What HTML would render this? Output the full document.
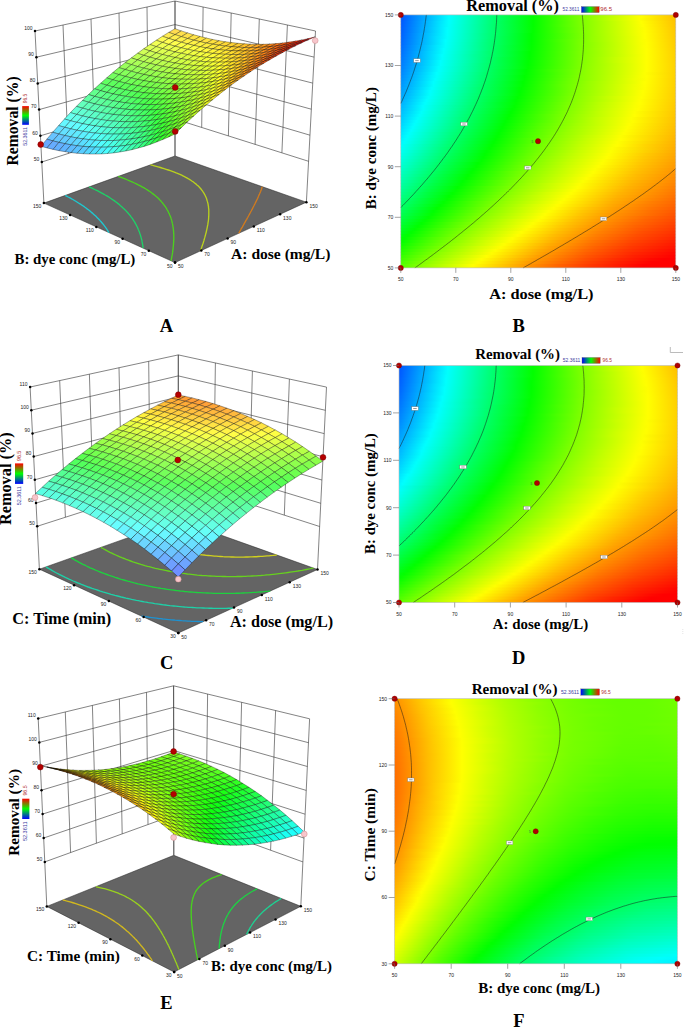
<!DOCTYPE html>
<html><head><meta charset="utf-8"><style>html,body{margin:0;padding:0;background:#fff;width:685px;height:1027px;overflow:hidden}svg{display:block}</style></head>
<body><svg width="685" height="1027" viewBox="0 0 685 1027"><defs><linearGradient id="g1"><stop offset="0" stop-color="#0055ff"/><stop offset=".175" stop-color="#00ffff"/><stop offset=".35" stop-color="#00ff65"/><stop offset=".481" stop-color="#02ff00"/><stop offset=".638" stop-color="#72ff00"/><stop offset=".863" stop-color="#faff00"/><stop offset=".875" stop-color="#fffe00"/><stop offset="1" stop-color="#ffbf00"/></linearGradient><linearGradient id="g2"><stop offset="0" stop-color="#0056ff"/><stop offset=".175" stop-color="#00fffe"/><stop offset=".338" stop-color="#00ff6f"/><stop offset=".481" stop-color="#02ff00"/><stop offset=".625" stop-color="#69ff00"/><stop offset=".763" stop-color="#c0ff00"/><stop offset=".869" stop-color="#fcff00"/><stop offset="1" stop-color="#ffc100"/></linearGradient><linearGradient id="g3"><stop offset="0" stop-color="#0058ff"/><stop offset=".138" stop-color="#00dfff"/><stop offset=".175" stop-color="#00fffd"/><stop offset=".356" stop-color="#00ff5f"/><stop offset=".481" stop-color="#02ff00"/><stop offset=".656" stop-color="#7dff00"/><stop offset=".875" stop-color="#feff00"/><stop offset="1" stop-color="#ffc300"/></linearGradient><linearGradient id="g4"><stop offset="0" stop-color="#005aff"/><stop offset=".15" stop-color="#00ecff"/><stop offset=".175" stop-color="#00fffb"/><stop offset=".331" stop-color="#00ff73"/><stop offset=".481" stop-color="#02ff00"/><stop offset=".594" stop-color="#53ff00"/><stop offset=".688" stop-color="#90ff00"/><stop offset=".863" stop-color="#f6ff00"/><stop offset=".881" stop-color="#fffe00"/><stop offset="1" stop-color="#ffc400"/></linearGradient><linearGradient id="g5"><stop offset="0" stop-color="#005cff"/><stop offset=".125" stop-color="#00d6ff"/><stop offset=".169" stop-color="#00feff"/><stop offset=".175" stop-color="#00fffa"/><stop offset=".338" stop-color="#00ff6d"/><stop offset=".481" stop-color="#03ff00"/><stop offset=".688" stop-color="#90ff00"/><stop offset=".863" stop-color="#f5ff00"/><stop offset=".888" stop-color="#fffc00"/><stop offset="1" stop-color="#ffc600"/></linearGradient><linearGradient id="g6"><stop offset="0" stop-color="#005eff"/><stop offset=".169" stop-color="#00fffe"/><stop offset=".35" stop-color="#00ff62"/><stop offset=".481" stop-color="#03ff00"/><stop offset=".6" stop-color="#57ff00"/><stop offset=".713" stop-color="#9fff00"/><stop offset=".863" stop-color="#f4ff00"/><stop offset=".888" stop-color="#fffe00"/><stop offset="1" stop-color="#ffc800"/></linearGradient><linearGradient id="g7"><stop offset="0" stop-color="#0060ff"/><stop offset=".094" stop-color="#00bcff"/><stop offset=".169" stop-color="#00fffd"/><stop offset=".306" stop-color="#00ff85"/><stop offset=".475" stop-color="#00ff01"/><stop offset=".7" stop-color="#97ff00"/><stop offset=".863" stop-color="#f3ff00"/><stop offset=".888" stop-color="#ffff00"/><stop offset="1" stop-color="#ffc900"/></linearGradient><linearGradient id="g8"><stop offset="0" stop-color="#0062ff"/><stop offset=".131" stop-color="#00e1ff"/><stop offset=".169" stop-color="#00fffb"/><stop offset=".356" stop-color="#00ff5b"/><stop offset=".475" stop-color="#00ff01"/><stop offset=".694" stop-color="#93ff00"/><stop offset=".888" stop-color="#ffff00"/><stop offset="1" stop-color="#ffca00"/></linearGradient><linearGradient id="g9"><stop offset="0" stop-color="#0065ff"/><stop offset=".163" stop-color="#00ffff"/><stop offset=".331" stop-color="#00ff6e"/><stop offset=".475" stop-color="#00ff00"/><stop offset=".581" stop-color="#4bff00"/><stop offset=".694" stop-color="#93ff00"/><stop offset=".875" stop-color="#f8ff00"/><stop offset=".894" stop-color="#fffd00"/><stop offset="1" stop-color="#ffcb00"/></linearGradient><linearGradient id="g10"><stop offset="0" stop-color="#0067ff"/><stop offset=".163" stop-color="#00fffd"/><stop offset=".306" stop-color="#00ff81"/><stop offset=".475" stop-color="#01ff00"/><stop offset=".65" stop-color="#78ff00"/><stop offset=".863" stop-color="#f1ff00"/><stop offset=".894" stop-color="#fffe00"/><stop offset="1" stop-color="#ffcc00"/></linearGradient><linearGradient id="g11"><stop offset="0" stop-color="#006aff"/><stop offset=".131" stop-color="#00e7ff"/><stop offset=".163" stop-color="#00fffb"/><stop offset=".288" stop-color="#00ff8f"/><stop offset=".388" stop-color="#00ff3f"/><stop offset=".475" stop-color="#02ff00"/><stop offset=".663" stop-color="#80ff00"/><stop offset=".881" stop-color="#faff00"/><stop offset=".894" stop-color="#fffe00"/><stop offset="1" stop-color="#ffcd00"/></linearGradient><linearGradient id="g12"><stop offset="0" stop-color="#006dff"/><stop offset=".156" stop-color="#00fffe"/><stop offset=".363" stop-color="#00ff51"/><stop offset=".475" stop-color="#03ff00"/><stop offset=".675" stop-color="#88ff00"/><stop offset=".863" stop-color="#f0ff00"/><stop offset=".894" stop-color="#ffff00"/><stop offset="1" stop-color="#ffce00"/></linearGradient><linearGradient id="g13"><stop offset="0" stop-color="#006fff"/><stop offset=".1" stop-color="#00cfff"/><stop offset=".156" stop-color="#00fffc"/><stop offset=".319" stop-color="#00ff72"/><stop offset=".469" stop-color="#00ff00"/><stop offset=".656" stop-color="#7dff00"/><stop offset=".863" stop-color="#f0ff00"/><stop offset=".894" stop-color="#ffff00"/><stop offset="1" stop-color="#ffcf00"/></linearGradient><linearGradient id="g14"><stop offset="0" stop-color="#0072ff"/><stop offset=".15" stop-color="#00ffff"/><stop offset=".269" stop-color="#00ff99"/><stop offset=".469" stop-color="#01ff00"/><stop offset=".675" stop-color="#89ff00"/><stop offset=".894" stop-color="#ffff00"/><stop offset="1" stop-color="#ffd000"/></linearGradient><linearGradient id="g15"><stop offset="0" stop-color="#0075ff"/><stop offset=".15" stop-color="#00fffd"/><stop offset=".356" stop-color="#00ff51"/><stop offset=".469" stop-color="#02ff00"/><stop offset=".669" stop-color="#86ff00"/><stop offset=".781" stop-color="#c6ff00"/><stop offset=".894" stop-color="#ffff00"/><stop offset="1" stop-color="#ffd000"/></linearGradient><linearGradient id="g16"><stop offset="0" stop-color="#0079ff"/><stop offset=".144" stop-color="#00feff"/><stop offset=".356" stop-color="#00ff4f"/><stop offset=".463" stop-color="#00ff01"/><stop offset=".663" stop-color="#83ff00"/><stop offset=".775" stop-color="#c3ff00"/><stop offset=".894" stop-color="#ffff00"/><stop offset="1" stop-color="#ffd000"/></linearGradient><linearGradient id="g17"><stop offset="0" stop-color="#007cff"/><stop offset=".144" stop-color="#00fffd"/><stop offset=".3" stop-color="#00ff79"/><stop offset=".463" stop-color="#01ff00"/><stop offset=".681" stop-color="#8fff00"/><stop offset=".894" stop-color="#ffff00"/><stop offset="1" stop-color="#ffd100"/></linearGradient><linearGradient id="g18"><stop offset="0" stop-color="#007fff"/><stop offset=".138" stop-color="#00feff"/><stop offset=".325" stop-color="#00ff63"/><stop offset=".463" stop-color="#03ff00"/><stop offset=".681" stop-color="#90ff00"/><stop offset=".894" stop-color="#ffff00"/><stop offset="1" stop-color="#ffd100"/></linearGradient><linearGradient id="g19"><stop offset="0" stop-color="#0083ff"/><stop offset=".138" stop-color="#00fffd"/><stop offset=".338" stop-color="#00ff57"/><stop offset=".456" stop-color="#00ff00"/><stop offset=".537" stop-color="#38ff00"/><stop offset=".681" stop-color="#91ff00"/><stop offset=".894" stop-color="#ffff00"/><stop offset="1" stop-color="#ffd100"/></linearGradient><linearGradient id="g20"><stop offset="0" stop-color="#0086ff"/><stop offset=".131" stop-color="#00ffff"/><stop offset=".312" stop-color="#00ff68"/><stop offset=".456" stop-color="#02ff00"/><stop offset=".669" stop-color="#8bff00"/><stop offset=".888" stop-color="#fdff00"/><stop offset="1" stop-color="#ffd100"/></linearGradient><linearGradient id="g21"><stop offset="0" stop-color="#008aff"/><stop offset=".113" stop-color="#00f2ff"/><stop offset=".131" stop-color="#00fffc"/><stop offset=".294" stop-color="#00ff74"/><stop offset=".45" stop-color="#00ff00"/><stop offset=".656" stop-color="#85ff00"/><stop offset=".875" stop-color="#f8ff00"/><stop offset=".894" stop-color="#fffe00"/><stop offset="1" stop-color="#ffd100"/></linearGradient><linearGradient id="g22"><stop offset="0" stop-color="#008eff"/><stop offset=".125" stop-color="#00fffe"/><stop offset=".325" stop-color="#00ff59"/><stop offset=".45" stop-color="#02ff00"/><stop offset=".625" stop-color="#74ff00"/><stop offset=".85" stop-color="#edff00"/><stop offset=".894" stop-color="#fffd00"/><stop offset="1" stop-color="#ffd000"/></linearGradient><linearGradient id="g23"><stop offset="0" stop-color="#0092ff"/><stop offset=".119" stop-color="#00feff"/><stop offset=".319" stop-color="#00ff5b"/><stop offset=".444" stop-color="#00ff00"/><stop offset=".588" stop-color="#5fff00"/><stop offset=".688" stop-color="#9aff00"/><stop offset=".888" stop-color="#ffff00"/><stop offset="1" stop-color="#ffd000"/></linearGradient><linearGradient id="g24"><stop offset="0" stop-color="#0096ff"/><stop offset=".119" stop-color="#00fffc"/><stop offset=".312" stop-color="#00ff5d"/><stop offset=".444" stop-color="#02ff00"/><stop offset=".581" stop-color="#5dff00"/><stop offset=".669" stop-color="#91ff00"/><stop offset=".844" stop-color="#ecff00"/><stop offset=".888" stop-color="#fffe00"/><stop offset="1" stop-color="#ffd000"/></linearGradient><linearGradient id="g25"><stop offset="0" stop-color="#009aff"/><stop offset=".113" stop-color="#00fffe"/><stop offset=".281" stop-color="#00ff72"/><stop offset=".438" stop-color="#01ff00"/><stop offset=".65" stop-color="#88ff00"/><stop offset=".85" stop-color="#f0ff00"/><stop offset=".888" stop-color="#fffd00"/><stop offset="1" stop-color="#ffcf00"/></linearGradient><linearGradient id="g26"><stop offset="0" stop-color="#009eff"/><stop offset=".106" stop-color="#00feff"/><stop offset=".288" stop-color="#00ff6a"/><stop offset=".431" stop-color="#00ff01"/><stop offset=".65" stop-color="#8aff00"/><stop offset=".863" stop-color="#f7ff00"/><stop offset=".881" stop-color="#ffff00"/><stop offset="1" stop-color="#ffce00"/></linearGradient><linearGradient id="g27"><stop offset="0" stop-color="#00a3ff"/><stop offset=".106" stop-color="#00fffc"/><stop offset=".263" stop-color="#00ff7a"/><stop offset=".431" stop-color="#02ff00"/><stop offset=".65" stop-color="#8cff00"/><stop offset=".869" stop-color="#fbff00"/><stop offset=".881" stop-color="#fffe00"/><stop offset="1" stop-color="#ffcd00"/></linearGradient><linearGradient id="g28"><stop offset="0" stop-color="#00a7ff"/><stop offset=".1" stop-color="#00fffd"/><stop offset=".281" stop-color="#00ff68"/><stop offset=".425" stop-color="#01ff00"/><stop offset=".625" stop-color="#80ff00"/><stop offset=".75" stop-color="#c4ff00"/><stop offset=".85" stop-color="#f4ff00"/><stop offset=".875" stop-color="#ffff00"/><stop offset="1" stop-color="#ffcd00"/></linearGradient><linearGradient id="g29"><stop offset="0" stop-color="#00acff"/><stop offset=".094" stop-color="#00fffe"/><stop offset=".269" stop-color="#00ff6e"/><stop offset=".419" stop-color="#00ff01"/><stop offset=".644" stop-color="#8dff00"/><stop offset=".869" stop-color="#feff00"/><stop offset="1" stop-color="#ffcc00"/></linearGradient><linearGradient id="g30"><stop offset="0" stop-color="#00b0ff"/><stop offset=".088" stop-color="#00ffff"/><stop offset=".263" stop-color="#00ff6f"/><stop offset=".369" stop-color="#00ff20"/><stop offset=".419" stop-color="#03ff00"/><stop offset=".606" stop-color="#7aff00"/><stop offset=".719" stop-color="#b8ff00"/><stop offset=".856" stop-color="#faff00"/><stop offset=".869" stop-color="#ffff00"/><stop offset="1" stop-color="#ffca00"/></linearGradient><linearGradient id="g31"><stop offset="0" stop-color="#00b5ff"/><stop offset=".081" stop-color="#00feff"/><stop offset=".256" stop-color="#00ff70"/><stop offset=".413" stop-color="#02ff00"/><stop offset=".6" stop-color="#79ff00"/><stop offset=".713" stop-color="#b7ff00"/><stop offset=".85" stop-color="#f9ff00"/><stop offset=".869" stop-color="#fffd00"/><stop offset="1" stop-color="#ffc900"/></linearGradient><linearGradient id="g32"><stop offset="0" stop-color="#00baff"/><stop offset=".081" stop-color="#00fffc"/><stop offset=".256" stop-color="#00ff6c"/><stop offset=".406" stop-color="#01ff00"/><stop offset=".613" stop-color="#83ff00"/><stop offset=".738" stop-color="#c6ff00"/><stop offset=".85" stop-color="#fbff00"/><stop offset=".863" stop-color="#fffe00"/><stop offset="1" stop-color="#ffc800"/></linearGradient><linearGradient id="g33"><stop offset="0" stop-color="#00bfff"/><stop offset=".075" stop-color="#00fffc"/><stop offset=".219" stop-color="#00ff85"/><stop offset=".4" stop-color="#00ff00"/><stop offset=".594" stop-color="#7bff00"/><stop offset=".719" stop-color="#bfff00"/><stop offset=".85" stop-color="#fdff00"/><stop offset="1" stop-color="#ffc600"/></linearGradient><linearGradient id="g34"><stop offset="0" stop-color="#00c4ff"/><stop offset=".069" stop-color="#00fffd"/><stop offset=".238" stop-color="#00ff72"/><stop offset=".394" stop-color="#00ff00"/><stop offset=".531" stop-color="#59ff00"/><stop offset=".656" stop-color="#a1ff00"/><stop offset=".85" stop-color="#ffff00"/><stop offset="1" stop-color="#ffc500"/></linearGradient><linearGradient id="g35"><stop offset="0" stop-color="#00c9ff"/><stop offset=".062" stop-color="#00fffd"/><stop offset=".213" stop-color="#00ff81"/><stop offset=".388" stop-color="#00ff01"/><stop offset=".594" stop-color="#81ff00"/><stop offset=".706" stop-color="#beff00"/><stop offset=".838" stop-color="#fcff00"/><stop offset="1" stop-color="#ffc300"/></linearGradient><linearGradient id="g36"><stop offset="0" stop-color="#00cfff"/><stop offset=".056" stop-color="#00fffe"/><stop offset=".231" stop-color="#00ff6e"/><stop offset=".381" stop-color="#00ff01"/><stop offset=".588" stop-color="#81ff00"/><stop offset=".713" stop-color="#c4ff00"/><stop offset=".825" stop-color="#f9ff00"/><stop offset=".844" stop-color="#fffd00"/><stop offset="1" stop-color="#ffc100"/></linearGradient><linearGradient id="g37"><stop offset="0" stop-color="#00d4ff"/><stop offset=".05" stop-color="#00fffe"/><stop offset=".225" stop-color="#00ff6e"/><stop offset=".375" stop-color="#00ff01"/><stop offset=".519" stop-color="#5cff00"/><stop offset=".638" stop-color="#a0ff00"/><stop offset=".831" stop-color="#feff00"/><stop offset="1" stop-color="#ffbf00"/></linearGradient><linearGradient id="g38"><stop offset="0" stop-color="#00daff"/><stop offset=".044" stop-color="#00fffe"/><stop offset=".213" stop-color="#00ff73"/><stop offset=".369" stop-color="#00ff01"/><stop offset=".506" stop-color="#58ff00"/><stop offset=".631" stop-color="#a0ff00"/><stop offset=".825" stop-color="#feff00"/><stop offset="1" stop-color="#ffbd00"/></linearGradient><linearGradient id="g39"><stop offset="0" stop-color="#00e0ff"/><stop offset=".038" stop-color="#00fffe"/><stop offset=".213" stop-color="#00ff6e"/><stop offset=".363" stop-color="#00ff01"/><stop offset=".506" stop-color="#5cff00"/><stop offset=".625" stop-color="#a0ff00"/><stop offset=".819" stop-color="#feff00"/><stop offset="1" stop-color="#ffbb00"/></linearGradient><linearGradient id="g40"><stop offset="0" stop-color="#00e5ff"/><stop offset=".031" stop-color="#00fffd"/><stop offset=".175" stop-color="#00ff86"/><stop offset=".356" stop-color="#00ff01"/><stop offset=".469" stop-color="#49ff00"/><stop offset=".6" stop-color="#96ff00"/><stop offset=".812" stop-color="#feff00"/><stop offset="1" stop-color="#ffb900"/></linearGradient><linearGradient id="g41"><stop offset="0" stop-color="#00ebff"/><stop offset=".025" stop-color="#00fffd"/><stop offset=".188" stop-color="#00ff77"/><stop offset=".35" stop-color="#00ff01"/><stop offset=".562" stop-color="#85ff00"/><stop offset=".669" stop-color="#beff00"/><stop offset=".8" stop-color="#fcff00"/><stop offset="1" stop-color="#ffb600"/></linearGradient><linearGradient id="g42"><stop offset="0" stop-color="#00f1ff"/><stop offset=".019" stop-color="#00fffc"/><stop offset=".2" stop-color="#00ff68"/><stop offset=".344" stop-color="#00ff00"/><stop offset=".45" stop-color="#46ff00"/><stop offset=".575" stop-color="#90ff00"/><stop offset=".681" stop-color="#c8ff00"/><stop offset=".8" stop-color="#ffff00"/><stop offset="1" stop-color="#ffb400"/></linearGradient><linearGradient id="g43"><stop offset="0" stop-color="#00f7ff"/><stop offset=".013" stop-color="#00fffc"/><stop offset=".181" stop-color="#00ff71"/><stop offset=".338" stop-color="#00ff00"/><stop offset=".55" stop-color="#86ff00"/><stop offset=".65" stop-color="#bcff00"/><stop offset=".788" stop-color="#fdff00"/><stop offset="1" stop-color="#ffb100"/></linearGradient><linearGradient id="g44"><stop offset="0" stop-color="#00feff"/><stop offset=".163" stop-color="#00ff7a"/><stop offset=".331" stop-color="#01ff00"/><stop offset=".525" stop-color="#7cff00"/><stop offset=".65" stop-color="#c0ff00"/><stop offset=".775" stop-color="#fbff00"/><stop offset=".788" stop-color="#fffe00"/><stop offset=".888" stop-color="#ffd500"/><stop offset="1" stop-color="#ffaf00"/></linearGradient><linearGradient id="g45"><stop offset="0" stop-color="#00fffa"/><stop offset=".156" stop-color="#00ff79"/><stop offset=".325" stop-color="#02ff00"/><stop offset=".519" stop-color="#7dff00"/><stop offset=".65" stop-color="#c4ff00"/><stop offset=".769" stop-color="#fcff00"/><stop offset="1" stop-color="#ffac00"/></linearGradient><linearGradient id="g46"><stop offset="0" stop-color="#00fff4"/><stop offset=".15" stop-color="#00ff78"/><stop offset=".312" stop-color="#00ff01"/><stop offset=".513" stop-color="#7eff00"/><stop offset=".644" stop-color="#c5ff00"/><stop offset=".763" stop-color="#fdff00"/><stop offset="1" stop-color="#ffa900"/></linearGradient><linearGradient id="g47"><stop offset="0" stop-color="#00ffed"/><stop offset=".15" stop-color="#00ff72"/><stop offset=".306" stop-color="#00ff00"/><stop offset=".506" stop-color="#7fff00"/><stop offset=".631" stop-color="#c3ff00"/><stop offset=".756" stop-color="#feff00"/><stop offset=".894" stop-color="#ffc900"/><stop offset="1" stop-color="#ffa600"/></linearGradient><linearGradient id="g48"><stop offset="0" stop-color="#00ffe6"/><stop offset=".156" stop-color="#00ff67"/><stop offset=".3" stop-color="#01ff00"/><stop offset=".506" stop-color="#84ff00"/><stop offset=".619" stop-color="#c1ff00"/><stop offset=".75" stop-color="#ffff00"/><stop offset=".881" stop-color="#ffca00"/><stop offset="1" stop-color="#ffa300"/></linearGradient><linearGradient id="g49"><stop offset="0" stop-color="#00ffe0"/><stop offset=".163" stop-color="#00ff5c"/><stop offset=".294" stop-color="#03ff00"/><stop offset=".506" stop-color="#89ff00"/><stop offset=".631" stop-color="#ccff00"/><stop offset=".738" stop-color="#feff00"/><stop offset=".888" stop-color="#ffc400"/><stop offset="1" stop-color="#ffa000"/></linearGradient><linearGradient id="g50"><stop offset="0" stop-color="#00ffd9"/><stop offset=".144" stop-color="#00ff64"/><stop offset=".281" stop-color="#00ff00"/><stop offset=".494" stop-color="#87ff00"/><stop offset=".606" stop-color="#c4ff00"/><stop offset=".731" stop-color="#ffff00"/><stop offset=".869" stop-color="#ffc700"/><stop offset="1" stop-color="#ff9c00"/></linearGradient><linearGradient id="g51"><stop offset="0" stop-color="#00ffd2"/><stop offset=".156" stop-color="#00ff54"/><stop offset=".275" stop-color="#02ff00"/><stop offset=".481" stop-color="#85ff00"/><stop offset=".613" stop-color="#ccff00"/><stop offset=".719" stop-color="#feff00"/><stop offset=".869" stop-color="#ffc300"/><stop offset="1" stop-color="#ff9900"/></linearGradient><linearGradient id="g52"><stop offset="0" stop-color="#00ffcb"/><stop offset=".113" stop-color="#00ff6f"/><stop offset=".263" stop-color="#00ff01"/><stop offset=".488" stop-color="#8eff00"/><stop offset=".613" stop-color="#d1ff00"/><stop offset=".706" stop-color="#fdff00"/><stop offset=".869" stop-color="#ffbf00"/><stop offset="1" stop-color="#ff9500"/></linearGradient><linearGradient id="g53"><stop offset="0" stop-color="#00ffc3"/><stop offset=".138" stop-color="#00ff55"/><stop offset=".256" stop-color="#01ff00"/><stop offset=".394" stop-color="#5cff00"/><stop offset=".481" stop-color="#90ff00"/><stop offset=".7" stop-color="#ffff00"/><stop offset=".844" stop-color="#ffc400"/><stop offset="1" stop-color="#ff9200"/></linearGradient><linearGradient id="g54"><stop offset="0" stop-color="#00ffbc"/><stop offset=".138" stop-color="#00ff4e"/><stop offset=".244" stop-color="#00ff01"/><stop offset=".475" stop-color="#92ff00"/><stop offset=".688" stop-color="#feff00"/><stop offset=".856" stop-color="#ffbb00"/><stop offset="1" stop-color="#ff8e00"/></linearGradient><linearGradient id="g55"><stop offset="0" stop-color="#00ffb5"/><stop offset=".106" stop-color="#00ff5f"/><stop offset=".238" stop-color="#01ff00"/><stop offset=".456" stop-color="#8dff00"/><stop offset=".675" stop-color="#feff00"/><stop offset=".825" stop-color="#ffc200"/><stop offset="1" stop-color="#ff8a00"/></linearGradient><linearGradient id="g56"><stop offset="0" stop-color="#00ffad"/><stop offset=".113" stop-color="#00ff53"/><stop offset=".225" stop-color="#00ff01"/><stop offset=".35" stop-color="#53ff00"/><stop offset=".456" stop-color="#93ff00"/><stop offset=".663" stop-color="#fdff00"/><stop offset=".831" stop-color="#ffbb00"/><stop offset="1" stop-color="#ff8600"/></linearGradient><linearGradient id="g57"><stop offset="0" stop-color="#00ffa5"/><stop offset=".119" stop-color="#00ff47"/><stop offset=".219" stop-color="#02ff00"/><stop offset=".425" stop-color="#87ff00"/><stop offset=".525" stop-color="#bfff00"/><stop offset=".65" stop-color="#fdff00"/><stop offset=".844" stop-color="#ffb200"/><stop offset="1" stop-color="#ff8200"/></linearGradient><linearGradient id="g58"><stop offset="0" stop-color="#00ff9e"/><stop offset=".106" stop-color="#00ff49"/><stop offset=".206" stop-color="#00ff00"/><stop offset=".312" stop-color="#48ff00"/><stop offset=".444" stop-color="#98ff00"/><stop offset=".644" stop-color="#ffff00"/><stop offset=".819" stop-color="#ffb600"/><stop offset="1" stop-color="#ff7d00"/></linearGradient><linearGradient id="g59"><stop offset="0" stop-color="#00ff96"/><stop offset=".113" stop-color="#00ff3d"/><stop offset=".2" stop-color="#03ff00"/><stop offset=".419" stop-color="#90ff00"/><stop offset=".631" stop-color="#ffff00"/><stop offset=".819" stop-color="#ffb100"/><stop offset="1" stop-color="#ff7900"/></linearGradient><linearGradient id="g60"><stop offset="0" stop-color="#00ff8e"/><stop offset=".106" stop-color="#00ff3a"/><stop offset=".188" stop-color="#01ff00"/><stop offset=".388" stop-color="#84ff00"/><stop offset=".525" stop-color="#d1ff00"/><stop offset=".619" stop-color="#ffff00"/><stop offset=".794" stop-color="#ffb500"/><stop offset="1" stop-color="#ff7500"/></linearGradient><linearGradient id="g61"><stop offset="0" stop-color="#00ff86"/><stop offset=".175" stop-color="#00ff00"/><stop offset=".381" stop-color="#87ff00"/><stop offset=".481" stop-color="#c0ff00"/><stop offset=".606" stop-color="#ffff00"/><stop offset=".788" stop-color="#ffb200"/><stop offset="1" stop-color="#ff7000"/></linearGradient><linearGradient id="g62"><stop offset="0" stop-color="#00ff7d"/><stop offset=".1" stop-color="#00ff2f"/><stop offset=".169" stop-color="#03ff00"/><stop offset=".381" stop-color="#8eff00"/><stop offset=".594" stop-color="#ffff00"/><stop offset=".781" stop-color="#ffaf00"/><stop offset="1" stop-color="#ff6b00"/></linearGradient><linearGradient id="g63"><stop offset="0" stop-color="#00ff75"/><stop offset=".156" stop-color="#02ff00"/><stop offset=".263" stop-color="#4bff00"/><stop offset=".381" stop-color="#95ff00"/><stop offset=".581" stop-color="#ffff00"/><stop offset=".769" stop-color="#ffae00"/><stop offset=".913" stop-color="#ff7e00"/><stop offset="1" stop-color="#ff6700"/></linearGradient><linearGradient id="g64"><stop offset="0" stop-color="#00ff6d"/><stop offset=".144" stop-color="#01ff00"/><stop offset=".363" stop-color="#91ff00"/><stop offset=".481" stop-color="#d4ff00"/><stop offset=".569" stop-color="#fffe00"/><stop offset=".775" stop-color="#ffa600"/><stop offset=".875" stop-color="#ff8400"/><stop offset="1" stop-color="#ff6200"/></linearGradient><linearGradient id="g65"><stop offset="0" stop-color="#00ff64"/><stop offset=".131" stop-color="#00ff00"/><stop offset=".344" stop-color="#8dff00"/><stop offset=".45" stop-color="#caff00"/><stop offset=".556" stop-color="#fffe00"/><stop offset=".669" stop-color="#ffca00"/><stop offset=".781" stop-color="#ff9e00"/><stop offset=".9" stop-color="#ff7700"/><stop offset="1" stop-color="#ff5d00"/></linearGradient><linearGradient id="g66"><stop offset="0" stop-color="#00ff5b"/><stop offset=".119" stop-color="#00ff01"/><stop offset=".325" stop-color="#89ff00"/><stop offset=".537" stop-color="#feff00"/><stop offset=".656" stop-color="#ffc900"/><stop offset=".781" stop-color="#ff9800"/><stop offset=".913" stop-color="#ff6e00"/><stop offset="1" stop-color="#ff5800"/></linearGradient><linearGradient id="g67"><stop offset="0" stop-color="#00ff53"/><stop offset=".113" stop-color="#03ff00"/><stop offset=".312" stop-color="#89ff00"/><stop offset=".525" stop-color="#ffff00"/><stop offset=".663" stop-color="#ffc000"/><stop offset=".781" stop-color="#ff9200"/><stop offset="1" stop-color="#ff5200"/></linearGradient><linearGradient id="g68"><stop offset="0" stop-color="#00ff4a"/><stop offset=".1" stop-color="#02ff00"/><stop offset=".306" stop-color="#8dff00"/><stop offset=".513" stop-color="#ffff00"/><stop offset=".638" stop-color="#ffc400"/><stop offset=".756" stop-color="#ff9500"/><stop offset=".888" stop-color="#ff6a00"/><stop offset="1" stop-color="#ff4d00"/></linearGradient><linearGradient id="g69"><stop offset="0" stop-color="#00ff41"/><stop offset=".088" stop-color="#02ff00"/><stop offset=".3" stop-color="#91ff00"/><stop offset=".419" stop-color="#d6ff00"/><stop offset=".5" stop-color="#fffe00"/><stop offset=".631" stop-color="#ffc000"/><stop offset=".75" stop-color="#ff9100"/><stop offset=".888" stop-color="#ff6400"/><stop offset="1" stop-color="#ff4800"/></linearGradient><linearGradient id="g70"><stop offset="0" stop-color="#00ff38"/><stop offset=".075" stop-color="#01ff00"/><stop offset=".194" stop-color="#55ff00"/><stop offset=".3" stop-color="#99ff00"/><stop offset=".481" stop-color="#feff00"/><stop offset=".606" stop-color="#ffc400"/><stop offset=".738" stop-color="#ff8f00"/><stop offset=".844" stop-color="#ff6b00"/><stop offset="1" stop-color="#ff4200"/></linearGradient><linearGradient id="g71"><stop offset="0" stop-color="#00ff2e"/><stop offset=".062" stop-color="#01ff00"/><stop offset=".269" stop-color="#8eff00"/><stop offset=".469" stop-color="#ffff00"/><stop offset=".581" stop-color="#ffc800"/><stop offset=".725" stop-color="#ff8d00"/><stop offset=".85" stop-color="#ff6300"/><stop offset="1" stop-color="#ff3c00"/></linearGradient><linearGradient id="g72"><stop offset="0" stop-color="#00ff25"/><stop offset=".05" stop-color="#01ff00"/><stop offset=".156" stop-color="#4dff00"/><stop offset=".281" stop-color="#9eff00"/><stop offset=".456" stop-color="#fffd00"/><stop offset=".588" stop-color="#ffbe00"/><stop offset=".731" stop-color="#ff8400"/><stop offset=".863" stop-color="#ff5900"/><stop offset="1" stop-color="#ff3700"/></linearGradient><linearGradient id="g73"><stop offset="0" stop-color="#00ff1c"/><stop offset=".038" stop-color="#01ff00"/><stop offset=".138" stop-color="#49ff00"/><stop offset=".263" stop-color="#9bff00"/><stop offset=".438" stop-color="#ffff00"/><stop offset=".569" stop-color="#ffbf00"/><stop offset=".713" stop-color="#ff8400"/><stop offset=".875" stop-color="#ff4f00"/><stop offset="1" stop-color="#ff3100"/></linearGradient><linearGradient id="g74"><stop offset="0" stop-color="#00ff12"/><stop offset=".025" stop-color="#01ff00"/><stop offset=".238" stop-color="#94ff00"/><stop offset=".425" stop-color="#fffe00"/><stop offset=".556" stop-color="#ffbd00"/><stop offset=".713" stop-color="#ff7d00"/><stop offset=".856" stop-color="#ff4e00"/><stop offset="1" stop-color="#ff2b00"/></linearGradient><linearGradient id="g75"><stop offset="0" stop-color="#00ff08"/><stop offset=".013" stop-color="#01ff00"/><stop offset=".113" stop-color="#4aff00"/><stop offset=".269" stop-color="#b0ff00"/><stop offset=".406" stop-color="#feff00"/><stop offset=".544" stop-color="#ffbb00"/><stop offset=".688" stop-color="#ff7f00"/><stop offset=".844" stop-color="#ff4b00"/><stop offset="1" stop-color="#ff2500"/></linearGradient><linearGradient id="g76"><stop offset="0" stop-color="#01ff00"/><stop offset=".156" stop-color="#71ff00"/><stop offset=".312" stop-color="#d3ff00"/><stop offset=".394" stop-color="#fffe00"/><stop offset=".569" stop-color="#ffa800"/><stop offset=".706" stop-color="#ff7100"/><stop offset=".838" stop-color="#ff4600"/><stop offset="1" stop-color="#ff1e00"/></linearGradient><linearGradient id="g77"><stop offset="0" stop-color="#0bff00"/><stop offset=".188" stop-color="#8fff00"/><stop offset=".375" stop-color="#feff00"/><stop offset=".531" stop-color="#ffb100"/><stop offset=".694" stop-color="#ff6e00"/><stop offset=".838" stop-color="#ff3f00"/><stop offset="1" stop-color="#ff1800"/></linearGradient><linearGradient id="g78"><stop offset="0" stop-color="#15ff00"/><stop offset=".163" stop-color="#88ff00"/><stop offset=".288" stop-color="#d6ff00"/><stop offset=".363" stop-color="#fffe00"/><stop offset=".537" stop-color="#ffa600"/><stop offset=".706" stop-color="#ff6200"/><stop offset=".838" stop-color="#ff3800"/><stop offset="1" stop-color="#ff1200"/></linearGradient><linearGradient id="g79"><stop offset="0" stop-color="#1fff00"/><stop offset=".138" stop-color="#81ff00"/><stop offset=".344" stop-color="#ffff00"/><stop offset=".5" stop-color="#ffaf00"/><stop offset=".669" stop-color="#ff6800"/><stop offset=".812" stop-color="#ff3800"/><stop offset="1" stop-color="#ff0b00"/></linearGradient><linearGradient id="g80"><stop offset="0" stop-color="#29ff00"/><stop offset=".15" stop-color="#93ff00"/><stop offset=".331" stop-color="#fffd00"/><stop offset=".519" stop-color="#ff9e00"/><stop offset=".675" stop-color="#ff5e00"/><stop offset=".844" stop-color="#ff2800"/><stop offset="1" stop-color="#ff0500"/></linearGradient><linearGradient id="g81"><stop offset="0" stop-color="#34ff00"/><stop offset=".119" stop-color="#88ff00"/><stop offset=".312" stop-color="#ffff00"/><stop offset=".5" stop-color="#ff9e00"/><stop offset=".675" stop-color="#ff5600"/><stop offset=".85" stop-color="#ff1f00"/><stop offset="1" stop-color="#ff0000"/></linearGradient><linearGradient id="g82"><stop offset="0" stop-color="#3eff00"/><stop offset=".119" stop-color="#92ff00"/><stop offset=".294" stop-color="#feff00"/><stop offset=".481" stop-color="#ff9e00"/><stop offset=".675" stop-color="#ff4e00"/><stop offset=".788" stop-color="#ff2900"/><stop offset=".906" stop-color="#ff0a00"/><stop offset=".956" stop-color="#ff0000"/><stop offset="1" stop-color="#ff0000"/></linearGradient><linearGradient id="g83"><stop offset="0" stop-color="#49ff00"/><stop offset=".119" stop-color="#9cff00"/><stop offset=".281" stop-color="#fffe00"/><stop offset=".463" stop-color="#ff9e00"/><stop offset=".669" stop-color="#ff4800"/><stop offset=".775" stop-color="#ff2500"/><stop offset=".913" stop-color="#ff0100"/><stop offset="1" stop-color="#ff0000"/></linearGradient><linearGradient id="g84"><stop offset="0" stop-color="#53ff00"/><stop offset=".106" stop-color="#9eff00"/><stop offset=".263" stop-color="#ffff00"/><stop offset=".463" stop-color="#ff9500"/><stop offset=".581" stop-color="#ff6100"/><stop offset=".694" stop-color="#ff3700"/><stop offset=".881" stop-color="#ff0100"/><stop offset="1" stop-color="#ff0000"/></linearGradient><linearGradient id="g85"><stop offset="0" stop-color="#5aff00"/><stop offset=".113" stop-color="#a9ff00"/><stop offset=".25" stop-color="#ffff00"/><stop offset=".469" stop-color="#ff8c00"/><stop offset=".675" stop-color="#ff3800"/><stop offset=".856" stop-color="#ff0200"/><stop offset="1" stop-color="#ff0000"/></linearGradient><linearGradient id="g86"><stop offset="0" stop-color="#0055ff"/><stop offset=".175" stop-color="#00ffff"/><stop offset=".35" stop-color="#00ff65"/><stop offset=".481" stop-color="#02ff00"/><stop offset=".644" stop-color="#76ff00"/><stop offset=".863" stop-color="#faff00"/><stop offset=".875" stop-color="#fffe00"/><stop offset="1" stop-color="#ffbf00"/></linearGradient><linearGradient id="g87"><stop offset="0" stop-color="#0057ff"/><stop offset=".175" stop-color="#00fffe"/><stop offset=".338" stop-color="#00ff6f"/><stop offset=".481" stop-color="#02ff00"/><stop offset=".631" stop-color="#6dff00"/><stop offset=".756" stop-color="#bcff00"/><stop offset=".875" stop-color="#ffff00"/><stop offset="1" stop-color="#ffc100"/></linearGradient><linearGradient id="g88"><stop offset="0" stop-color="#0058ff"/><stop offset=".144" stop-color="#00e5ff"/><stop offset=".175" stop-color="#00fffc"/><stop offset=".35" stop-color="#00ff64"/><stop offset=".481" stop-color="#02ff00"/><stop offset=".656" stop-color="#7dff00"/><stop offset=".863" stop-color="#f7ff00"/><stop offset=".881" stop-color="#fffd00"/><stop offset="1" stop-color="#ffc300"/></linearGradient><linearGradient id="g89"><stop offset="0" stop-color="#005aff"/><stop offset=".119" stop-color="#00cfff"/><stop offset=".169" stop-color="#00fdff"/><stop offset=".175" stop-color="#00fffb"/><stop offset=".325" stop-color="#00ff78"/><stop offset=".481" stop-color="#03ff00"/><stop offset=".594" stop-color="#53ff00"/><stop offset=".706" stop-color="#9cff00"/><stop offset=".869" stop-color="#f9ff00"/><stop offset=".881" stop-color="#ffff00"/><stop offset="1" stop-color="#ffc500"/></linearGradient><linearGradient id="g90"><stop offset="0" stop-color="#005dff"/><stop offset=".169" stop-color="#00ffff"/><stop offset=".331" stop-color="#00ff72"/><stop offset=".469" stop-color="#00ff06"/><stop offset=".481" stop-color="#03ff00"/><stop offset=".681" stop-color="#8cff00"/><stop offset=".875" stop-color="#fbff00"/><stop offset=".888" stop-color="#fffd00"/><stop offset="1" stop-color="#ffc700"/></linearGradient><linearGradient id="g91"><stop offset="0" stop-color="#005fff"/><stop offset=".169" stop-color="#00fffe"/><stop offset=".331" stop-color="#00ff71"/><stop offset=".475" stop-color="#00ff01"/><stop offset=".706" stop-color="#9bff00"/><stop offset=".875" stop-color="#faff00"/><stop offset=".888" stop-color="#fffe00"/><stop offset="1" stop-color="#ffc800"/></linearGradient><linearGradient id="g92"><stop offset="0" stop-color="#0061ff"/><stop offset=".131" stop-color="#00e0ff"/><stop offset=".169" stop-color="#00fffc"/><stop offset=".325" stop-color="#00ff75"/><stop offset=".475" stop-color="#00ff01"/><stop offset=".694" stop-color="#93ff00"/><stop offset=".869" stop-color="#f6ff00"/><stop offset=".888" stop-color="#ffff00"/><stop offset="1" stop-color="#ffca00"/></linearGradient><linearGradient id="g93"><stop offset="0" stop-color="#0064ff"/><stop offset=".131" stop-color="#00e2ff"/><stop offset=".163" stop-color="#00feff"/><stop offset=".169" stop-color="#00fffa"/><stop offset=".312" stop-color="#00ff7e"/><stop offset=".475" stop-color="#00ff00"/><stop offset=".694" stop-color="#93ff00"/><stop offset=".869" stop-color="#f5ff00"/><stop offset=".894" stop-color="#fffd00"/><stop offset="1" stop-color="#ffcb00"/></linearGradient><linearGradient id="g94"><stop offset="0" stop-color="#0066ff"/><stop offset=".163" stop-color="#00fffe"/><stop offset=".294" stop-color="#00ff8c"/><stop offset=".475" stop-color="#01ff00"/><stop offset=".644" stop-color="#74ff00"/><stop offset=".856" stop-color="#eeff00"/><stop offset=".894" stop-color="#fffd00"/><stop offset="1" stop-color="#ffcc00"/></linearGradient><linearGradient id="g95"><stop offset="0" stop-color="#0069ff"/><stop offset=".113" stop-color="#00d5ff"/><stop offset=".163" stop-color="#00fffc"/><stop offset=".306" stop-color="#00ff80"/><stop offset=".475" stop-color="#02ff00"/><stop offset=".663" stop-color="#80ff00"/><stop offset=".875" stop-color="#f7ff00"/><stop offset=".894" stop-color="#fffe00"/><stop offset="1" stop-color="#ffcd00"/></linearGradient><linearGradient id="g96"><stop offset="0" stop-color="#006cff"/><stop offset=".156" stop-color="#00ffff"/><stop offset=".344" stop-color="#00ff61"/><stop offset=".475" stop-color="#03ff00"/><stop offset=".675" stop-color="#88ff00"/><stop offset=".863" stop-color="#f0ff00"/><stop offset=".894" stop-color="#ffff00"/><stop offset="1" stop-color="#ffce00"/></linearGradient><linearGradient id="g97"><stop offset="0" stop-color="#006fff"/><stop offset=".156" stop-color="#00fffd"/><stop offset=".281" stop-color="#00ff91"/><stop offset=".469" stop-color="#00ff01"/><stop offset=".656" stop-color="#7dff00"/><stop offset=".863" stop-color="#f0ff00"/><stop offset=".894" stop-color="#ffff00"/><stop offset="1" stop-color="#ffcf00"/></linearGradient><linearGradient id="g98"><stop offset="0" stop-color="#0072ff"/><stop offset=".15" stop-color="#00feff"/><stop offset=".275" stop-color="#00ff94"/><stop offset=".469" stop-color="#01ff00"/><stop offset=".675" stop-color="#89ff00"/><stop offset=".894" stop-color="#ffff00"/><stop offset="1" stop-color="#ffcf00"/></linearGradient><linearGradient id="g99"><stop offset="0" stop-color="#0075ff"/><stop offset=".15" stop-color="#00fffd"/><stop offset=".356" stop-color="#00ff51"/><stop offset=".469" stop-color="#02ff00"/><stop offset=".569" stop-color="#47ff00"/><stop offset=".688" stop-color="#91ff00"/><stop offset=".894" stop-color="#ffff00"/><stop offset="1" stop-color="#ffd000"/></linearGradient><linearGradient id="g100"><stop offset="0" stop-color="#0079ff"/><stop offset=".144" stop-color="#00feff"/><stop offset=".356" stop-color="#00ff4f"/><stop offset=".463" stop-color="#00ff01"/><stop offset=".663" stop-color="#83ff00"/><stop offset=".775" stop-color="#c3ff00"/><stop offset=".894" stop-color="#ffff00"/><stop offset="1" stop-color="#ffd000"/></linearGradient><linearGradient id="g101"><stop offset="0" stop-color="#007cff"/><stop offset=".144" stop-color="#00fffd"/><stop offset=".312" stop-color="#00ff6f"/><stop offset=".463" stop-color="#01ff00"/><stop offset=".663" stop-color="#84ff00"/><stop offset=".806" stop-color="#d4ff00"/><stop offset=".894" stop-color="#ffff00"/><stop offset="1" stop-color="#ffd100"/></linearGradient><linearGradient id="g102"><stop offset="0" stop-color="#0080ff"/><stop offset=".138" stop-color="#00ffff"/><stop offset=".338" stop-color="#00ff59"/><stop offset=".463" stop-color="#03ff00"/><stop offset=".562" stop-color="#47ff00"/><stop offset=".681" stop-color="#90ff00"/><stop offset=".894" stop-color="#ffff00"/><stop offset="1" stop-color="#ffd100"/></linearGradient><linearGradient id="g103"><stop offset="0" stop-color="#0083ff"/><stop offset=".113" stop-color="#00ecff"/><stop offset=".138" stop-color="#00fffc"/><stop offset=".312" stop-color="#00ff6a"/><stop offset=".456" stop-color="#00ff00"/><stop offset=".669" stop-color="#8aff00"/><stop offset=".875" stop-color="#f7ff00"/><stop offset=".894" stop-color="#ffff00"/><stop offset="1" stop-color="#ffd100"/></linearGradient><linearGradient id="g104"><stop offset="0" stop-color="#0087ff"/><stop offset=".131" stop-color="#00fffe"/><stop offset=".288" stop-color="#00ff7b"/><stop offset=".381" stop-color="#00ff33"/><stop offset=".456" stop-color="#03ff00"/><stop offset=".656" stop-color="#84ff00"/><stop offset=".775" stop-color="#c6ff00"/><stop offset=".888" stop-color="#fdff00"/><stop offset="1" stop-color="#ffd100"/></linearGradient><linearGradient id="g105"><stop offset="0" stop-color="#008bff"/><stop offset=".125" stop-color="#00feff"/><stop offset=".275" stop-color="#00ff82"/><stop offset=".45" stop-color="#01ff00"/><stop offset=".588" stop-color="#5cff00"/><stop offset=".681" stop-color="#94ff00"/><stop offset=".881" stop-color="#fbff00"/><stop offset=".894" stop-color="#fffe00"/><stop offset="1" stop-color="#ffd100"/></linearGradient><linearGradient id="g106"><stop offset="0" stop-color="#008fff"/><stop offset=".125" stop-color="#00fffd"/><stop offset=".281" stop-color="#00ff7a"/><stop offset=".444" stop-color="#00ff01"/><stop offset=".656" stop-color="#87ff00"/><stop offset=".875" stop-color="#f9ff00"/><stop offset=".894" stop-color="#fffd00"/><stop offset="1" stop-color="#ffd000"/></linearGradient><linearGradient id="g107"><stop offset="0" stop-color="#0094ff"/><stop offset=".119" stop-color="#00fffe"/><stop offset=".294" stop-color="#00ff6d"/><stop offset=".444" stop-color="#01ff00"/><stop offset=".638" stop-color="#7eff00"/><stop offset=".738" stop-color="#b6ff00"/><stop offset=".869" stop-color="#f7ff00"/><stop offset=".888" stop-color="#ffff00"/><stop offset="1" stop-color="#ffd000"/></linearGradient><linearGradient id="g108"><stop offset="0" stop-color="#0098ff"/><stop offset=".113" stop-color="#00feff"/><stop offset=".3" stop-color="#00ff65"/><stop offset=".438" stop-color="#00ff01"/><stop offset=".65" stop-color="#87ff00"/><stop offset=".775" stop-color="#cbff00"/><stop offset=".875" stop-color="#fbff00"/><stop offset=".888" stop-color="#fffe00"/><stop offset="1" stop-color="#ffcf00"/></linearGradient><linearGradient id="g109"><stop offset="0" stop-color="#009cff"/><stop offset=".113" stop-color="#00fffc"/><stop offset=".275" stop-color="#00ff75"/><stop offset=".438" stop-color="#02ff00"/><stop offset=".638" stop-color="#82ff00"/><stop offset=".756" stop-color="#c3ff00"/><stop offset=".875" stop-color="#fcff00"/><stop offset="1" stop-color="#ffcf00"/></linearGradient><linearGradient id="g110"><stop offset="0" stop-color="#00a1ff"/><stop offset=".106" stop-color="#00fffd"/><stop offset=".25" stop-color="#00ff85"/><stop offset=".431" stop-color="#01ff00"/><stop offset=".638" stop-color="#84ff00"/><stop offset=".856" stop-color="#f5ff00"/><stop offset=".881" stop-color="#fffe00"/><stop offset="1" stop-color="#ffce00"/></linearGradient><linearGradient id="g111"><stop offset="0" stop-color="#00a6ff"/><stop offset=".1" stop-color="#00fffe"/><stop offset=".281" stop-color="#00ff69"/><stop offset=".425" stop-color="#00ff00"/><stop offset=".644" stop-color="#8aff00"/><stop offset=".869" stop-color="#fcff00"/><stop offset="1" stop-color="#ffcd00"/></linearGradient><linearGradient id="g112"><stop offset="0" stop-color="#00abff"/><stop offset=".094" stop-color="#00ffff"/><stop offset=".275" stop-color="#00ff6a"/><stop offset=".419" stop-color="#00ff01"/><stop offset=".638" stop-color="#89ff00"/><stop offset=".856" stop-color="#f8ff00"/><stop offset=".875" stop-color="#fffe00"/><stop offset="1" stop-color="#ffcc00"/></linearGradient><linearGradient id="g113"><stop offset="0" stop-color="#00b0ff"/><stop offset=".088" stop-color="#00feff"/><stop offset=".275" stop-color="#00ff66"/><stop offset=".419" stop-color="#02ff00"/><stop offset=".631" stop-color="#88ff00"/><stop offset=".85" stop-color="#f7ff00"/><stop offset=".869" stop-color="#ffff00"/><stop offset="1" stop-color="#ffcb00"/></linearGradient><linearGradient id="g114"><stop offset="0" stop-color="#00b5ff"/><stop offset=".081" stop-color="#00fdff"/><stop offset=".088" stop-color="#00fffb"/><stop offset=".244" stop-color="#00ff7a"/><stop offset=".413" stop-color="#01ff00"/><stop offset=".613" stop-color="#80ff00"/><stop offset=".719" stop-color="#baff00"/><stop offset=".85" stop-color="#f9ff00"/><stop offset=".869" stop-color="#fffd00"/><stop offset="1" stop-color="#ffc900"/></linearGradient><linearGradient id="g115"><stop offset="0" stop-color="#00baff"/><stop offset=".081" stop-color="#00fffc"/><stop offset=".256" stop-color="#00ff6c"/><stop offset=".406" stop-color="#01ff00"/><stop offset=".613" stop-color="#83ff00"/><stop offset=".738" stop-color="#c6ff00"/><stop offset=".85" stop-color="#fbff00"/><stop offset=".863" stop-color="#fffe00"/><stop offset="1" stop-color="#ffc800"/></linearGradient><linearGradient id="g116"><stop offset="0" stop-color="#00bfff"/><stop offset=".075" stop-color="#00fffc"/><stop offset=".231" stop-color="#00ff7b"/><stop offset=".4" stop-color="#00ff00"/><stop offset=".613" stop-color="#86ff00"/><stop offset=".713" stop-color="#bcff00"/><stop offset=".85" stop-color="#fdff00"/><stop offset="1" stop-color="#ffc600"/></linearGradient><linearGradient id="g117"><stop offset="0" stop-color="#00c5ff"/><stop offset=".069" stop-color="#00fffc"/><stop offset=".219" stop-color="#00ff80"/><stop offset=".394" stop-color="#00ff00"/><stop offset=".6" stop-color="#82ff00"/><stop offset=".719" stop-color="#c2ff00"/><stop offset=".838" stop-color="#faff00"/><stop offset=".85" stop-color="#ffff00"/><stop offset="1" stop-color="#ffc400"/></linearGradient><linearGradient id="g118"><stop offset="0" stop-color="#00caff"/><stop offset=".062" stop-color="#00fffc"/><stop offset=".206" stop-color="#00ff85"/><stop offset=".388" stop-color="#00ff00"/><stop offset=".494" stop-color="#46ff00"/><stop offset=".619" stop-color="#90ff00"/><stop offset=".725" stop-color="#c8ff00"/><stop offset=".844" stop-color="#ffff00"/><stop offset="1" stop-color="#ffc300"/></linearGradient><linearGradient id="g119"><stop offset="0" stop-color="#00d0ff"/><stop offset=".056" stop-color="#00fffc"/><stop offset=".2" stop-color="#00ff85"/><stop offset=".381" stop-color="#00ff00"/><stop offset=".525" stop-color="#5dff00"/><stop offset=".644" stop-color="#a1ff00"/><stop offset=".838" stop-color="#ffff00"/><stop offset="1" stop-color="#ffc100"/></linearGradient><linearGradient id="g120"><stop offset="0" stop-color="#00d6ff"/><stop offset=".05" stop-color="#00fffc"/><stop offset=".206" stop-color="#00ff7b"/><stop offset=".375" stop-color="#00ff00"/><stop offset=".488" stop-color="#4aff00"/><stop offset=".606" stop-color="#90ff00"/><stop offset=".713" stop-color="#c8ff00"/><stop offset=".831" stop-color="#ffff00"/><stop offset="1" stop-color="#ffbf00"/></linearGradient><linearGradient id="g121"><stop offset="0" stop-color="#00dcff"/><stop offset=".044" stop-color="#00fffc"/><stop offset=".213" stop-color="#00ff71"/><stop offset=".369" stop-color="#00ff00"/><stop offset=".494" stop-color="#52ff00"/><stop offset=".625" stop-color="#9eff00"/><stop offset=".825" stop-color="#ffff00"/><stop offset="1" stop-color="#ffbc00"/></linearGradient><linearGradient id="g122"><stop offset="0" stop-color="#00e2ff"/><stop offset=".031" stop-color="#00feff"/><stop offset=".038" stop-color="#00fffb"/><stop offset=".188" stop-color="#00ff7f"/><stop offset=".363" stop-color="#01ff00"/><stop offset=".456" stop-color="#3fff00"/><stop offset=".6" stop-color="#94ff00"/><stop offset=".819" stop-color="#ffff00"/><stop offset="1" stop-color="#ffba00"/></linearGradient><linearGradient id="g123"><stop offset="0" stop-color="#00e8ff"/><stop offset=".025" stop-color="#00feff"/><stop offset=".031" stop-color="#00fffa"/><stop offset=".206" stop-color="#00ff6b"/><stop offset=".356" stop-color="#01ff00"/><stop offset=".562" stop-color="#83ff00"/><stop offset=".694" stop-color="#c9ff00"/><stop offset=".806" stop-color="#fdff00"/><stop offset="1" stop-color="#ffb800"/></linearGradient><linearGradient id="g124"><stop offset="0" stop-color="#00efff"/><stop offset=".019" stop-color="#00ffff"/><stop offset=".194" stop-color="#00ff6f"/><stop offset=".35" stop-color="#02ff00"/><stop offset=".537" stop-color="#79ff00"/><stop offset=".663" stop-color="#bdff00"/><stop offset=".794" stop-color="#fbff00"/><stop offset=".806" stop-color="#fffe00"/><stop offset="1" stop-color="#ffb500"/></linearGradient><linearGradient id="g125"><stop offset="0" stop-color="#00f5ff"/><stop offset=".013" stop-color="#00fffe"/><stop offset=".188" stop-color="#00ff6e"/><stop offset=".338" stop-color="#00ff01"/><stop offset=".569" stop-color="#8fff00"/><stop offset=".788" stop-color="#fcff00"/><stop offset="1" stop-color="#ffb200"/></linearGradient><linearGradient id="g126"><stop offset="0" stop-color="#00fcff"/><stop offset=".181" stop-color="#00ff6d"/><stop offset=".331" stop-color="#00ff00"/><stop offset=".444" stop-color="#4aff00"/><stop offset=".588" stop-color="#9eff00"/><stop offset=".788" stop-color="#ffff00"/><stop offset="1" stop-color="#ffaf00"/></linearGradient><linearGradient id="g127"><stop offset="0" stop-color="#00fffb"/><stop offset=".15" stop-color="#00ff7f"/><stop offset=".325" stop-color="#01ff00"/><stop offset=".519" stop-color="#7cff00"/><stop offset=".644" stop-color="#c0ff00"/><stop offset=".775" stop-color="#feff00"/><stop offset="1" stop-color="#ffac00"/></linearGradient><linearGradient id="g128"><stop offset="0" stop-color="#00fff4"/><stop offset=".163" stop-color="#00ff6f"/><stop offset=".319" stop-color="#02ff00"/><stop offset=".519" stop-color="#81ff00"/><stop offset=".631" stop-color="#beff00"/><stop offset=".769" stop-color="#ffff00"/><stop offset=".888" stop-color="#ffcf00"/><stop offset="1" stop-color="#ffa900"/></linearGradient><linearGradient id="g129"><stop offset="0" stop-color="#00ffed"/><stop offset=".131" stop-color="#00ff81"/><stop offset=".306" stop-color="#00ff00"/><stop offset=".519" stop-color="#86ff00"/><stop offset=".644" stop-color="#c9ff00"/><stop offset=".75" stop-color="#fbff00"/><stop offset=".763" stop-color="#fffe00"/><stop offset=".875" stop-color="#ffd000"/><stop offset="1" stop-color="#ffa600"/></linearGradient><linearGradient id="g130"><stop offset="0" stop-color="#00ffe6"/><stop offset=".156" stop-color="#00ff67"/><stop offset=".3" stop-color="#01ff00"/><stop offset=".506" stop-color="#84ff00"/><stop offset=".619" stop-color="#c1ff00"/><stop offset=".75" stop-color="#ffff00"/><stop offset=".881" stop-color="#ffca00"/><stop offset="1" stop-color="#ffa300"/></linearGradient><linearGradient id="g131"><stop offset="0" stop-color="#00ffdf"/><stop offset=".144" stop-color="#00ff6a"/><stop offset=".288" stop-color="#00ff01"/><stop offset=".525" stop-color="#94ff00"/><stop offset=".738" stop-color="#feff00"/><stop offset=".881" stop-color="#ffc600"/><stop offset="1" stop-color="#ff9f00"/></linearGradient><linearGradient id="g132"><stop offset="0" stop-color="#00ffd8"/><stop offset=".138" stop-color="#00ff68"/><stop offset=".281" stop-color="#01ff00"/><stop offset=".488" stop-color="#84ff00"/><stop offset=".619" stop-color="#cbff00"/><stop offset=".725" stop-color="#fdff00"/><stop offset=".856" stop-color="#ffcb00"/><stop offset="1" stop-color="#ff9c00"/></linearGradient><linearGradient id="g133"><stop offset="0" stop-color="#00ffd0"/><stop offset=".138" stop-color="#00ff61"/><stop offset=".269" stop-color="#00ff01"/><stop offset=".481" stop-color="#86ff00"/><stop offset=".613" stop-color="#cdff00"/><stop offset=".719" stop-color="#ffff00"/><stop offset=".875" stop-color="#ffc000"/><stop offset="1" stop-color="#ff9800"/></linearGradient><linearGradient id="g134"><stop offset="0" stop-color="#00ffc9"/><stop offset=".144" stop-color="#00ff55"/><stop offset=".263" stop-color="#01ff00"/><stop offset=".375" stop-color="#4cff00"/><stop offset=".481" stop-color="#8cff00"/><stop offset=".7" stop-color="#fcff00"/><stop offset=".869" stop-color="#ffbe00"/><stop offset="1" stop-color="#ff9400"/></linearGradient><linearGradient id="g135"><stop offset="0" stop-color="#00ffc1"/><stop offset=".119" stop-color="#00ff61"/><stop offset=".25" stop-color="#00ff01"/><stop offset=".394" stop-color="#5eff00"/><stop offset=".494" stop-color="#99ff00"/><stop offset=".694" stop-color="#feff00"/><stop offset=".831" stop-color="#ffc700"/><stop offset="1" stop-color="#ff9000"/></linearGradient><linearGradient id="g136"><stop offset="0" stop-color="#00ffb9"/><stop offset=".131" stop-color="#00ff50"/><stop offset=".244" stop-color="#02ff00"/><stop offset=".45" stop-color="#86ff00"/><stop offset=".675" stop-color="#fbff00"/><stop offset=".688" stop-color="#fffe00"/><stop offset=".863" stop-color="#ffb700"/><stop offset="1" stop-color="#ff8c00"/></linearGradient><linearGradient id="g137"><stop offset="0" stop-color="#00ffb1"/><stop offset=".119" stop-color="#00ff52"/><stop offset=".231" stop-color="#00ff00"/><stop offset=".438" stop-color="#85ff00"/><stop offset=".569" stop-color="#cdff00"/><stop offset=".669" stop-color="#fdff00"/><stop offset=".844" stop-color="#ffb900"/><stop offset="1" stop-color="#ff8800"/></linearGradient><linearGradient id="g138"><stop offset="0" stop-color="#00ffa9"/><stop offset=".113" stop-color="#00ff4f"/><stop offset=".225" stop-color="#03ff00"/><stop offset=".444" stop-color="#8fff00"/><stop offset=".656" stop-color="#fdff00"/><stop offset=".844" stop-color="#ffb400"/><stop offset="1" stop-color="#ff8400"/></linearGradient><linearGradient id="g139"><stop offset="0" stop-color="#00ffa1"/><stop offset=".131" stop-color="#00ff39"/><stop offset=".213" stop-color="#01ff00"/><stop offset=".281" stop-color="#31ff00"/><stop offset=".438" stop-color="#92ff00"/><stop offset=".644" stop-color="#fdff00"/><stop offset=".844" stop-color="#ffaf00"/><stop offset="1" stop-color="#ff7f00"/></linearGradient><linearGradient id="g140"><stop offset="0" stop-color="#00ff98"/><stop offset=".2" stop-color="#00ff00"/><stop offset=".419" stop-color="#8eff00"/><stop offset=".525" stop-color="#c9ff00"/><stop offset=".638" stop-color="#fffe00"/><stop offset=".812" stop-color="#ffb500"/><stop offset="1" stop-color="#ff7b00"/></linearGradient><linearGradient id="g141"><stop offset="0" stop-color="#00ff90"/><stop offset=".144" stop-color="#00ff20"/><stop offset=".194" stop-color="#04ff00"/><stop offset=".394" stop-color="#86ff00"/><stop offset=".619" stop-color="#feff00"/><stop offset=".825" stop-color="#ffab00"/><stop offset="1" stop-color="#ff7600"/></linearGradient><linearGradient id="g142"><stop offset="0" stop-color="#00ff87"/><stop offset=".131" stop-color="#00ff21"/><stop offset=".181" stop-color="#03ff00"/><stop offset=".4" stop-color="#91ff00"/><stop offset=".606" stop-color="#feff00"/><stop offset=".788" stop-color="#ffb300"/><stop offset="1" stop-color="#ff7100"/></linearGradient><linearGradient id="g143"><stop offset="0" stop-color="#00ff7e"/><stop offset=".169" stop-color="#02ff00"/><stop offset=".363" stop-color="#82ff00"/><stop offset=".469" stop-color="#bfff00"/><stop offset=".594" stop-color="#feff00"/><stop offset=".794" stop-color="#ffab00"/><stop offset="1" stop-color="#ff6c00"/></linearGradient><linearGradient id="g144"><stop offset="0" stop-color="#00ff75"/><stop offset=".156" stop-color="#01ff00"/><stop offset=".238" stop-color="#3aff00"/><stop offset=".394" stop-color="#9cff00"/><stop offset=".581" stop-color="#ffff00"/><stop offset=".775" stop-color="#ffac00"/><stop offset=".906" stop-color="#ff8000"/><stop offset="1" stop-color="#ff6700"/></linearGradient><linearGradient id="g145"><stop offset="0" stop-color="#00ff6c"/><stop offset=".144" stop-color="#01ff00"/><stop offset=".363" stop-color="#91ff00"/><stop offset=".5" stop-color="#deff00"/><stop offset=".569" stop-color="#fffe00"/><stop offset=".775" stop-color="#ffa600"/><stop offset=".888" stop-color="#ff8000"/><stop offset="1" stop-color="#ff6200"/></linearGradient><linearGradient id="g146"><stop offset="0" stop-color="#00ff63"/><stop offset=".131" stop-color="#00ff00"/><stop offset=".331" stop-color="#86ff00"/><stop offset=".55" stop-color="#feff00"/><stop offset=".769" stop-color="#ffa200"/><stop offset=".869" stop-color="#ff8000"/><stop offset="1" stop-color="#ff5c00"/></linearGradient><linearGradient id="g147"><stop offset="0" stop-color="#00ff5a"/><stop offset=".119" stop-color="#00ff00"/><stop offset=".331" stop-color="#8eff00"/><stop offset=".537" stop-color="#ffff00"/><stop offset=".631" stop-color="#ffd300"/><stop offset=".763" stop-color="#ff9e00"/><stop offset=".863" stop-color="#ff7c00"/><stop offset="1" stop-color="#ff5700"/></linearGradient><linearGradient id="g148"><stop offset="0" stop-color="#00ff51"/><stop offset=".106" stop-color="#00ff00"/><stop offset=".3" stop-color="#83ff00"/><stop offset=".438" stop-color="#d3ff00"/><stop offset=".525" stop-color="#fffe00"/><stop offset=".631" stop-color="#ffcc00"/><stop offset=".75" stop-color="#ff9c00"/><stop offset=".869" stop-color="#ff7400"/><stop offset="1" stop-color="#ff5100"/></linearGradient><linearGradient id="g149"><stop offset="0" stop-color="#00ff47"/><stop offset=".094" stop-color="#00ff00"/><stop offset=".2" stop-color="#4bff00"/><stop offset=".312" stop-color="#93ff00"/><stop offset=".506" stop-color="#feff00"/><stop offset=".613" stop-color="#ffcd00"/><stop offset=".738" stop-color="#ff9a00"/><stop offset=".881" stop-color="#ff6a00"/><stop offset="1" stop-color="#ff4c00"/></linearGradient><linearGradient id="g150"><stop offset="0" stop-color="#00ff3d"/><stop offset=".081" stop-color="#00ff00"/><stop offset=".294" stop-color="#90ff00"/><stop offset=".494" stop-color="#fffe00"/><stop offset=".619" stop-color="#ffc300"/><stop offset=".744" stop-color="#ff9100"/><stop offset=".888" stop-color="#ff6200"/><stop offset="1" stop-color="#ff4600"/></linearGradient><linearGradient id="g151"><stop offset="0" stop-color="#00ff34"/><stop offset=".069" stop-color="#00ff00"/><stop offset=".281" stop-color="#91ff00"/><stop offset=".475" stop-color="#feff00"/><stop offset=".606" stop-color="#ffc100"/><stop offset=".744" stop-color="#ff8a00"/><stop offset=".869" stop-color="#ff6100"/><stop offset="1" stop-color="#ff4000"/></linearGradient><linearGradient id="g152"><stop offset="0" stop-color="#00ff2a"/><stop offset=".056" stop-color="#01ff00"/><stop offset=".275" stop-color="#96ff00"/><stop offset=".463" stop-color="#fffe00"/><stop offset=".594" stop-color="#ffbf00"/><stop offset=".719" stop-color="#ff8c00"/><stop offset=".856" stop-color="#ff5e00"/><stop offset="1" stop-color="#ff3a00"/></linearGradient><linearGradient id="g153"><stop offset="0" stop-color="#00ff20"/><stop offset=".044" stop-color="#01ff00"/><stop offset=".138" stop-color="#45ff00"/><stop offset=".269" stop-color="#9bff00"/><stop offset=".444" stop-color="#feff00"/><stop offset=".588" stop-color="#ffba00"/><stop offset=".713" stop-color="#ff8700"/><stop offset=".844" stop-color="#ff5b00"/><stop offset="1" stop-color="#ff3300"/></linearGradient><linearGradient id="g154"><stop offset="0" stop-color="#00ff16"/><stop offset=".031" stop-color="#02ff00"/><stop offset=".125" stop-color="#46ff00"/><stop offset=".275" stop-color="#a8ff00"/><stop offset=".431" stop-color="#fffe00"/><stop offset=".588" stop-color="#ffb200"/><stop offset=".725" stop-color="#ff7b00"/><stop offset=".875" stop-color="#ff4b00"/><stop offset="1" stop-color="#ff2d00"/></linearGradient><linearGradient id="g155"><stop offset="0" stop-color="#00ff0b"/><stop offset=".019" stop-color="#03ff00"/><stop offset=".225" stop-color="#92ff00"/><stop offset=".413" stop-color="#ffff00"/><stop offset=".562" stop-color="#ffb500"/><stop offset=".713" stop-color="#ff7800"/><stop offset=".844" stop-color="#ff4d00"/><stop offset="1" stop-color="#ff2700"/></linearGradient><linearGradient id="g156"><stop offset="0" stop-color="#00ff01"/><stop offset=".163" stop-color="#73ff00"/><stop offset=".263" stop-color="#b3ff00"/><stop offset=".394" stop-color="#feff00"/><stop offset=".569" stop-color="#ffaa00"/><stop offset=".719" stop-color="#ff6e00"/><stop offset=".875" stop-color="#ff3d00"/><stop offset="1" stop-color="#ff2000"/></linearGradient><linearGradient id="g157"><stop offset="0" stop-color="#09ff00"/><stop offset=".163" stop-color="#7dff00"/><stop offset=".275" stop-color="#c4ff00"/><stop offset=".381" stop-color="#fffe00"/><stop offset=".513" stop-color="#ffbb00"/><stop offset=".7" stop-color="#ff6d00"/><stop offset=".831" stop-color="#ff4200"/><stop offset="1" stop-color="#ff1900"/></linearGradient><linearGradient id="g158"><stop offset="0" stop-color="#14ff00"/><stop offset=".163" stop-color="#87ff00"/><stop offset=".363" stop-color="#ffff00"/><stop offset=".537" stop-color="#ffa700"/><stop offset=".7" stop-color="#ff6500"/><stop offset=".844" stop-color="#ff3700"/><stop offset="1" stop-color="#ff1200"/></linearGradient><linearGradient id="g159"><stop offset="0" stop-color="#1fff00"/><stop offset=".156" stop-color="#8dff00"/><stop offset=".344" stop-color="#feff00"/><stop offset=".531" stop-color="#ffa100"/><stop offset=".675" stop-color="#ff6600"/><stop offset=".831" stop-color="#ff3300"/><stop offset="1" stop-color="#ff0b00"/></linearGradient><linearGradient id="g160"><stop offset="0" stop-color="#2aff00"/><stop offset=".138" stop-color="#8bff00"/><stop offset=".325" stop-color="#feff00"/><stop offset=".525" stop-color="#ff9b00"/><stop offset=".669" stop-color="#ff6000"/><stop offset=".85" stop-color="#ff2600"/><stop offset="1" stop-color="#ff0400"/></linearGradient><linearGradient id="g161"><stop offset="0" stop-color="#35ff00"/><stop offset=".125" stop-color="#8dff00"/><stop offset=".312" stop-color="#fffe00"/><stop offset=".488" stop-color="#ffa300"/><stop offset=".681" stop-color="#ff5300"/><stop offset=".863" stop-color="#ff1b00"/><stop offset="1" stop-color="#ff0000"/></linearGradient><linearGradient id="g162"><stop offset="0" stop-color="#40ff00"/><stop offset=".138" stop-color="#a0ff00"/><stop offset=".294" stop-color="#fffe00"/><stop offset=".5" stop-color="#ff9400"/><stop offset=".694" stop-color="#ff4600"/><stop offset=".913" stop-color="#ff0700"/><stop offset=".95" stop-color="#ff0000"/><stop offset="1" stop-color="#ff0000"/></linearGradient><linearGradient id="g163"><stop offset="0" stop-color="#4bff00"/><stop offset=".156" stop-color="#b7ff00"/><stop offset=".275" stop-color="#ffff00"/><stop offset=".469" stop-color="#ff9900"/><stop offset=".675" stop-color="#ff4400"/><stop offset=".769" stop-color="#ff2500"/><stop offset=".906" stop-color="#ff0100"/><stop offset="1" stop-color="#ff0000"/></linearGradient><linearGradient id="g164"><stop offset="0" stop-color="#57ff00"/><stop offset=".106" stop-color="#a1ff00"/><stop offset=".256" stop-color="#ffff00"/><stop offset=".363" stop-color="#ffc400"/><stop offset=".494" stop-color="#ff8400"/><stop offset=".681" stop-color="#ff3900"/><stop offset=".875" stop-color="#ff0000"/><stop offset="1" stop-color="#ff0000"/></linearGradient><linearGradient id="g165"><stop offset="0" stop-color="#ff8f00"/><stop offset=".088" stop-color="#ffc500"/><stop offset=".2" stop-color="#fdff00"/><stop offset=".375" stop-color="#b3ff00"/><stop offset=".481" stop-color="#92ff00"/><stop offset=".581" stop-color="#7bff00"/><stop offset=".688" stop-color="#6bff00"/><stop offset=".788" stop-color="#64ff00"/><stop offset=".906" stop-color="#66ff00"/><stop offset="1" stop-color="#70ff00"/></linearGradient><linearGradient id="g166"><stop offset="0" stop-color="#ff8d00"/><stop offset=".1" stop-color="#ffca00"/><stop offset=".2" stop-color="#ffff00"/><stop offset=".306" stop-color="#cfff00"/><stop offset=".4" stop-color="#acff00"/><stop offset=".581" stop-color="#7cff00"/><stop offset=".694" stop-color="#6bff00"/><stop offset=".775" stop-color="#65ff00"/><stop offset=".881" stop-color="#65ff00"/><stop offset="1" stop-color="#70ff00"/></linearGradient><linearGradient id="g167"><stop offset="0" stop-color="#ff8a00"/><stop offset=".094" stop-color="#ffc400"/><stop offset=".206" stop-color="#feff00"/><stop offset=".381" stop-color="#b4ff00"/><stop offset=".506" stop-color="#8eff00"/><stop offset=".625" stop-color="#75ff00"/><stop offset=".788" stop-color="#65ff00"/><stop offset=".9" stop-color="#66ff00"/><stop offset="1" stop-color="#70ff00"/></linearGradient><linearGradient id="g168"><stop offset="0" stop-color="#ff8800"/><stop offset=".094" stop-color="#ffc200"/><stop offset=".213" stop-color="#fdff00"/><stop offset=".394" stop-color="#b1ff00"/><stop offset=".506" stop-color="#8fff00"/><stop offset=".606" stop-color="#79ff00"/><stop offset=".706" stop-color="#6bff00"/><stop offset=".8" stop-color="#65ff00"/><stop offset=".9" stop-color="#66ff00"/><stop offset="1" stop-color="#6fff00"/></linearGradient><linearGradient id="g169"><stop offset="0" stop-color="#ff8500"/><stop offset=".094" stop-color="#ffc000"/><stop offset=".213" stop-color="#ffff00"/><stop offset=".294" stop-color="#d9ff00"/><stop offset=".4" stop-color="#b0ff00"/><stop offset=".506" stop-color="#90ff00"/><stop offset=".6" stop-color="#7bff00"/><stop offset=".675" stop-color="#6fff00"/><stop offset=".806" stop-color="#65ff00"/><stop offset=".9" stop-color="#66ff00"/><stop offset="1" stop-color="#6fff00"/></linearGradient><linearGradient id="g170"><stop offset="0" stop-color="#ff8300"/><stop offset=".125" stop-color="#ffd000"/><stop offset=".219" stop-color="#fdff00"/><stop offset=".306" stop-color="#d5ff00"/><stop offset=".406" stop-color="#afff00"/><stop offset=".525" stop-color="#8cff00"/><stop offset=".625" stop-color="#77ff00"/><stop offset=".806" stop-color="#65ff00"/><stop offset=".881" stop-color="#65ff00"/><stop offset="1" stop-color="#6fff00"/></linearGradient><linearGradient id="g171"><stop offset="0" stop-color="#ff8100"/><stop offset=".113" stop-color="#ffc700"/><stop offset=".219" stop-color="#ffff00"/><stop offset=".3" stop-color="#d9ff00"/><stop offset=".406" stop-color="#b0ff00"/><stop offset=".494" stop-color="#95ff00"/><stop offset=".6" stop-color="#7cff00"/><stop offset=".706" stop-color="#6cff00"/><stop offset=".806" stop-color="#65ff00"/><stop offset=".888" stop-color="#65ff00"/><stop offset="1" stop-color="#6eff00"/></linearGradient><linearGradient id="g172"><stop offset="0" stop-color="#ff7f00"/><stop offset=".119" stop-color="#ffc900"/><stop offset=".225" stop-color="#fdff00"/><stop offset=".406" stop-color="#b1ff00"/><stop offset=".5" stop-color="#94ff00"/><stop offset=".613" stop-color="#7aff00"/><stop offset=".7" stop-color="#6dff00"/><stop offset=".806" stop-color="#65ff00"/><stop offset=".919" stop-color="#66ff00"/><stop offset="1" stop-color="#6dff00"/></linearGradient><linearGradient id="g173"><stop offset="0" stop-color="#ff7d00"/><stop offset=".125" stop-color="#ffcb00"/><stop offset=".225" stop-color="#feff00"/><stop offset=".4" stop-color="#b4ff00"/><stop offset=".513" stop-color="#91ff00"/><stop offset=".625" stop-color="#78ff00"/><stop offset=".738" stop-color="#69ff00"/><stop offset=".831" stop-color="#64ff00"/><stop offset="1" stop-color="#6dff00"/></linearGradient><linearGradient id="g174"><stop offset="0" stop-color="#ff7c00"/><stop offset=".119" stop-color="#ffc600"/><stop offset=".231" stop-color="#fcff00"/><stop offset=".331" stop-color="#cfff00"/><stop offset=".425" stop-color="#acff00"/><stop offset=".6" stop-color="#7dff00"/><stop offset=".7" stop-color="#6dff00"/><stop offset=".794" stop-color="#65ff00"/><stop offset=".894" stop-color="#64ff00"/><stop offset="1" stop-color="#6cff00"/></linearGradient><linearGradient id="g175"><stop offset="0" stop-color="#ff7a00"/><stop offset=".113" stop-color="#ffc100"/><stop offset=".231" stop-color="#feff00"/><stop offset=".331" stop-color="#d0ff00"/><stop offset=".413" stop-color="#b1ff00"/><stop offset=".531" stop-color="#8dff00"/><stop offset=".638" stop-color="#76ff00"/><stop offset=".744" stop-color="#68ff00"/><stop offset=".838" stop-color="#63ff00"/><stop offset="1" stop-color="#6bff00"/></linearGradient><linearGradient id="g176"><stop offset="0" stop-color="#ff7800"/><stop offset=".125" stop-color="#ffc700"/><stop offset=".231" stop-color="#ffff00"/><stop offset=".338" stop-color="#ceff00"/><stop offset=".425" stop-color="#adff00"/><stop offset=".531" stop-color="#8dff00"/><stop offset=".631" stop-color="#77ff00"/><stop offset=".819" stop-color="#63ff00"/><stop offset="1" stop-color="#6aff00"/></linearGradient><linearGradient id="g177"><stop offset="0" stop-color="#ff7700"/><stop offset=".1" stop-color="#ffb700"/><stop offset=".231" stop-color="#ffff00"/><stop offset=".344" stop-color="#ccff00"/><stop offset=".444" stop-color="#a7ff00"/><stop offset=".625" stop-color="#78ff00"/><stop offset=".8" stop-color="#63ff00"/><stop offset=".906" stop-color="#62ff00"/><stop offset="1" stop-color="#69ff00"/></linearGradient><linearGradient id="g178"><stop offset="0" stop-color="#ff7500"/><stop offset=".138" stop-color="#ffcc00"/><stop offset=".238" stop-color="#fdff00"/><stop offset=".413" stop-color="#b2ff00"/><stop offset=".506" stop-color="#94ff00"/><stop offset=".619" stop-color="#79ff00"/><stop offset=".806" stop-color="#62ff00"/><stop offset=".906" stop-color="#61ff00"/><stop offset="1" stop-color="#68ff00"/></linearGradient><linearGradient id="g179"><stop offset="0" stop-color="#ff7400"/><stop offset=".138" stop-color="#ffcb00"/><stop offset=".238" stop-color="#feff00"/><stop offset=".419" stop-color="#b0ff00"/><stop offset=".531" stop-color="#8dff00"/><stop offset=".638" stop-color="#75ff00"/><stop offset=".812" stop-color="#61ff00"/><stop offset=".913" stop-color="#60ff00"/><stop offset="1" stop-color="#66ff00"/></linearGradient><linearGradient id="g180"><stop offset="0" stop-color="#ff7300"/><stop offset=".125" stop-color="#ffc300"/><stop offset=".238" stop-color="#feff00"/><stop offset=".325" stop-color="#d5ff00"/><stop offset=".425" stop-color="#aeff00"/><stop offset=".513" stop-color="#92ff00"/><stop offset=".625" stop-color="#77ff00"/><stop offset=".812" stop-color="#60ff00"/><stop offset=".919" stop-color="#5fff00"/><stop offset="1" stop-color="#65ff00"/></linearGradient><linearGradient id="g181"><stop offset="0" stop-color="#ff7200"/><stop offset=".131" stop-color="#ffc600"/><stop offset=".238" stop-color="#ffff00"/><stop offset=".319" stop-color="#d8ff00"/><stop offset=".419" stop-color="#b0ff00"/><stop offset=".519" stop-color="#90ff00"/><stop offset=".613" stop-color="#79ff00"/><stop offset=".794" stop-color="#60ff00"/><stop offset=".925" stop-color="#5eff00"/><stop offset="1" stop-color="#63ff00"/></linearGradient><linearGradient id="g182"><stop offset="0" stop-color="#ff7100"/><stop offset=".119" stop-color="#ffbe00"/><stop offset=".238" stop-color="#ffff00"/><stop offset=".419" stop-color="#b0ff00"/><stop offset=".531" stop-color="#8cff00"/><stop offset=".619" stop-color="#77ff00"/><stop offset=".806" stop-color="#5eff00"/><stop offset=".906" stop-color="#5cff00"/><stop offset="1" stop-color="#62ff00"/></linearGradient><linearGradient id="g183"><stop offset="0" stop-color="#ff7000"/><stop offset=".1" stop-color="#ffb200"/><stop offset=".238" stop-color="#ffff00"/><stop offset=".338" stop-color="#d0ff00"/><stop offset=".438" stop-color="#a9ff00"/><stop offset=".625" stop-color="#75ff00"/><stop offset=".806" stop-color="#5dff00"/><stop offset=".925" stop-color="#5bff00"/><stop offset="1" stop-color="#60ff00"/></linearGradient><linearGradient id="g184"><stop offset="0" stop-color="#ff6f00"/><stop offset=".119" stop-color="#ffbd00"/><stop offset=".238" stop-color="#ffff00"/><stop offset=".338" stop-color="#d0ff00"/><stop offset=".431" stop-color="#abff00"/><stop offset=".531" stop-color="#8bff00"/><stop offset=".631" stop-color="#73ff00"/><stop offset=".8" stop-color="#5cff00"/><stop offset=".913" stop-color="#59ff00"/><stop offset="1" stop-color="#5eff00"/></linearGradient><linearGradient id="g185"><stop offset="0" stop-color="#ff6f00"/><stop offset=".106" stop-color="#ffb500"/><stop offset=".238" stop-color="#ffff00"/><stop offset=".4" stop-color="#b6ff00"/><stop offset=".594" stop-color="#7aff00"/><stop offset=".719" stop-color="#63ff00"/><stop offset=".806" stop-color="#5aff00"/><stop offset="1" stop-color="#5cff00"/></linearGradient><linearGradient id="g186"><stop offset="0" stop-color="#ff6e00"/><stop offset=".125" stop-color="#ffc000"/><stop offset=".238" stop-color="#ffff00"/><stop offset=".35" stop-color="#caff00"/><stop offset=".431" stop-color="#aaff00"/><stop offset=".519" stop-color="#8dff00"/><stop offset=".625" stop-color="#72ff00"/><stop offset=".8" stop-color="#59ff00"/><stop offset=".938" stop-color="#56ff00"/><stop offset="1" stop-color="#5aff00"/></linearGradient><linearGradient id="g187"><stop offset="0" stop-color="#ff6e00"/><stop offset=".125" stop-color="#ffc000"/><stop offset=".238" stop-color="#ffff00"/><stop offset=".4" stop-color="#b5ff00"/><stop offset=".513" stop-color="#8eff00"/><stop offset=".606" stop-color="#75ff00"/><stop offset=".706" stop-color="#62ff00"/><stop offset=".819" stop-color="#56ff00"/><stop offset="1" stop-color="#58ff00"/></linearGradient><linearGradient id="g188"><stop offset="0" stop-color="#ff6d00"/><stop offset=".125" stop-color="#ffc000"/><stop offset=".238" stop-color="#ffff00"/><stop offset=".419" stop-color="#adff00"/><stop offset=".513" stop-color="#8dff00"/><stop offset=".619" stop-color="#71ff00"/><stop offset=".731" stop-color="#5dff00"/><stop offset=".825" stop-color="#54ff00"/><stop offset="1" stop-color="#56ff00"/></linearGradient><linearGradient id="g189"><stop offset="0" stop-color="#ff6d00"/><stop offset=".125" stop-color="#ffc000"/><stop offset=".238" stop-color="#ffff00"/><stop offset=".406" stop-color="#b1ff00"/><stop offset=".519" stop-color="#8aff00"/><stop offset=".613" stop-color="#71ff00"/><stop offset=".713" stop-color="#5eff00"/><stop offset=".825" stop-color="#52ff00"/><stop offset="1" stop-color="#53ff00"/></linearGradient><linearGradient id="g190"><stop offset="0" stop-color="#ff6d00"/><stop offset=".131" stop-color="#ffc400"/><stop offset=".238" stop-color="#feff00"/><stop offset=".338" stop-color="#cdff00"/><stop offset=".444" stop-color="#a2ff00"/><stop offset=".531" stop-color="#85ff00"/><stop offset=".638" stop-color="#6aff00"/><stop offset=".825" stop-color="#50ff00"/><stop offset="1" stop-color="#51ff00"/></linearGradient><linearGradient id="g191"><stop offset="0" stop-color="#ff6d00"/><stop offset=".138" stop-color="#ffc800"/><stop offset=".238" stop-color="#feff00"/><stop offset=".331" stop-color="#cfff00"/><stop offset=".425" stop-color="#a8ff00"/><stop offset=".544" stop-color="#80ff00"/><stop offset=".631" stop-color="#6aff00"/><stop offset=".744" stop-color="#56ff00"/><stop offset=".825" stop-color="#4eff00"/><stop offset="1" stop-color="#4eff00"/></linearGradient><linearGradient id="g192"><stop offset="0" stop-color="#ff6d00"/><stop offset=".119" stop-color="#ffbd00"/><stop offset=".238" stop-color="#fdff00"/><stop offset=".325" stop-color="#d1ff00"/><stop offset=".438" stop-color="#a2ff00"/><stop offset=".619" stop-color="#6bff00"/><stop offset=".788" stop-color="#4fff00"/><stop offset=".881" stop-color="#49ff00"/><stop offset="1" stop-color="#4cff00"/></linearGradient><linearGradient id="g193"><stop offset="0" stop-color="#ff6d00"/><stop offset=".138" stop-color="#ffc900"/><stop offset=".231" stop-color="#ffff00"/><stop offset=".325" stop-color="#d0ff00"/><stop offset=".431" stop-color="#a3ff00"/><stop offset=".544" stop-color="#7dff00"/><stop offset=".638" stop-color="#65ff00"/><stop offset=".744" stop-color="#52ff00"/><stop offset=".831" stop-color="#49ff00"/><stop offset="1" stop-color="#49ff00"/></linearGradient><linearGradient id="g194"><stop offset="0" stop-color="#ff6d00"/><stop offset=".125" stop-color="#ffc200"/><stop offset=".231" stop-color="#ffff00"/><stop offset=".331" stop-color="#ccff00"/><stop offset=".413" stop-color="#a9ff00"/><stop offset=".506" stop-color="#87ff00"/><stop offset=".6" stop-color="#6cff00"/><stop offset=".681" stop-color="#5aff00"/><stop offset=".812" stop-color="#48ff00"/><stop offset="1" stop-color="#46ff00"/></linearGradient><linearGradient id="g195"><stop offset="0" stop-color="#ff6e00"/><stop offset=".15" stop-color="#ffd200"/><stop offset=".231" stop-color="#feff00"/><stop offset=".388" stop-color="#b2ff00"/><stop offset=".475" stop-color="#90ff00"/><stop offset=".6" stop-color="#6aff00"/><stop offset=".788" stop-color="#48ff00"/><stop offset=".894" stop-color="#41ff00"/><stop offset="1" stop-color="#43ff00"/></linearGradient><linearGradient id="g196"><stop offset="0" stop-color="#ff6e00"/><stop offset=".144" stop-color="#ffcf00"/><stop offset=".231" stop-color="#fdff00"/><stop offset=".413" stop-color="#a6ff00"/><stop offset=".6" stop-color="#68ff00"/><stop offset=".713" stop-color="#50ff00"/><stop offset=".812" stop-color="#43ff00"/><stop offset=".9" stop-color="#3eff00"/><stop offset="1" stop-color="#40ff00"/></linearGradient><linearGradient id="g197"><stop offset="0" stop-color="#ff6f00"/><stop offset=".088" stop-color="#ffac00"/><stop offset=".225" stop-color="#ffff00"/><stop offset=".306" stop-color="#d4ff00"/><stop offset=".406" stop-color="#a7ff00"/><stop offset=".494" stop-color="#86ff00"/><stop offset=".6" stop-color="#66ff00"/><stop offset=".694" stop-color="#51ff00"/><stop offset=".806" stop-color="#41ff00"/><stop offset=".906" stop-color="#3bff00"/><stop offset="1" stop-color="#3dff00"/></linearGradient><linearGradient id="g198"><stop offset="0" stop-color="#ff6f00"/><stop offset=".094" stop-color="#ffb100"/><stop offset=".225" stop-color="#feff00"/><stop offset=".4" stop-color="#a8ff00"/><stop offset=".494" stop-color="#84ff00"/><stop offset=".606" stop-color="#62ff00"/><stop offset=".719" stop-color="#4aff00"/><stop offset=".819" stop-color="#3dff00"/><stop offset=".906" stop-color="#38ff00"/><stop offset="1" stop-color="#3aff00"/></linearGradient><linearGradient id="g199"><stop offset="0" stop-color="#ff7000"/><stop offset=".15" stop-color="#ffd600"/><stop offset=".225" stop-color="#fcff00"/><stop offset=".306" stop-color="#d1ff00"/><stop offset=".413" stop-color="#a1ff00"/><stop offset=".494" stop-color="#82ff00"/><stop offset=".625" stop-color="#5bff00"/><stop offset=".819" stop-color="#3aff00"/><stop offset="1" stop-color="#36ff00"/></linearGradient><linearGradient id="g200"><stop offset="0" stop-color="#ff7100"/><stop offset=".088" stop-color="#ffaf00"/><stop offset=".219" stop-color="#feff00"/><stop offset=".413" stop-color="#9fff00"/><stop offset=".488" stop-color="#82ff00"/><stop offset=".619" stop-color="#5aff00"/><stop offset=".8" stop-color="#39ff00"/><stop offset=".894" stop-color="#32ff00"/><stop offset="1" stop-color="#33ff00"/></linearGradient><linearGradient id="g201"><stop offset="0" stop-color="#ff7200"/><stop offset=".081" stop-color="#ffac00"/><stop offset=".219" stop-color="#fdff00"/><stop offset=".294" stop-color="#d4ff00"/><stop offset=".413" stop-color="#9dff00"/><stop offset=".519" stop-color="#75ff00"/><stop offset=".625" stop-color="#56ff00"/><stop offset=".713" stop-color="#43ff00"/><stop offset=".819" stop-color="#34ff00"/><stop offset="1" stop-color="#2fff00"/></linearGradient><linearGradient id="g202"><stop offset="0" stop-color="#ff7300"/><stop offset=".106" stop-color="#ffbe00"/><stop offset=".213" stop-color="#ffff00"/><stop offset=".375" stop-color="#abff00"/><stop offset=".475" stop-color="#82ff00"/><stop offset=".581" stop-color="#5fff00"/><stop offset=".688" stop-color="#45ff00"/><stop offset=".775" stop-color="#36ff00"/><stop offset=".881" stop-color="#2cff00"/><stop offset="1" stop-color="#2cff00"/></linearGradient><linearGradient id="g203"><stop offset="0" stop-color="#ff7400"/><stop offset=".094" stop-color="#ffb700"/><stop offset=".213" stop-color="#fdff00"/><stop offset=".3" stop-color="#cdff00"/><stop offset=".419" stop-color="#96ff00"/><stop offset=".519" stop-color="#70ff00"/><stop offset=".619" stop-color="#52ff00"/><stop offset=".806" stop-color="#2fff00"/><stop offset=".919" stop-color="#27ff00"/><stop offset="1" stop-color="#28ff00"/></linearGradient><linearGradient id="g204"><stop offset="0" stop-color="#ff7500"/><stop offset=".106" stop-color="#ffc100"/><stop offset=".206" stop-color="#ffff00"/><stop offset=".388" stop-color="#a1ff00"/><stop offset=".5" stop-color="#74ff00"/><stop offset=".594" stop-color="#56ff00"/><stop offset=".688" stop-color="#3fff00"/><stop offset=".794" stop-color="#2dff00"/><stop offset=".9" stop-color="#24ff00"/><stop offset="1" stop-color="#24ff00"/></linearGradient><linearGradient id="g205"><stop offset="0" stop-color="#ff7700"/><stop offset=".125" stop-color="#ffcf00"/><stop offset=".206" stop-color="#fdff00"/><stop offset=".294" stop-color="#ccff00"/><stop offset=".394" stop-color="#9cff00"/><stop offset=".513" stop-color="#6dff00"/><stop offset=".613" stop-color="#4eff00"/><stop offset=".706" stop-color="#38ff00"/><stop offset=".806" stop-color="#28ff00"/><stop offset=".906" stop-color="#20ff00"/><stop offset="1" stop-color="#20ff00"/></linearGradient><linearGradient id="g206"><stop offset="0" stop-color="#ff7800"/><stop offset=".1" stop-color="#ffc000"/><stop offset=".2" stop-color="#ffff00"/><stop offset=".381" stop-color="#9fff00"/><stop offset=".475" stop-color="#78ff00"/><stop offset=".588" stop-color="#52ff00"/><stop offset=".681" stop-color="#3aff00"/><stop offset=".788" stop-color="#27ff00"/><stop offset=".913" stop-color="#1cff00"/><stop offset="1" stop-color="#1cff00"/></linearGradient><linearGradient id="g207"><stop offset="0" stop-color="#ff7a00"/><stop offset=".1" stop-color="#ffc200"/><stop offset=".2" stop-color="#fdff00"/><stop offset=".306" stop-color="#c1ff00"/><stop offset=".4" stop-color="#94ff00"/><stop offset=".494" stop-color="#6eff00"/><stop offset=".594" stop-color="#4dff00"/><stop offset=".713" stop-color="#30ff00"/><stop offset=".806" stop-color="#21ff00"/><stop offset=".913" stop-color="#18ff00"/><stop offset="1" stop-color="#18ff00"/></linearGradient><linearGradient id="g208"><stop offset="0" stop-color="#ff7c00"/><stop offset=".106" stop-color="#ffc800"/><stop offset=".194" stop-color="#feff00"/><stop offset=".294" stop-color="#c5ff00"/><stop offset=".388" stop-color="#97ff00"/><stop offset=".494" stop-color="#6bff00"/><stop offset=".6" stop-color="#48ff00"/><stop offset=".7" stop-color="#2fff00"/><stop offset=".8" stop-color="#1eff00"/><stop offset=".913" stop-color="#14ff00"/><stop offset="1" stop-color="#14ff00"/></linearGradient><linearGradient id="g209"><stop offset="0" stop-color="#ff7d00"/><stop offset=".138" stop-color="#ffdf00"/><stop offset=".194" stop-color="#fcff00"/><stop offset=".306" stop-color="#bcff00"/><stop offset=".413" stop-color="#89ff00"/><stop offset=".494" stop-color="#68ff00"/><stop offset=".613" stop-color="#41ff00"/><stop offset=".8" stop-color="#1aff00"/><stop offset=".894" stop-color="#11ff00"/><stop offset="1" stop-color="#0fff00"/></linearGradient><linearGradient id="g210"><stop offset="0" stop-color="#ff7f00"/><stop offset=".1" stop-color="#ffc800"/><stop offset=".188" stop-color="#fdff00"/><stop offset=".312" stop-color="#b6ff00"/><stop offset=".413" stop-color="#86ff00"/><stop offset=".594" stop-color="#43ff00"/><stop offset=".681" stop-color="#2cff00"/><stop offset=".794" stop-color="#17ff00"/><stop offset=".888" stop-color="#0dff00"/><stop offset="1" stop-color="#0bff00"/></linearGradient><linearGradient id="g211"><stop offset="0" stop-color="#ff8100"/><stop offset=".094" stop-color="#ffc600"/><stop offset=".181" stop-color="#ffff00"/><stop offset=".281" stop-color="#c4ff00"/><stop offset=".413" stop-color="#83ff00"/><stop offset=".506" stop-color="#5dff00"/><stop offset=".613" stop-color="#3aff00"/><stop offset=".8" stop-color="#12ff00"/><stop offset=".9" stop-color="#08ff00"/><stop offset="1" stop-color="#06ff00"/></linearGradient><linearGradient id="g212"><stop offset="0" stop-color="#ff8300"/><stop offset=".113" stop-color="#ffd500"/><stop offset=".181" stop-color="#fcff00"/><stop offset=".3" stop-color="#b7ff00"/><stop offset=".413" stop-color="#80ff00"/><stop offset=".6" stop-color="#3aff00"/><stop offset=".7" stop-color="#20ff00"/><stop offset=".806" stop-color="#0dff00"/><stop offset=".894" stop-color="#04ff00"/><stop offset="1" stop-color="#01ff00"/></linearGradient><linearGradient id="g213"><stop offset="0" stop-color="#ff8500"/><stop offset=".1" stop-color="#ffcf00"/><stop offset=".175" stop-color="#feff00"/><stop offset=".3" stop-color="#b4ff00"/><stop offset=".381" stop-color="#8bff00"/><stop offset=".506" stop-color="#56ff00"/><stop offset=".625" stop-color="#2fff00"/><stop offset=".719" stop-color="#18ff00"/><stop offset=".819" stop-color="#07ff00"/><stop offset=".888" stop-color="#00ff00"/><stop offset="1" stop-color="#00ff03"/></linearGradient><linearGradient id="g214"><stop offset="0" stop-color="#ff8800"/><stop offset=".169" stop-color="#ffff00"/><stop offset=".3" stop-color="#b1ff00"/><stop offset=".4" stop-color="#7fff00"/><stop offset=".5" stop-color="#55ff00"/><stop offset=".619" stop-color="#2dff00"/><stop offset=".738" stop-color="#10ff00"/><stop offset=".831" stop-color="#01ff00"/><stop offset="1" stop-color="#00ff08"/></linearGradient><linearGradient id="g215"><stop offset="0" stop-color="#ff8a00"/><stop offset=".081" stop-color="#ffc700"/><stop offset=".169" stop-color="#fcff00"/><stop offset=".3" stop-color="#aeff00"/><stop offset=".419" stop-color="#73ff00"/><stop offset=".519" stop-color="#4aff00"/><stop offset=".619" stop-color="#29ff00"/><stop offset=".806" stop-color="#00ff00"/><stop offset=".913" stop-color="#00ff0b"/><stop offset="1" stop-color="#00ff0d"/></linearGradient><linearGradient id="g216"><stop offset="0" stop-color="#ff8d00"/><stop offset=".1" stop-color="#ffd700"/><stop offset=".163" stop-color="#fdff00"/><stop offset=".269" stop-color="#bcff00"/><stop offset=".4" stop-color="#78ff00"/><stop offset=".506" stop-color="#4bff00"/><stop offset=".625" stop-color="#23ff00"/><stop offset=".781" stop-color="#00ff00"/><stop offset=".875" stop-color="#00ff0d"/><stop offset="1" stop-color="#00ff12"/></linearGradient><linearGradient id="g217"><stop offset="0" stop-color="#ff8f00"/><stop offset=".156" stop-color="#feff00"/><stop offset=".306" stop-color="#a4ff00"/><stop offset=".425" stop-color="#69ff00"/><stop offset=".525" stop-color="#40ff00"/><stop offset=".631" stop-color="#1dff00"/><stop offset=".756" stop-color="#00ff00"/><stop offset=".888" stop-color="#00ff13"/><stop offset="1" stop-color="#00ff17"/></linearGradient><linearGradient id="g218"><stop offset="0" stop-color="#ff9200"/><stop offset=".15" stop-color="#ffff00"/><stop offset=".263" stop-color="#b9ff00"/><stop offset=".419" stop-color="#68ff00"/><stop offset=".544" stop-color="#35ff00"/><stop offset=".638" stop-color="#17ff00"/><stop offset=".731" stop-color="#00ff00"/><stop offset=".85" stop-color="#00ff14"/><stop offset="1" stop-color="#00ff1d"/></linearGradient><linearGradient id="g219"><stop offset="0" stop-color="#ff9500"/><stop offset=".106" stop-color="#ffe400"/><stop offset=".15" stop-color="#fcff00"/><stop offset=".269" stop-color="#b2ff00"/><stop offset=".375" stop-color="#79ff00"/><stop offset=".506" stop-color="#3fff00"/><stop offset=".619" stop-color="#18ff00"/><stop offset=".713" stop-color="#00ff01"/><stop offset=".85" stop-color="#00ff19"/><stop offset="1" stop-color="#00ff22"/></linearGradient><linearGradient id="g220"><stop offset="0" stop-color="#ff9700"/><stop offset=".088" stop-color="#ffda00"/><stop offset=".144" stop-color="#fdff00"/><stop offset=".281" stop-color="#a7ff00"/><stop offset=".381" stop-color="#72ff00"/><stop offset=".519" stop-color="#36ff00"/><stop offset=".638" stop-color="#0eff00"/><stop offset=".694" stop-color="#00ff01"/><stop offset=".85" stop-color="#00ff1e"/><stop offset="1" stop-color="#00ff28"/></linearGradient><linearGradient id="g221"><stop offset="0" stop-color="#ff9a00"/><stop offset=".138" stop-color="#feff00"/><stop offset=".256" stop-color="#b2ff00"/><stop offset=".381" stop-color="#6eff00"/><stop offset=".513" stop-color="#34ff00"/><stop offset=".625" stop-color="#0dff00"/><stop offset=".675" stop-color="#00ff01"/><stop offset=".819" stop-color="#00ff1f"/><stop offset="1" stop-color="#00ff2d"/></linearGradient><linearGradient id="g222"><stop offset="0" stop-color="#ff9e00"/><stop offset=".131" stop-color="#ffff00"/><stop offset=".25" stop-color="#b2ff00"/><stop offset=".381" stop-color="#6aff00"/><stop offset=".537" stop-color="#26ff00"/><stop offset=".65" stop-color="#01ff00"/><stop offset=".838" stop-color="#00ff27"/><stop offset="1" stop-color="#00ff33"/></linearGradient><linearGradient id="g223"><stop offset="0" stop-color="#ffa100"/><stop offset=".1" stop-color="#ffed00"/><stop offset=".131" stop-color="#fbff00"/><stop offset=".25" stop-color="#aeff00"/><stop offset=".375" stop-color="#69ff00"/><stop offset=".506" stop-color="#2eff00"/><stop offset=".638" stop-color="#00ff00"/><stop offset=".719" stop-color="#00ff16"/><stop offset=".85" stop-color="#00ff2e"/><stop offset="1" stop-color="#00ff39"/></linearGradient><linearGradient id="g224"><stop offset="0" stop-color="#ffa400"/><stop offset=".094" stop-color="#ffec00"/><stop offset=".125" stop-color="#fcff00"/><stop offset=".244" stop-color="#aeff00"/><stop offset=".369" stop-color="#68ff00"/><stop offset=".506" stop-color="#29ff00"/><stop offset=".619" stop-color="#01ff00"/><stop offset=".731" stop-color="#00ff1e"/><stop offset=".819" stop-color="#00ff2f"/><stop offset="1" stop-color="#00ff3e"/></linearGradient><linearGradient id="g225"><stop offset="0" stop-color="#ffa700"/><stop offset=".119" stop-color="#fdff00"/><stop offset=".25" stop-color="#a6ff00"/><stop offset=".356" stop-color="#6aff00"/><stop offset=".488" stop-color="#2cff00"/><stop offset=".606" stop-color="#00ff00"/><stop offset=".788" stop-color="#00ff2f"/><stop offset=".9" stop-color="#00ff3f"/><stop offset="1" stop-color="#00ff44"/></linearGradient><linearGradient id="g226"><stop offset="0" stop-color="#ffab00"/><stop offset=".113" stop-color="#feff00"/><stop offset=".25" stop-color="#a2ff00"/><stop offset=".35" stop-color="#69ff00"/><stop offset=".481" stop-color="#2aff00"/><stop offset=".588" stop-color="#01ff00"/><stop offset=".7" stop-color="#00ff21"/><stop offset=".806" stop-color="#00ff38"/><stop offset=".913" stop-color="#00ff46"/><stop offset="1" stop-color="#00ff4b"/></linearGradient><linearGradient id="g227"><stop offset="0" stop-color="#ffae00"/><stop offset=".106" stop-color="#feff00"/><stop offset=".169" stop-color="#d2ff00"/><stop offset=".325" stop-color="#72ff00"/><stop offset=".45" stop-color="#33ff00"/><stop offset=".575" stop-color="#01ff00"/><stop offset=".669" stop-color="#00ff1e"/><stop offset=".781" stop-color="#00ff39"/><stop offset=".894" stop-color="#00ff4a"/><stop offset="1" stop-color="#00ff51"/></linearGradient><linearGradient id="g228"><stop offset="0" stop-color="#ffb200"/><stop offset=".1" stop-color="#ffff00"/><stop offset=".2" stop-color="#b9ff00"/><stop offset=".331" stop-color="#6aff00"/><stop offset=".444" stop-color="#31ff00"/><stop offset=".562" stop-color="#00ff00"/><stop offset=".675" stop-color="#00ff25"/><stop offset=".794" stop-color="#00ff41"/><stop offset=".894" stop-color="#00ff50"/><stop offset="1" stop-color="#00ff57"/></linearGradient><linearGradient id="g229"><stop offset="0" stop-color="#ffb600"/><stop offset=".094" stop-color="#ffff00"/><stop offset=".188" stop-color="#bdff00"/><stop offset=".338" stop-color="#62ff00"/><stop offset=".444" stop-color="#2cff00"/><stop offset=".55" stop-color="#00ff01"/><stop offset=".663" stop-color="#00ff27"/><stop offset=".769" stop-color="#00ff42"/><stop offset=".875" stop-color="#00ff54"/><stop offset="1" stop-color="#00ff5d"/></linearGradient><linearGradient id="g230"><stop offset="0" stop-color="#ffba00"/><stop offset=".075" stop-color="#fff500"/><stop offset=".094" stop-color="#fbff00"/><stop offset=".175" stop-color="#c1ff00"/><stop offset=".294" stop-color="#76ff00"/><stop offset=".413" stop-color="#36ff00"/><stop offset=".531" stop-color="#01ff00"/><stop offset=".644" stop-color="#00ff27"/><stop offset=".775" stop-color="#00ff49"/><stop offset=".875" stop-color="#00ff5a"/><stop offset="1" stop-color="#00ff64"/></linearGradient><linearGradient id="g231"><stop offset="0" stop-color="#ffbe00"/><stop offset=".081" stop-color="#fffe00"/><stop offset=".088" stop-color="#fcff00"/><stop offset=".194" stop-color="#b0ff00"/><stop offset=".306" stop-color="#6aff00"/><stop offset=".406" stop-color="#34ff00"/><stop offset=".519" stop-color="#01ff00"/><stop offset=".675" stop-color="#00ff36"/><stop offset=".756" stop-color="#00ff4b"/><stop offset=".888" stop-color="#00ff62"/><stop offset="1" stop-color="#00ff6a"/></linearGradient><linearGradient id="g232"><stop offset="0" stop-color="#ffc200"/><stop offset=".081" stop-color="#fcff00"/><stop offset=".206" stop-color="#a3ff00"/><stop offset=".306" stop-color="#65ff00"/><stop offset=".4" stop-color="#32ff00"/><stop offset=".506" stop-color="#01ff00"/><stop offset=".606" stop-color="#00ff26"/><stop offset=".756" stop-color="#00ff51"/><stop offset=".863" stop-color="#00ff65"/><stop offset="1" stop-color="#00ff71"/></linearGradient><linearGradient id="g233"><stop offset="0" stop-color="#ffc600"/><stop offset=".075" stop-color="#fcff00"/><stop offset=".188" stop-color="#abff00"/><stop offset=".306" stop-color="#60ff00"/><stop offset=".394" stop-color="#30ff00"/><stop offset=".494" stop-color="#01ff00"/><stop offset=".613" stop-color="#00ff2e"/><stop offset=".769" stop-color="#00ff5a"/><stop offset=".881" stop-color="#00ff6e"/><stop offset="1" stop-color="#00ff78"/></linearGradient><linearGradient id="g234"><stop offset="0" stop-color="#ffca00"/><stop offset=".069" stop-color="#fdff00"/><stop offset=".169" stop-color="#b3ff00"/><stop offset=".281" stop-color="#6aff00"/><stop offset=".388" stop-color="#2eff00"/><stop offset=".481" stop-color="#01ff00"/><stop offset=".619" stop-color="#00ff36"/><stop offset=".738" stop-color="#00ff59"/><stop offset=".863" stop-color="#00ff72"/><stop offset="1" stop-color="#00ff7f"/></linearGradient><linearGradient id="g235"><stop offset="0" stop-color="#ffcf00"/><stop offset=".062" stop-color="#fdff00"/><stop offset=".156" stop-color="#b7ff00"/><stop offset=".288" stop-color="#61ff00"/><stop offset=".469" stop-color="#01ff00"/><stop offset=".619" stop-color="#00ff3c"/><stop offset=".725" stop-color="#00ff5c"/><stop offset=".894" stop-color="#00ff7d"/><stop offset="1" stop-color="#00ff86"/></linearGradient><linearGradient id="g236"><stop offset="0" stop-color="#ffd300"/><stop offset=".056" stop-color="#fdff00"/><stop offset=".156" stop-color="#b2ff00"/><stop offset=".256" stop-color="#6fff00"/><stop offset=".369" stop-color="#2dff00"/><stop offset=".456" stop-color="#01ff00"/><stop offset=".594" stop-color="#00ff39"/><stop offset=".731" stop-color="#00ff64"/><stop offset=".888" stop-color="#00ff83"/><stop offset="1" stop-color="#00ff8d"/></linearGradient><linearGradient id="g237"><stop offset="0" stop-color="#ffd800"/><stop offset=".05" stop-color="#fdff00"/><stop offset=".156" stop-color="#adff00"/><stop offset=".269" stop-color="#62ff00"/><stop offset=".444" stop-color="#01ff00"/><stop offset=".588" stop-color="#00ff3d"/><stop offset=".725" stop-color="#00ff69"/><stop offset=".881" stop-color="#00ff89"/><stop offset="1" stop-color="#00ff94"/></linearGradient><linearGradient id="g238"><stop offset="0" stop-color="#ffdd00"/><stop offset=".044" stop-color="#feff00"/><stop offset=".213" stop-color="#81ff00"/><stop offset=".331" stop-color="#37ff00"/><stop offset=".438" stop-color="#00ff02"/><stop offset=".569" stop-color="#00ff3c"/><stop offset=".713" stop-color="#00ff6c"/><stop offset=".844" stop-color="#00ff8a"/><stop offset="1" stop-color="#00ff9b"/></linearGradient><linearGradient id="g239"><stop offset="0" stop-color="#ffe100"/><stop offset=".038" stop-color="#feff00"/><stop offset=".131" stop-color="#b5ff00"/><stop offset=".238" stop-color="#6bff00"/><stop offset=".356" stop-color="#23ff00"/><stop offset=".425" stop-color="#00ff01"/><stop offset=".581" stop-color="#00ff47"/><stop offset=".706" stop-color="#00ff71"/><stop offset=".844" stop-color="#00ff91"/><stop offset="1" stop-color="#00ffa3"/></linearGradient><linearGradient id="g240"><stop offset="0" stop-color="#ffe600"/><stop offset=".031" stop-color="#feff00"/><stop offset=".1" stop-color="#c7ff00"/><stop offset=".219" stop-color="#72ff00"/><stop offset=".3" stop-color="#3eff00"/><stop offset=".413" stop-color="#00ff01"/><stop offset=".55" stop-color="#00ff41"/><stop offset=".7" stop-color="#00ff76"/><stop offset=".844" stop-color="#00ff98"/><stop offset="1" stop-color="#00ffaa"/></linearGradient><linearGradient id="g241"><stop offset="0" stop-color="#ffeb00"/><stop offset=".025" stop-color="#feff00"/><stop offset=".106" stop-color="#bdff00"/><stop offset=".231" stop-color="#64ff00"/><stop offset=".4" stop-color="#00ff00"/><stop offset=".544" stop-color="#00ff45"/><stop offset=".688" stop-color="#00ff79"/><stop offset=".838" stop-color="#00ff9e"/><stop offset="1" stop-color="#00ffb2"/></linearGradient><linearGradient id="g242"><stop offset="0" stop-color="#fff000"/><stop offset=".019" stop-color="#feff00"/><stop offset=".113" stop-color="#b3ff00"/><stop offset=".213" stop-color="#6bff00"/><stop offset=".388" stop-color="#00ff00"/><stop offset=".513" stop-color="#00ff3e"/><stop offset=".681" stop-color="#00ff7e"/><stop offset=".825" stop-color="#00ffa3"/><stop offset="1" stop-color="#00ffba"/></linearGradient><linearGradient id="g243"><stop offset="0" stop-color="#fff600"/><stop offset=".013" stop-color="#feff00"/><stop offset=".1" stop-color="#b7ff00"/><stop offset=".219" stop-color="#61ff00"/><stop offset=".375" stop-color="#01ff00"/><stop offset=".525" stop-color="#00ff4a"/><stop offset=".681" stop-color="#00ff85"/><stop offset=".844" stop-color="#00ffae"/><stop offset="1" stop-color="#00ffc1"/></linearGradient><linearGradient id="g244"><stop offset="0" stop-color="#fffb00"/><stop offset=".006" stop-color="#feff00"/><stop offset=".119" stop-color="#a3ff00"/><stop offset=".219" stop-color="#5bff00"/><stop offset=".369" stop-color="#00ff02"/><stop offset=".537" stop-color="#00ff56"/><stop offset=".694" stop-color="#00ff90"/><stop offset=".869" stop-color="#00ffba"/><stop offset="1" stop-color="#00ffc9"/></linearGradient><linearGradient id="g245"><stop offset="0" stop-color="#feff00"/><stop offset=".106" stop-color="#a7ff00"/><stop offset=".2" stop-color="#62ff00"/><stop offset=".356" stop-color="#00ff01"/><stop offset=".506" stop-color="#00ff4f"/><stop offset=".663" stop-color="#00ff8d"/><stop offset=".819" stop-color="#00ffb8"/><stop offset="1" stop-color="#00ffd1"/></linearGradient><linearGradient id="g246"><stop offset="0" stop-color="#f8ff00"/><stop offset=".15" stop-color="#80ff00"/><stop offset=".25" stop-color="#3aff00"/><stop offset=".344" stop-color="#00ff00"/><stop offset=".5" stop-color="#00ff53"/><stop offset=".65" stop-color="#00ff90"/><stop offset=".825" stop-color="#00ffc1"/><stop offset="1" stop-color="#00ffda"/></linearGradient><linearGradient id="g247"><stop offset="0" stop-color="#f3ff00"/><stop offset=".15" stop-color="#7aff00"/><stop offset=".238" stop-color="#3cff00"/><stop offset=".331" stop-color="#01ff00"/><stop offset=".488" stop-color="#00ff54"/><stop offset=".644" stop-color="#00ff95"/><stop offset=".812" stop-color="#00ffc6"/><stop offset="1" stop-color="#00ffe2"/></linearGradient><linearGradient id="g248"><stop offset="0" stop-color="#edff00"/><stop offset=".169" stop-color="#66ff00"/><stop offset=".263" stop-color="#25ff00"/><stop offset=".325" stop-color="#00ff02"/><stop offset=".419" stop-color="#00ff38"/><stop offset=".537" stop-color="#00ff72"/><stop offset=".663" stop-color="#00ffa3"/><stop offset=".75" stop-color="#00ffbe"/><stop offset=".856" stop-color="#00ffd7"/><stop offset="1" stop-color="#00ffea"/></linearGradient><linearGradient id="g249"><stop offset="0" stop-color="#e7ff00"/><stop offset=".156" stop-color="#69ff00"/><stop offset=".312" stop-color="#00ff01"/><stop offset=".481" stop-color="#00ff5f"/><stop offset=".644" stop-color="#00ffa4"/><stop offset=".819" stop-color="#00ffd7"/><stop offset="1" stop-color="#00fff2"/></linearGradient><linearGradient id="g250"><stop offset="0" stop-color="#e1ff00"/><stop offset=".163" stop-color="#5eff00"/><stop offset=".3" stop-color="#00ff00"/><stop offset=".475" stop-color="#00ff63"/><stop offset=".656" stop-color="#00ffb0"/><stop offset=".831" stop-color="#00ffe2"/><stop offset="1" stop-color="#00fffb"/></linearGradient><linearGradient id="g251"><stop offset="0" stop-color="#dbff00"/><stop offset=".15" stop-color="#61ff00"/><stop offset=".288" stop-color="#01ff00"/><stop offset=".463" stop-color="#00ff64"/><stop offset=".556" stop-color="#00ff90"/><stop offset=".663" stop-color="#00ffba"/><stop offset=".85" stop-color="#00ffee"/><stop offset=".938" stop-color="#00fffd"/><stop offset="1" stop-color="#00faff"/></linearGradient><linearGradient id="g252"><stop offset="0" stop-color="#d5ff00"/><stop offset=".138" stop-color="#64ff00"/><stop offset=".281" stop-color="#00ff01"/><stop offset=".456" stop-color="#00ff68"/><stop offset=".55" stop-color="#00ff95"/><stop offset=".669" stop-color="#00ffc4"/><stop offset=".769" stop-color="#00ffe3"/><stop offset=".863" stop-color="#00fff9"/><stop offset=".9" stop-color="#00ffff"/><stop offset="1" stop-color="#00f2ff"/></linearGradient><linearGradient id="g253"><stop offset="0" stop-color="#d1ff00"/><stop offset=".15" stop-color="#56ff00"/><stop offset=".275" stop-color="#00ff02"/><stop offset=".381" stop-color="#00ff44"/><stop offset=".488" stop-color="#00ff7d"/><stop offset=".656" stop-color="#00ffc5"/><stop offset=".756" stop-color="#00ffe5"/><stop offset=".85" stop-color="#00fffc"/><stop offset="1" stop-color="#00ecff"/></linearGradient><linearGradient id="lg254"><stop offset="0" stop-color="#0000ff"/><stop offset="0.5" stop-color="#00ff00"/><stop offset="1" stop-color="#ff0000"/></linearGradient><linearGradient id="lg255"><stop offset="0" stop-color="#0000ff"/><stop offset="0.5" stop-color="#00ff00"/><stop offset="1" stop-color="#ff0000"/></linearGradient><linearGradient id="lg256"><stop offset="0" stop-color="#0000ff"/><stop offset="0.5" stop-color="#00ff00"/><stop offset="1" stop-color="#ff0000"/></linearGradient><linearGradient id="lv257" x1="0" y1="1" x2="0" y2="0"><stop offset="0" stop-color="#0000ff"/><stop offset="0.5" stop-color="#00ff00"/><stop offset="1" stop-color="#ff0000"/></linearGradient><linearGradient id="lv258" x1="0" y1="1" x2="0" y2="0"><stop offset="0" stop-color="#0000ff"/><stop offset="0.5" stop-color="#00ff00"/><stop offset="1" stop-color="#ff0000"/></linearGradient><linearGradient id="lv259" x1="0" y1="1" x2="0" y2="0"><stop offset="0" stop-color="#0000ff"/><stop offset="0.5" stop-color="#00ff00"/><stop offset="1" stop-color="#ff0000"/></linearGradient></defs><rect width="685" height="1027" fill="#fff"/><g id="pA">
<line x1="43.9" y1="203.1" x2="35" y2="31" stroke="#383838" stroke-width="0.62"/>
<line x1="68.4" y1="153.4" x2="63" y2="25" stroke="#383838" stroke-width="0.62"/>
<line x1="95.1" y1="144.8" x2="91" y2="19" stroke="#383838" stroke-width="0.62"/>
<line x1="121.7" y1="136.2" x2="119" y2="13" stroke="#383838" stroke-width="0.62"/>
<line x1="148.4" y1="127.6" x2="147" y2="7" stroke="#383838" stroke-width="0.62"/>
<line x1="175" y1="156" x2="175" y2="1" stroke="#383838" stroke-width="0.62"/>
<line x1="41.8" y1="162" x2="175" y2="119" stroke="#383838" stroke-width="0.62"/>
<line x1="40.4" y1="135.8" x2="175" y2="95.4" stroke="#383838" stroke-width="0.62"/>
<line x1="39.1" y1="109.6" x2="175" y2="71.8" stroke="#383838" stroke-width="0.62"/>
<line x1="37.7" y1="83.4" x2="175" y2="48.2" stroke="#383838" stroke-width="0.62"/>
<line x1="36.4" y1="57.2" x2="175" y2="24.6" stroke="#383838" stroke-width="0.62"/>
<line x1="35" y1="31" x2="175" y2="1" stroke="#383838" stroke-width="0.62"/>
<line x1="306.4" y1="202.2" x2="315.5" y2="31" stroke="#383838" stroke-width="0.62"/>
<line x1="281.9" y1="152.8" x2="287.4" y2="25" stroke="#383838" stroke-width="0.62"/>
<line x1="255.1" y1="144.4" x2="259.3" y2="19" stroke="#383838" stroke-width="0.62"/>
<line x1="228.4" y1="135.9" x2="231.2" y2="13" stroke="#383838" stroke-width="0.62"/>
<line x1="201.7" y1="127.4" x2="203.1" y2="7" stroke="#383838" stroke-width="0.62"/>
<line x1="175" y1="156" x2="175" y2="1" stroke="#383838" stroke-width="0.62"/>
<line x1="175" y1="119" x2="308.6" y2="161.3" stroke="#383838" stroke-width="0.62"/>
<line x1="175" y1="95.4" x2="310" y2="135.2" stroke="#383838" stroke-width="0.62"/>
<line x1="175" y1="71.8" x2="311.3" y2="109.2" stroke="#383838" stroke-width="0.62"/>
<line x1="175" y1="48.2" x2="312.7" y2="83.1" stroke="#383838" stroke-width="0.62"/>
<line x1="175" y1="24.6" x2="314.1" y2="57.1" stroke="#383838" stroke-width="0.62"/>
<line x1="175" y1="1" x2="315.5" y2="31" stroke="#383838" stroke-width="0.62"/>
<polygon points="175,262.6 43.9,203.1 175,156 306.4,202.2" fill="#646464" stroke="#222" stroke-width="0.5"/>
<path d="M65.3 195.4 L67.1 196.4 L68.2 197 L70 197.9 L71.7 198.9 L72.9 199.5 L74.5 200.5 L76.2 201.5 L77.3 202.2 L78.9 203.2 L79.9 203.8 L81.5 204.9 L82.5 205.5 L83.8 206.4 L85 207.3 L86 208 L87.4 209.1 L88.4 209.8 L89.3 210.5 L90.6 211.6 L91.5 212.4 L92.4 213.1 L93.3 213.9 L94.4 214.9 L95.4 215.8 L96.2 216.6 L97 217.4 L97.8 218.2 L98.6 219 L99.5 219.9 L100.3 220.9 L101.1 221.8 L101.9 222.7 L102.6 223.5 L103.3 224.4 L103.9 225.2 L104.6 226.1 L105.2 226.9 L105.9 227.8 L106.5 228.7 L107 229.5 L107.5 230.3 L108 231.1 L108.5 231.9 L109 232.6" fill="none" stroke="#00f4ff" stroke-width="1.35" stroke-opacity="0.7"/>
<path d="M89.1 186.9 L91 187.7 L92.9 188.6 L94.7 189.5 L96.1 190.1 L97.8 190.9 L99.5 191.8 L101.3 192.8 L102.4 193.4 L104.1 194.3 L105.2 195 L106.8 195.9 L108.2 196.7 L109.5 197.5 L110.6 198.3 L112 199.2 L113 199.9 L114.5 200.9 L115.4 201.6 L116.4 202.3 L117.8 203.4 L118.7 204.1 L119.5 204.8 L120.5 205.7 L121.7 206.7 L122.5 207.4 L123.3 208.2 L124.1 208.9 L124.9 209.7 L125.8 210.6 L126.6 211.5 L127.5 212.4 L128.2 213.3 L128.9 214.1 L129.6 214.9 L130.3 215.7 L130.9 216.6 L131.5 217.4 L132.1 218.2 L132.7 219 L133.2 219.8 L133.7 220.6 L134.2 221.3 L134.7 222.2 L135.2 223.1 L135.7 224 L136.2 224.9 L136.6 225.7 L137 226.5 L137.4 227.3 L137.8 228.2 L138.2 229.2 L138.6 230 L138.8 230.7 L139.2 231.6 L139.6 232.6 L139.8 233.4 L140.1 234.1 L140.4 235.1 L140.7 236 L140.9 236.7 L141.1 237.6 L141.4 238.6 L141.6 239.3 L141.8 240.2 L142 241.2 L142.1 241.9 L142.3 242.9 L142.5 243.8 L142.6 244.5 L142.8 245.6 L142.9 246.3 L143 247.2 L143.1 248.1 L143.1 248.1" fill="none" stroke="#00ff6a" stroke-width="1.35" stroke-opacity="0.7"/>
<path d="M118.2 176.4 L120.3 177.2 L121.7 177.7 L123.7 178.4 L125.7 179.2 L127.6 180 L129.6 180.8 L130.8 181.3 L132.7 182.2 L134.5 183 L136.3 183.8 L137.8 184.6 L139.2 185.3 L140.9 186.2 L142 186.8 L143.7 187.7 L144.8 188.3 L146.3 189.3 L147.3 189.9 L148.8 190.9 L149.8 191.5 L150.9 192.3 L152.1 193.2 L153 193.9 L153.9 194.6 L155.1 195.6 L156.1 196.4 L156.9 197.1 L157.7 197.8 L158.5 198.6 L159.2 199.3 L160.1 200.2 L160.9 201 L161.6 201.9 L162.3 202.7 L162.9 203.5 L163.6 204.3 L164.1 205 L164.7 205.8 L165.2 206.5 L165.8 207.4 L166.3 208.2 L166.8 209.1 L167.3 210 L167.8 210.8 L168.2 211.5 L168.5 212.2 L168.9 213.1 L169.4 214 L169.7 214.9 L170 215.6 L170.3 216.3 L170.7 217.3 L171 218.1 L171.2 218.8 L171.5 219.7 L171.7 220.7 L171.9 221.3 L172.1 222.2 L172.3 223.2 L172.5 223.8 L172.7 224.8 L172.8 225.6 L172.9 226.3 L173.1 227.4 L173.2 228 L173.3 229 L173.4 229.8 L173.5 230.6 L173.6 231.5 L173.6 232.2 L173.7 233.3 L173.7 233.9 L173.8 235 L173.8 235.6 L173.8 236.7 L173.8 237.3 L173.8 238.4 L173.8 239.1 L173.7 240.2 L173.7 240.8 L173.7 241.9 L173.6 242.6 L173.5 243.6 L173.5 244.4 L173.4 245.3 L173.3 246.2 L173.2 247 L173.1 248 L173.1 248.6 L172.9 249.8 L172.8 250.5 L172.7 251.4 L172.6 252.4 L172.5 253.1 L172.3 254.2 L172.2 254.9 L172 255.8 L171.8 256.9 L171.7 257.5 L171.5 258.6 L171.3 259.5 L171.2 260.3 L171 260.8" fill="none" stroke="#41ff00" stroke-width="1.35" stroke-opacity="0.7"/>
<path d="M150.4 164.8 L152 165.2 L154.3 165.8 L156.3 166.4 L158.1 166.9 L160.4 167.5 L161.9 168 L164 168.6 L166.2 169.3 L168.3 170 L170.3 170.7 L172.3 171.4 L174.3 172.1 L176.2 172.9 L178.1 173.6 L179.9 174.4 L181.7 175.2 L182.9 175.8 L184.5 176.6 L185.8 177.3 L187.3 178.1 L188.5 178.8 L189.8 179.6 L190.8 180.2 L192.2 181.2 L193.1 181.8 L194 182.5 L194.9 183.2 L196.1 184.1 L196.9 184.9 L197.7 185.6 L198.5 186.3 L199.2 187 L199.9 187.8 L200.5 188.5 L201.2 189.3 L201.8 190.1 L202.4 190.9 L202.9 191.7 L203.5 192.5 L203.9 193.2 L204.3 193.9 L204.7 194.6 L205.2 195.5 L205.6 196.4 L205.9 197.1 L206.2 197.8 L206.5 198.6 L206.8 199.5 L207 200.2 L207.3 200.9 L207.5 201.9 L207.7 202.6 L207.9 203.3 L208.1 204.3 L208.2 204.9 L208.3 205.8 L208.5 206.6 L208.5 207.3 L208.6 208.3 L208.7 208.9 L208.8 209.9 L208.8 210.5 L208.8 211.5 L208.8 212.2 L208.8 213.2 L208.8 213.8 L208.8 214.8 L208.8 215.4 L208.7 216.5 L208.7 217 L208.6 218.1 L208.6 218.8 L208.5 219.7 L208.4 220.5 L208.3 221.3 L208.1 222.3 L208 222.9 L207.9 223.9 L207.8 224.7 L207.6 225.5 L207.4 226.5 L207.3 227.1 L207.1 228.1 L206.9 229 L206.8 229.6 L206.5 230.7 L206.4 231.5 L206.2 232.2 L205.9 233.3 L205.7 234 L205.5 234.8 L205.3 235.8 L205 236.6 L204.8 237.4 L204.5 238.4 L204.3 239.3 L204.1 239.9 L203.8 241 L203.5 241.9 L203.3 242.6 L203 243.5 L202.6 244.5 L202.4 245.3 L202.1 246.1 L201.8 247.1 L201.4 248.1 L201.2 248.8 L200.9 249.6 L200.5 250.7 L200.5 250.9" fill="none" stroke="#deff00" stroke-width="1.35" stroke-opacity="0.7"/>
<path d="M262.3 186.7 L262 187.6 L261.7 188.4 L261.5 189 L261.2 189.9 L260.8 190.8 L260.6 191.5 L260.3 192.2 L259.9 193.1 L259.5 194 L259.2 194.6 L258.9 195.3 L258.5 196.3 L258.1 197.2 L257.8 197.9 L257.5 198.6 L257.1 199.4 L256.6 200.3 L256.2 201.2 L255.9 201.9 L255.5 202.6 L255.1 203.5 L254.6 204.4 L254.2 205.3 L253.8 206 L253.4 206.7 L253 207.5 L252.6 208.4 L252.1 209.3 L251.6 210.2 L251.2 211 L250.8 211.7 L250.4 212.5 L249.9 213.4 L249.4 214.3 L248.9 215.2 L248.5 216 L248.1 216.7 L247.7 217.5 L247.2 218.4 L246.7 219.3 L246.1 220.2 L245.6 221.1 L245.2 221.9 L244.8 222.7 L244.3 223.4 L243.8 224.3 L243.3 225.2 L242.8 226.2 L242.3 227.1 L241.8 227.9 L241.3 228.7 L240.9 229.5 L240.4 230.3 L239.9 231.2 L239.4 232.1 L238.8 233.1 L238.7 233.3" fill="none" stroke="#ff8400" stroke-width="1.35" stroke-opacity="0.7"/>
<circle cx="175" cy="262.6" r="1.25" fill="#000"/>
<text x="178" y="268.4" style='font-family:"Liberation Sans",sans-serif;font-size:5px' fill="#222" text-anchor="start">50</text>
<circle cx="201.3" cy="250.5" r="1.25" fill="#000"/>
<text x="204.3" y="256.3" style='font-family:"Liberation Sans",sans-serif;font-size:5px' fill="#222" text-anchor="start">70</text>
<circle cx="227.6" cy="238.4" r="1.25" fill="#000"/>
<text x="230.6" y="244.2" style='font-family:"Liberation Sans",sans-serif;font-size:5px' fill="#222" text-anchor="start">90</text>
<circle cx="253.8" cy="226.4" r="1.25" fill="#000"/>
<text x="256.8" y="232.2" style='font-family:"Liberation Sans",sans-serif;font-size:5px' fill="#222" text-anchor="start">110</text>
<circle cx="280.1" cy="214.3" r="1.25" fill="#000"/>
<text x="283.1" y="220.1" style='font-family:"Liberation Sans",sans-serif;font-size:5px' fill="#222" text-anchor="start">130</text>
<circle cx="306.4" cy="202.2" r="1.25" fill="#000"/>
<text x="309.4" y="208" style='font-family:"Liberation Sans",sans-serif;font-size:5px' fill="#222" text-anchor="start">150</text>
<circle cx="175" cy="262.6" r="1.25" fill="#000"/>
<text x="172.5" y="267.6" style='font-family:"Liberation Sans",sans-serif;font-size:5px' fill="#222" text-anchor="end">50</text>
<circle cx="148.8" cy="250.7" r="1.25" fill="#000"/>
<text x="146.3" y="255.7" style='font-family:"Liberation Sans",sans-serif;font-size:5px' fill="#222" text-anchor="end">70</text>
<circle cx="122.6" cy="238.8" r="1.25" fill="#000"/>
<text x="120.1" y="243.8" style='font-family:"Liberation Sans",sans-serif;font-size:5px' fill="#222" text-anchor="end">90</text>
<circle cx="96.3" cy="226.9" r="1.25" fill="#000"/>
<text x="93.8" y="231.9" style='font-family:"Liberation Sans",sans-serif;font-size:5px' fill="#222" text-anchor="end">110</text>
<circle cx="70.1" cy="215" r="1.25" fill="#000"/>
<text x="67.6" y="220" style='font-family:"Liberation Sans",sans-serif;font-size:5px' fill="#222" text-anchor="end">130</text>
<circle cx="43.9" cy="203.1" r="1.25" fill="#000"/>
<text x="41.4" y="208.1" style='font-family:"Liberation Sans",sans-serif;font-size:5px' fill="#222" text-anchor="end">150</text>
<circle cx="41.8" cy="162" r="1.25" fill="#000"/>
<text x="39.3" y="160.8" style='font-family:"Liberation Sans",sans-serif;font-size:5px' fill="#222" text-anchor="end">50</text>
<circle cx="40.4" cy="135.8" r="1.25" fill="#000"/>
<text x="37.9" y="134.6" style='font-family:"Liberation Sans",sans-serif;font-size:5px' fill="#222" text-anchor="end">60</text>
<circle cx="39.1" cy="109.6" r="1.25" fill="#000"/>
<text x="36.6" y="108.4" style='font-family:"Liberation Sans",sans-serif;font-size:5px' fill="#222" text-anchor="end">70</text>
<circle cx="37.7" cy="83.4" r="1.25" fill="#000"/>
<text x="35.2" y="82.2" style='font-family:"Liberation Sans",sans-serif;font-size:5px' fill="#222" text-anchor="end">80</text>
<circle cx="36.4" cy="57.2" r="1.25" fill="#000"/>
<text x="33.9" y="56" style='font-family:"Liberation Sans",sans-serif;font-size:5px' fill="#222" text-anchor="end">90</text>
<circle cx="35" cy="31" r="1.25" fill="#000"/>
<text x="32.5" y="29.8" style='font-family:"Liberation Sans",sans-serif;font-size:5px' fill="#222" text-anchor="end">100</text>
<g stroke="#000" stroke-width="0.6" stroke-opacity="0.55" stroke-linejoin="round">
<polygon points="175,34.6 181.3,30.9 175,28.7 168.7,32.4" fill="#ffdc50"/>
<polygon points="181.3,36.6 187.6,32.9 181.3,30.9 175,34.6" fill="#ffe04d"/>
<polygon points="168.7,38.4 175,34.6 168.7,32.4 162.4,36.3" fill="#ffeb52"/>
<polygon points="187.6,38.5 193.9,34.8 187.6,32.9 181.3,36.6" fill="#ffe24a"/>
<polygon points="175,40.4 181.3,36.6 175,34.6 168.7,38.4" fill="#ffef4f"/>
<polygon points="162.5,42.4 168.7,38.4 162.4,36.3 156.2,40.3" fill="#fffc54"/>
<polygon points="193.9,40.2 200.2,36.5 193.9,34.8 187.6,38.5" fill="#ffe447"/>
<polygon points="181.3,42.3 187.6,38.5 181.3,36.6 175,40.4" fill="#fff14c"/>
<polygon points="168.8,44.4 175,40.4 168.7,38.4 162.5,42.4" fill="#fffe51"/>
<polygon points="156.2,46.6 162.5,42.4 156.2,40.3 149.9,44.5" fill="#f2ff55"/>
<polygon points="187.6,43.9 193.9,40.2 187.6,38.5 181.3,42.3" fill="#fff249"/>
<polygon points="175.1,46.2 181.3,42.3 175,40.4 168.8,44.4" fill="#feff4e"/>
<polygon points="162.5,48.5 168.8,44.4 162.5,42.4 156.2,46.6" fill="#efff52"/>
<polygon points="200.2,41.7 206.5,38.1 200.2,36.5 193.9,40.2" fill="#ffe444"/>
<polygon points="150,50.9 156.2,46.6 149.9,44.5 143.7,48.8" fill="#e1ff57"/>
<polygon points="181.3,47.8 187.6,43.9 181.3,42.3 175.1,46.2" fill="#fcff4b"/>
<polygon points="168.8,50.3 175.1,46.2 168.8,44.4 162.5,48.5" fill="#edff4f"/>
<polygon points="206.5,43.1 212.8,39.5 206.5,38.1 200.2,41.7" fill="#ffe341"/>
<polygon points="193.9,45.4 200.2,41.7 193.9,40.2 187.6,43.9" fill="#fff346"/>
<polygon points="156.3,52.8 162.5,48.5 156.2,46.6 150,50.9" fill="#dfff54"/>
<polygon points="143.8,55.3 150,50.9 143.7,48.8 137.5,53.3" fill="#d1ff58"/>
<polygon points="212.8,44.2 219.2,40.7 212.8,39.5 206.5,43.1" fill="#ffe13d"/>
<polygon points="200.2,46.8 206.5,43.1 200.2,41.7 193.9,45.4" fill="#fff242"/>
<polygon points="187.6,49.3 193.9,45.4 187.6,43.9 181.3,47.8" fill="#fcff47"/>
<polygon points="175.1,51.9 181.3,47.8 175.1,46.2 168.8,50.3" fill="#edff4c"/>
<polygon points="162.5,54.5 168.8,50.3 162.5,48.5 156.3,52.8" fill="#ddff51"/>
<polygon points="150,57.2 156.3,52.8 150,50.9 143.8,55.3" fill="#ceff55"/>
<polygon points="137.6,59.9 143.8,55.3 137.5,53.3 131.3,57.9" fill="#bfff5a"/>
<polygon points="219.1,45.2 225.5,41.8 219.2,40.7 212.8,44.2" fill="#ffde3a"/>
<polygon points="206.5,47.9 212.8,44.2 206.5,43.1 200.2,46.8" fill="#ffef3f"/>
<polygon points="193.9,50.6 200.2,46.8 193.9,45.4 187.6,49.3" fill="#feff44"/>
<polygon points="156.3,58.9 162.5,54.5 156.3,52.8 150,57.2" fill="#ccff52"/>
<polygon points="143.8,61.8 150,57.2 143.8,55.3 137.6,59.9" fill="#bcff57"/>
<polygon points="131.4,64.6 137.6,59.9 131.3,57.9 125.1,62.6" fill="#adff5b"/>
<polygon points="181.3,53.3 187.6,49.3 181.3,47.8 175.1,51.9" fill="#ecff49"/>
<polygon points="168.8,56.1 175.1,51.9 168.8,50.3 162.5,54.5" fill="#dcff4e"/>
<polygon points="212.8,48.9 219.1,45.2 212.8,44.2 206.5,47.9" fill="#ffeb3b"/>
<polygon points="200.2,51.7 206.5,47.9 200.2,46.8 193.9,50.6" fill="#fffe41"/>
<polygon points="150.1,63.4 156.3,58.9 150,57.2 143.8,61.8" fill="#bbff54"/>
<polygon points="137.6,66.5 143.8,61.8 137.6,59.9 131.4,64.6" fill="#aaff58"/>
<polygon points="225.5,46.1 231.8,42.6 225.5,41.8 219.1,45.2" fill="#ffd836"/>
<polygon points="187.6,54.6 193.9,50.6 187.6,49.3 181.3,53.3" fill="#eeff46"/>
<polygon points="175.1,57.5 181.3,53.3 175.1,51.9 168.8,56.1" fill="#dcff4b"/>
<polygon points="162.6,60.4 168.8,56.1 162.5,54.5 156.3,58.9" fill="#cbff4f"/>
<polygon points="125.2,69.5 131.4,64.6 125.1,62.6 118.9,67.6" fill="#9aff5c"/>
<polygon points="206.5,52.6 212.8,48.9 206.5,47.9 200.2,51.7" fill="#fffa3d"/>
<polygon points="143.9,68.1 150.1,63.4 143.8,61.8 137.6,66.5" fill="#a8ff55"/>
<polygon points="231.8,46.7 238.1,43.3 231.8,42.6 225.5,46.1" fill="#ffd232"/>
<polygon points="219.1,49.7 225.5,46.1 219.1,45.2 212.8,48.9" fill="#ffe638"/>
<polygon points="193.9,55.7 200.2,51.7 193.9,50.6 187.6,54.6" fill="#f1ff42"/>
<polygon points="181.4,58.7 187.6,54.6 181.3,53.3 175.1,57.5" fill="#deff47"/>
<polygon points="168.8,61.8 175.1,57.5 168.8,56.1 162.6,60.4" fill="#ccff4c"/>
<polygon points="156.3,64.9 162.6,60.4 156.3,58.9 150.1,63.4" fill="#baff51"/>
<polygon points="131.4,71.3 137.6,66.5 131.4,64.6 125.2,69.5" fill="#98ff59"/>
<polygon points="119,74.6 125.2,69.5 118.9,67.6 112.8,72.6" fill="#87ff5e"/>
<polygon points="238.1,47.2 244.5,43.8 238.1,43.3 231.8,46.7" fill="#ffcb2f"/>
<polygon points="225.5,50.3 231.8,46.7 225.5,46.1 219.1,49.7" fill="#ffe034"/>
<polygon points="212.8,53.4 219.1,49.7 212.8,48.9 206.5,52.6" fill="#fff53a"/>
<polygon points="200.2,56.6 206.5,52.6 200.2,51.7 193.9,55.7" fill="#f5ff3f"/>
<polygon points="187.6,59.8 193.9,55.7 187.6,54.6 181.4,58.7" fill="#e1ff44"/>
<polygon points="175.1,63 181.4,58.7 175.1,57.5 168.8,61.8" fill="#ceff49"/>
<polygon points="162.6,66.3 168.8,61.8 162.6,60.4 156.3,64.9" fill="#bbff4e"/>
<polygon points="150.1,69.6 156.3,64.9 150.1,63.4 143.9,68.1" fill="#a8ff52"/>
<polygon points="137.7,73 143.9,68.1 137.6,66.5 131.4,71.3" fill="#96ff57"/>
<polygon points="125.3,76.4 131.4,71.3 125.2,69.5 119,74.6" fill="#85ff5b"/>
<polygon points="112.9,79.8 119,74.6 112.8,72.6 106.7,77.9" fill="#74ff5f"/>
<polygon points="244.5,47.5 250.8,44.2 244.5,43.8 238.1,47.2" fill="#ffc12b"/>
<polygon points="231.8,50.7 238.1,47.2 231.8,46.7 225.5,50.3" fill="#ffd730"/>
<polygon points="219.1,54 225.5,50.3 219.1,49.7 212.8,53.4" fill="#ffee36"/>
<polygon points="206.5,57.3 212.8,53.4 206.5,52.6 200.2,56.6" fill="#faff3b"/>
<polygon points="193.9,60.6 200.2,56.6 193.9,55.7 187.6,59.8" fill="#e5ff40"/>
<polygon points="181.4,64 187.6,59.8 181.4,58.7 175.1,63" fill="#d0ff45"/>
<polygon points="168.8,67.4 175.1,63 168.8,61.8 162.6,66.3" fill="#bcff4a"/>
<polygon points="156.3,70.9 162.6,66.3 156.3,64.9 150.1,69.6" fill="#a9ff4f"/>
<polygon points="143.9,74.4 150.1,69.6 143.9,68.1 137.7,73" fill="#96ff53"/>
<polygon points="131.5,78 137.7,73 131.4,71.3 125.3,76.4" fill="#83ff58"/>
<polygon points="119.1,81.5 125.3,76.4 119,74.6 112.9,79.8" fill="#71ff5c"/>
<polygon points="106.8,85.2 112.9,79.8 106.7,77.9 100.6,83.3" fill="#60ff61"/>
<polygon points="250.8,47.6 257.2,44.3 250.8,44.2 244.5,47.5" fill="#ffb527"/>
<polygon points="238.1,50.9 244.5,47.5 238.1,47.2 231.8,50.7" fill="#ffce2d"/>
<polygon points="225.5,54.3 231.8,50.7 225.5,50.3 219.1,54" fill="#ffe632"/>
<polygon points="212.8,57.8 219.1,54 212.8,53.4 206.5,57.3" fill="#fffd38"/>
<polygon points="200.2,61.3 206.5,57.3 200.2,56.6 193.9,60.6" fill="#eaff3d"/>
<polygon points="187.6,64.8 193.9,60.6 187.6,59.8 181.4,64" fill="#d5ff42"/>
<polygon points="175.1,68.4 181.4,64 175.1,63 168.8,67.4" fill="#bfff47"/>
<polygon points="162.6,72 168.8,67.4 162.6,66.3 156.3,70.9" fill="#abff4c"/>
<polygon points="150.1,75.7 156.3,70.9 150.1,69.6 143.9,74.4" fill="#97ff50"/>
<polygon points="137.7,79.4 143.9,74.4 137.7,73 131.5,78" fill="#83ff55"/>
<polygon points="125.3,83.1 131.5,78 125.3,76.4 119.1,81.5" fill="#70ff59"/>
<polygon points="113,86.9 119.1,81.5 112.9,79.8 106.8,85.2" fill="#5dff5d"/>
<polygon points="100.7,90.7 106.8,85.2 100.6,83.3 94.5,88.8" fill="#61ff77"/>
<polygon points="257.2,47.5 263.6,44.3 257.2,44.3 250.8,47.6" fill="#ffa923"/>
<polygon points="244.5,51 250.8,47.6 244.5,47.5 238.1,50.9" fill="#ffc329"/>
<polygon points="231.8,54.5 238.1,50.9 231.8,50.7 225.5,54.3" fill="#ffdc2e"/>
<polygon points="219.1,58.1 225.5,54.3 219.1,54 212.8,57.8" fill="#fff534"/>
<polygon points="193.9,65.5 200.2,61.3 193.9,60.6 187.6,64.8" fill="#dbff3e"/>
<polygon points="181.4,69.2 187.6,64.8 181.4,64 175.1,68.4" fill="#c3ff44"/>
<polygon points="168.8,73 175.1,68.4 168.8,67.4 162.6,72" fill="#aeff48"/>
<polygon points="156.4,76.8 162.6,72 156.3,70.9 150.1,75.7" fill="#98ff4d"/>
<polygon points="131.5,84.5 137.7,79.4 131.5,78 125.3,83.1" fill="#70ff56"/>
<polygon points="119.2,88.4 125.3,83.1 119.1,81.5 113,86.9" fill="#5cff5a"/>
<polygon points="106.9,92.4 113,86.9 106.8,85.2 100.7,90.7" fill="#5eff74"/>
<polygon points="94.6,96.4 100.7,90.7 94.5,88.8 88.5,94.5" fill="#62ff8e"/>
<polygon points="206.5,61.8 212.8,57.8 206.5,57.3 200.2,61.3" fill="#f2ff39"/>
<polygon points="143.9,80.6 150.1,75.7 143.9,74.4 137.7,79.4" fill="#84ff52"/>
<polygon points="263.6,47.2 270,44 263.6,44.3 257.2,47.5" fill="#ff9a1f"/>
<polygon points="250.8,50.8 257.2,47.5 250.8,47.6 244.5,51" fill="#ffb525"/>
<polygon points="238.1,54.5 244.5,51 238.1,50.9 231.8,54.5" fill="#ffd02b"/>
<polygon points="225.4,58.3 231.8,54.5 225.5,54.3 219.1,58.1" fill="#ffeb30"/>
<polygon points="187.6,69.8 193.9,65.5 187.6,64.8 181.4,69.2" fill="#caff40"/>
<polygon points="175.1,73.7 181.4,69.2 175.1,68.4 168.8,73" fill="#b2ff45"/>
<polygon points="162.6,77.7 168.8,73 162.6,72 156.4,76.8" fill="#9cff4a"/>
<polygon points="125.4,89.8 131.5,84.5 125.3,83.1 119.2,88.4" fill="#5cff57"/>
<polygon points="113.1,93.9 119.2,88.4 113,86.9 106.9,92.4" fill="#5bff6f"/>
<polygon points="100.8,98 106.9,92.4 100.7,90.7 94.6,96.4" fill="#5fff8a"/>
<polygon points="88.6,102.2 94.6,96.4 88.5,94.5 82.4,100.4" fill="#63ffa5"/>
<polygon points="212.8,62.1 219.1,58.1 212.8,57.8 206.5,61.8" fill="#faff36"/>
<polygon points="200.2,65.9 206.5,61.8 200.2,61.3 193.9,65.5" fill="#e2ff3b"/>
<polygon points="150.2,81.7 156.4,76.8 150.1,75.7 143.9,80.6" fill="#86ff4e"/>
<polygon points="137.8,85.7 143.9,80.6 137.7,79.4 131.5,84.5" fill="#71ff53"/>
<polygon points="257.2,50.5 263.6,47.2 257.2,47.5 250.8,50.8" fill="#ffa621"/>
<polygon points="244.5,54.4 250.8,50.8 244.5,51 238.1,54.5" fill="#ffc327"/>
<polygon points="231.8,58.2 238.1,54.5 231.8,54.5 225.4,58.3" fill="#ffdf2c"/>
<polygon points="181.4,74.3 187.6,69.8 181.4,69.2 175.1,73.7" fill="#b8ff41"/>
<polygon points="168.9,78.4 175.1,73.7 168.8,73 162.6,77.7" fill="#a0ff46"/>
<polygon points="119.3,95.2 125.4,89.8 119.2,88.4 113.1,93.9" fill="#58ff69"/>
<polygon points="107,99.5 113.1,93.9 106.9,92.4 100.8,98" fill="#5cff86"/>
<polygon points="94.8,103.9 100.8,98 94.6,96.4 88.6,102.2" fill="#60ffa2"/>
<polygon points="270,46.7 276.4,43.6 270,44 263.6,47.2" fill="#ff891b"/>
<polygon points="219.1,62.2 225.4,58.3 219.1,58.1 212.8,62.1" fill="#fff932"/>
<polygon points="206.5,66.2 212.8,62.1 206.5,61.8 200.2,65.9" fill="#eaff37"/>
<polygon points="193.9,70.2 200.2,65.9 193.9,65.5 187.6,69.8" fill="#d0ff3c"/>
<polygon points="156.4,82.5 162.6,77.7 156.4,76.8 150.2,81.7" fill="#89ff4b"/>
<polygon points="144,86.7 150.2,81.7 143.9,80.6 137.8,85.7" fill="#73ff50"/>
<polygon points="131.6,90.9 137.8,85.7 131.5,84.5 125.4,89.8" fill="#5dff54"/>
<polygon points="82.6,108.2 88.6,102.2 82.4,100.4 76.4,106.4" fill="#64ffbd"/>
<polygon points="250.8,54 257.2,50.5 250.8,50.8 244.5,54.4" fill="#ffb423"/>
<polygon points="100.9,105.3 107,99.5 100.8,98 94.8,103.9" fill="#5dff9d"/>
<polygon points="276.4,46 282.8,43 276.4,43.6 270,46.7" fill="#ff7717"/>
<polygon points="263.6,50 270,46.7 263.6,47.2 257.2,50.5" fill="#ff961d"/>
<polygon points="238.1,58 244.5,54.4 238.1,54.5 231.8,58.2" fill="#ffd229"/>
<polygon points="225.4,62.1 231.8,58.2 225.4,58.3 219.1,62.2" fill="#ffee2e"/>
<polygon points="212.8,66.2 219.1,62.2 212.8,62.1 206.5,66.2" fill="#f5ff33"/>
<polygon points="200.2,70.4 206.5,66.2 200.2,65.9 193.9,70.2" fill="#daff39"/>
<polygon points="187.6,74.6 193.9,70.2 187.6,69.8 181.4,74.3" fill="#bfff3e"/>
<polygon points="175.1,78.9 181.4,74.3 175.1,73.7 168.9,78.4" fill="#a6ff43"/>
<polygon points="162.6,83.2 168.9,78.4 162.6,77.7 156.4,82.5" fill="#8dff48"/>
<polygon points="150.2,87.5 156.4,82.5 150.2,81.7 144,86.7" fill="#76ff4c"/>
<polygon points="137.8,91.9 144,86.7 137.8,85.7 131.6,90.9" fill="#5fff51"/>
<polygon points="125.5,96.3 131.6,90.9 125.4,89.8 119.3,95.2" fill="#55ff63"/>
<polygon points="113.2,100.8 119.3,95.2 113.1,93.9 107,99.5" fill="#59ff80"/>
<polygon points="88.7,109.8 94.8,103.9 88.6,102.2 82.6,108.2" fill="#61ffba"/>
<polygon points="76.6,114.4 82.6,108.2 76.4,106.4 70.4,112.6" fill="#65ffd5"/>
<polygon points="282.8,45.2 289.2,42.1 282.8,43 276.4,46" fill="#ff6213"/>
<polygon points="270,49.3 276.4,46 270,46.7 263.6,50" fill="#ff8319"/>
<polygon points="257.2,53.4 263.6,50 257.2,50.5 250.8,54" fill="#ffa31f"/>
<polygon points="244.5,57.6 250.8,54 244.5,54.4 238.1,58" fill="#ffc225"/>
<polygon points="219.1,66.1 225.4,62.1 219.1,62.2 212.8,66.2" fill="#fffd30"/>
<polygon points="206.5,70.4 212.8,66.2 206.5,66.2 200.2,70.4" fill="#e4ff35"/>
<polygon points="193.9,74.8 200.2,70.4 193.9,70.2 187.6,74.6" fill="#c8ff3a"/>
<polygon points="156.4,88.2 162.6,83.2 156.4,82.5 150.2,87.5" fill="#7aff49"/>
<polygon points="144,92.7 150.2,87.5 144,86.7 137.8,91.9" fill="#62ff4e"/>
<polygon points="131.6,97.3 137.8,91.9 131.6,90.9 125.5,96.3" fill="#52ff5a"/>
<polygon points="107.1,106.6 113.2,100.8 107,99.5 100.9,105.3" fill="#5aff98"/>
<polygon points="94.9,111.3 100.9,105.3 94.8,103.9 88.7,109.8" fill="#5effb5"/>
<polygon points="82.7,116 88.7,109.8 82.6,108.2 76.6,114.4" fill="#62ffd2"/>
<polygon points="70.6,120.8 76.6,114.4 70.4,112.6 64.5,119" fill="#66ffee"/>
<polygon points="231.8,61.8 238.1,58 231.8,58.2 225.4,62.1" fill="#ffe02a"/>
<polygon points="181.4,79.2 187.6,74.6 181.4,74.3 175.1,78.9" fill="#adff3f"/>
<polygon points="168.9,83.7 175.1,78.9 168.9,78.4 162.6,83.2" fill="#93ff44"/>
<polygon points="119.3,101.9 125.5,96.3 119.3,95.2 113.2,100.8" fill="#56ff79"/>
<polygon points="289.3,44.1 295.7,41.1 289.2,42.1 282.8,45.2" fill="#ff4b0f"/>
<polygon points="276.4,48.3 282.8,45.2 276.4,46 270,49.3" fill="#ff6d15"/>
<polygon points="263.6,52.6 270,49.3 263.6,50 257.2,53.4" fill="#ff8f1b"/>
<polygon points="212.8,70.2 219.1,66.1 212.8,66.2 206.5,70.4" fill="#f0ff31"/>
<polygon points="200.2,74.8 206.5,70.4 200.2,70.4 193.9,74.8" fill="#d2ff37"/>
<polygon points="150.2,93.3 156.4,88.2 150.2,87.5 144,92.7" fill="#67ff4a"/>
<polygon points="137.8,98.1 144,92.7 137.8,91.9 131.6,97.3" fill="#4fff50"/>
<polygon points="88.8,117.4 94.9,111.3 88.7,109.8 82.7,116" fill="#5fffce"/>
<polygon points="76.7,122.3 82.7,116 76.6,114.4 70.6,120.8" fill="#63ffeb"/>
<polygon points="64.7,127.3 70.6,120.8 64.5,119 58.6,125.6" fill="#66f7ff"/>
<polygon points="250.9,56.9 257.2,53.4 250.8,54 244.5,57.6" fill="#ffb121"/>
<polygon points="238.1,61.3 244.5,57.6 238.1,58 231.8,61.8" fill="#ffd026"/>
<polygon points="225.4,65.8 231.8,61.8 225.4,62.1 219.1,66.1" fill="#fff02c"/>
<polygon points="187.6,79.3 193.9,74.8 187.6,74.6 181.4,79.2" fill="#b6ff3c"/>
<polygon points="175.1,84 181.4,79.2 175.1,78.9 168.9,83.7" fill="#9bff41"/>
<polygon points="162.6,88.6 168.9,83.7 162.6,83.2 156.4,88.2" fill="#80ff46"/>
<polygon points="125.5,102.8 131.6,97.3 125.5,96.3 119.3,101.9" fill="#53ff71"/>
<polygon points="113.2,107.7 119.3,101.9 113.2,100.8 107.1,106.6" fill="#57ff91"/>
<polygon points="101,112.5 107.1,106.6 100.9,105.3 94.9,111.3" fill="#5bffb0"/>
<polygon points="282.9,47.2 289.3,44.1 282.8,45.2 276.4,48.3" fill="#ff5611"/>
<polygon points="270,51.6 276.4,48.3 270,49.3 263.6,52.6" fill="#ff7a17"/>
<polygon points="206.5,74.6 212.8,70.2 206.5,70.4 200.2,74.8" fill="#dfff33"/>
<polygon points="144,98.6 150.2,93.3 144,92.7 137.8,98.1" fill="#52ff4b"/>
<polygon points="82.8,123.7 88.8,117.4 82.7,116 76.7,122.3" fill="#60ffe7"/>
<polygon points="70.8,128.8 76.7,122.3 70.6,120.8 64.7,127.3" fill="#64faff"/>
<polygon points="295.8,42.8 302.2,39.9 295.7,41.1 289.3,44.1" fill="#ff350f"/>
<polygon points="257.3,56.1 263.6,52.6 257.2,53.4 250.9,56.9" fill="#ff9d1d"/>
<polygon points="244.5,60.7 250.9,56.9 244.5,57.6 238.1,61.3" fill="#ffbf22"/>
<polygon points="231.8,65.2 238.1,61.3 231.8,61.8 225.4,65.8" fill="#ffe028"/>
<polygon points="219.1,69.9 225.4,65.8 219.1,66.1 212.8,70.2" fill="#fdff2d"/>
<polygon points="193.9,79.3 200.2,74.8 193.9,74.8 187.6,79.3" fill="#c1ff38"/>
<polygon points="181.4,84.1 187.6,79.3 181.4,79.2 175.1,84" fill="#a4ff3d"/>
<polygon points="168.9,88.9 175.1,84 168.9,83.7 162.6,88.6" fill="#88ff42"/>
<polygon points="156.4,93.7 162.6,88.6 156.4,88.2 150.2,93.3" fill="#6cff47"/>
<polygon points="131.7,103.6 137.8,98.1 131.6,97.3 125.5,102.8" fill="#50ff67"/>
<polygon points="119.4,108.5 125.5,102.8 119.3,101.9 113.2,107.7" fill="#54ff88"/>
<polygon points="107.2,113.6 113.2,107.7 107.1,106.6 101,112.5" fill="#58ffa9"/>
<polygon points="95,118.6 101,112.5 94.9,111.3 88.8,117.4" fill="#5cffc8"/>
<polygon points="58.8,134 64.7,127.3 58.6,125.6 52.7,132.3" fill="#67deff"/>
<polygon points="276.5,50.4 282.9,47.2 276.4,48.3 270,51.6" fill="#ff6313"/>
<polygon points="76.9,130.2 82.8,123.7 76.7,122.3 70.8,128.8" fill="#61feff"/>
<polygon points="302.3,41.3 308.7,38.5 302.2,39.9 295.8,42.8" fill="#ff1d0f"/>
<polygon points="289.3,45.8 295.8,42.8 289.3,44.1 282.9,47.2" fill="#ff3e0f"/>
<polygon points="263.7,55.1 270,51.6 263.6,52.6 257.3,56.1" fill="#ff8819"/>
<polygon points="250.9,59.8 257.3,56.1 250.9,56.9 244.5,60.7" fill="#ffab1f"/>
<polygon points="238.1,64.5 244.5,60.7 238.1,61.3 231.8,65.2" fill="#ffcf24"/>
<polygon points="225.4,69.3 231.8,65.2 225.4,65.8 219.1,69.9" fill="#fff12a"/>
<polygon points="212.8,74.1 219.1,69.9 212.8,70.2 206.5,74.6" fill="#edff2f"/>
<polygon points="200.2,79 206.5,74.6 200.2,74.8 193.9,79.3" fill="#cdff34"/>
<polygon points="187.6,83.9 193.9,79.3 187.6,79.3 181.4,84.1" fill="#aeff39"/>
<polygon points="175.1,88.9 181.4,84.1 175.1,84 168.9,88.9" fill="#91ff3e"/>
<polygon points="162.6,93.9 168.9,88.9 162.6,88.6 156.4,93.7" fill="#74ff43"/>
<polygon points="150.2,99 156.4,93.7 150.2,93.3 144,98.6" fill="#58ff48"/>
<polygon points="137.9,104.1 144,98.6 137.8,98.1 131.7,103.6" fill="#4dff5c"/>
<polygon points="125.6,109.2 131.7,103.6 125.5,102.8 119.4,108.5" fill="#51ff7f"/>
<polygon points="113.3,114.4 119.4,108.5 113.2,107.7 107.2,113.6" fill="#55ffa0"/>
<polygon points="101.1,119.6 107.2,113.6 101,112.5 95,118.6" fill="#59ffc1"/>
<polygon points="89,124.9 95,118.6 88.8,117.4 82.8,123.7" fill="#5dffe1"/>
<polygon points="64.8,135.5 70.8,128.8 64.7,127.3 58.8,134" fill="#64e1ff"/>
<polygon points="52.9,140.9 58.8,134 52.7,132.3 46.8,139.2" fill="#68c4ff"/>
<polygon points="308.8,39.6 315.2,36.8 308.7,38.5 302.3,41.3" fill="#ff0f0f"/>
<polygon points="295.8,44.3 302.3,41.3 295.8,42.8 289.3,45.8" fill="#ff270f"/>
<polygon points="282.9,49 289.3,45.8 282.9,47.2 276.5,50.4" fill="#ff4a0f"/>
<polygon points="270.1,53.8 276.5,50.4 270,51.6 263.7,55.1" fill="#ff7015"/>
<polygon points="257.3,58.7 263.7,55.1 257.3,56.1 250.9,59.8" fill="#ff961b"/>
<polygon points="244.5,63.6 250.9,59.8 244.5,60.7 238.1,64.5" fill="#ffbb20"/>
<polygon points="231.8,68.5 238.1,64.5 231.8,65.2 225.4,69.3" fill="#ffdf26"/>
<polygon points="219.1,73.5 225.4,69.3 219.1,69.9 212.8,74.1" fill="#fdff2b"/>
<polygon points="206.5,78.5 212.8,74.1 206.5,74.6 200.2,79" fill="#dbff31"/>
<polygon points="193.9,83.6 200.2,79 193.9,79.3 187.6,83.9" fill="#baff36"/>
<polygon points="181.4,88.8 187.6,83.9 181.4,84.1 175.1,88.9" fill="#9bff3b"/>
<polygon points="168.9,93.9 175.1,88.9 168.9,88.9 162.6,93.9" fill="#7cff40"/>
<polygon points="156.4,99.2 162.6,93.9 156.4,93.7 150.2,99" fill="#5fff45"/>
<polygon points="144.1,104.4 150.2,99 144,98.6 137.9,104.1" fill="#49ff50"/>
<polygon points="131.7,109.7 137.9,104.1 131.7,103.6 125.6,109.2" fill="#4eff74"/>
<polygon points="119.5,115.1 125.6,109.2 119.4,108.5 113.3,114.4" fill="#52ff97"/>
<polygon points="107.2,120.5 113.3,114.4 107.2,113.6 101.1,119.6" fill="#56ffb9"/>
<polygon points="95.1,125.9 101.1,119.6 95,118.6 89,124.9" fill="#5affda"/>
<polygon points="83,131.3 89,124.9 82.8,123.7 76.9,130.2" fill="#5efffa"/>
<polygon points="70.9,136.8 76.9,130.2 70.8,128.8 64.8,135.5" fill="#62e5ff"/>
<polygon points="58.9,142.4 64.8,135.5 58.8,134 52.9,140.9" fill="#65c7ff"/>
<polygon points="47,147.9 52.9,140.9 46.8,139.2 41,146.3" fill="#69a9ff"/>
<polygon points="302.3,42.5 308.8,39.6 302.3,41.3 295.8,44.3" fill="#ff0f0f"/>
<polygon points="289.4,47.4 295.8,44.3 289.3,45.8 282.9,49" fill="#ff310f"/>
<polygon points="276.5,52.4 282.9,49 276.5,50.4 270.1,53.8" fill="#ff5611"/>
<polygon points="250.9,62.4 257.3,58.7 250.9,59.8 244.5,63.6" fill="#ffa51c"/>
<polygon points="238.2,67.5 244.5,63.6 238.1,64.5 231.8,68.5" fill="#ffcb22"/>
<polygon points="225.4,72.7 231.8,68.5 225.4,69.3 219.1,73.5" fill="#fff027"/>
<polygon points="212.8,77.9 219.1,73.5 212.8,74.1 206.5,78.5" fill="#eaff2d"/>
<polygon points="187.6,88.4 193.9,83.6 187.6,83.9 181.4,88.8" fill="#a7ff37"/>
<polygon points="175.1,93.7 181.4,88.8 175.1,88.9 168.9,93.9" fill="#87ff3c"/>
<polygon points="162.7,99.1 168.9,93.9 162.6,93.9 156.4,99.2" fill="#68ff41"/>
<polygon points="137.9,110 144.1,104.4 137.9,104.1 131.7,109.7" fill="#4aff67"/>
<polygon points="125.6,115.5 131.7,109.7 125.6,109.2 119.5,115.1" fill="#4fff8c"/>
<polygon points="113.4,121.1 119.5,115.1 113.3,114.4 107.2,120.5" fill="#53ffb0"/>
<polygon points="101.2,126.7 107.2,120.5 101.1,119.6 95.1,125.9" fill="#57ffd2"/>
<polygon points="77,138 83,131.3 76.9,130.2 70.9,136.8" fill="#5feaff"/>
<polygon points="65,143.7 70.9,136.8 64.8,135.5 58.9,142.4" fill="#62cbff"/>
<polygon points="53.1,149.4 58.9,142.4 52.9,140.9 47,147.9" fill="#66acff"/>
<polygon points="263.7,57.4 270.1,53.8 263.7,55.1 257.3,58.7" fill="#ff7f17"/>
<polygon points="200.2,83.1 206.5,78.5 200.2,79 193.9,83.6" fill="#c8ff32"/>
<polygon points="150.2,104.6 156.4,99.2 150.2,99 144.1,104.4" fill="#4aff46"/>
<polygon points="89.1,132.3 95.1,125.9 89,124.9 83,131.3" fill="#5bfff3"/>
<polygon points="295.9,45.6 302.3,42.5 295.8,44.3 289.4,47.4" fill="#ff170f"/>
<polygon points="283,50.7 289.4,47.4 282.9,49 276.5,52.4" fill="#ff3c0f"/>
<polygon points="244.5,66.3 250.9,62.4 244.5,63.6 238.2,67.5" fill="#ffb51e"/>
<polygon points="231.8,71.6 238.2,67.5 231.8,68.5 225.4,72.7" fill="#ffdc23"/>
<polygon points="181.4,93.3 187.6,88.4 181.4,88.8 175.1,93.7" fill="#94ff38"/>
<polygon points="168.9,98.9 175.1,93.7 168.9,93.9 162.7,99.1" fill="#73ff3d"/>
<polygon points="119.5,121.5 125.6,115.5 119.5,115.1 113.4,121.1" fill="#50ffa5"/>
<polygon points="107.3,127.3 113.4,121.1 107.2,120.5 101.2,126.7" fill="#54ffc9"/>
<polygon points="71.1,144.8 77,138 70.9,136.8 65,143.7" fill="#5fd0ff"/>
<polygon points="59.1,150.7 65,143.7 58.9,142.4 53.1,149.4" fill="#63b0ff"/>
<polygon points="270.1,55.9 276.5,52.4 270.1,53.8 263.7,57.4" fill="#ff6413"/>
<polygon points="257.3,61.1 263.7,57.4 257.3,58.7 250.9,62.4" fill="#ff8d18"/>
<polygon points="219.1,77 225.4,72.7 219.1,73.5 212.8,77.9" fill="#fcff29"/>
<polygon points="206.5,82.4 212.8,77.9 206.5,78.5 200.2,83.1" fill="#d9ff2e"/>
<polygon points="193.9,87.8 200.2,83.1 193.9,83.6 187.6,88.4" fill="#b6ff33"/>
<polygon points="156.4,104.5 162.7,99.1 156.4,99.2 150.2,104.6" fill="#53ff42"/>
<polygon points="144.1,110.1 150.2,104.6 144.1,104.4 137.9,110" fill="#47ff59"/>
<polygon points="131.8,115.8 137.9,110 131.7,109.7 125.6,115.5" fill="#4bff7f"/>
<polygon points="95.2,133.1 101.2,126.7 95.1,125.9 89.1,132.3" fill="#58ffec"/>
<polygon points="83.1,138.9 89.1,132.3 83,131.3 77,138" fill="#5cf0ff"/>
<polygon points="238.2,70.4 244.5,66.3 238.2,67.5 231.8,71.6" fill="#ffc620"/>
<polygon points="175.1,98.4 181.4,93.3 175.1,93.7 168.9,98.9" fill="#7fff3a"/>
<polygon points="113.4,127.7 119.5,121.5 113.4,121.1 107.3,127.3" fill="#51ffbe"/>
<polygon points="289.5,48.8 295.9,45.6 289.4,47.4 283,50.7" fill="#ff210f"/>
<polygon points="263.7,59.5 270.1,55.9 263.7,57.4 257.3,61.1" fill="#ff7314"/>
<polygon points="250.9,64.9 257.3,61.1 250.9,62.4 244.5,66.3" fill="#ff9d1a"/>
<polygon points="225.4,75.9 231.8,71.6 225.4,72.7 219.1,77" fill="#ffee25"/>
<polygon points="200.2,87.1 206.5,82.4 200.2,83.1 193.9,87.8" fill="#c5ff30"/>
<polygon points="187.6,92.7 193.9,87.8 187.6,88.4 181.4,93.3" fill="#a1ff35"/>
<polygon points="162.7,104.2 168.9,98.9 162.7,99.1 156.4,104.5" fill="#5eff3f"/>
<polygon points="150.3,110 156.4,104.5 150.2,104.6 144.1,110.1" fill="#43ff49"/>
<polygon points="125.6,121.7 131.8,115.8 125.6,115.5 119.5,121.5" fill="#4cff99"/>
<polygon points="101.3,133.6 107.3,127.3 101.2,126.7 95.2,133.1" fill="#55ffe2"/>
<polygon points="89.2,139.6 95.2,133.1 89.1,132.3 83.1,138.9" fill="#59f8ff"/>
<polygon points="65.2,151.7 71.1,144.8 65,143.7 59.1,150.7" fill="#60b5ff"/>
<polygon points="276.6,54.1 283,50.7 276.5,52.4 270.1,55.9" fill="#ff490f"/>
<polygon points="212.8,81.4 219.1,77 212.8,77.9 206.5,82.4" fill="#eaff2a"/>
<polygon points="137.9,115.8 144.1,110.1 137.9,110 131.8,115.8" fill="#48ff72"/>
<polygon points="77.1,145.7 83.1,138.9 77,138 71.1,144.8" fill="#5dd6ff"/>
<polygon points="257.3,63.3 263.7,59.5 257.3,61.1 250.9,64.9" fill="#ff8316"/>
<polygon points="244.6,68.9 250.9,64.9 244.5,66.3 238.2,70.4" fill="#ffae1c"/>
<polygon points="231.8,74.6 238.2,70.4 231.8,71.6 225.4,75.9" fill="#ffd821"/>
<polygon points="193.9,91.9 200.2,87.1 193.9,87.8 187.6,92.7" fill="#b1ff31"/>
<polygon points="181.3,97.8 187.6,92.7 181.4,93.3 175.1,98.4" fill="#8dff36"/>
<polygon points="168.9,103.7 175.1,98.4 168.9,98.9 162.7,104.2" fill="#6aff3b"/>
<polygon points="156.5,109.7 162.7,104.2 156.4,104.5 150.3,110" fill="#48ff40"/>
<polygon points="119.5,127.8 125.6,121.7 119.5,121.5 113.4,127.7" fill="#4dffb2"/>
<polygon points="107.4,134 113.4,127.7 107.3,127.3 101.3,133.6" fill="#52ffd8"/>
<polygon points="95.2,140.2 101.3,133.6 95.2,133.1 89.2,139.6" fill="#56fffc"/>
<polygon points="283.1,52.2 289.5,48.8 283,50.7 276.6,54.1" fill="#ff2d0f"/>
<polygon points="270.2,57.7 276.6,54.1 270.1,55.9 263.7,59.5" fill="#ff5710"/>
<polygon points="219.1,80.3 225.4,75.9 219.1,77 212.8,81.4" fill="#feff27"/>
<polygon points="206.5,86.1 212.8,81.4 206.5,82.4 200.2,87.1" fill="#d7ff2c"/>
<polygon points="144.1,115.7 150.3,110 144.1,110.1 137.9,115.8" fill="#44ff62"/>
<polygon points="131.8,121.7 137.9,115.8 131.8,115.8 125.6,121.7" fill="#49ff8b"/>
<polygon points="83.2,146.4 89.2,139.6 83.1,138.9 77.1,145.7" fill="#59deff"/>
<polygon points="71.2,152.6 77.1,145.7 71.1,144.8 65.2,151.7" fill="#5dbbff"/>
<polygon points="251,67.2 257.3,63.3 250.9,64.9 244.6,68.9" fill="#ff9418"/>
<polygon points="187.6,96.9 193.9,91.9 187.6,92.7 181.3,97.8" fill="#9dff32"/>
<polygon points="162.7,109.1 168.9,103.7 162.7,104.2 156.5,109.7" fill="#54ff3c"/>
<polygon points="101.3,140.5 107.4,134 101.3,133.6 95.2,140.2" fill="#52fff2"/>
<polygon points="276.7,55.7 283.1,52.2 276.6,54.1 270.2,57.7" fill="#ff3b0f"/>
<polygon points="263.8,61.4 270.2,57.7 263.7,59.5 257.3,63.3" fill="#ff6712"/>
<polygon points="238.2,73 244.6,68.9 238.2,70.4 231.8,74.6" fill="#ffbf1d"/>
<polygon points="225.5,78.9 231.8,74.6 225.4,75.9 219.1,80.3" fill="#ffe923"/>
<polygon points="212.8,84.9 219.1,80.3 212.8,81.4 206.5,86.1" fill="#ebff28"/>
<polygon points="200.2,90.9 206.5,86.1 200.2,87.1 193.9,91.9" fill="#c4ff2d"/>
<polygon points="175.1,103 181.3,97.8 175.1,98.4 168.9,103.7" fill="#78ff37"/>
<polygon points="150.3,115.3 156.5,109.7 150.3,110 144.1,115.7" fill="#41ff51"/>
<polygon points="137.9,121.5 144.1,115.7 137.9,115.8 131.8,121.7" fill="#45ff7b"/>
<polygon points="125.7,127.8 131.8,121.7 125.6,121.7 119.5,127.8" fill="#4affa4"/>
<polygon points="113.5,134.1 119.5,127.8 113.4,127.7 107.4,134" fill="#4effcc"/>
<polygon points="89.3,146.9 95.2,140.2 89.2,139.6 83.2,146.4" fill="#56e7ff"/>
<polygon points="77.2,153.3 83.2,146.4 77.1,145.7 71.2,152.6" fill="#5ac3ff"/>
<polygon points="270.2,59.4 276.7,55.7 270.2,57.7 263.8,61.4" fill="#ff490f"/>
<polygon points="257.4,65.3 263.8,61.4 257.3,63.3 251,67.2" fill="#ff7714"/>
<polygon points="244.6,71.3 251,67.2 244.6,68.9 238.2,73" fill="#ffa519"/>
<polygon points="219.1,83.5 225.5,78.9 219.1,80.3 212.8,84.9" fill="#fffc24"/>
<polygon points="206.5,89.6 212.8,84.9 206.5,86.1 200.2,90.9" fill="#d8ff29"/>
<polygon points="193.9,95.8 200.2,90.9 193.9,91.9 187.6,96.9" fill="#afff2f"/>
<polygon points="181.3,102.1 187.6,96.9 181.3,97.8 175.1,103" fill="#88ff34"/>
<polygon points="168.9,108.4 175.1,103 168.9,103.7 162.7,109.1" fill="#63ff38"/>
<polygon points="156.5,114.7 162.7,109.1 156.5,109.7 150.3,115.3" fill="#3eff3d"/>
<polygon points="144.1,121.1 150.3,115.3 144.1,115.7 137.9,121.5" fill="#42ff69"/>
<polygon points="131.8,127.6 137.9,121.5 131.8,121.7 125.7,127.8" fill="#46ff95"/>
<polygon points="107.4,140.6 113.5,134.1 107.4,134 101.3,140.5" fill="#4fffe6"/>
<polygon points="95.3,147.1 101.3,140.5 95.2,140.2 89.3,146.9" fill="#53f1ff"/>
<polygon points="83.3,153.7 89.3,146.9 83.2,146.4 77.2,153.3" fill="#57ccff"/>
<polygon points="231.8,77.4 238.2,73 231.8,74.6 225.5,78.9" fill="#ffd11f"/>
<polygon points="119.6,134.1 125.7,127.8 119.5,127.8 113.5,134.1" fill="#4bffbe"/>
<polygon points="263.8,63.2 270.2,59.4 263.8,61.4 257.4,65.3" fill="#ff5810"/>
<polygon points="251,69.3 257.4,65.3 251,67.2 244.6,71.3" fill="#ff8815"/>
<polygon points="212.8,88.1 219.1,83.5 212.8,84.9 206.5,89.6" fill="#eeff26"/>
<polygon points="200.2,94.5 206.5,89.6 200.2,90.9 193.9,95.8" fill="#c3ff2b"/>
<polygon points="175.1,107.4 181.3,102.1 175.1,103 168.9,108.4" fill="#72ff35"/>
<polygon points="150.3,120.5 156.5,114.7 150.3,115.3 144.1,121.1" fill="#3eff56"/>
<polygon points="138,127.1 144.1,121.1 137.9,121.5 131.8,127.6" fill="#43ff83"/>
<polygon points="101.4,147.2 107.4,140.6 101.3,140.5 95.3,147.1" fill="#50fdff"/>
<polygon points="89.3,154 95.3,147.1 89.3,146.9 83.3,153.7" fill="#54d6ff"/>
<polygon points="238.2,75.6 244.6,71.3 238.2,73 231.8,77.4" fill="#ffb71b"/>
<polygon points="225.5,81.8 231.8,77.4 225.5,78.9 219.1,83.5" fill="#ffe520"/>
<polygon points="187.6,100.9 193.9,95.8 187.6,96.9 181.3,102.1" fill="#9aff30"/>
<polygon points="162.7,113.9 168.9,108.4 162.7,109.1 156.5,114.7" fill="#4bff3a"/>
<polygon points="125.7,133.8 131.8,127.6 125.7,127.8 119.6,134.1" fill="#47ffae"/>
<polygon points="113.5,140.5 119.6,134.1 113.5,134.1 107.4,140.6" fill="#4cffd8"/>
<polygon points="206.5,93 212.8,88.1 206.5,89.6 200.2,94.5" fill="#d9ff27"/>
<polygon points="144.1,126.5 150.3,120.5 144.1,121.1 138,127.1" fill="#3fff70"/>
<polygon points="257.4,67.1 263.8,63.2 257.4,65.3 251,69.3" fill="#ff6912"/>
<polygon points="231.8,80 238.2,75.6 231.8,77.4 225.5,81.8" fill="#ffca1c"/>
<polygon points="219.1,86.5 225.5,81.8 219.1,83.5 212.8,88.1" fill="#fff822"/>
<polygon points="193.9,99.6 200.2,94.5 193.9,95.8 187.6,100.9" fill="#aeff2c"/>
<polygon points="181.3,106.2 187.6,100.9 181.3,102.1 175.1,107.4" fill="#84ff31"/>
<polygon points="168.9,112.9 175.1,107.4 168.9,108.4 162.7,113.9" fill="#5cff36"/>
<polygon points="156.5,119.7 162.7,113.9 156.5,114.7 150.3,120.5" fill="#3bff41"/>
<polygon points="131.8,133.3 138,127.1 131.8,127.6 125.7,133.8" fill="#44ff9d"/>
<polygon points="119.6,140.2 125.7,133.8 119.6,134.1 113.5,140.5" fill="#48ffc9"/>
<polygon points="95.4,154 101.4,147.2 95.3,147.1 89.3,154" fill="#51e2ff"/>
<polygon points="244.6,73.5 251,69.3 244.6,71.3 238.2,75.6" fill="#ff9a17"/>
<polygon points="107.5,147.1 113.5,140.5 107.4,140.6 101.4,147.2" fill="#4dfff3"/>
<polygon points="225.5,84.5 231.8,80 225.5,81.8 219.1,86.5" fill="#ffdd1e"/>
<polygon points="212.8,91.2 219.1,86.5 212.8,88.1 206.5,93" fill="#f1ff23"/>
<polygon points="200.2,98 206.5,93 200.2,94.5 193.9,99.6" fill="#c4ff28"/>
<polygon points="187.6,104.8 193.9,99.6 187.6,100.9 181.3,106.2" fill="#98ff2d"/>
<polygon points="162.6,118.6 168.9,112.9 162.7,113.9 156.5,119.7" fill="#44ff37"/>
<polygon points="150.3,125.6 156.5,119.7 150.3,120.5 144.1,126.5" fill="#3cff5a"/>
<polygon points="138,132.6 144.1,126.5 138,127.1 131.8,133.3" fill="#40ff8a"/>
<polygon points="125.7,139.6 131.8,133.3 125.7,133.8 119.6,140.2" fill="#45ffb8"/>
<polygon points="251,71.3 257.4,67.1 251,69.3 244.6,73.5" fill="#ff7b13"/>
<polygon points="238.2,77.9 244.6,73.5 238.2,75.6 231.8,80" fill="#ffad19"/>
<polygon points="175.1,111.7 181.3,106.2 175.1,107.4 168.9,112.9" fill="#6eff32"/>
<polygon points="113.5,146.7 119.6,140.2 113.5,140.5 107.5,147.1" fill="#49ffe4"/>
<polygon points="101.4,153.9 107.5,147.1 101.4,147.2 95.4,154" fill="#4defff"/>
<polygon points="219.1,89.3 225.5,84.5 219.1,86.5 212.8,91.2" fill="#fff21f"/>
<polygon points="193.9,103.2 200.2,98 193.9,99.6 187.6,104.8" fill="#aeff2a"/>
<polygon points="156.4,124.5 162.6,118.6 156.5,119.7 150.3,125.6" fill="#38ff44"/>
<polygon points="131.8,138.9 138,132.6 131.8,133.3 125.7,139.6" fill="#41ffa5"/>
<polygon points="244.6,75.6 251,71.3 244.6,73.5 238.2,77.9" fill="#ff8e15"/>
<polygon points="231.8,82.4 238.2,77.9 231.8,80 225.5,84.5" fill="#ffc01a"/>
<polygon points="206.5,96.2 212.8,91.2 206.5,93 200.2,98" fill="#ddff24"/>
<polygon points="181.3,110.2 187.6,104.8 181.3,106.2 175.1,111.7" fill="#81ff2f"/>
<polygon points="168.9,117.3 175.1,111.7 168.9,112.9 162.6,118.6" fill="#57ff33"/>
<polygon points="144.1,131.7 150.3,125.6 144.1,126.5 138,132.6" fill="#3dff75"/>
<polygon points="119.6,146.2 125.7,139.6 119.6,140.2 113.5,146.7" fill="#46ffd3"/>
<polygon points="107.5,153.5 113.5,146.7 107.5,147.1 101.4,153.9" fill="#4afeff"/>
<polygon points="238.2,80 244.6,75.6 238.2,77.9 231.8,82.4" fill="#ffa116"/>
<polygon points="225.5,87.1 231.8,82.4 225.5,84.5 219.1,89.3" fill="#ffd51b"/>
<polygon points="212.8,94.2 219.1,89.3 212.8,91.2 206.5,96.2" fill="#f7ff21"/>
<polygon points="200.2,101.3 206.5,96.2 200.2,98 193.9,103.2" fill="#c7ff26"/>
<polygon points="187.6,108.6 193.9,103.2 187.6,104.8 181.3,110.2" fill="#98ff2b"/>
<polygon points="175.1,115.8 181.3,110.2 175.1,111.7 168.9,117.3" fill="#6aff30"/>
<polygon points="162.6,123.1 168.9,117.3 162.6,118.6 156.4,124.5" fill="#3fff35"/>
<polygon points="150.3,130.5 156.4,124.5 150.3,125.6 144.1,131.7" fill="#39ff5e"/>
<polygon points="138,137.9 144.1,131.7 138,132.6 131.8,138.9" fill="#3eff90"/>
<polygon points="125.7,145.4 131.8,138.9 125.7,139.6 119.6,146.2" fill="#42ffc1"/>
<polygon points="113.6,152.9 119.6,146.2 113.5,146.7 107.5,153.5" fill="#47ffef"/>
<polygon points="231.9,84.6 238.2,80 231.8,82.4 225.5,87.1" fill="#ffb618"/>
<polygon points="206.5,99.2 212.8,94.2 206.5,96.2 200.2,101.3" fill="#e1ff22"/>
<polygon points="181.3,114.1 187.6,108.6 181.3,110.2 175.1,115.8" fill="#80ff2c"/>
<polygon points="168.8,121.6 175.1,115.8 168.9,117.3 162.6,123.1" fill="#52ff31"/>
<polygon points="144.1,136.7 150.3,130.5 144.1,131.7 138,137.9" fill="#3aff7a"/>
<polygon points="119.7,152 125.7,145.4 119.6,146.2 113.6,152.9" fill="#43ffdc"/>
<polygon points="219.1,91.9 225.5,87.1 219.1,89.3 212.8,94.2" fill="#ffea1d"/>
<polygon points="131.8,144.3 138,137.9 131.8,138.9 125.7,145.4" fill="#3fffac"/>
<polygon points="193.9,106.6 200.2,101.3 193.9,103.2 187.6,108.6" fill="#b0ff27"/>
<polygon points="156.4,129.1 162.6,123.1 156.4,124.5 150.3,130.5" fill="#36ff45"/>
<polygon points="212.8,96.9 219.1,91.9 212.8,94.2 206.5,99.2" fill="#feff1e"/>
<polygon points="175.1,119.8 181.3,114.1 175.1,115.8 168.8,121.6" fill="#68ff2d"/>
<polygon points="138,143.1 144.1,136.7 138,137.9 131.8,144.3" fill="#3bff95"/>
<polygon points="225.5,89.4 231.9,84.6 225.5,87.1 219.1,91.9" fill="#ffcb19"/>
<polygon points="200.1,104.5 206.5,99.2 200.2,101.3 193.9,106.6" fill="#caff23"/>
<polygon points="187.6,112.1 193.9,106.6 187.6,108.6 181.3,114.1" fill="#98ff28"/>
<polygon points="162.6,127.5 168.8,121.6 162.6,123.1 156.4,129.1" fill="#3aff32"/>
<polygon points="150.3,135.3 156.4,129.1 150.3,130.5 144.1,136.7" fill="#37ff60"/>
<polygon points="125.7,151 131.8,144.3 125.7,145.4 119.7,152" fill="#40ffc8"/>
<polygon points="219.1,94.4 225.5,89.4 219.1,91.9 212.8,96.9" fill="#ffe11a"/>
<polygon points="193.8,109.9 200.1,104.5 193.9,106.6 187.6,112.1" fill="#b3ff25"/>
<polygon points="181.3,117.8 187.6,112.1 181.3,114.1 175.1,119.8" fill="#81ff29"/>
<polygon points="168.8,125.7 175.1,119.8 168.8,121.6 162.6,127.5" fill="#50ff2e"/>
<polygon points="156.4,133.6 162.6,127.5 156.4,129.1 150.3,135.3" fill="#33ff45"/>
<polygon points="131.9,149.7 138,143.1 131.8,144.3 125.7,151" fill="#3cffb2"/>
<polygon points="206.5,102.1 212.8,96.9 206.5,99.2 200.1,104.5" fill="#e7ff20"/>
<polygon points="144.1,141.6 150.3,135.3 144.1,136.7 138,143.1" fill="#38ff7c"/>
<polygon points="200.1,107.5 206.5,102.1 200.1,104.5 193.8,109.9" fill="#d0ff21"/>
<polygon points="187.6,115.5 193.8,109.9 187.6,112.1 181.3,117.8" fill="#9bff26"/>
<polygon points="175.1,123.6 181.3,117.8 175.1,119.8 168.8,125.7" fill="#67ff2b"/>
<polygon points="162.6,131.7 168.8,125.7 162.6,127.5 156.4,133.6" fill="#36ff2f"/>
<polygon points="150.3,139.9 156.4,133.6 150.3,135.3 144.1,141.6" fill="#34ff61"/>
<polygon points="212.8,99.5 219.1,94.4 212.8,96.9 206.5,102.1" fill="#fff71c"/>
<polygon points="138,148.1 144.1,141.6 138,143.1 131.9,149.7" fill="#39ff99"/>
<polygon points="206.5,104.8 212.8,99.5 206.5,102.1 200.1,107.5" fill="#efff1d"/>
<polygon points="193.8,113 200.1,107.5 193.8,109.9 187.6,115.5" fill="#b8ff22"/>
<polygon points="181.3,121.3 187.6,115.5 181.3,117.8 175.1,123.6" fill="#82ff27"/>
<polygon points="168.8,129.6 175.1,123.6 168.8,125.7 162.6,131.7" fill="#4fff2c"/>
<polygon points="156.4,137.9 162.6,131.7 156.4,133.6 150.3,139.9" fill="#30ff45"/>
<polygon points="144.1,146.4 150.3,139.9 144.1,141.6 138,148.1" fill="#35ff7f"/>
<polygon points="200.1,110.3 206.5,104.8 200.1,107.5 193.8,113" fill="#d7ff1e"/>
<polygon points="150.2,144.4 156.4,137.9 150.3,139.9 144.1,146.4" fill="#31ff62"/>
<polygon points="187.5,118.7 193.8,113 187.6,115.5 181.3,121.3" fill="#9fff23"/>
<polygon points="175,127.2 181.3,121.3 175.1,123.6 168.8,129.6" fill="#69ff28"/>
<polygon points="162.6,135.8 168.8,129.6 162.6,131.7 156.4,137.9" fill="#34ff2d"/>
<polygon points="193.8,115.9 200.1,110.3 193.8,113 187.5,118.7" fill="#beff20"/>
<polygon points="181.3,124.6 187.5,118.7 181.3,121.3 175,127.2" fill="#85ff24"/>
<polygon points="168.8,133.3 175,127.2 168.8,129.6 162.6,135.8" fill="#4eff29"/>
<polygon points="156.4,142.1 162.6,135.8 156.4,137.9 150.2,144.4" fill="#2eff42"/>
<polygon points="187.5,121.7 193.8,115.9 187.5,118.7 181.3,124.6" fill="#a4ff21"/>
<polygon points="175,130.7 181.3,124.6 175,127.2 168.8,133.3" fill="#6bff26"/>
<polygon points="162.6,139.6 168.8,133.3 162.6,135.8 156.4,142.1" fill="#33ff2a"/>
<polygon points="181.3,127.7 187.5,121.7 181.3,124.6 175,130.7" fill="#8aff22"/>
<polygon points="168.8,136.9 175,130.7 168.8,133.3 162.6,139.6" fill="#50ff27"/>
<polygon points="175,133.9 181.3,127.7 175,130.7 168.8,136.9" fill="#6fff23"/>
</g>
</g>
<line x1="39.4" y1="569.2" x2="30.1" y2="387" stroke="#383838" stroke-width="0.62"/>
<line x1="65.4" y1="517.2" x2="59.7" y2="380.6" stroke="#383838" stroke-width="0.62"/>
<line x1="93.6" y1="508.2" x2="89.4" y2="374.2" stroke="#383838" stroke-width="0.62"/>
<line x1="121.9" y1="499.1" x2="119" y2="367.7" stroke="#383838" stroke-width="0.62"/>
<line x1="150.1" y1="490.1" x2="148.7" y2="361.3" stroke="#383838" stroke-width="0.62"/>
<line x1="178.3" y1="519.9" x2="178.3" y2="354.9" stroke="#383838" stroke-width="0.62"/>
<line x1="37.2" y1="526.3" x2="178.3" y2="481" stroke="#383838" stroke-width="0.62"/>
<line x1="36" y1="503.1" x2="178.3" y2="460" stroke="#383838" stroke-width="0.62"/>
<line x1="34.8" y1="479.8" x2="178.3" y2="439" stroke="#383838" stroke-width="0.62"/>
<line x1="33.7" y1="456.6" x2="178.3" y2="418" stroke="#383838" stroke-width="0.62"/>
<line x1="32.5" y1="433.4" x2="178.3" y2="396.9" stroke="#383838" stroke-width="0.62"/>
<line x1="31.3" y1="410.2" x2="178.3" y2="375.9" stroke="#383838" stroke-width="0.62"/>
<line x1="30.1" y1="387" x2="178.3" y2="354.9" stroke="#383838" stroke-width="0.62"/>
<line x1="317.5" y1="569.5" x2="326.5" y2="387.1" stroke="#383838" stroke-width="0.62"/>
<line x1="284.3" y1="515.1" x2="289.4" y2="379.1" stroke="#383838" stroke-width="0.62"/>
<line x1="249" y1="503.8" x2="252.4" y2="371" stroke="#383838" stroke-width="0.62"/>
<line x1="213.6" y1="492.4" x2="215.4" y2="362.9" stroke="#383838" stroke-width="0.62"/>
<line x1="178.3" y1="519.9" x2="178.3" y2="354.9" stroke="#383838" stroke-width="0.62"/>
<line x1="178.3" y1="481" x2="319.6" y2="526.5" stroke="#383838" stroke-width="0.62"/>
<line x1="178.3" y1="460" x2="320.8" y2="503.3" stroke="#383838" stroke-width="0.62"/>
<line x1="178.3" y1="439" x2="321.9" y2="480" stroke="#383838" stroke-width="0.62"/>
<line x1="178.3" y1="418" x2="323.1" y2="456.8" stroke="#383838" stroke-width="0.62"/>
<line x1="178.3" y1="396.9" x2="324.2" y2="433.6" stroke="#383838" stroke-width="0.62"/>
<line x1="178.3" y1="375.9" x2="325.4" y2="410.3" stroke="#383838" stroke-width="0.62"/>
<line x1="178.3" y1="354.9" x2="326.5" y2="387.1" stroke="#383838" stroke-width="0.62"/>
<polygon points="178.3,633 39.4,569.2 178.3,519.9 317.5,569.5" fill="#646464" stroke="#222" stroke-width="0.5"/>
<path d="M141.5 616.1 L143.5 616.4 L145.6 616.7 L147.6 617 L149.8 617.3 L151.9 617.6 L154.1 617.9 L156.3 618.2 L158.5 618.5 L160.8 618.7 L162.8 619 L164.6 619.2 L166.5 619.4 L168.8 619.6 L171.1 619.8 L173.4 620 L175.2 620.2 L177 620.3 L179.4 620.5 L181.8 620.7 L183.5 620.8 L185.4 620.9 L187.9 621.1 L190 621.2 L191.6 621.3 L194.2 621.4 L196.2 621.4 L198 621.5 L200.6 621.6 L202.4 621.6 L203.2 621.7" fill="none" stroke="#00a5ff" stroke-width="1.35" stroke-opacity="0.7"/>
<path d="M45.9 566.9 L47.1 567.6 L48.9 568.7 L50.7 569.7 L51.9 570.4 L53.8 571.5 L55.6 572.5 L57.6 573.5 L58.8 574.2 L60.8 575.2 L62.8 576.2 L64.8 577.2 L66.9 578.1 L69 579.1 L71.1 580 L73.2 581 L75.4 581.9 L77.6 582.8 L79.8 583.7 L81.4 584.4 L83.5 585.2 L85.8 586.1 L88.2 587 L89.7 587.5 L92.1 588.4 L94.5 589.2 L96.2 589.7 L98.6 590.5 L100.3 591.1 L102.8 591.9 L104.5 592.4 L107 593.1 L108.8 593.6 L111 594.3 L113.1 594.9 L114.9 595.4 L117.5 596 L119.4 596.5 L121.2 597 L123.5 597.5 L125.9 598.1 L127.7 598.5 L129.6 598.9 L131.6 599.4 L134.1 599.9 L136.4 600.4 L138.4 600.7 L140.3 601.1 L142.3 601.5 L144.3 601.9 L146.4 602.2 L148.4 602.6 L150.5 602.9 L152.6 603.2 L154.7 603.6 L156.8 603.9 L158.9 604.2 L161.1 604.5 L163.2 604.8 L165.4 605 L167.6 605.3 L169.9 605.6 L172 605.8 L173.8 606 L175.6 606.2 L177.8 606.4 L180.1 606.6 L182.5 606.8 L184.4 607 L186.1 607.1 L188.4 607.3 L190.8 607.4 L192.7 607.5 L194.5 607.6 L196.9 607.8 L199.2 607.9 L200.7 607.9 L203.2 608 L205.4 608.1 L207.1 608.1 L209.7 608.2 L211.4 608.2 L213.6 608.3 L215.9 608.3 L217.6 608.3 L220.2 608.3 L221.7 608.3 L224.4 608.3 L225.9 608.3 L228.6 608.2 L230.1 608.2 L232.9 608.1 L232.9 608.1" fill="none" stroke="#00ffc5" stroke-width="1.35" stroke-opacity="0.7"/>
<path d="M71.3 557.9 L73.1 558.9 L74.2 559.6 L76 560.6 L77.9 561.6 L79.1 562.3 L81 563.3 L82.9 564.3 L84.9 565.2 L86.4 566 L88.2 566.8 L90.2 567.8 L92.3 568.7 L94.4 569.6 L96.5 570.5 L98.7 571.4 L100.1 572 L102.4 572.8 L104.6 573.7 L106.9 574.5 L109.2 575.4 L110.8 575.9 L113.2 576.7 L115.1 577.4 L117.2 578 L119.7 578.8 L121.3 579.3 L123.8 580 L125.5 580.5 L127.8 581.2 L129.9 581.7 L131.6 582.2 L134.3 582.9 L136.1 583.3 L137.9 583.8 L140.6 584.4 L142.5 584.8 L144.4 585.2 L146.3 585.6 L148.7 586.1 L151.1 586.6 L153 587 L155 587.3 L157 587.7 L159 588 L161 588.4 L163.1 588.7 L165.1 589 L167.2 589.3 L169.3 589.6 L171.4 589.9 L173.6 590.2 L175.8 590.5 L177.9 590.7 L180.1 591 L182.4 591.2 L184.6 591.5 L186.5 591.6 L188.3 591.8 L190.4 592 L192.7 592.2 L195 592.4 L197 592.5 L198.7 592.6 L201 592.7 L203.5 592.9 L205.2 592.9 L207.2 593 L209.7 593.1 L211.5 593.2 L213.5 593.3 L216.1 593.3 L217.6 593.3 L220 593.4 L222.1 593.4 L224 593.4 L226.4 593.4 L228.1 593.4 L230.7 593.4 L232.2 593.3 L234.9 593.3 L236.5 593.2 L239 593.2 L240.8 593.1 L243.1 593 L245.2 592.9 L247.1 592.8 L249.6 592.7 L251.2 592.6 L253.5 592.4 L255.8 592.3 L257.4 592.2 L259.9 592 L262.1 591.8 L263.7 591.7 L266 591.4 L268.5 591.2 L270.3 591 L270.3 591" fill="none" stroke="#00ff2f" stroke-width="1.35" stroke-opacity="0.7"/>
<path d="M100.9 547.4 L102 548 L103.8 549 L105 549.7 L106.8 550.7 L108.6 551.6 L109.9 552.3 L111.8 553.2 L113.7 554.1 L115.7 555 L117.7 555.9 L119.8 556.8 L121.9 557.7 L124 558.5 L126.2 559.4 L128.4 560.2 L130.6 561 L132.9 561.8 L134.5 562.3 L136.8 563.1 L139.2 563.9 L140.8 564.4 L143.3 565.1 L144.9 565.6 L147.5 566.3 L149.2 566.7 L151.8 567.4 L153.5 567.8 L155.3 568.3 L158 568.9 L159.8 569.3 L161.7 569.7 L164.2 570.2 L166.4 570.6 L168.3 571 L170.2 571.4 L172.2 571.7 L174.2 572.1 L176.5 572.4 L178.8 572.8 L181 573.1 L183.1 573.4 L185.2 573.7 L187.3 574 L189.3 574.2 L191.2 574.4 L193.2 574.6 L195.2 574.8 L197.4 575.1 L199.7 575.3 L202 575.5 L204.1 575.6 L205.9 575.7 L207.8 575.9 L210.2 576 L212.6 576.1 L214.2 576.2 L216.3 576.3 L218.8 576.4 L220.6 576.4 L222.6 576.5 L225.2 576.5 L226.7 576.6 L229.1 576.6 L231.2 576.6 L233.1 576.6 L235.5 576.6 L237.3 576.5 L239.7 576.5 L241.4 576.5 L243.9 576.4 L245.7 576.3 L247.9 576.2 L250.1 576.1 L251.9 576 L254.5 575.9 L256.2 575.8 L258.3 575.6 L260.8 575.5 L262.4 575.3 L264.6 575.2 L267.1 574.9 L268.9 574.8 L270.7 574.6 L273.1 574.3 L275.5 574.1 L277.4 573.9 L279.1 573.7 L281.3 573.4 L283.6 573.1 L285.8 572.8 L288.1 572.5 L290.1 572.2 L292 571.9 L293.9 571.6 L295.9 571.3 L297.9 571 L300.1 570.6 L302.2 570.3 L304.3 569.9 L306.4 569.5 L308.4 569.1 L310.5 568.7 L312.8 568.2 L313.5 568.1" fill="none" stroke="#68ff00" stroke-width="1.35" stroke-opacity="0.7"/>
<path d="M136.6 534.7 L137.7 535.3 L139.4 536.3 L140.6 536.9 L142.3 537.9 L144.1 538.8 L145.4 539.4 L147.3 540.3 L149.2 541.1 L151.2 542 L153.3 542.8 L155.4 543.6 L157.5 544.4 L159.7 545.2 L162 546 L164.3 546.7 L165.8 547.2 L168.2 547.9 L170.6 548.6 L172.3 549 L174.8 549.7 L176.5 550.1 L179 550.7 L180.9 551.1 L182.6 551.5 L185.3 552.1 L187.2 552.4 L189.1 552.8 L191 553.1 L193.3 553.5 L195.7 553.9 L197.9 554.2 L199.9 554.5 L202 554.8 L204.1 555 L206.2 555.3 L208.3 555.5 L210.5 555.7 L212.4 555.9 L214.3 556.1 L216.1 556.2 L218.4 556.4 L220.7 556.5 L223.1 556.7 L224.8 556.8 L226.7 556.8 L229.2 556.9 L231.3 557 L232.9 557 L235.5 557.1 L237.4 557.1 L239.4 557.1 L241.8 557.1 L243.5 557.1 L246.1 557 L247.6 557 L250.3 556.9 L251.9 556.9 L254.3 556.7 L256.3 556.7 L258.3 556.5 L260.8 556.4 L262.4 556.3 L264.6 556.1 L267.1 555.9 L268.8 555.8 L270.8 555.6 L273.2 555.4 L275.5 555.1 L276.7 555" fill="none" stroke="#fdff00" stroke-width="1.35" stroke-opacity="0.7"/>
<circle cx="178.3" cy="633" r="1.25" fill="#000"/>
<text x="181.3" y="638.8" style='font-family:"Liberation Sans",sans-serif;font-size:5px' fill="#222" text-anchor="start">50</text>
<circle cx="206.1" cy="620.3" r="1.25" fill="#000"/>
<text x="209.1" y="626.1" style='font-family:"Liberation Sans",sans-serif;font-size:5px' fill="#222" text-anchor="start">70</text>
<circle cx="234" cy="607.6" r="1.25" fill="#000"/>
<text x="237" y="613.4" style='font-family:"Liberation Sans",sans-serif;font-size:5px' fill="#222" text-anchor="start">90</text>
<circle cx="261.8" cy="594.9" r="1.25" fill="#000"/>
<text x="264.8" y="600.7" style='font-family:"Liberation Sans",sans-serif;font-size:5px' fill="#222" text-anchor="start">110</text>
<circle cx="289.7" cy="582.2" r="1.25" fill="#000"/>
<text x="292.7" y="588" style='font-family:"Liberation Sans",sans-serif;font-size:5px' fill="#222" text-anchor="start">130</text>
<circle cx="317.5" cy="569.5" r="1.25" fill="#000"/>
<text x="320.5" y="575.3" style='font-family:"Liberation Sans",sans-serif;font-size:5px' fill="#222" text-anchor="start">150</text>
<circle cx="178.3" cy="633" r="1.25" fill="#000"/>
<text x="175.8" y="638" style='font-family:"Liberation Sans",sans-serif;font-size:5px' fill="#222" text-anchor="end">30</text>
<circle cx="143.6" cy="617" r="1.25" fill="#000"/>
<text x="141.1" y="622" style='font-family:"Liberation Sans",sans-serif;font-size:5px' fill="#222" text-anchor="end">60</text>
<circle cx="108.9" cy="601.1" r="1.25" fill="#000"/>
<text x="106.4" y="606.1" style='font-family:"Liberation Sans",sans-serif;font-size:5px' fill="#222" text-anchor="end">90</text>
<circle cx="74.1" cy="585.2" r="1.25" fill="#000"/>
<text x="71.6" y="590.2" style='font-family:"Liberation Sans",sans-serif;font-size:5px' fill="#222" text-anchor="end">120</text>
<circle cx="39.4" cy="569.2" r="1.25" fill="#000"/>
<text x="36.9" y="574.2" style='font-family:"Liberation Sans",sans-serif;font-size:5px' fill="#222" text-anchor="end">150</text>
<circle cx="37.2" cy="526.3" r="1.25" fill="#000"/>
<text x="34.7" y="525.1" style='font-family:"Liberation Sans",sans-serif;font-size:5px' fill="#222" text-anchor="end">50</text>
<circle cx="36" cy="503.1" r="1.25" fill="#000"/>
<text x="33.5" y="501.9" style='font-family:"Liberation Sans",sans-serif;font-size:5px' fill="#222" text-anchor="end">60</text>
<circle cx="34.8" cy="479.8" r="1.25" fill="#000"/>
<text x="32.3" y="478.6" style='font-family:"Liberation Sans",sans-serif;font-size:5px' fill="#222" text-anchor="end">70</text>
<circle cx="33.7" cy="456.6" r="1.25" fill="#000"/>
<text x="31.2" y="455.4" style='font-family:"Liberation Sans",sans-serif;font-size:5px' fill="#222" text-anchor="end">80</text>
<circle cx="32.5" cy="433.4" r="1.25" fill="#000"/>
<text x="30" y="432.2" style='font-family:"Liberation Sans",sans-serif;font-size:5px' fill="#222" text-anchor="end">90</text>
<circle cx="31.3" cy="410.2" r="1.25" fill="#000"/>
<text x="28.8" y="409" style='font-family:"Liberation Sans",sans-serif;font-size:5px' fill="#222" text-anchor="end">100</text>
<circle cx="30.1" cy="387" r="1.25" fill="#000"/>
<text x="27.6" y="385.8" style='font-family:"Liberation Sans",sans-serif;font-size:5px' fill="#222" text-anchor="end">110</text>
<g stroke="#000" stroke-width="0.6" stroke-opacity="0.55" stroke-linejoin="round">
<polygon points="178.3,399.7 185.3,396.4 178.3,395 171.4,398.3" fill="#ffa033"/>
<polygon points="185.3,401.3 192.2,397.9 185.3,396.4 178.3,399.7" fill="#ff9e34"/>
<polygon points="171.4,403.1 178.3,399.7 171.4,398.3 164.4,401.7" fill="#ffae35"/>
<polygon points="192.2,403 199.2,399.7 192.2,397.9 185.3,401.3" fill="#ff9d36"/>
<polygon points="164.4,406.7 171.4,403.1 164.4,401.7 157.5,405.2" fill="#ffbe37"/>
<polygon points="178.3,404.7 185.3,401.3 178.3,399.7 171.4,403.1" fill="#ffad37"/>
<polygon points="199.2,404.9 206.1,401.5 199.2,399.7 192.2,403" fill="#ff9f37"/>
<polygon points="185.3,406.5 192.2,403 185.3,401.3 178.3,404.7" fill="#ffac38"/>
<polygon points="171.4,408.3 178.3,404.7 171.4,403.1 164.4,406.7" fill="#ffbc39"/>
<polygon points="157.5,410.4 164.4,406.7 157.5,405.2 150.6,408.9" fill="#ffce3a"/>
<polygon points="206.1,407 213.1,403.6 206.1,401.5 199.2,404.9" fill="#ffa139"/>
<polygon points="192.2,408.4 199.2,404.9 192.2,403 185.3,406.5" fill="#ffad3a"/>
<polygon points="178.3,410.1 185.3,406.5 178.3,404.7 171.4,408.3" fill="#ffbb3b"/>
<polygon points="164.4,412 171.4,408.3 164.4,406.7 157.5,410.4" fill="#ffcc3b"/>
<polygon points="150.6,414.2 157.5,410.4 150.6,408.9 143.7,412.7" fill="#ffdf3c"/>
<polygon points="213,409.2 220,405.8 213.1,403.6 206.1,407" fill="#ffa63a"/>
<polygon points="199.1,410.5 206.1,407 199.2,404.9 192.2,408.4" fill="#ffaf3b"/>
<polygon points="185.3,412.1 192.2,408.4 185.3,406.5 178.3,410.1" fill="#ffbc3c"/>
<polygon points="171.4,413.9 178.3,410.1 171.4,408.3 164.4,412" fill="#ffcb3d"/>
<polygon points="157.5,415.9 164.4,412 157.5,410.4 150.6,414.2" fill="#ffdd3d"/>
<polygon points="143.7,418.2 150.6,414.2 143.7,412.7 136.8,416.6" fill="#fff03e"/>
<polygon points="220,411.6 227,408.2 220,405.8 213,409.2" fill="#ffab3c"/>
<polygon points="206.1,412.8 213,409.2 206.1,407 199.1,410.5" fill="#ffb43d"/>
<polygon points="192.2,414.2 199.1,410.5 192.2,408.4 185.3,412.1" fill="#ffbf3e"/>
<polygon points="178.3,415.9 185.3,412.1 178.3,410.1 171.4,413.9" fill="#ffcc3e"/>
<polygon points="164.5,417.8 171.4,413.9 164.4,412 157.5,415.9" fill="#ffdc3f"/>
<polygon points="150.6,419.9 157.5,415.9 150.6,414.2 143.7,418.2" fill="#ffee40"/>
<polygon points="136.8,422.3 143.7,418.2 136.8,416.6 129.9,420.7" fill="#fcff40"/>
<polygon points="226.9,414.2 233.9,410.7 227,408.2 220,411.6" fill="#ffb13d"/>
<polygon points="213,415.2 220,411.6 213,409.2 206.1,412.8" fill="#ffb83e"/>
<polygon points="199.1,416.5 206.1,412.8 199.1,410.5 192.2,414.2" fill="#ffc23f"/>
<polygon points="185.2,418 192.2,414.2 185.3,412.1 178.3,415.9" fill="#ffce40"/>
<polygon points="171.4,419.8 178.3,415.9 171.4,413.9 164.5,417.8" fill="#ffdc41"/>
<polygon points="157.5,421.8 164.5,417.8 157.5,415.9 150.6,419.9" fill="#ffec41"/>
<polygon points="143.7,424 150.6,419.9 143.7,418.2 136.8,422.3" fill="#feff42"/>
<polygon points="129.9,426.6 136.8,422.3 129.9,420.7 123,424.9" fill="#eaff42"/>
<polygon points="233.8,417 240.8,413.5 233.9,410.7 226.9,414.2" fill="#ffb93e"/>
<polygon points="206.1,419 213,415.2 206.1,412.8 199.1,416.5" fill="#ffc640"/>
<polygon points="178.3,422 185.2,418 178.3,415.9 171.4,419.8" fill="#ffde42"/>
<polygon points="150.6,426 157.5,421.8 150.6,419.9 143.7,424" fill="#fffe43"/>
<polygon points="123.1,431 129.9,426.6 123,424.9 116.2,429.3" fill="#d6ff44"/>
<polygon points="219.9,417.9 226.9,414.2 220,411.6 213,415.2" fill="#ffbe3f"/>
<polygon points="192.2,420.4 199.1,416.5 192.2,414.2 185.2,418" fill="#ffd141"/>
<polygon points="164.5,423.8 171.4,419.8 164.5,417.8 157.5,421.8" fill="#ffed43"/>
<polygon points="136.8,428.3 143.7,424 136.8,422.3 129.9,426.6" fill="#ecff44"/>
<polygon points="240.8,420 247.7,416.4 240.8,413.5 233.8,417" fill="#ffc13f"/>
<polygon points="226.9,420.7 233.8,417 226.9,414.2 219.9,417.9" fill="#ffc641"/>
<polygon points="213,421.6 219.9,417.9 213,415.2 206.1,419" fill="#ffcc42"/>
<polygon points="199.1,422.9 206.1,419 199.1,416.5 192.2,420.4" fill="#ffd643"/>
<polygon points="185.2,424.3 192.2,420.4 185.2,418 178.3,422" fill="#ffe143"/>
<polygon points="171.4,426.1 178.3,422 171.4,419.8 164.5,423.8" fill="#ffee44"/>
<polygon points="157.6,428 164.5,423.8 157.5,421.8 150.6,426" fill="#fffe45"/>
<polygon points="143.8,430.3 150.6,426 143.7,424 136.8,428.3" fill="#eeff45"/>
<polygon points="130,432.8 136.8,428.3 129.9,426.6 123.1,431" fill="#d9ff46"/>
<polygon points="116.2,435.5 123.1,431 116.2,429.3 109.4,433.8" fill="#c3ff46"/>
<polygon points="219.9,424.5 226.9,420.7 219.9,417.9 213,421.6" fill="#ffd343"/>
<polygon points="192.2,426.9 199.1,422.9 192.2,420.4 185.2,424.3" fill="#ffe545"/>
<polygon points="164.5,430.3 171.4,426.1 164.5,423.8 157.6,428" fill="#feff46"/>
<polygon points="136.9,434.7 143.8,430.3 136.8,428.3 130,432.8" fill="#dbff47"/>
<polygon points="247.7,423.1 254.6,419.5 247.7,416.4 240.8,420" fill="#ffcb41"/>
<polygon points="233.8,423.7 240.8,420 233.8,417 226.9,420.7" fill="#ffcf42"/>
<polygon points="206,425.6 213,421.6 206.1,419 199.1,422.9" fill="#ffdb44"/>
<polygon points="178.3,428.5 185.2,424.3 178.3,422 171.4,426.1" fill="#fff146"/>
<polygon points="150.7,432.4 157.6,428 150.6,426 143.8,430.3" fill="#eeff47"/>
<polygon points="123.1,437.3 130,432.8 123.1,431 116.2,435.5" fill="#c6ff48"/>
<polygon points="109.4,440.2 116.2,435.5 109.4,433.8 102.5,438.5" fill="#afff48"/>
<polygon points="254.6,426.4 261.5,422.8 254.6,419.5 247.7,423.1" fill="#ffd742"/>
<polygon points="240.7,426.8 247.7,423.1 240.8,420 233.8,423.7" fill="#ffd943"/>
<polygon points="226.8,427.5 233.8,423.7 226.9,420.7 219.9,424.5" fill="#ffdd44"/>
<polygon points="213,428.4 219.9,424.5 213,421.6 206,425.6" fill="#ffe345"/>
<polygon points="199.1,429.6 206,425.6 199.1,422.9 192.2,426.9" fill="#ffeb46"/>
<polygon points="185.2,431 192.2,426.9 185.2,424.3 178.3,428.5" fill="#fff547"/>
<polygon points="171.4,432.7 178.3,428.5 171.4,426.1 164.5,430.3" fill="#fcff48"/>
<polygon points="157.6,434.7 164.5,430.3 157.6,428 150.7,432.4" fill="#edff48"/>
<polygon points="143.8,436.9 150.7,432.4 143.8,430.3 136.9,434.7" fill="#dcff49"/>
<polygon points="130,439.3 136.9,434.7 130,432.8 123.1,437.3" fill="#c8ff49"/>
<polygon points="116.3,442.1 123.1,437.3 116.2,435.5 109.4,440.2" fill="#b2ff4a"/>
<polygon points="102.6,445 109.4,440.2 102.5,438.5 95.7,443.3" fill="#9aff4a"/>
<polygon points="261.4,430 268.4,426.3 261.5,422.8 254.6,426.4" fill="#ffe443"/>
<polygon points="247.6,430.2 254.6,426.4 247.7,423.1 240.7,426.8" fill="#ffe444"/>
<polygon points="233.7,430.7 240.7,426.8 233.8,423.7 226.8,427.5" fill="#ffe545"/>
<polygon points="219.9,431.5 226.8,427.5 219.9,424.5 213,428.4" fill="#ffeb46"/>
<polygon points="206,432.5 213,428.4 206,425.6 199.1,429.6" fill="#fff147"/>
<polygon points="192.2,433.8 199.1,429.6 192.2,426.9 185.2,431" fill="#fffb48"/>
<polygon points="178.3,435.3 185.2,431 178.3,428.5 171.4,432.7" fill="#f9ff49"/>
<polygon points="164.5,437.1 171.4,432.7 164.5,430.3 157.6,434.7" fill="#eaff4a"/>
<polygon points="150.7,439.2 157.6,434.7 150.7,432.4 143.8,436.9" fill="#dbff4a"/>
<polygon points="136.9,441.5 143.8,436.9 136.9,434.7 130,439.3" fill="#c9ff4b"/>
<polygon points="123.2,444.1 130,439.3 123.1,437.3 116.3,442.1" fill="#b4ff4b"/>
<polygon points="109.5,446.9 116.3,442.1 109.4,440.2 102.6,445" fill="#9eff4c"/>
<polygon points="95.8,450 102.6,445 95.7,443.3 89,448.3" fill="#86ff4c"/>
<polygon points="268.3,433.7 275.3,430 268.4,426.3 261.4,430" fill="#fff244"/>
<polygon points="254.5,433.8 261.4,430 254.6,426.4 247.6,430.2" fill="#fff045"/>
<polygon points="240.6,434.1 247.6,430.2 240.7,426.8 233.7,430.7" fill="#fff146"/>
<polygon points="226.8,434.7 233.7,430.7 226.8,427.5 219.9,431.5" fill="#fff347"/>
<polygon points="212.9,435.6 219.9,431.5 213,428.4 206,432.5" fill="#fff948"/>
<polygon points="199.1,436.7 206,432.5 199.1,429.6 192.2,433.8" fill="#fdff49"/>
<polygon points="185.2,438.1 192.2,433.8 185.2,431 178.3,435.3" fill="#f3ff4a"/>
<polygon points="171.4,439.8 178.3,435.3 171.4,432.7 164.5,437.1" fill="#e7ff4b"/>
<polygon points="157.6,441.7 164.5,437.1 157.6,434.7 150.7,439.2" fill="#d9ff4c"/>
<polygon points="143.8,443.9 150.7,439.2 143.8,436.9 136.9,441.5" fill="#c8ff4c"/>
<polygon points="130.1,446.3 136.9,441.5 130,439.3 123.2,444.1" fill="#b6ff4d"/>
<polygon points="116.4,449 123.2,444.1 116.3,442.1 109.5,446.9" fill="#a0ff4d"/>
<polygon points="102.7,452 109.5,446.9 102.6,445 95.8,450" fill="#89ff4e"/>
<polygon points="89.1,455.2 95.8,450 89,448.3 82.2,453.4" fill="#70ff4e"/>
<polygon points="275.2,437.6 282.1,433.8 275.3,430 268.3,433.7" fill="#feff44"/>
<polygon points="261.3,437.5 268.3,433.7 261.4,430 254.5,433.8" fill="#fffe46"/>
<polygon points="247.5,437.7 254.5,433.8 247.6,430.2 240.6,434.1" fill="#fffd47"/>
<polygon points="233.7,438.2 240.6,434.1 233.7,430.7 226.8,434.7" fill="#fffe48"/>
<polygon points="219.8,438.9 226.8,434.7 219.9,431.5 212.9,435.6" fill="#fbff4a"/>
<polygon points="206,439.9 212.9,435.6 206,432.5 199.1,436.7" fill="#f6ff4b"/>
<polygon points="192.1,441.1 199.1,436.7 192.2,433.8 185.2,438.1" fill="#edff4c"/>
<polygon points="178.3,442.6 185.2,438.1 178.3,435.3 171.4,439.8" fill="#e2ff4c"/>
<polygon points="164.5,444.4 171.4,439.8 164.5,437.1 157.6,441.7" fill="#d5ff4d"/>
<polygon points="150.7,446.4 157.6,441.7 150.7,439.2 143.8,443.9" fill="#c7ff4e"/>
<polygon points="137,448.7 143.8,443.9 136.9,441.5 130.1,446.3" fill="#b5ff4e"/>
<polygon points="123.3,451.3 130.1,446.3 123.2,444.1 116.4,449" fill="#a2ff4f"/>
<polygon points="109.6,454.1 116.4,449 109.5,446.9 102.7,452" fill="#8cff4f"/>
<polygon points="95.9,457.1 102.7,452 95.8,450 89.1,455.2" fill="#74ff4f"/>
<polygon points="82.3,460.5 89.1,455.2 82.2,453.4 75.5,458.6" fill="#5aff50"/>
<polygon points="282,441.7 289,437.9 282.1,433.8 275.2,437.6" fill="#eeff45"/>
<polygon points="268.2,441.4 275.2,437.6 268.3,433.7 261.3,437.5" fill="#f2ff47"/>
<polygon points="254.4,441.5 261.3,437.5 254.5,433.8 247.5,437.7" fill="#f4ff48"/>
<polygon points="240.5,441.8 247.5,437.7 240.6,434.1 233.7,438.2" fill="#f4ff49"/>
<polygon points="226.7,442.4 233.7,438.2 226.8,434.7 219.8,438.9" fill="#f2ff4b"/>
<polygon points="199,444.3 206,439.9 199.1,436.7 192.1,441.1" fill="#e6ff4d"/>
<polygon points="185.2,445.6 192.1,441.1 185.2,438.1 178.3,442.6" fill="#dcff4e"/>
<polygon points="171.4,447.3 178.3,442.6 171.4,439.8 164.5,444.4" fill="#d1ff4f"/>
<polygon points="157.6,449.1 164.5,444.4 157.6,441.7 150.7,446.4" fill="#c4ff4f"/>
<polygon points="130.1,453.7 137,448.7 130.1,446.3 123.3,451.3" fill="#a2ff50"/>
<polygon points="116.4,456.4 123.3,451.3 116.4,449 109.6,454.1" fill="#8eff51"/>
<polygon points="102.8,459.3 109.6,454.1 102.7,452 95.9,457.1" fill="#77ff51"/>
<polygon points="89.2,462.5 95.9,457.1 89.1,455.2 82.3,460.5" fill="#5fff51"/>
<polygon points="75.6,465.9 82.3,460.5 75.5,458.6 68.8,464" fill="#51ff5f"/>
<polygon points="212.9,443.2 219.8,438.9 212.9,435.6 206,439.9" fill="#edff4c"/>
<polygon points="143.9,451.3 150.7,446.4 143.8,443.9 137,448.7" fill="#b3ff50"/>
<polygon points="288.8,446 295.8,442.1 289,437.9 282,441.7" fill="#dcff46"/>
<polygon points="261.2,445.5 268.2,441.4 261.3,437.5 254.4,441.5" fill="#e6ff49"/>
<polygon points="233.6,446 240.5,441.8 233.7,438.2 226.7,442.4" fill="#e6ff4c"/>
<polygon points="205.9,447.6 212.9,443.2 206,439.9 199,444.3" fill="#ddff4e"/>
<polygon points="178.3,450.3 185.2,445.6 178.3,442.6 171.4,447.3" fill="#cbff50"/>
<polygon points="150.8,454 157.6,449.1 150.7,446.4 143.9,451.3" fill="#b1ff51"/>
<polygon points="123.3,458.8 130.1,453.7 123.3,451.3 116.4,456.4" fill="#8eff52"/>
<polygon points="96,464.6 102.8,459.3 95.9,457.1 89.2,462.5" fill="#62ff53"/>
<polygon points="68.9,471.5 75.6,465.9 68.8,464 62.1,469.6" fill="#53ff79"/>
<polygon points="275,445.6 282,441.7 275.2,437.6 268.2,441.4" fill="#e2ff48"/>
<polygon points="247.4,445.6 254.4,441.5 247.5,437.7 240.5,441.8" fill="#e7ff4a"/>
<polygon points="219.8,446.7 226.7,442.4 219.8,438.9 212.9,443.2" fill="#e3ff4d"/>
<polygon points="192.1,448.8 199,444.3 192.1,441.1 185.2,445.6" fill="#d6ff4f"/>
<polygon points="164.5,452 171.4,447.3 164.5,444.4 157.6,449.1" fill="#bfff51"/>
<polygon points="137,456.3 143.9,451.3 137,448.7 130.1,453.7" fill="#a1ff52"/>
<polygon points="109.6,461.6 116.4,456.4 109.6,454.1 102.8,459.3" fill="#79ff53"/>
<polygon points="82.4,468 89.2,462.5 82.3,460.5 75.6,465.9" fill="#53ff5d"/>
<polygon points="295.6,450.4 302.6,446.6 295.8,442.1 288.8,446" fill="#caff47"/>
<polygon points="281.9,449.9 288.8,446 282,441.7 275,445.6" fill="#d1ff48"/>
<polygon points="268.1,449.6 275,445.6 268.2,441.4 261.2,445.5" fill="#d7ff4a"/>
<polygon points="254.3,449.6 261.2,445.5 254.4,441.5 247.4,445.6" fill="#d9ff4b"/>
<polygon points="240.5,449.9 247.4,445.6 240.5,441.8 233.6,446" fill="#d9ff4d"/>
<polygon points="226.6,450.4 233.6,446 226.7,442.4 219.8,446.7" fill="#d7ff4e"/>
<polygon points="212.8,451.2 219.8,446.7 212.9,443.2 205.9,447.6" fill="#d4ff4f"/>
<polygon points="199,452.2 205.9,447.6 199,444.3 192.1,448.8" fill="#cdff50"/>
<polygon points="185.2,453.5 192.1,448.8 185.2,445.6 178.3,450.3" fill="#c4ff51"/>
<polygon points="171.4,455.1 178.3,450.3 171.4,447.3 164.5,452" fill="#baff52"/>
<polygon points="157.7,457 164.5,452 157.6,449.1 150.8,454" fill="#adff52"/>
<polygon points="143.9,459.1 150.8,454 143.9,451.3 137,456.3" fill="#9eff53"/>
<polygon points="130.2,461.5 137,456.3 130.1,453.7 123.3,458.8" fill="#8dff54"/>
<polygon points="116.5,464.1 123.3,458.8 116.4,456.4 109.6,461.6" fill="#7aff54"/>
<polygon points="102.9,467 109.6,461.6 102.8,459.3 96,464.6" fill="#64ff54"/>
<polygon points="89.3,470.2 96,464.6 89.2,462.5 82.4,468" fill="#55ff5d"/>
<polygon points="75.7,473.6 82.4,468 75.6,465.9 68.9,471.5" fill="#55ff77"/>
<polygon points="62.2,477.3 68.9,471.5 62.1,469.6 55.4,475.3" fill="#55ff94"/>
<polygon points="247.3,453.9 254.3,449.6 247.4,445.6 240.5,449.9" fill="#ccff4d"/>
<polygon points="219.7,454.9 226.6,450.4 219.8,446.7 212.8,451.2" fill="#c9ff50"/>
<polygon points="137.1,464.3 143.9,459.1 137,456.3 130.2,461.5" fill="#8aff55"/>
<polygon points="109.7,469.5 116.5,464.1 109.6,461.6 102.9,467" fill="#64ff56"/>
<polygon points="302.4,455.1 309.4,451.3 302.6,446.6 295.6,450.4" fill="#b6ff47"/>
<polygon points="288.7,454.4 295.6,450.4 288.8,446 281.9,449.9" fill="#c0ff49"/>
<polygon points="274.9,454 281.9,449.9 275,445.6 268.1,449.6" fill="#c6ff4b"/>
<polygon points="261.1,453.8 268.1,449.6 261.2,445.5 254.3,449.6" fill="#caff4c"/>
<polygon points="233.5,454.3 240.5,449.9 233.6,446 226.6,450.4" fill="#cbff4f"/>
<polygon points="205.9,455.8 212.8,451.2 205.9,447.6 199,452.2" fill="#c4ff51"/>
<polygon points="192.1,457 199,452.2 192.1,448.8 185.2,453.5" fill="#bdff52"/>
<polygon points="178.3,458.4 185.2,453.5 178.3,450.3 171.4,455.1" fill="#b3ff53"/>
<polygon points="164.6,460.1 171.4,455.1 164.5,452 157.7,457" fill="#a8ff54"/>
<polygon points="150.8,462.1 157.7,457 150.8,454 143.9,459.1" fill="#9aff54"/>
<polygon points="123.4,466.8 130.2,461.5 123.3,458.8 116.5,464.1" fill="#79ff55"/>
<polygon points="96.1,472.6 102.9,467 96,464.6 89.3,470.2" fill="#56ff5e"/>
<polygon points="82.5,475.9 89.3,470.2 82.4,468 75.7,473.6" fill="#56ff77"/>
<polygon points="69,479.4 75.7,473.6 68.9,471.5 62.2,477.3" fill="#56ff91"/>
<polygon points="55.5,483.2 62.2,477.3 55.4,475.3 48.7,481.2" fill="#56ffae"/>
<polygon points="309.2,460.1 316.1,456.1 309.4,451.3 302.4,455.1" fill="#a2ff48"/>
<polygon points="281.7,458.6 288.7,454.4 281.9,449.9 274.9,454" fill="#b4ff4b"/>
<polygon points="75.8,481.7 82.5,475.9 75.7,473.6 69,479.4" fill="#58ff90"/>
<polygon points="48.9,489.3 55.5,483.2 48.7,481.2 42.1,487.3" fill="#58ffc9"/>
<polygon points="295.4,459.2 302.4,455.1 295.6,450.4 288.7,454.4" fill="#acff4a"/>
<polygon points="267.9,458.2 274.9,454 268.1,449.6 261.1,453.8" fill="#baff4d"/>
<polygon points="254.2,458.2 261.1,453.8 254.3,449.6 247.3,453.9" fill="#bdff4e"/>
<polygon points="240.4,458.4 247.3,453.9 240.5,449.9 233.5,454.3" fill="#beff50"/>
<polygon points="226.6,458.8 233.5,454.3 226.6,450.4 219.7,454.9" fill="#bdff51"/>
<polygon points="212.8,459.6 219.7,454.9 212.8,451.2 205.9,455.8" fill="#b9ff52"/>
<polygon points="199,460.6 205.9,455.8 199,452.2 192.1,457" fill="#b3ff53"/>
<polygon points="185.2,461.9 192.1,457 185.2,453.5 178.3,458.4" fill="#abff54"/>
<polygon points="171.4,463.4 178.3,458.4 171.4,455.1 164.6,460.1" fill="#a2ff55"/>
<polygon points="157.7,465.2 164.6,460.1 157.7,457 150.8,462.1" fill="#95ff56"/>
<polygon points="144,467.3 150.8,462.1 143.9,459.1 137.1,464.3" fill="#87ff56"/>
<polygon points="130.3,469.6 137.1,464.3 130.2,461.5 123.4,466.8" fill="#76ff57"/>
<polygon points="116.6,472.3 123.4,466.8 116.5,464.1 109.7,469.5" fill="#64ff57"/>
<polygon points="103,475.1 109.7,469.5 102.9,467 96.1,472.6" fill="#58ff5f"/>
<polygon points="89.4,478.3 96.1,472.6 89.3,470.2 82.5,475.9" fill="#58ff77"/>
<polygon points="62.3,485.4 69,479.4 62.2,477.3 55.5,483.2" fill="#58ffac"/>
<polygon points="315.9,465.2 322.8,461.2 316.1,456.1 309.2,460.1" fill="#8cff49"/>
<polygon points="288.5,463.4 295.4,459.2 288.7,454.4 281.7,458.6" fill="#a2ff4c"/>
<polygon points="261,462.6 267.9,458.2 261.1,453.8 254.2,458.2" fill="#adff4f"/>
<polygon points="233.4,463 240.4,458.4 233.5,454.3 226.6,458.8" fill="#b0ff52"/>
<polygon points="205.9,464.4 212.8,459.6 205.9,455.8 199,460.6" fill="#a9ff54"/>
<polygon points="150.9,470.5 157.7,465.2 150.8,462.1 144,467.3" fill="#82ff57"/>
<polygon points="123.5,475.2 130.3,469.6 123.4,466.8 116.6,472.3" fill="#62ff59"/>
<polygon points="96.2,480.9 103,475.1 96.1,472.6 89.4,478.3" fill="#59ff78"/>
<polygon points="69.2,487.7 75.8,481.7 69,479.4 62.3,485.4" fill="#5affab"/>
<polygon points="42.3,495.6 48.9,489.3 42.1,487.3 35.5,493.5" fill="#5affe4"/>
<polygon points="302.2,464.1 309.2,460.1 302.4,455.1 295.4,459.2" fill="#98ff4a"/>
<polygon points="274.7,462.9 281.7,458.6 274.9,454 267.9,458.2" fill="#a9ff4e"/>
<polygon points="247.2,462.7 254.2,458.2 247.3,453.9 240.4,458.4" fill="#b0ff50"/>
<polygon points="219.7,463.6 226.6,458.8 219.7,454.9 212.8,459.6" fill="#adff53"/>
<polygon points="192.1,465.5 199,460.6 192.1,457 185.2,461.9" fill="#a2ff55"/>
<polygon points="178.3,466.9 185.2,461.9 178.3,458.4 171.4,463.4" fill="#9aff56"/>
<polygon points="164.6,468.6 171.4,463.4 164.6,460.1 157.7,465.2" fill="#90ff57"/>
<polygon points="137.1,472.7 144,467.3 137.1,464.3 130.3,469.6" fill="#74ff58"/>
<polygon points="109.8,477.9 116.6,472.3 109.7,469.5 103,475.1" fill="#59ff63"/>
<polygon points="82.7,484.2 89.4,478.3 82.5,475.9 75.8,481.7" fill="#59ff91"/>
<polygon points="55.7,491.5 62.3,485.4 55.5,483.2 48.9,489.3" fill="#5affc7"/>
<polygon points="308.9,469.3 315.9,465.2 309.2,460.1 302.2,464.1" fill="#82ff4b"/>
<polygon points="295.2,468.3 302.2,464.1 295.4,459.2 288.5,463.4" fill="#8eff4d"/>
<polygon points="281.5,467.7 288.5,463.4 281.7,458.6 274.7,462.9" fill="#96ff4e"/>
<polygon points="267.8,467.3 274.7,462.9 267.9,458.2 261,462.6" fill="#9cff50"/>
<polygon points="254,467.2 261,462.6 254.2,458.2 247.2,462.7" fill="#a0ff51"/>
<polygon points="240.3,467.3 247.2,462.7 240.4,458.4 233.4,463" fill="#a2ff53"/>
<polygon points="226.5,467.7 233.4,463 226.6,458.8 219.7,463.6" fill="#a1ff54"/>
<polygon points="212.7,468.4 219.7,463.6 212.8,459.6 205.9,464.4" fill="#9eff55"/>
<polygon points="199,469.4 205.9,464.4 199,460.6 192.1,465.5" fill="#99ff56"/>
<polygon points="185.2,470.6 192.1,465.5 185.2,461.9 178.3,466.9" fill="#92ff57"/>
<polygon points="171.5,472.1 178.3,466.9 171.4,463.4 164.6,468.6" fill="#88ff58"/>
<polygon points="157.7,473.9 164.6,468.6 157.7,465.2 150.9,470.5" fill="#7dff59"/>
<polygon points="144,475.9 150.9,470.5 144,467.3 137.1,472.7" fill="#6fff59"/>
<polygon points="130.3,478.3 137.1,472.7 130.3,469.6 123.5,475.2" fill="#60ff5a"/>
<polygon points="116.7,480.8 123.5,475.2 116.6,472.3 109.8,477.9" fill="#5aff67"/>
<polygon points="103.1,483.7 109.8,477.9 103,475.1 96.2,480.9" fill="#5bff7c"/>
<polygon points="89.5,486.8 96.2,480.9 89.4,478.3 82.7,484.2" fill="#5bff92"/>
<polygon points="76,490.2 82.7,484.2 75.8,481.7 69.2,487.7" fill="#5bffab"/>
<polygon points="62.5,493.9 69.2,487.7 62.3,485.4 55.7,491.5" fill="#5bffc5"/>
<polygon points="49.1,497.8 55.7,491.5 48.9,489.3 42.3,495.6" fill="#5bffe1"/>
<polygon points="302,473.5 308.9,469.3 302.2,464.1 295.2,468.3" fill="#78ff4d"/>
<polygon points="274.6,472.2 281.5,467.7 274.7,462.9 267.8,467.3" fill="#8aff50"/>
<polygon points="247.1,471.8 254,467.2 247.2,462.7 240.3,467.3" fill="#93ff53"/>
<polygon points="219.6,472.6 226.5,467.7 219.7,463.6 212.7,468.4" fill="#92ff56"/>
<polygon points="137.2,481.5 144,475.9 137.1,472.7 130.3,478.3" fill="#5cff5b"/>
<polygon points="109.9,486.7 116.7,480.8 109.8,477.9 103.1,483.7" fill="#5cff7f"/>
<polygon points="82.8,492.9 89.5,486.8 82.7,484.2 76,490.2" fill="#5dffac"/>
<polygon points="55.9,500.2 62.5,493.9 55.7,491.5 49.1,497.8" fill="#5dffe0"/>
<polygon points="288.3,472.7 295.2,468.3 288.5,463.4 281.5,467.7" fill="#83ff4f"/>
<polygon points="260.8,471.9 267.8,467.3 261,462.6 254,467.2" fill="#8fff52"/>
<polygon points="233.3,472.1 240.3,467.3 233.4,463 226.5,467.7" fill="#93ff55"/>
<polygon points="205.8,473.4 212.7,468.4 205.9,464.4 199,469.4" fill="#8eff57"/>
<polygon points="192.1,474.5 199,469.4 192.1,465.5 185.2,470.6" fill="#88ff58"/>
<polygon points="178.3,475.9 185.2,470.6 178.3,466.9 171.5,472.1" fill="#80ff59"/>
<polygon points="164.6,477.5 171.5,472.1 164.6,468.6 157.7,473.9" fill="#76ff5a"/>
<polygon points="150.9,479.4 157.7,473.9 150.9,470.5 144,475.9" fill="#6aff5a"/>
<polygon points="123.6,484 130.3,478.3 123.5,475.2 116.7,480.8" fill="#5cff6c"/>
<polygon points="96.3,489.7 103.1,483.7 96.2,480.9 89.5,486.8" fill="#5cff94"/>
<polygon points="69.3,496.4 76,490.2 69.2,487.7 62.5,493.9" fill="#5dffc5"/>
<polygon points="295,478 302,473.5 295.2,468.3 288.3,472.7" fill="#6eff4f"/>
<polygon points="281.4,477.2 288.3,472.7 281.5,467.7 274.6,472.2" fill="#76ff51"/>
<polygon points="267.6,476.8 274.6,472.2 267.8,467.3 260.8,471.9" fill="#7eff52"/>
<polygon points="253.9,476.6 260.8,471.9 254,467.2 247.1,471.8" fill="#82ff54"/>
<polygon points="240.2,476.7 247.1,471.8 240.3,467.3 233.3,472.1" fill="#84ff55"/>
<polygon points="226.4,477 233.3,472.1 226.5,467.7 219.6,472.6" fill="#84ff57"/>
<polygon points="212.7,477.7 219.6,472.6 212.7,468.4 205.8,473.4" fill="#82ff58"/>
<polygon points="185.2,479.8 192.1,474.5 185.2,470.6 178.3,475.9" fill="#76ff5a"/>
<polygon points="171.5,481.3 178.3,475.9 171.5,472.1 164.6,477.5" fill="#6eff5b"/>
<polygon points="144.1,485 150.9,479.4 144,475.9 137.2,481.5" fill="#5cff62"/>
<polygon points="130.4,487.3 137.2,481.5 130.3,478.3 123.6,484" fill="#5dff72"/>
<polygon points="116.8,489.8 123.6,484 116.7,480.8 109.9,486.7" fill="#5dff84"/>
<polygon points="103.2,492.7 109.9,486.7 103.1,483.7 96.3,489.7" fill="#5eff98"/>
<polygon points="89.6,495.8 96.3,489.7 89.5,486.8 82.8,492.9" fill="#5effae"/>
<polygon points="76.1,499.2 82.8,492.9 76,490.2 69.3,496.4" fill="#5effc6"/>
<polygon points="62.7,502.8 69.3,496.4 62.5,493.9 55.9,500.2" fill="#5effdf"/>
<polygon points="198.9,478.6 205.8,473.4 199,469.4 192.1,474.5" fill="#7dff59"/>
<polygon points="157.8,483 164.6,477.5 157.7,473.9 150.9,479.4" fill="#63ff5c"/>
<polygon points="288.1,482.5 295,478 288.3,472.7 281.4,477.2" fill="#62ff51"/>
<polygon points="260.7,481.5 267.6,476.8 260.8,471.9 253.9,476.6" fill="#71ff55"/>
<polygon points="233.3,481.7 240.2,476.7 233.3,472.1 226.4,477" fill="#76ff57"/>
<polygon points="205.8,482.9 212.7,477.7 205.8,473.4 198.9,478.6" fill="#71ff5a"/>
<polygon points="178.3,485.2 185.2,479.8 178.3,475.9 171.5,481.3" fill="#65ff5c"/>
<polygon points="150.9,488.7 157.8,483 150.9,479.4 144.1,485" fill="#5dff6b"/>
<polygon points="123.6,493.2 130.4,487.3 123.6,484 116.8,489.8" fill="#5fff8a"/>
<polygon points="96.5,498.8 103.2,492.7 96.3,489.7 89.6,495.8" fill="#5fffb1"/>
<polygon points="69.5,505.6 76.1,499.2 69.3,496.4 62.7,502.8" fill="#60ffe0"/>
<polygon points="274.4,481.9 281.4,477.2 274.6,472.2 267.6,476.8" fill="#6bff53"/>
<polygon points="247,481.5 253.9,476.6 247.1,471.8 240.2,476.7" fill="#74ff56"/>
<polygon points="219.5,482.1 226.4,477 219.6,472.6 212.7,477.7" fill="#75ff59"/>
<polygon points="192.1,483.9 198.9,478.6 192.1,474.5 185.2,479.8" fill="#6cff5b"/>
<polygon points="164.6,486.8 171.5,481.3 164.6,477.5 157.8,483" fill="#5dff5e"/>
<polygon points="137.3,490.8 144.1,485 137.2,481.5 130.4,487.3" fill="#5eff79"/>
<polygon points="110,495.9 116.8,489.8 109.9,486.7 103.2,492.7" fill="#5fff9c"/>
<polygon points="83,502.1 89.6,495.8 82.8,492.9 76.1,499.2" fill="#60ffc7"/>
<polygon points="281.2,487.2 288.1,482.5 281.4,477.2 274.4,481.9" fill="#56ff54"/>
<polygon points="267.5,486.7 274.4,481.9 267.6,476.8 260.7,481.5" fill="#5eff55"/>
<polygon points="253.8,486.5 260.7,481.5 253.9,476.6 247,481.5" fill="#63ff57"/>
<polygon points="240.1,486.5 247,481.5 240.2,476.7 233.3,481.7" fill="#66ff58"/>
<polygon points="226.3,486.8 233.3,481.7 226.4,477 219.5,482.1" fill="#66ff59"/>
<polygon points="212.6,487.4 219.5,482.1 212.7,477.7 205.8,482.9" fill="#64ff5b"/>
<polygon points="198.9,488.3 205.8,482.9 198.9,478.6 192.1,483.9" fill="#61ff5c"/>
<polygon points="185.2,489.4 192.1,483.9 185.2,479.8 178.3,485.2" fill="#5dff5f"/>
<polygon points="171.5,490.8 178.3,485.2 171.5,481.3 164.6,486.8" fill="#5eff68"/>
<polygon points="157.8,492.5 164.6,486.8 157.8,483 150.9,488.7" fill="#5eff74"/>
<polygon points="144.1,494.5 150.9,488.7 144.1,485 137.3,490.8" fill="#5fff82"/>
<polygon points="130.5,496.8 137.3,490.8 130.4,487.3 123.6,493.2" fill="#60ff91"/>
<polygon points="116.9,499.3 123.6,493.2 116.8,489.8 110,495.9" fill="#60ffa2"/>
<polygon points="103.3,502.1 110,495.9 103.2,492.7 96.5,498.8" fill="#61ffb5"/>
<polygon points="89.8,505.2 96.5,498.8 89.6,495.8 83,502.1" fill="#61ffca"/>
<polygon points="76.3,508.5 83,502.1 76.1,499.2 69.5,505.6" fill="#61ffe1"/>
<polygon points="274.2,492.1 281.2,487.2 274.4,481.9 267.5,486.7" fill="#56ff61"/>
<polygon points="246.9,491.5 253.8,486.5 247,481.5 240.1,486.5" fill="#59ff5d"/>
<polygon points="192,493.8 198.9,488.3 192.1,483.9 185.2,489.4" fill="#5eff6b"/>
<polygon points="164.6,496.6 171.5,490.8 164.6,486.8 157.8,492.5" fill="#5fff7f"/>
<polygon points="110.2,505.5 116.9,499.3 110,495.9 103.3,502.1" fill="#62ffbb"/>
<polygon points="83.1,511.7 89.8,505.2 83,502.1 76.3,508.5" fill="#62ffe4"/>
<polygon points="260.6,491.7 267.5,486.7 260.7,481.5 253.8,486.5" fill="#57ff5e"/>
<polygon points="233.2,491.7 240.1,486.5 233.3,481.7 226.3,486.8" fill="#5aff5d"/>
<polygon points="219.4,492.1 226.3,486.8 219.5,482.1 212.6,487.4" fill="#5bff60"/>
<polygon points="205.7,492.8 212.6,487.4 205.8,482.9 198.9,488.3" fill="#5cff65"/>
<polygon points="178.3,495.1 185.2,489.4 178.3,485.2 171.5,490.8" fill="#5fff74"/>
<polygon points="151,498.4 157.8,492.5 150.9,488.7 144.1,494.5" fill="#60ff8b"/>
<polygon points="137.3,500.5 144.1,494.5 137.3,490.8 130.5,496.8" fill="#61ff99"/>
<polygon points="123.7,502.9 130.5,496.8 123.6,493.2 116.9,499.3" fill="#61ffa9"/>
<polygon points="96.6,508.5 103.3,502.1 96.5,498.8 89.8,505.2" fill="#62ffce"/>
<polygon points="267.3,497.1 274.2,492.1 267.5,486.7 260.6,491.7" fill="#58ff72"/>
<polygon points="253.6,496.8 260.6,491.7 253.8,486.5 246.9,491.5" fill="#59ff6f"/>
<polygon points="239.9,496.8 246.9,491.5 240.1,486.5 233.2,491.7" fill="#5bff6f"/>
<polygon points="226.3,497 233.2,491.7 226.3,486.8 219.4,492.1" fill="#5cff70"/>
<polygon points="212.6,497.6 219.4,492.1 212.6,487.4 205.7,492.8" fill="#5dff74"/>
<polygon points="198.9,498.4 205.7,492.8 198.9,488.3 192,493.8" fill="#5eff79"/>
<polygon points="185.2,499.5 192,493.8 185.2,489.4 178.3,495.1" fill="#5fff81"/>
<polygon points="171.5,500.9 178.3,495.1 171.5,490.8 164.6,496.6" fill="#60ff8a"/>
<polygon points="157.8,502.5 164.6,496.6 157.8,492.5 151,498.4" fill="#61ff95"/>
<polygon points="144.2,504.5 151,498.4 144.1,494.5 137.3,500.5" fill="#62ffa2"/>
<polygon points="130.6,506.7 137.3,500.5 130.5,496.8 123.7,502.9" fill="#62ffb0"/>
<polygon points="117,509.2 123.7,502.9 116.9,499.3 110.2,505.5" fill="#63ffc1"/>
<polygon points="103.4,512 110.2,505.5 103.3,502.1 96.6,508.5" fill="#63ffd3"/>
<polygon points="89.9,515 96.6,508.5 89.8,505.2 83.1,511.7" fill="#64ffe8"/>
<polygon points="260.4,502.3 267.3,497.1 260.6,491.7 253.6,496.8" fill="#5aff84"/>
<polygon points="205.7,503.2 212.6,497.6 205.7,492.8 198.9,498.4" fill="#5fff88"/>
<polygon points="178.3,505.3 185.2,499.5 178.3,495.1 171.5,500.9" fill="#61ff96"/>
<polygon points="151,508.6 157.8,502.5 151,498.4 144.2,504.5" fill="#63ffac"/>
<polygon points="96.8,518.6 103.4,512 96.6,508.5 89.9,515" fill="#65ffec"/>
<polygon points="246.7,502.1 253.6,496.8 246.9,491.5 239.9,496.8" fill="#5bff82"/>
<polygon points="233,502.2 239.9,496.8 233.2,491.7 226.3,497" fill="#5dff82"/>
<polygon points="219.4,502.5 226.3,497 219.4,492.1 212.6,497.6" fill="#5eff84"/>
<polygon points="192,504.1 198.9,498.4 192,493.8 185.2,499.5" fill="#60ff8e"/>
<polygon points="164.7,506.8 171.5,500.9 164.6,496.6 157.8,502.5" fill="#62ffa0"/>
<polygon points="137.4,510.7 144.2,504.5 137.3,500.5 130.6,506.7" fill="#63ffb9"/>
<polygon points="123.8,513 130.6,506.7 123.7,502.9 117,509.2" fill="#64ffc8"/>
<polygon points="110.3,515.7 117,509.2 110.2,505.5 103.4,512" fill="#65ffd9"/>
<polygon points="253.5,507.6 260.4,502.3 253.6,496.8 246.7,502.1" fill="#5cff95"/>
<polygon points="239.8,507.5 246.7,502.1 239.9,496.8 233,502.2" fill="#5dff94"/>
<polygon points="226.2,507.7 233,502.2 226.3,497 219.4,502.5" fill="#5eff95"/>
<polygon points="212.5,508.2 219.4,502.5 212.6,497.6 205.7,503.2" fill="#60ff98"/>
<polygon points="198.8,509 205.7,503.2 198.9,498.4 192,504.1" fill="#61ff9c"/>
<polygon points="185.2,510 192,504.1 185.2,499.5 178.3,505.3" fill="#62ffa3"/>
<polygon points="171.5,511.4 178.3,505.3 171.5,500.9 164.7,506.8" fill="#63ffac"/>
<polygon points="157.9,513 164.7,506.8 157.8,502.5 151,508.6" fill="#64ffb7"/>
<polygon points="144.3,514.9 151,508.6 144.2,504.5 137.4,510.7" fill="#64ffc2"/>
<polygon points="130.7,517.1 137.4,510.7 130.6,506.7 123.8,513" fill="#65ffd1"/>
<polygon points="117.1,519.5 123.8,513 117,509.2 110.3,515.7" fill="#66ffe0"/>
<polygon points="103.6,522.3 110.3,515.7 103.4,512 96.8,518.6" fill="#66fff2"/>
<polygon points="219.3,513.4 226.2,507.7 219.4,502.5 212.5,508.2" fill="#60ffa8"/>
<polygon points="192,514.9 198.8,509 192,504.1 185.2,510" fill="#63ffb2"/>
<polygon points="164.7,517.6 171.5,511.4 164.7,506.8 157.9,513" fill="#65ffc2"/>
<polygon points="137.5,521.3 144.3,514.9 137.4,510.7 130.7,517.1" fill="#66ffda"/>
<polygon points="246.6,513.1 253.5,507.6 246.7,502.1 239.8,507.5" fill="#5effa8"/>
<polygon points="232.9,513.1 239.8,507.5 233,502.2 226.2,507.7" fill="#5fffa7"/>
<polygon points="205.6,514 212.5,508.2 205.7,503.2 198.8,509" fill="#62ffac"/>
<polygon points="178.3,516.1 185.2,510 178.3,505.3 171.5,511.4" fill="#64ffb9"/>
<polygon points="151.1,519.3 157.9,513 151,508.6 144.3,514.9" fill="#65ffcd"/>
<polygon points="123.9,523.6 130.7,517.1 123.8,513 117.1,519.5" fill="#67ffe8"/>
<polygon points="110.4,526.2 117.1,519.5 110.3,515.7 103.6,522.3" fill="#67fff8"/>
<polygon points="239.7,518.7 246.6,513.1 239.8,507.5 232.9,513.1" fill="#5fffba"/>
<polygon points="226.1,518.9 232.9,513.1 226.2,507.7 219.3,513.4" fill="#61ffba"/>
<polygon points="212.4,519.3 219.3,513.4 212.5,508.2 205.6,514" fill="#62ffbd"/>
<polygon points="198.8,520 205.6,514 198.8,509 192,514.9" fill="#63ffc1"/>
<polygon points="185.1,521 192,514.9 185.2,510 178.3,516.1" fill="#64ffc7"/>
<polygon points="171.5,522.3 178.3,516.1 171.5,511.4 164.7,517.6" fill="#65ffcf"/>
<polygon points="157.9,523.9 164.7,517.6 157.9,513 151.1,519.3" fill="#66ffd8"/>
<polygon points="144.3,525.8 151.1,519.3 144.3,514.9 137.5,521.3" fill="#67ffe4"/>
<polygon points="130.8,527.9 137.5,521.3 130.7,517.1 123.9,523.6" fill="#68fff1"/>
<polygon points="117.2,530.4 123.9,523.6 117.1,519.5 110.4,526.2" fill="#68feff"/>
<polygon points="232.8,524.5 239.7,518.7 232.9,513.1 226.1,518.9" fill="#61ffcd"/>
<polygon points="205.6,525.3 212.4,519.3 205.6,514 198.8,520" fill="#64ffd1"/>
<polygon points="151.1,530.4 157.9,523.9 151.1,519.3 144.3,525.8" fill="#68ffef"/>
<polygon points="124,534.7 130.8,527.9 123.9,523.6 117.2,530.4" fill="#69f5ff"/>
<polygon points="178.3,527.3 185.1,521 178.3,516.1 171.5,522.3" fill="#66ffdc"/>
<polygon points="219.2,524.8 226.1,518.9 219.3,513.4 212.4,519.3" fill="#63ffce"/>
<polygon points="191.9,526.2 198.8,520 192,514.9 185.1,521" fill="#65ffd5"/>
<polygon points="164.7,528.7 171.5,522.3 164.7,517.6 157.9,523.9" fill="#67ffe5"/>
<polygon points="137.6,532.4 144.3,525.8 137.5,521.3 130.8,527.9" fill="#69fffb"/>
<polygon points="226,530.5 232.8,524.5 226.1,518.9 219.2,524.8" fill="#63ffe0"/>
<polygon points="212.3,530.9 219.2,524.8 212.4,519.3 205.6,525.3" fill="#64ffe2"/>
<polygon points="198.7,531.6 205.6,525.3 198.8,520 191.9,526.2" fill="#66ffe5"/>
<polygon points="185.1,532.5 191.9,526.2 185.1,521 178.3,527.3" fill="#67ffeb"/>
<polygon points="171.5,533.8 178.3,527.3 171.5,522.3 164.7,528.7" fill="#68fff2"/>
<polygon points="157.9,535.3 164.7,528.7 157.9,523.9 151.1,530.4" fill="#69fffb"/>
<polygon points="144.4,537.1 151.1,530.4 144.3,525.8 137.6,532.4" fill="#69f8ff"/>
<polygon points="130.8,539.2 137.6,532.4 130.8,527.9 124,534.7" fill="#6aecff"/>
<polygon points="219.1,536.7 226,530.5 219.2,524.8 212.3,530.9" fill="#65fff4"/>
<polygon points="137.7,544 144.4,537.1 137.6,532.4 130.8,539.2" fill="#6be1ff"/>
<polygon points="191.9,537.9 198.7,531.6 191.9,526.2 185.1,532.5" fill="#67fffa"/>
<polygon points="178.3,539 185.1,532.5 178.3,527.3 171.5,533.8" fill="#68feff"/>
<polygon points="164.7,540.4 171.5,533.8 164.7,528.7 157.9,535.3" fill="#69f6ff"/>
<polygon points="205.5,537.1 212.3,530.9 205.6,525.3 198.7,531.6" fill="#66fff6"/>
<polygon points="151.2,542 157.9,535.3 151.1,530.4 144.4,537.1" fill="#6aecff"/>
<polygon points="212.3,543 219.1,536.7 212.3,530.9 205.5,537.1" fill="#67f7ff"/>
<polygon points="198.7,543.6 205.5,537.1 198.7,531.6 191.9,537.9" fill="#68f4ff"/>
<polygon points="185.1,544.5 191.9,537.9 185.1,532.5 178.3,539" fill="#69efff"/>
<polygon points="171.5,545.7 178.3,539 171.5,533.8 164.7,540.4" fill="#6ae8ff"/>
<polygon points="158,547.2 164.7,540.4 157.9,535.3 151.2,542" fill="#6be0ff"/>
<polygon points="144.5,549 151.2,542 144.4,537.1 137.7,544" fill="#6cd6ff"/>
<polygon points="205.4,549.4 212.3,543 205.5,537.1 198.7,543.6" fill="#68e2ff"/>
<polygon points="191.9,550.2 198.7,543.6 191.9,537.9 185.1,544.5" fill="#69dfff"/>
<polygon points="178.3,551.2 185.1,544.5 178.3,539 171.5,545.7" fill="#6bdaff"/>
<polygon points="164.8,552.5 171.5,545.7 164.7,540.4 158,547.2" fill="#6cd2ff"/>
<polygon points="151.2,554.2 158,547.2 151.2,542 144.5,549" fill="#6ccaff"/>
<polygon points="198.6,556.1 205.4,549.4 198.7,543.6 191.9,550.2" fill="#6aceff"/>
<polygon points="185.1,557 191.9,550.2 185.1,544.5 178.3,551.2" fill="#6bcaff"/>
<polygon points="171.5,558.1 178.3,551.2 171.5,545.7 164.8,552.5" fill="#6cc4ff"/>
<polygon points="158,559.6 164.8,552.5 158,547.2 151.2,554.2" fill="#6dbcff"/>
<polygon points="191.8,562.9 198.6,556.1 191.9,550.2 185.1,557" fill="#6cb9ff"/>
<polygon points="178.3,563.9 185.1,557 178.3,551.2 171.5,558.1" fill="#6db4ff"/>
<polygon points="164.8,565.2 171.5,558.1 164.8,552.5 158,559.6" fill="#6eaeff"/>
<polygon points="185.1,569.9 191.8,562.9 185.1,557 178.3,563.9" fill="#6da4ff"/>
<polygon points="171.6,571 178.3,563.9 171.5,558.1 164.8,565.2" fill="#6e9fff"/>
<polygon points="178.3,577.1 185.1,569.9 178.3,563.9 171.6,571" fill="#6f8fff"/>
</g>
<line x1="46.8" y1="906.4" x2="38.2" y2="718.5" stroke="#383838" stroke-width="0.62"/>
<line x1="70.6" y1="852.6" x2="65.3" y2="712" stroke="#383838" stroke-width="0.62"/>
<line x1="96.4" y1="843.2" x2="92.4" y2="705.4" stroke="#383838" stroke-width="0.62"/>
<line x1="122.2" y1="833.9" x2="119.4" y2="698.9" stroke="#383838" stroke-width="0.62"/>
<line x1="148" y1="824.5" x2="146.5" y2="692.3" stroke="#383838" stroke-width="0.62"/>
<line x1="173.8" y1="855.3" x2="173.6" y2="685.8" stroke="#383838" stroke-width="0.62"/>
<line x1="44.8" y1="861.9" x2="173.8" y2="815.2" stroke="#383838" stroke-width="0.62"/>
<line x1="43.7" y1="838" x2="173.7" y2="793.6" stroke="#383838" stroke-width="0.62"/>
<line x1="42.6" y1="814.1" x2="173.7" y2="772.1" stroke="#383838" stroke-width="0.62"/>
<line x1="41.5" y1="790.2" x2="173.7" y2="750.5" stroke="#383838" stroke-width="0.62"/>
<line x1="40.4" y1="766.3" x2="173.7" y2="728.9" stroke="#383838" stroke-width="0.62"/>
<line x1="39.3" y1="742.4" x2="173.6" y2="707.4" stroke="#383838" stroke-width="0.62"/>
<line x1="38.2" y1="718.5" x2="173.6" y2="685.8" stroke="#383838" stroke-width="0.62"/>
<line x1="300.8" y1="906.3" x2="309.6" y2="718.8" stroke="#383838" stroke-width="0.62"/>
<line x1="270.6" y1="850.2" x2="275.6" y2="710.5" stroke="#383838" stroke-width="0.62"/>
<line x1="238.3" y1="838.6" x2="241.6" y2="702.3" stroke="#383838" stroke-width="0.62"/>
<line x1="206" y1="826.9" x2="207.6" y2="694" stroke="#383838" stroke-width="0.62"/>
<line x1="173.8" y1="855.3" x2="173.6" y2="685.8" stroke="#383838" stroke-width="0.62"/>
<line x1="173.8" y1="815.2" x2="302.9" y2="861.9" stroke="#383838" stroke-width="0.62"/>
<line x1="173.7" y1="793.6" x2="304" y2="838.1" stroke="#383838" stroke-width="0.62"/>
<line x1="173.7" y1="772.1" x2="305.1" y2="814.2" stroke="#383838" stroke-width="0.62"/>
<line x1="173.7" y1="750.5" x2="306.2" y2="790.4" stroke="#383838" stroke-width="0.62"/>
<line x1="173.7" y1="728.9" x2="307.4" y2="766.5" stroke="#383838" stroke-width="0.62"/>
<line x1="173.6" y1="707.4" x2="308.5" y2="742.7" stroke="#383838" stroke-width="0.62"/>
<line x1="173.6" y1="685.8" x2="309.6" y2="718.8" stroke="#383838" stroke-width="0.62"/>
<polygon points="174.1,972 46.8,906.4 173.8,855.3 300.8,906.3" fill="#646464" stroke="#222" stroke-width="0.5"/>
<path d="M246.6 934.4 L247 933.6 L247.4 932.8 L247.9 931.8 L248.4 930.8 L248.9 929.8 L249.5 928.9 L250 927.9 L250.6 926.9 L251.2 926 L251.8 925 L252.4 924.1 L253.1 923.2 L253.7 922.2 L254.4 921.3 L255.1 920.4 L255.8 919.5 L256.5 918.7 L257.3 917.8 L258 916.9 L258.9 915.9 L260 914.8 L260.8 913.9 L261.7 913.1 L262.5 912.3 L263.8 911.1 L264.7 910.3 L265.6 909.5 L267 908.3 L268 907.5 L268.9 906.7 L270.4 905.6 L271.4 904.9 L273 903.8 L274 903 L275.6 901.9 L277.3 900.9 L278.4 900.2 L280.1 899.1 L281.2 898.4" fill="none" stroke="#00ffa5" stroke-width="1.35" stroke-opacity="0.7"/>
<path d="M219.1 948.7 L219.2 947.9 L219.2 946.7 L219.3 946 L219.4 944.8 L219.5 944 L219.6 943 L219.7 942.1 L219.8 941.2 L219.9 940.1 L220 939.4 L220.2 938.3 L220.3 937.4 L220.4 936.6 L220.6 935.4 L220.8 934.7 L220.9 933.7 L221.2 932.6 L221.3 931.9 L221.6 930.9 L221.8 929.8 L222 929.1 L222.3 928.2 L222.6 927.1 L222.8 926.3 L223.1 925.5 L223.4 924.5 L223.8 923.4 L224.1 922.6 L224.4 921.9 L224.8 920.9 L225.2 919.9 L225.6 918.9 L226 918 L226.4 917.3 L226.8 916.4 L227.3 915.5 L227.9 914.5 L228.4 913.6 L229 912.6 L229.6 911.7 L230.2 910.8 L230.8 909.9 L231.5 909 L232.1 908.1 L232.8 907.3 L233.5 906.4 L234.3 905.5 L235 904.7 L235.9 903.8 L237 902.7 L237.8 901.9 L238.7 901.1 L239.6 900.3 L240.9 899.1 L241.9 898.4 L243.1 897.5 L244.3 896.5 L245.3 895.8 L246.9 894.7 L248.4 893.8 L249.6 893 L251.2 892 L253 891 L254.2 890.4 L256 889.4 L257.2 888.8" fill="none" stroke="#00ff36" stroke-width="1.35" stroke-opacity="0.7"/>
<path d="M197.7 959.8 L197.5 958.6 L197.3 957.7 L197.1 956.8 L196.9 955.7 L196.7 954.8 L196.5 953.9 L196.3 952.8 L196.2 952 L196 951 L195.8 949.9 L195.6 949.2 L195.4 948.1 L195.2 947.1 L195.1 946.4 L194.9 945.2 L194.7 944.4 L194.6 943.5 L194.4 942.3 L194.3 941.6 L194.1 940.6 L193.9 939.6 L193.8 938.9 L193.6 937.7 L193.5 936.9 L193.3 936 L193.2 934.9 L193.1 934.3 L192.9 933.1 L192.8 932.3 L192.7 931.4 L192.5 930.3 L192.4 929.7 L192.3 928.5 L192.2 927.7 L192.1 926.8 L192 925.8 L191.9 925.1 L191.8 923.9 L191.7 923.3 L191.6 922.2 L191.6 921.4 L191.5 920.4 L191.4 919.5 L191.4 918.7 L191.3 917.7 L191.3 916.9 L191.2 915.9 L191.2 915.2 L191.2 914.1 L191.2 913.4 L191.2 912.3 L191.2 911.7 L191.2 910.5 L191.2 909.9 L191.3 908.8 L191.3 908.1 L191.4 907.1 L191.4 906.3 L191.5 905.4 L191.6 904.4 L191.7 903.8 L191.9 902.7 L192 901.9 L192.2 901.1 L192.4 900.1 L192.6 899.4 L192.8 898.5 L193.1 897.5 L193.4 896.7 L193.6 896 L194 895.1 L194.4 894.1 L194.8 893.2 L195.2 892.5 L195.6 891.7 L196.1 890.9 L196.7 890 L197.3 889.2 L198 888.3 L198.6 887.5 L199.4 886.7 L200.4 885.7 L201.4 884.8 L202.3 884 L203.2 883.3 L204.6 882.3 L205.7 881.6 L207.3 880.6 L209 879.7 L210.2 879.1 L212 878.2 L213.9 877.4 L215.4 876.8 L217.3 876 L219.5 875.3 L221.4 874.6 L221.7 874.5" fill="none" stroke="#3aff00" stroke-width="1.35" stroke-opacity="0.7"/>
<path d="M178.9 969.5 L178.5 968.4 L178.1 967.5 L177.8 966.7 L177.4 965.7 L176.9 964.6 L176.5 963.5 L176.1 962.6 L175.7 961.7 L175.4 960.9 L174.9 959.8 L174.5 958.7 L174 957.7 L173.6 956.8 L173.3 956 L172.8 955 L172.4 954 L171.9 953 L171.4 951.9 L171 951.1 L170.7 950.2 L170.2 949.3 L169.7 948.3 L169.3 947.3 L168.8 946.3 L168.3 945.3 L167.9 944.4 L167.4 943.6 L167 942.7 L166.5 941.7 L166 940.7 L165.4 939.7 L164.9 938.7 L164.4 937.7 L163.9 936.9 L163.4 936 L163 935.2 L162.5 934.3 L161.9 933.4 L161.4 932.4 L160.8 931.4 L160.2 930.5 L159.6 929.5 L159 928.6 L158.4 927.7 L157.8 926.7 L157.2 925.8 L156.6 924.9 L156 924 L155.3 923 L154.7 922.1 L154 921.2 L153.4 920.3 L152.7 919.5 L152 918.6 L151.3 917.7 L150.6 916.8 L149.9 916 L149.1 915.1 L148.4 914.3 L147.5 913.3 L146.6 912.3 L145.7 911.3 L144.9 910.5 L144.1 909.7 L143.2 908.9 L141.9 907.7 L141.1 907 L140.2 906.2 L138.9 905.1 L137.9 904.3 L136.9 903.6 L135.4 902.5 L134.4 901.8 L132.8 900.7 L131.8 900 L130.1 899 L128.4 898 L127 897.3 L125.4 896.4 L123.6 895.5 L121.6 894.6 L119.6 893.8 L118.3 893.2 L116.1 892.4 L114 891.6 L112.5 891.1 L110.2 890.4 L108.6 889.9 L106.2 889.2 L104.5 888.7 L102.8 888.3 L100.8 887.8 L98.5 887.3 L96.7 886.9 L95.8 886.7" fill="none" stroke="#afff00" stroke-width="1.35" stroke-opacity="0.7"/>
<path d="M152.4 960.8 L151.7 959.8 L151.1 958.8 L150.4 957.9 L149.7 956.9 L149.1 956 L148.4 955 L147.7 954.1 L147 953.1 L146.3 952.2 L145.6 951.2 L144.9 950.3 L144.2 949.4 L143.5 948.5 L142.8 947.6 L141.9 946.5 L141 945.5 L140.1 944.4 L139.4 943.5 L138.6 942.6 L137.8 941.7 L137 940.8 L136.1 939.8 L135 938.7 L134.2 937.8 L133.3 937 L132.5 936.1 L131.3 934.9 L130.3 934 L129.5 933.2 L128.5 932.3 L127.2 931.2 L126.3 930.4 L125.2 929.4 L123.9 928.4 L123 927.6 L121.5 926.4 L120.5 925.7 L119 924.5 L118 923.8 L116.4 922.7 L115.3 922 L113.7 920.9 L112.5 920.1 L110.9 919.1 L109.2 918.1 L107.4 917 L106.3 916.4 L104.4 915.4 L102.6 914.4 L100.7 913.4 L98.8 912.5 L96.8 911.6 L94.8 910.6 L93.4 910.1 L91.3 909.2 L89.2 908.3 L87.3 907.6 L85.5 906.9 L83.3 906.1 L81.8 905.6 L79.4 904.8 L77.9 904.3 L75.8 903.6 L73.8 903 L72.2 902.5 L70.1 901.9 L68 901.3 L66.3 900.9 L64.6 900.4 L62.8 900" fill="none" stroke="#ffdc00" stroke-width="1.35" stroke-opacity="0.7"/>
<circle cx="174.1" cy="972" r="1.25" fill="#000"/>
<text x="177.1" y="977.8" style='font-family:"Liberation Sans",sans-serif;font-size:5px' fill="#222" text-anchor="start">50</text>
<circle cx="199.4" cy="958.9" r="1.25" fill="#000"/>
<text x="202.4" y="964.7" style='font-family:"Liberation Sans",sans-serif;font-size:5px' fill="#222" text-anchor="start">70</text>
<circle cx="224.8" cy="945.7" r="1.25" fill="#000"/>
<text x="227.8" y="951.5" style='font-family:"Liberation Sans",sans-serif;font-size:5px' fill="#222" text-anchor="start">90</text>
<circle cx="250.1" cy="932.6" r="1.25" fill="#000"/>
<text x="253.1" y="938.4" style='font-family:"Liberation Sans",sans-serif;font-size:5px' fill="#222" text-anchor="start">110</text>
<circle cx="275.5" cy="919.4" r="1.25" fill="#000"/>
<text x="278.5" y="925.2" style='font-family:"Liberation Sans",sans-serif;font-size:5px' fill="#222" text-anchor="start">130</text>
<circle cx="300.8" cy="906.3" r="1.25" fill="#000"/>
<text x="303.8" y="912.1" style='font-family:"Liberation Sans",sans-serif;font-size:5px' fill="#222" text-anchor="start">150</text>
<circle cx="174.1" cy="972" r="1.25" fill="#000"/>
<text x="171.6" y="977" style='font-family:"Liberation Sans",sans-serif;font-size:5px' fill="#222" text-anchor="end">30</text>
<circle cx="142.3" cy="955.6" r="1.25" fill="#000"/>
<text x="139.8" y="960.6" style='font-family:"Liberation Sans",sans-serif;font-size:5px' fill="#222" text-anchor="end">60</text>
<circle cx="110.4" cy="939.2" r="1.25" fill="#000"/>
<text x="107.9" y="944.2" style='font-family:"Liberation Sans",sans-serif;font-size:5px' fill="#222" text-anchor="end">90</text>
<circle cx="78.6" cy="922.8" r="1.25" fill="#000"/>
<text x="76.1" y="927.8" style='font-family:"Liberation Sans",sans-serif;font-size:5px' fill="#222" text-anchor="end">120</text>
<circle cx="46.8" cy="906.4" r="1.25" fill="#000"/>
<text x="44.3" y="911.4" style='font-family:"Liberation Sans",sans-serif;font-size:5px' fill="#222" text-anchor="end">150</text>
<circle cx="44.8" cy="861.9" r="1.25" fill="#000"/>
<text x="42.3" y="860.7" style='font-family:"Liberation Sans",sans-serif;font-size:5px' fill="#222" text-anchor="end">50</text>
<circle cx="43.7" cy="838" r="1.25" fill="#000"/>
<text x="41.2" y="836.8" style='font-family:"Liberation Sans",sans-serif;font-size:5px' fill="#222" text-anchor="end">60</text>
<circle cx="42.6" cy="814.1" r="1.25" fill="#000"/>
<text x="40.1" y="812.9" style='font-family:"Liberation Sans",sans-serif;font-size:5px' fill="#222" text-anchor="end">70</text>
<circle cx="41.5" cy="790.2" r="1.25" fill="#000"/>
<text x="39" y="789" style='font-family:"Liberation Sans",sans-serif;font-size:5px' fill="#222" text-anchor="end">80</text>
<circle cx="40.4" cy="766.3" r="1.25" fill="#000"/>
<text x="37.9" y="765.1" style='font-family:"Liberation Sans",sans-serif;font-size:5px' fill="#222" text-anchor="end">90</text>
<circle cx="39.3" cy="742.4" r="1.25" fill="#000"/>
<text x="36.8" y="741.2" style='font-family:"Liberation Sans",sans-serif;font-size:5px' fill="#222" text-anchor="end">100</text>
<circle cx="38.2" cy="718.5" r="1.25" fill="#000"/>
<text x="35.7" y="717.3" style='font-family:"Liberation Sans",sans-serif;font-size:5px' fill="#222" text-anchor="end">110</text>
<g stroke="#000" stroke-width="0.6" stroke-opacity="0.55" stroke-linejoin="round">
<polygon points="173.7,756.5 180,754 173.7,752.1 167.4,754.5" fill="#7fff1f"/>
<polygon points="180,758.6 186.3,756.2 180,754 173.7,756.5" fill="#7eff20"/>
<polygon points="167.4,758.7 173.7,756.5 167.4,754.5 161.1,756.8" fill="#78ff1b"/>
<polygon points="186.3,760.9 192.6,758.5 186.3,756.2 180,758.6" fill="#7cff21"/>
<polygon points="161.1,760.8 167.4,758.7 161.1,756.8 154.8,758.9" fill="#73ff17"/>
<polygon points="173.7,760.8 180,758.6 173.7,756.5 167.4,758.7" fill="#78ff1c"/>
<polygon points="192.6,763.3 198.9,760.9 192.6,758.5 186.3,760.9" fill="#78ff21"/>
<polygon points="180,763.1 186.3,760.9 180,758.6 173.7,760.8" fill="#76ff1c"/>
<polygon points="167.4,762.9 173.7,760.8 167.4,758.7 161.1,760.8" fill="#73ff17"/>
<polygon points="154.8,762.7 161.1,760.8 154.8,758.9 148.5,760.8" fill="#70ff12"/>
<polygon points="198.9,765.9 205.2,763.6 198.9,760.9 192.6,763.3" fill="#72ff22"/>
<polygon points="186.3,765.5 192.6,763.3 186.3,760.9 180,763.1" fill="#73ff1d"/>
<polygon points="173.7,765.1 180,763.1 173.7,760.8 167.4,762.9" fill="#72ff18"/>
<polygon points="161.1,764.8 167.4,762.9 161.1,760.8 154.8,762.7" fill="#70ff13"/>
<polygon points="148.5,764.5 154.8,762.7 148.5,760.8 142.2,762.6" fill="#6eff0f"/>
<polygon points="205.2,768.8 211.5,766.4 205.2,763.6 198.9,765.9" fill="#6cff22"/>
<polygon points="192.6,768.1 198.9,765.9 192.6,763.3 186.3,765.5" fill="#6eff1d"/>
<polygon points="180,767.5 186.3,765.5 180,763.1 173.7,765.1" fill="#6fff18"/>
<polygon points="167.4,767 173.7,765.1 167.4,762.9 161.1,764.8" fill="#6fff13"/>
<polygon points="154.8,766.5 161.1,764.8 154.8,762.7 148.5,764.5" fill="#6fff0f"/>
<polygon points="142.2,766 148.5,764.5 142.2,762.6 135.9,764.2" fill="#71ff0f"/>
<polygon points="211.5,771.8 217.8,769.4 211.5,766.4 205.2,768.8" fill="#63ff22"/>
<polygon points="198.9,770.9 205.2,768.8 198.9,765.9 192.6,768.1" fill="#67ff1e"/>
<polygon points="186.3,770.1 192.6,768.1 186.3,765.5 180,767.5" fill="#6aff19"/>
<polygon points="173.8,769.4 180,767.5 173.7,765.1 167.4,767" fill="#6cff14"/>
<polygon points="161.2,768.7 167.4,767 161.1,764.8 154.8,766.5" fill="#6eff0f"/>
<polygon points="148.6,768 154.8,766.5 148.5,764.5 142.2,766" fill="#72ff0f"/>
<polygon points="135.9,767.4 142.2,766 135.9,764.2 129.6,765.6" fill="#75ff0f"/>
<polygon points="217.8,774.9 224.1,772.6 217.8,769.4 211.5,771.8" fill="#59ff23"/>
<polygon points="205.2,773.9 211.5,771.8 205.2,768.8 198.9,770.9" fill="#5eff1e"/>
<polygon points="192.6,772.9 198.9,770.9 192.6,768.1 186.3,770.1" fill="#64ff19"/>
<polygon points="180.1,772 186.3,770.1 180,767.5 173.8,769.4" fill="#68ff14"/>
<polygon points="167.5,771.1 173.8,769.4 167.4,767 161.2,768.7" fill="#6cff0f"/>
<polygon points="154.9,770.2 161.2,768.7 154.8,766.5 148.6,768" fill="#72ff0f"/>
<polygon points="142.3,769.4 148.6,768 142.2,766 135.9,767.4" fill="#77ff0f"/>
<polygon points="129.6,768.6 135.9,767.4 129.6,765.6 123.3,766.9" fill="#7aff0f"/>
<polygon points="224,778.3 230.3,776 224.1,772.6 217.8,774.9" fill="#4dff23"/>
<polygon points="198.9,775.9 205.2,773.9 198.9,770.9 192.6,772.9" fill="#5cff1a"/>
<polygon points="173.8,773.6 180.1,772 173.8,769.4 167.5,771.1" fill="#68ff10"/>
<polygon points="148.6,771.6 154.9,770.2 148.6,768 142.3,769.4" fill="#77ff0f"/>
<polygon points="123.3,769.7 129.6,768.6 123.3,766.9 117,767.9" fill="#82ff0f"/>
<polygon points="211.5,777.1 217.8,774.9 211.5,771.8 205.2,773.9" fill="#55ff1e"/>
<polygon points="186.4,774.7 192.6,772.9 186.3,770.1 180.1,772" fill="#62ff15"/>
<polygon points="161.2,772.6 167.5,771.1 161.2,768.7 154.9,770.2" fill="#70ff0f"/>
<polygon points="136,770.6 142.3,769.4 135.9,767.4 129.6,768.6" fill="#7dff0f"/>
<polygon points="230.3,781.9 236.6,779.6 230.3,776 224,778.3" fill="#40ff23"/>
<polygon points="217.8,780.4 224,778.3 217.8,774.9 211.5,777.1" fill="#4aff1f"/>
<polygon points="205.2,779 211.5,777.1 205.2,773.9 198.9,775.9" fill="#53ff1a"/>
<polygon points="192.7,777.7 198.9,775.9 192.6,772.9 186.4,774.7" fill="#5bff15"/>
<polygon points="180.1,776.4 186.4,774.7 180.1,772 173.8,773.6" fill="#63ff10"/>
<polygon points="167.5,775.1 173.8,773.6 167.5,771.1 161.2,772.6" fill="#6cff0f"/>
<polygon points="154.9,773.9 161.2,772.6 154.9,770.2 148.6,771.6" fill="#76ff0f"/>
<polygon points="142.3,772.7 148.6,771.6 142.3,769.4 136,770.6" fill="#7eff0f"/>
<polygon points="129.6,771.6 136,770.6 129.6,768.6 123.3,769.7" fill="#85ff0f"/>
<polygon points="117,770.5 123.3,769.7 117,767.9 110.7,768.8" fill="#8bff0f"/>
<polygon points="211.5,782.4 217.8,780.4 211.5,777.1 205.2,779" fill="#47ff1a"/>
<polygon points="186.4,779.3 192.7,777.7 186.4,774.7 180.1,776.4" fill="#5bff11"/>
<polygon points="161.2,776.4 167.5,775.1 161.2,772.6 154.9,773.9" fill="#72ff0f"/>
<polygon points="136,773.7 142.3,772.7 136,770.6 129.6,771.6" fill="#86ff0f"/>
<polygon points="236.5,785.6 242.8,783.4 236.6,779.6 230.3,781.9" fill="#31ff23"/>
<polygon points="224,784 230.3,781.9 224,778.3 217.8,780.4" fill="#3dff1f"/>
<polygon points="198.9,780.8 205.2,779 198.9,775.9 192.7,777.7" fill="#52ff15"/>
<polygon points="173.8,777.9 180.1,776.4 173.8,773.6 167.5,775.1" fill="#67ff0f"/>
<polygon points="148.6,775.1 154.9,773.9 148.6,771.6 142.3,772.7" fill="#7cff0f"/>
<polygon points="123.3,772.4 129.6,771.6 123.3,769.7 117,770.5" fill="#8fff0f"/>
<polygon points="110.7,771.2 117,770.5 110.7,768.8 104.4,769.5" fill="#96ff0f"/>
<polygon points="242.8,789.6 249,787.3 242.8,783.4 236.5,785.6" fill="#23ff26"/>
<polygon points="230.3,787.7 236.5,785.6 230.3,781.9 224,784" fill="#2eff1f"/>
<polygon points="217.8,785.9 224,784 217.8,780.4 211.5,782.4" fill="#3bff1a"/>
<polygon points="205.2,784.2 211.5,782.4 205.2,779 198.9,780.8" fill="#46ff16"/>
<polygon points="192.7,782.4 198.9,780.8 192.7,777.7 186.4,779.3" fill="#52ff11"/>
<polygon points="180.1,780.8 186.4,779.3 180.1,776.4 173.8,777.9" fill="#60ff0f"/>
<polygon points="167.5,779.1 173.8,777.9 167.5,775.1 161.2,776.4" fill="#6dff0f"/>
<polygon points="154.9,777.5 161.2,776.4 154.9,773.9 148.6,775.1" fill="#7aff0f"/>
<polygon points="142.3,776 148.6,775.1 142.3,772.7 136,773.7" fill="#86ff0f"/>
<polygon points="129.6,774.5 136,773.7 129.6,771.6 123.3,772.4" fill="#90ff0f"/>
<polygon points="117,773.1 123.3,772.4 117,770.5 110.7,771.2" fill="#99ff0f"/>
<polygon points="104.4,771.7 110.7,771.2 104.4,769.5 98,770" fill="#a3ff0f"/>
<polygon points="249,793.7 255.3,791.5 249,787.3 242.8,789.6" fill="#24ff38"/>
<polygon points="236.5,791.7 242.8,789.6 236.5,785.6 230.3,787.7" fill="#1fff21"/>
<polygon points="224,789.6 230.3,787.7 224,784 217.8,785.9" fill="#2cff1b"/>
<polygon points="211.5,787.7 217.8,785.9 211.5,782.4 205.2,784.2" fill="#3aff16"/>
<polygon points="199,785.7 205.2,784.2 198.9,780.8 192.7,782.4" fill="#47ff11"/>
<polygon points="186.4,783.9 192.7,782.4 186.4,779.3 180.1,780.8" fill="#57ff0f"/>
<polygon points="173.8,782 180.1,780.8 173.8,777.9 167.5,779.1" fill="#67ff0f"/>
<polygon points="161.2,780.2 167.5,779.1 161.2,776.4 154.9,777.5" fill="#76ff0f"/>
<polygon points="148.6,778.5 154.9,777.5 148.6,775.1 142.3,776" fill="#83ff0f"/>
<polygon points="136,776.8 142.3,776 136,773.7 129.6,774.5" fill="#90ff0f"/>
<polygon points="123.3,775.1 129.6,774.5 123.3,772.4 117,773.1" fill="#9cff0f"/>
<polygon points="110.7,773.5 117,773.1 110.7,771.2 104.4,771.7" fill="#a7ff0f"/>
<polygon points="98,772 104.4,771.7 98,770 91.7,770.3" fill="#b1ff0f"/>
<polygon points="255.2,798.1 261.5,795.8 255.3,791.5 249,793.7" fill="#24ff4b"/>
<polygon points="242.8,795.8 249,793.7 242.8,789.6 236.5,791.7" fill="#1fff33"/>
<polygon points="230.3,793.6 236.5,791.7 230.3,787.7 224,789.6" fill="#1cff1b"/>
<polygon points="217.8,791.4 224,789.6 217.8,785.9 211.5,787.7" fill="#2cff16"/>
<polygon points="205.2,789.2 211.5,787.7 205.2,784.2 199,785.7" fill="#3cff12"/>
<polygon points="192.7,787.1 199,785.7 192.7,782.4 186.4,783.9" fill="#4cff0f"/>
<polygon points="180.1,785.1 186.4,783.9 180.1,780.8 173.8,782" fill="#5eff0f"/>
<polygon points="167.5,783.1 173.8,782 167.5,779.1 161.2,780.2" fill="#6fff0f"/>
<polygon points="154.9,781.1 161.2,780.2 154.9,777.5 148.6,778.5" fill="#7fff0f"/>
<polygon points="142.3,779.2 148.6,778.5 142.3,776 136,776.8" fill="#8eff0f"/>
<polygon points="129.6,777.4 136,776.8 129.6,774.5 123.3,775.1" fill="#9cff0f"/>
<polygon points="117,775.5 123.3,775.1 117,773.1 110.7,773.5" fill="#a9ff0f"/>
<polygon points="104.3,773.8 110.7,773.5 104.4,771.7 98,772" fill="#b6ff0f"/>
<polygon points="91.6,772 98,772 91.7,770.3 85.3,770.4" fill="#c1ff0f"/>
<polygon points="261.4,802.6 267.6,800.4 261.5,795.8 255.2,798.1" fill="#24ff61"/>
<polygon points="249,800.1 255.2,798.1 249,793.7 242.8,795.8" fill="#1fff46"/>
<polygon points="236.5,797.7 242.8,795.8 236.5,791.7 230.3,793.6" fill="#1bff2b"/>
<polygon points="224,795.3 230.3,793.6 224,789.6 217.8,791.4" fill="#1cff16"/>
<polygon points="211.5,792.9 217.8,791.4 211.5,787.7 205.2,789.2" fill="#2eff12"/>
<polygon points="199,790.6 205.2,789.2 199,785.7 192.7,787.1" fill="#40ff0f"/>
<polygon points="186.4,788.4 192.7,787.1 186.4,783.9 180.1,785.1" fill="#55ff0f"/>
<polygon points="173.8,786.1 180.1,785.1 173.8,782 167.5,783.1" fill="#68ff0f"/>
<polygon points="161.2,784 167.5,783.1 161.2,780.2 154.9,781.1" fill="#7aff0f"/>
<polygon points="148.6,781.8 154.9,781.1 148.6,778.5 142.3,779.2" fill="#8bff0f"/>
<polygon points="136,779.8 142.3,779.2 136,776.8 129.6,777.4" fill="#9bff0f"/>
<polygon points="123.3,777.7 129.6,777.4 123.3,775.1 117,775.5" fill="#aaff0f"/>
<polygon points="110.6,775.8 117,775.5 110.7,773.5 104.3,773.8" fill="#b8ff0f"/>
<polygon points="98,773.8 104.3,773.8 98,772 91.6,772" fill="#c6ff0f"/>
<polygon points="85.3,771.9 91.6,772 85.3,770.4 79,770.4" fill="#d2ff0f"/>
<polygon points="267.6,807.4 273.8,805.2 267.6,800.4 261.4,802.6" fill="#24ff77"/>
<polygon points="255.2,804.7 261.4,802.6 255.2,798.1 249,800.1" fill="#1fff5b"/>
<polygon points="242.7,802 249,800.1 242.8,795.8 236.5,797.7" fill="#1bff3f"/>
<polygon points="230.3,799.4 236.5,797.7 230.3,793.6 224,795.3" fill="#17ff22"/>
<polygon points="217.8,796.8 224,795.3 217.8,791.4 211.5,792.9" fill="#1eff12"/>
<polygon points="192.7,791.8 199,790.6 192.7,787.1 186.4,788.4" fill="#49ff0f"/>
<polygon points="180.1,789.4 186.4,788.4 180.1,785.1 173.8,786.1" fill="#5eff0f"/>
<polygon points="167.5,787 173.8,786.1 167.5,783.1 161.2,784" fill="#73ff0f"/>
<polygon points="154.9,784.7 161.2,784 154.9,781.1 148.6,781.8" fill="#86ff0f"/>
<polygon points="129.6,780.1 136,779.8 129.6,777.4 123.3,777.7" fill="#a9ff0f"/>
<polygon points="117,777.9 123.3,777.7 117,775.5 110.6,775.8" fill="#baff0f"/>
<polygon points="104.3,775.8 110.6,775.8 104.3,773.8 98,773.8" fill="#c9ff0f"/>
<polygon points="91.6,773.7 98,773.8 91.6,772 85.3,771.9" fill="#d8ff0f"/>
<polygon points="78.9,771.6 85.3,771.9 79,770.4 72.6,770.1" fill="#e5ff0f"/>
<polygon points="205.2,794.3 211.5,792.9 205.2,789.2 199,790.6" fill="#32ff0f"/>
<polygon points="142.3,782.4 148.6,781.8 142.3,779.2 136,779.8" fill="#99ff0f"/>
<polygon points="273.7,812.3 279.9,810.1 273.8,805.2 267.6,807.4" fill="#24ff8f"/>
<polygon points="248.9,806.5 255.2,804.7 249,800.1 242.7,802" fill="#1bff54"/>
<polygon points="224,800.9 230.3,799.4 224,795.3 217.8,796.8" fill="#12ff18"/>
<polygon points="199,795.5 205.2,794.3 199,790.6 192.7,791.8" fill="#3bff0f"/>
<polygon points="173.8,790.2 180.1,789.4 173.8,786.1 167.5,787" fill="#6aff0f"/>
<polygon points="148.6,785.1 154.9,784.7 148.6,781.8 142.3,782.4" fill="#94ff0f"/>
<polygon points="123.3,780.3 129.6,780.1 123.3,777.7 117,777.9" fill="#b9ff0f"/>
<polygon points="97.9,775.6 104.3,775.8 98,773.8 91.6,773.7" fill="#dbff0f"/>
<polygon points="72.5,771.1 78.9,771.6 72.6,770.1 66.2,769.6" fill="#faff0f"/>
<polygon points="261.3,809.4 267.6,807.4 261.4,802.6 255.2,804.7" fill="#1fff72"/>
<polygon points="236.5,803.7 242.7,802 236.5,797.7 230.3,799.4" fill="#17ff36"/>
<polygon points="211.5,798.2 217.8,796.8 211.5,792.9 205.2,794.3" fill="#23ff0f"/>
<polygon points="186.4,792.8 192.7,791.8 186.4,788.4 180.1,789.4" fill="#53ff0f"/>
<polygon points="161.2,787.7 167.5,787 161.2,784 154.9,784.7" fill="#7fff0f"/>
<polygon points="136,782.7 142.3,782.4 136,779.8 129.6,780.1" fill="#a7ff0f"/>
<polygon points="110.6,777.9 117,777.9 110.6,775.8 104.3,775.8" fill="#cbff0f"/>
<polygon points="85.2,773.3 91.6,773.7 85.3,771.9 78.9,771.6" fill="#ebff0f"/>
<polygon points="279.8,817.5 286.1,815.3 279.9,810.1 273.7,812.3" fill="#23ffa9"/>
<polygon points="267.5,814.4 273.7,812.3 267.6,807.4 261.3,809.4" fill="#1fff89"/>
<polygon points="255.1,811.3 261.3,809.4 255.2,804.7 248.9,806.5" fill="#1bff6b"/>
<polygon points="242.7,808.2 248.9,806.5 242.7,802 236.5,803.7" fill="#17ff4b"/>
<polygon points="230.3,805.2 236.5,803.7 230.3,799.4 224,800.9" fill="#12ff2b"/>
<polygon points="217.8,802.2 224,800.9 217.8,796.8 211.5,798.2" fill="#12ff0f"/>
<polygon points="205.3,799.3 211.5,798.2 205.2,794.3 199,795.5" fill="#2cff0f"/>
<polygon points="192.7,796.5 199,795.5 192.7,791.8 186.4,792.8" fill="#46ff0f"/>
<polygon points="180.1,793.6 186.4,792.8 180.1,789.4 173.8,790.2" fill="#5fff0f"/>
<polygon points="167.6,790.8 173.8,790.2 167.5,787 161.2,787.7" fill="#77ff0f"/>
<polygon points="154.9,788.1 161.2,787.7 154.9,784.7 148.6,785.1" fill="#8dff0f"/>
<polygon points="142.3,785.4 148.6,785.1 142.3,782.4 136,782.7" fill="#a3ff0f"/>
<polygon points="129.6,782.8 136,782.7 129.6,780.1 123.3,780.3" fill="#b8ff0f"/>
<polygon points="117,780.2 123.3,780.3 117,777.9 110.6,777.9" fill="#cbff0f"/>
<polygon points="104.3,777.7 110.6,777.9 104.3,775.8 97.9,775.6" fill="#deff0f"/>
<polygon points="91.5,775.2 97.9,775.6 91.6,773.7 85.2,773.3" fill="#f0ff0f"/>
<polygon points="78.8,772.8 85.2,773.3 78.9,771.6 72.5,771.1" fill="#fffd0f"/>
<polygon points="66.1,770.4 72.5,771.1 66.2,769.6 59.7,769" fill="#ffee0f"/>
<polygon points="236.5,809.7 242.7,808.2 236.5,803.7 230.3,805.2" fill="#12ff40"/>
<polygon points="211.5,803.4 217.8,802.2 211.5,798.2 205.3,799.3" fill="#1cff0f"/>
<polygon points="136,785.5 142.3,785.4 136,782.7 129.6,782.8" fill="#b4ff0f"/>
<polygon points="110.6,780 117,780.2 110.6,777.9 104.3,777.7" fill="#dfff0f"/>
<polygon points="286,822.9 292.2,820.7 286.1,815.3 279.8,817.5" fill="#23ffc4"/>
<polygon points="273.6,819.5 279.8,817.5 273.7,812.3 267.5,814.4" fill="#1fffa4"/>
<polygon points="261.3,816.2 267.5,814.4 261.3,809.4 255.1,811.3" fill="#1bff83"/>
<polygon points="248.9,812.9 255.1,811.3 248.9,806.5 242.7,808.2" fill="#17ff62"/>
<polygon points="224,806.5 230.3,805.2 224,800.9 217.8,802.2" fill="#0fff1f"/>
<polygon points="199,800.3 205.3,799.3 199,795.5 192.7,796.5" fill="#38ff0f"/>
<polygon points="186.4,797.2 192.7,796.5 186.4,792.8 180.1,793.6" fill="#53ff0f"/>
<polygon points="173.9,794.2 180.1,793.6 173.8,790.2 167.6,790.8" fill="#6cff0f"/>
<polygon points="161.3,791.3 167.6,790.8 161.2,787.7 154.9,788.1" fill="#85ff0f"/>
<polygon points="148.6,788.4 154.9,788.1 148.6,785.1 142.3,785.4" fill="#9dff0f"/>
<polygon points="123.3,782.7 129.6,782.8 123.3,780.3 117,780.2" fill="#c9ff0f"/>
<polygon points="97.9,777.3 104.3,777.7 97.9,775.6 91.5,775.2" fill="#f3ff0f"/>
<polygon points="85.1,774.6 91.5,775.2 85.2,773.3 78.8,772.8" fill="#fff80f"/>
<polygon points="72.4,772 78.8,772.8 72.5,771.1 66.1,770.4" fill="#ffe70f"/>
<polygon points="59.6,769.5 66.1,770.4 59.7,769 53.3,768.1" fill="#ffd60f"/>
<polygon points="292,828.5 298.2,826.3 292.2,820.7 286,822.9" fill="#23ffe1"/>
<polygon points="267.4,821.4 273.6,819.5 267.5,814.4 261.3,816.2" fill="#1bff9d"/>
<polygon points="78.7,773.8 85.1,774.6 78.8,772.8 72.4,772" fill="#ffe10f"/>
<polygon points="53.2,768.4 59.6,769.5 53.3,768.1 46.8,767" fill="#ffbc0f"/>
<polygon points="279.8,824.9 286,822.9 279.8,817.5 273.6,819.5" fill="#1fffbf"/>
<polygon points="255.1,817.9 261.3,816.2 255.1,811.3 248.9,812.9" fill="#17ff79"/>
<polygon points="242.7,814.4 248.9,812.9 242.7,808.2 236.5,809.7" fill="#13ff56"/>
<polygon points="230.2,811 236.5,809.7 230.3,805.2 224,806.5" fill="#0fff34"/>
<polygon points="217.8,807.6 224,806.5 217.8,802.2 211.5,803.4" fill="#0fff15"/>
<polygon points="205.3,804.3 211.5,803.4 205.3,799.3 199,800.3" fill="#28ff0f"/>
<polygon points="192.7,801 199,800.3 192.7,796.5 186.4,797.2" fill="#45ff0f"/>
<polygon points="180.2,797.8 186.4,797.2 180.1,793.6 173.9,794.2" fill="#60ff0f"/>
<polygon points="167.6,794.6 173.9,794.2 167.6,790.8 161.3,791.3" fill="#7bff0f"/>
<polygon points="155,791.5 161.3,791.3 154.9,788.1 148.6,788.4" fill="#96ff0f"/>
<polygon points="142.3,788.4 148.6,788.4 142.3,785.4 136,785.5" fill="#afff0f"/>
<polygon points="129.6,785.4 136,785.5 129.6,782.8 123.3,782.7" fill="#c7ff0f"/>
<polygon points="116.9,782.5 123.3,782.7 117,780.2 110.6,780" fill="#deff0f"/>
<polygon points="104.2,779.5 110.6,780 104.3,777.7 97.9,777.3" fill="#f4ff0f"/>
<polygon points="91.5,776.7 97.9,777.3 91.5,775.2 85.1,774.6" fill="#fff50f"/>
<polygon points="65.9,771.1 72.4,772 66.1,770.4 59.6,769.5" fill="#ffce0f"/>
<polygon points="298.1,834.3 304.3,832.1 298.2,826.3 292,828.5" fill="#23ffff"/>
<polygon points="273.6,826.7 279.8,824.9 273.6,819.5 267.4,821.4" fill="#1bffb7"/>
<polygon points="248.9,819.3 255.1,817.9 248.9,812.9 242.7,814.4" fill="#13ff6e"/>
<polygon points="224,812.1 230.2,811 224,806.5 217.8,807.6" fill="#0fff2a"/>
<polygon points="199,805.1 205.3,804.3 199,800.3 192.7,801" fill="#35ff0f"/>
<polygon points="148.6,791.6 155,791.5 148.6,788.4 142.3,788.4" fill="#a8ff0f"/>
<polygon points="123.3,785.1 129.6,785.4 123.3,782.7 116.9,782.5" fill="#dbff0f"/>
<polygon points="97.8,778.9 104.2,779.5 97.9,777.3 91.5,776.7" fill="#fff40f"/>
<polygon points="72.3,772.8 78.7,773.8 72.4,772 65.9,771.1" fill="#ffc80f"/>
<polygon points="46.7,767 53.2,768.4 46.8,767 40.4,765.7" fill="#ffa00f"/>
<polygon points="285.9,830.5 292,828.5 286,822.9 279.8,824.9" fill="#1fffdc"/>
<polygon points="261.2,823 267.4,821.4 261.3,816.2 255.1,817.9" fill="#17ff94"/>
<polygon points="236.5,815.7 242.7,814.4 236.5,809.7 230.2,811" fill="#0fff4b"/>
<polygon points="211.5,808.5 217.8,807.6 211.5,803.4 205.3,804.3" fill="#16ff0f"/>
<polygon points="186.5,801.6 192.7,801 186.4,797.2 180.2,797.8" fill="#53ff0f"/>
<polygon points="173.9,798.2 180.2,797.8 173.9,794.2 167.6,794.6" fill="#70ff0f"/>
<polygon points="161.3,794.9 167.6,794.6 161.3,791.3 155,791.5" fill="#8cff0f"/>
<polygon points="136,788.3 142.3,788.4 136,785.5 129.6,785.4" fill="#c2ff0f"/>
<polygon points="110.6,782 116.9,782.5 110.6,780 104.2,779.5" fill="#f4ff0f"/>
<polygon points="85.1,775.8 91.5,776.7 85.1,774.6 78.7,773.8" fill="#ffdd0f"/>
<polygon points="59.5,769.9 65.9,771.1 59.6,769.5 53.2,768.4" fill="#ffb40f"/>
<polygon points="291.9,836.3 298.1,834.3 292,828.5 285.9,830.5" fill="#1ffffa"/>
<polygon points="279.7,832.3 285.9,830.5 279.8,824.9 273.6,826.7" fill="#1bffd4"/>
<polygon points="267.4,828.4 273.6,826.7 267.4,821.4 261.2,823" fill="#17ffaf"/>
<polygon points="255,824.5 261.2,823 255.1,817.9 248.9,819.3" fill="#13ff88"/>
<polygon points="242.7,820.6 248.9,819.3 242.7,814.4 236.5,815.7" fill="#0fff62"/>
<polygon points="230.2,816.8 236.5,815.7 230.2,811 224,812.1" fill="#0fff3f"/>
<polygon points="217.8,813 224,812.1 217.8,807.6 211.5,808.5" fill="#0fff1c"/>
<polygon points="205.3,809.3 211.5,808.5 205.3,804.3 199,805.1" fill="#23ff0f"/>
<polygon points="192.8,805.6 199,805.1 192.7,801 186.5,801.6" fill="#44ff0f"/>
<polygon points="180.2,802 186.5,801.6 180.2,797.8 173.9,798.2" fill="#63ff0f"/>
<polygon points="167.6,798.4 173.9,798.2 167.6,794.6 161.3,794.9" fill="#82ff0f"/>
<polygon points="155,794.9 161.3,794.9 155,791.5 148.6,791.6" fill="#9fff0f"/>
<polygon points="142.3,791.4 148.6,791.6 142.3,788.4 136,788.3" fill="#bbff0f"/>
<polygon points="129.6,788 136,788.3 129.6,785.4 123.3,785.1" fill="#d7ff0f"/>
<polygon points="116.9,784.6 123.3,785.1 116.9,782.5 110.6,782" fill="#f1ff0f"/>
<polygon points="104.2,781.3 110.6,782 104.2,779.5 97.8,778.9" fill="#fff40f"/>
<polygon points="91.4,778 97.8,778.9 91.5,776.7 85.1,775.8" fill="#ffdb0f"/>
<polygon points="78.6,774.8 85.1,775.8 78.7,773.8 72.3,772.8" fill="#ffc40f"/>
<polygon points="65.8,771.6 72.3,772.8 65.9,771.1 59.5,769.9" fill="#ffad0f"/>
<polygon points="53,768.5 59.5,769.9 53.2,768.4 46.7,767" fill="#ff980f"/>
<polygon points="285.8,838.1 291.9,836.3 285.9,830.5 279.7,832.3" fill="#1bfff3"/>
<polygon points="261.2,829.8 267.4,828.4 261.2,823 255,824.5" fill="#13ffa4"/>
<polygon points="236.5,821.6 242.7,820.6 236.5,815.7 230.2,816.8" fill="#0fff57"/>
<polygon points="211.5,813.7 217.8,813 211.5,808.5 205.3,809.3" fill="#10ff0f"/>
<polygon points="136,791 142.3,791.4 136,788.3 129.6,788" fill="#d1ff0f"/>
<polygon points="110.5,783.8 116.9,784.6 110.6,782 104.2,781.3" fill="#fff50f"/>
<polygon points="85,776.9 91.4,778 85.1,775.8 78.6,774.8" fill="#ffc10f"/>
<polygon points="59.4,770.2 65.8,771.6 59.5,769.9 53,768.5" fill="#ff910f"/>
<polygon points="273.5,833.9 279.7,832.3 273.6,826.7 267.4,828.4" fill="#17ffcc"/>
<polygon points="248.9,825.7 255,824.5 248.9,819.3 242.7,820.6" fill="#0fff7c"/>
<polygon points="224,817.6 230.2,816.8 224,812.1 217.8,813" fill="#0fff32"/>
<polygon points="199,809.8 205.3,809.3 199,805.1 192.8,805.6" fill="#33ff0f"/>
<polygon points="186.5,805.9 192.8,805.6 186.5,801.6 180.2,802" fill="#55ff0f"/>
<polygon points="173.9,802.1 180.2,802 173.9,798.2 167.6,798.4" fill="#75ff0f"/>
<polygon points="161.3,798.4 167.6,798.4 161.3,794.9 155,794.9" fill="#95ff0f"/>
<polygon points="148.6,794.6 155,794.9 148.6,791.6 142.3,791.4" fill="#b3ff0f"/>
<polygon points="123.3,787.4 129.6,788 123.3,785.1 116.9,784.6" fill="#edff0f"/>
<polygon points="97.8,780.4 104.2,781.3 97.8,778.9 91.4,778" fill="#ffda0f"/>
<polygon points="72.2,773.5 78.6,774.8 72.3,772.8 65.8,771.6" fill="#ffa90f"/>
<polygon points="279.6,839.7 285.8,838.1 279.7,832.3 273.5,833.9" fill="#17ffea"/>
<polygon points="267.3,835.4 273.5,833.9 267.4,828.4 261.2,829.8" fill="#12ffc1"/>
<polygon points="255,831 261.2,829.8 255,824.5 248.9,825.7" fill="#0fff98"/>
<polygon points="242.7,826.7 248.9,825.7 242.7,820.6 236.5,821.6" fill="#0fff6f"/>
<polygon points="230.2,822.5 236.5,821.6 230.2,816.8 224,817.6" fill="#0fff49"/>
<polygon points="217.8,818.3 224,817.6 217.8,813 211.5,813.7" fill="#0fff23"/>
<polygon points="205.3,814.2 211.5,813.7 205.3,809.3 199,809.8" fill="#20ff0f"/>
<polygon points="180.2,806 186.5,805.9 180.2,802 173.9,802.1" fill="#67ff0f"/>
<polygon points="167.6,802.1 173.9,802.1 167.6,798.4 161.3,798.4" fill="#89ff0f"/>
<polygon points="142.3,794.2 148.6,794.6 142.3,791.4 136,791" fill="#c9ff0f"/>
<polygon points="129.6,790.4 136,791 129.6,788 123.3,787.4" fill="#e8ff0f"/>
<polygon points="116.9,786.6 123.3,787.4 116.9,784.6 110.5,783.8" fill="#fff80f"/>
<polygon points="104.1,782.9 110.5,783.8 104.2,781.3 97.8,780.4" fill="#ffdb0f"/>
<polygon points="91.4,779.2 97.8,780.4 91.4,778 85,776.9" fill="#ffc00f"/>
<polygon points="78.5,775.6 85,776.9 78.6,774.8 72.2,773.5" fill="#ffa50f"/>
<polygon points="65.7,772.1 72.2,773.5 65.8,771.6 59.4,770.2" fill="#ff8b0f"/>
<polygon points="192.8,810.1 199,809.8 192.8,805.6 186.5,805.9" fill="#44ff0f"/>
<polygon points="155,798.1 161.3,798.4 155,794.9 148.6,794.6" fill="#a9ff0f"/>
<polygon points="273.4,841.1 279.6,839.7 273.5,833.9 267.3,835.4" fill="#12ffdf"/>
<polygon points="248.8,832.1 255,831 248.9,825.7 242.7,826.7" fill="#0fff8a"/>
<polygon points="224,823.2 230.2,822.5 224,817.6 217.8,818.3" fill="#0fff3a"/>
<polygon points="199.1,814.5 205.3,814.2 199,809.8 192.8,810.1" fill="#32ff0f"/>
<polygon points="173.9,806 180.2,806 173.9,802.1 167.6,802.1" fill="#7aff0f"/>
<polygon points="148.7,797.7 155,798.1 148.6,794.6 142.3,794.2" fill="#c0ff0f"/>
<polygon points="123.2,789.6 129.6,790.4 123.3,787.4 116.9,786.6" fill="#fffd0f"/>
<polygon points="97.7,781.7 104.1,782.9 97.8,780.4 91.4,779.2" fill="#ffc10f"/>
<polygon points="72.1,774.1 78.5,775.6 72.2,773.5 65.7,772.1" fill="#ff880f"/>
<polygon points="261.2,836.6 267.3,835.4 261.2,829.8 255,831" fill="#0fffb4"/>
<polygon points="236.5,827.6 242.7,826.7 236.5,821.6 230.2,822.5" fill="#0fff61"/>
<polygon points="211.6,818.8 217.8,818.3 211.5,813.7 205.3,814.2" fill="#0fff13"/>
<polygon points="186.5,810.2 192.8,810.1 186.5,805.9 180.2,806" fill="#57ff0f"/>
<polygon points="161.3,801.8 167.6,802.1 161.3,798.4 155,798.1" fill="#9dff0f"/>
<polygon points="136,793.6 142.3,794.2 136,791 129.6,790.4" fill="#e1ff0f"/>
<polygon points="110.5,785.6 116.9,786.6 110.5,783.8 104.1,782.9" fill="#ffdf0f"/>
<polygon points="84.9,777.9 91.4,779.2 85,776.9 78.5,775.6" fill="#ffa40f"/>
<polygon points="267.3,842.3 273.4,841.1 267.3,835.4 261.2,836.6" fill="#0fffd3"/>
<polygon points="255,837.6 261.2,836.6 255,831 248.8,832.1" fill="#0fffa7"/>
<polygon points="242.6,832.9 248.8,832.1 242.7,826.7 236.5,827.6" fill="#0fff7b"/>
<polygon points="230.2,828.2 236.5,827.6 230.2,822.5 224,823.2" fill="#0fff52"/>
<polygon points="217.8,823.6 224,823.2 217.8,818.3 211.6,818.8" fill="#0fff29"/>
<polygon points="205.3,819 211.6,818.8 205.3,814.2 199.1,814.5" fill="#1eff0f"/>
<polygon points="192.8,814.5 199.1,814.5 192.8,810.1 186.5,810.2" fill="#45ff0f"/>
<polygon points="180.2,810.1 186.5,810.2 180.2,806 173.9,806" fill="#6bff0f"/>
<polygon points="167.6,805.7 173.9,806 167.6,802.1 161.3,801.8" fill="#90ff0f"/>
<polygon points="155,801.3 161.3,801.8 155,798.1 148.7,797.7" fill="#b5ff0f"/>
<polygon points="142.3,797 148.7,797.7 142.3,794.2 136,793.6" fill="#d8ff0f"/>
<polygon points="129.6,792.8 136,793.6 129.6,790.4 123.2,789.6" fill="#f9ff0f"/>
<polygon points="116.9,788.6 123.2,789.6 116.9,786.6 110.5,785.6" fill="#ffe30f"/>
<polygon points="104.1,784.4 110.5,785.6 104.1,782.9 97.7,781.7" fill="#ffc30f"/>
<polygon points="91.3,780.3 97.7,781.7 91.4,779.2 84.9,777.9" fill="#ffa40f"/>
<polygon points="78.5,776.3 84.9,777.9 78.5,775.6 72.1,774.1" fill="#ff860f"/>
<polygon points="261.1,843.3 267.3,842.3 261.2,836.6 255,837.6" fill="#0fffc5"/>
<polygon points="236.4,833.5 242.6,832.9 236.5,827.6 230.2,828.2" fill="#0fff6b"/>
<polygon points="186.5,814.4 192.8,814.5 186.5,810.2 180.2,810.1" fill="#5aff0f"/>
<polygon points="161.3,805.2 167.6,805.7 161.3,801.8 155,801.3" fill="#a8ff0f"/>
<polygon points="110.5,787.3 116.9,788.6 110.5,785.6 104.1,784.4" fill="#ffc80f"/>
<polygon points="84.8,778.7 91.3,780.3 84.9,777.9 78.5,776.3" fill="#ff860f"/>
<polygon points="248.8,838.4 255,837.6 248.8,832.1 242.6,832.9" fill="#0fff98"/>
<polygon points="224,828.6 230.2,828.2 224,823.2 217.8,823.6" fill="#0fff40"/>
<polygon points="211.6,823.8 217.8,823.6 211.6,818.8 205.3,819" fill="#0fff16"/>
<polygon points="199.1,819.1 205.3,819 199.1,814.5 192.8,814.5" fill="#32ff0f"/>
<polygon points="173.9,809.7 180.2,810.1 173.9,806 167.6,805.7" fill="#81ff0f"/>
<polygon points="148.7,800.6 155,801.3 148.7,797.7 142.3,797" fill="#cdff0f"/>
<polygon points="136,796.1 142.3,797 136,793.6 129.6,792.8" fill="#f1ff0f"/>
<polygon points="123.2,791.7 129.6,792.8 123.2,789.6 116.9,788.6" fill="#ffe90f"/>
<polygon points="97.7,783 104.1,784.4 97.7,781.7 91.3,780.3" fill="#ffa60f"/>
<polygon points="255,844.1 261.1,843.3 255,837.6 248.8,838.4" fill="#0fffb6"/>
<polygon points="242.6,839 248.8,838.4 242.6,832.9 236.4,833.5" fill="#0fff87"/>
<polygon points="230.3,833.9 236.4,833.5 230.2,828.2 224,828.6" fill="#0fff5a"/>
<polygon points="217.8,828.9 224,828.6 217.8,823.6 211.6,823.8" fill="#0fff2d"/>
<polygon points="205.3,823.9 211.6,823.8 205.3,819 199.1,819.1" fill="#1cff0f"/>
<polygon points="192.8,818.9 199.1,819.1 192.8,814.5 186.5,814.4" fill="#48ff0f"/>
<polygon points="180.3,814 186.5,814.4 180.2,810.1 173.9,809.7" fill="#71ff0f"/>
<polygon points="167.6,809.2 173.9,809.7 167.6,805.7 161.3,805.2" fill="#99ff0f"/>
<polygon points="155,804.4 161.3,805.2 155,801.3 148.7,800.6" fill="#c1ff0f"/>
<polygon points="142.3,799.7 148.7,800.6 142.3,797 136,796.1" fill="#e8ff0f"/>
<polygon points="129.6,795 136,796.1 129.6,792.8 123.2,791.7" fill="#fff20f"/>
<polygon points="116.8,790.4 123.2,791.7 116.9,788.6 110.5,787.3" fill="#ffcd0f"/>
<polygon points="104,785.8 110.5,787.3 104.1,784.4 97.7,783" fill="#ffa90f"/>
<polygon points="91.2,781.3 97.7,783 91.3,780.3 84.8,778.7" fill="#ff870f"/>
<polygon points="248.8,844.7 255,844.1 248.8,838.4 242.6,839" fill="#0fffa4"/>
<polygon points="199.1,823.7 205.3,823.9 199.1,819.1 192.8,818.9" fill="#33ff0f"/>
<polygon points="174,813.5 180.3,814 173.9,809.7 167.6,809.2" fill="#8aff0f"/>
<polygon points="148.7,803.5 155,804.4 148.7,800.6 142.3,799.7" fill="#dbff0f"/>
<polygon points="97.6,784.1 104,785.8 97.7,783 91.2,781.3" fill="#ff8a0f"/>
<polygon points="236.4,839.4 242.6,839 236.4,833.5 230.3,833.9" fill="#0fff75"/>
<polygon points="224,834.1 230.3,833.9 224,828.6 217.8,828.9" fill="#0fff46"/>
<polygon points="211.6,828.9 217.8,828.9 211.6,823.8 205.3,823.9" fill="#0fff19"/>
<polygon points="186.6,818.5 192.8,818.9 186.5,814.4 180.3,814" fill="#5eff0f"/>
<polygon points="161.3,808.4 167.6,809.2 161.3,805.2 155,804.4" fill="#b3ff0f"/>
<polygon points="136,798.6 142.3,799.7 136,796.1 129.6,795" fill="#fffb0f"/>
<polygon points="123.2,793.7 129.6,795 123.2,791.7 116.8,790.4" fill="#ffd50f"/>
<polygon points="110.4,788.9 116.8,790.4 110.5,787.3 104,785.8" fill="#ffaf0f"/>
<polygon points="242.6,845.1 248.8,844.7 242.6,839 236.4,839.4" fill="#0fff91"/>
<polygon points="230.3,839.6 236.4,839.4 230.3,833.9 224,834.1" fill="#0fff60"/>
<polygon points="217.8,834.1 224,834.1 217.8,828.9 211.6,828.9" fill="#0fff31"/>
<polygon points="205.4,828.6 211.6,828.9 205.3,823.9 199.1,823.7" fill="#1cff0f"/>
<polygon points="192.8,823.3 199.1,823.7 192.8,818.9 186.6,818.5" fill="#4bff0f"/>
<polygon points="180.3,817.9 186.6,818.5 180.3,814 174,813.5" fill="#78ff0f"/>
<polygon points="167.7,812.7 174,813.5 167.6,809.2 161.3,808.4" fill="#a3ff0f"/>
<polygon points="155,807.4 161.3,808.4 155,804.4 148.7,803.5" fill="#ceff0f"/>
<polygon points="142.3,802.3 148.7,803.5 142.3,799.7 136,798.6" fill="#f7ff0f"/>
<polygon points="129.6,797.2 136,798.6 129.6,795 123.2,793.7" fill="#ffdd0f"/>
<polygon points="116.8,792.1 123.2,793.7 116.8,790.4 110.4,788.9" fill="#ffb60f"/>
<polygon points="104,787.2 110.4,788.9 104,785.8 97.6,784.1" fill="#ff8f0f"/>
<polygon points="211.6,833.8 217.8,834.1 211.6,828.9 205.4,828.6" fill="#0fff1a"/>
<polygon points="186.6,822.6 192.8,823.3 186.6,818.5 180.3,817.9" fill="#64ff0f"/>
<polygon points="161.4,811.6 167.7,812.7 161.3,808.4 155,807.4" fill="#bfff0f"/>
<polygon points="135.9,800.9 142.3,802.3 136,798.6 129.6,797.2" fill="#ffe80f"/>
<polygon points="236.5,845.2 242.6,845.1 236.4,839.4 230.3,839.6" fill="#0fff7c"/>
<polygon points="224.1,839.5 230.3,839.6 224,834.1 217.8,834.1" fill="#0fff4b"/>
<polygon points="199.1,828.2 205.4,828.6 199.1,823.7 192.8,823.3" fill="#35ff0f"/>
<polygon points="174,817.1 180.3,817.9 174,813.5 167.7,812.7" fill="#92ff0f"/>
<polygon points="148.7,806.2 155,807.4 148.7,803.5 142.3,802.3" fill="#eaff0f"/>
<polygon points="123.2,795.6 129.6,797.2 123.2,793.7 116.8,792.1" fill="#ffbe0f"/>
<polygon points="110.4,790.4 116.8,792.1 110.4,788.9 104,787.2" fill="#ff960f"/>
<polygon points="230.3,845.2 236.5,845.2 230.3,839.6 224.1,839.5" fill="#0fff67"/>
<polygon points="217.9,839.2 224.1,839.5 217.8,834.1 211.6,833.8" fill="#0fff33"/>
<polygon points="205.4,833.4 211.6,833.8 205.4,828.6 199.1,828.2" fill="#1dff0f"/>
<polygon points="192.9,827.5 199.1,828.2 192.8,823.3 186.6,822.6" fill="#4eff0f"/>
<polygon points="180.3,821.8 186.6,822.6 180.3,817.9 174,817.1" fill="#7fff0f"/>
<polygon points="167.7,816.1 174,817.1 167.7,812.7 161.4,811.6" fill="#aeff0f"/>
<polygon points="155,810.4 161.4,811.6 155,807.4 148.7,806.2" fill="#dcff0f"/>
<polygon points="142.3,804.8 148.7,806.2 142.3,802.3 135.9,800.9" fill="#fff50f"/>
<polygon points="129.6,799.3 135.9,800.9 129.6,797.2 123.2,795.6" fill="#ffc80f"/>
<polygon points="116.8,793.8 123.2,795.6 116.8,792.1 110.4,790.4" fill="#ff9d0f"/>
<polygon points="224.1,844.9 230.3,845.2 224.1,839.5 217.9,839.2" fill="#0fff4e"/>
<polygon points="199.1,832.7 205.4,833.4 199.1,828.2 192.9,827.5" fill="#38ff0f"/>
<polygon points="148.7,808.9 155,810.4 148.7,806.2 142.3,804.8" fill="#fbff0f"/>
<polygon points="123.2,797.4 129.6,799.3 123.2,795.6 116.8,793.8" fill="#ffa80f"/>
<polygon points="174,820.7 180.3,821.8 174,817.1 167.7,816.1" fill="#9bff0f"/>
<polygon points="211.6,838.7 217.9,839.2 211.6,833.8 205.4,833.4" fill="#0fff1b"/>
<polygon points="186.6,826.6 192.9,827.5 186.6,822.6 180.3,821.8" fill="#6aff0f"/>
<polygon points="161.4,814.8 167.7,816.1 161.4,811.6 155,810.4" fill="#cbff0f"/>
<polygon points="135.9,803.1 142.3,804.8 135.9,800.9 129.6,799.3" fill="#ffd50f"/>
<polygon points="217.9,844.4 224.1,844.9 217.9,839.2 211.6,838.7" fill="#0fff35"/>
<polygon points="205.4,838 211.6,838.7 205.4,833.4 199.1,832.7" fill="#1fff0f"/>
<polygon points="192.9,831.7 199.1,832.7 192.9,827.5 186.6,826.6" fill="#54ff0f"/>
<polygon points="180.3,825.5 186.6,826.6 180.3,821.8 174,820.7" fill="#87ff0f"/>
<polygon points="167.7,819.4 174,820.7 167.7,816.1 161.4,814.8" fill="#b9ff0f"/>
<polygon points="155,813.3 161.4,814.8 155,810.4 148.7,808.9" fill="#ebff0f"/>
<polygon points="142.3,807.2 148.7,808.9 142.3,804.8 135.9,803.1" fill="#ffe30f"/>
<polygon points="129.5,801.2 135.9,803.1 129.6,799.3 123.2,797.4" fill="#ffb30f"/>
<polygon points="211.7,843.6 217.9,844.4 211.6,838.7 205.4,838" fill="#0fff1a"/>
<polygon points="135.9,805.3 142.3,807.2 135.9,803.1 129.5,801.2" fill="#ffc00f"/>
<polygon points="186.6,830.6 192.9,831.7 186.6,826.6 180.3,825.5" fill="#71ff0f"/>
<polygon points="174,824.2 180.3,825.5 174,820.7 167.7,819.4" fill="#a6ff0f"/>
<polygon points="161.4,817.8 167.7,819.4 161.4,814.8 155,813.3" fill="#d9ff0f"/>
<polygon points="199.2,837.1 205.4,838 199.1,832.7 192.9,831.7" fill="#3bff0f"/>
<polygon points="148.7,811.5 155,813.3 148.7,808.9 142.3,807.2" fill="#fff20f"/>
<polygon points="205.4,842.6 211.7,843.6 205.4,838 199.2,837.1" fill="#22ff0f"/>
<polygon points="192.9,835.9 199.2,837.1 192.9,831.7 186.6,830.6" fill="#5aff0f"/>
<polygon points="180.4,829.2 186.6,830.6 180.3,825.5 174,824.2" fill="#90ff0f"/>
<polygon points="167.7,822.6 174,824.2 167.7,819.4 161.4,817.8" fill="#c7ff0f"/>
<polygon points="155,816 161.4,817.8 155,813.3 148.7,811.5" fill="#fbff0f"/>
<polygon points="142.3,809.5 148.7,811.5 142.3,807.2 135.9,805.3" fill="#ffcf0f"/>
<polygon points="199.2,841.4 205.4,842.6 199.2,837.1 192.9,835.9" fill="#40ff0f"/>
<polygon points="186.7,834.5 192.9,835.9 186.6,830.6 180.4,829.2" fill="#7aff0f"/>
<polygon points="174.1,827.6 180.4,829.2 174,824.2 167.7,822.6" fill="#b1ff0f"/>
<polygon points="161.4,820.8 167.7,822.6 161.4,817.8 155,816" fill="#e8ff0f"/>
<polygon points="148.7,814 155,816 148.7,811.5 142.3,809.5" fill="#ffe00f"/>
<polygon points="193,840 199.2,841.4 192.9,835.9 186.7,834.5" fill="#61ff0f"/>
<polygon points="180.4,832.8 186.7,834.5 180.4,829.2 174.1,827.6" fill="#9aff0f"/>
<polygon points="167.7,825.7 174.1,827.6 167.7,822.6 161.4,820.8" fill="#d4ff0f"/>
<polygon points="155.1,818.7 161.4,820.8 155,816 148.7,814" fill="#fff20f"/>
<polygon points="186.7,838.3 193,840 186.7,834.5 180.4,832.8" fill="#83ff0f"/>
<polygon points="174.1,830.9 180.4,832.8 174.1,827.6 167.7,825.7" fill="#beff0f"/>
<polygon points="161.4,823.6 167.7,825.7 161.4,820.8 155.1,818.7" fill="#f8ff0f"/>
<polygon points="180.4,836.3 186.7,838.3 180.4,832.8 174.1,830.9" fill="#a6ff0f"/>
<polygon points="167.8,828.8 174.1,830.9 167.7,825.7 161.4,823.6" fill="#e3ff0f"/>
<polygon points="174.1,834.2 180.4,836.3 174.1,830.9 167.8,828.8" fill="#cbff0f"/>
</g>
<circle cx="40.7" cy="144.5" r="2.9" fill="#b50000" stroke="#7a0000" stroke-width="0.5"/>
<circle cx="315.2" cy="40.6" r="2.9" fill="#f7c6cc" stroke="#c88" stroke-width="0.5"/>
<circle cx="175.2" cy="87.5" r="2.9" fill="#b50000" stroke="#7a0000" stroke-width="0.5"/>
<circle cx="175.2" cy="131.4" r="2.9" fill="#b50000" stroke="#7a0000" stroke-width="0.5"/>
<circle cx="35" cy="497.5" r="2.9" fill="#f7c6cc" stroke="#c88" stroke-width="0.5"/>
<circle cx="178.3" cy="394.7" r="2.9" fill="#b50000" stroke="#7a0000" stroke-width="0.5"/>
<circle cx="177.8" cy="460" r="2.9" fill="#b50000" stroke="#7a0000" stroke-width="0.5"/>
<circle cx="323" cy="457.3" r="2.9" fill="#b50000" stroke="#7a0000" stroke-width="0.5"/>
<circle cx="178.3" cy="579.2" r="2.9" fill="#f7c6cc" stroke="#c88" stroke-width="0.5"/>
<circle cx="40.3" cy="767.1" r="2.9" fill="#b50000" stroke="#7a0000" stroke-width="0.5"/>
<circle cx="173.6" cy="751.5" r="2.9" fill="#b50000" stroke="#7a0000" stroke-width="0.5"/>
<circle cx="173.6" cy="794.1" r="2.9" fill="#b50000" stroke="#7a0000" stroke-width="0.5"/>
<circle cx="173.6" cy="837.5" r="2.9" fill="#f7c6cc" stroke="#c88" stroke-width="0.5"/>
<circle cx="304.3" cy="834" r="2.9" fill="#f7c6cc" stroke="#c88" stroke-width="0.5"/>
<rect x="400.8" y="14.9" width="275" height="3.6" fill="url(#g1)"/>
<rect x="400.8" y="17.9" width="275" height="3.6" fill="url(#g2)"/>
<rect x="400.8" y="20.9" width="275" height="3.6" fill="url(#g3)"/>
<rect x="400.8" y="23.9" width="275" height="3.6" fill="url(#g4)"/>
<rect x="400.8" y="26.9" width="275" height="3.6" fill="url(#g5)"/>
<rect x="400.8" y="29.9" width="275" height="3.6" fill="url(#g6)"/>
<rect x="400.8" y="32.9" width="275" height="3.6" fill="url(#g7)"/>
<rect x="400.8" y="35.9" width="275" height="3.6" fill="url(#g8)"/>
<rect x="400.8" y="38.9" width="275" height="3.6" fill="url(#g9)"/>
<rect x="400.8" y="41.9" width="275" height="3.6" fill="url(#g10)"/>
<rect x="400.8" y="44.9" width="275" height="3.6" fill="url(#g11)"/>
<rect x="400.8" y="47.9" width="275" height="3.6" fill="url(#g12)"/>
<rect x="400.8" y="50.9" width="275" height="3.6" fill="url(#g13)"/>
<rect x="400.8" y="53.9" width="275" height="3.6" fill="url(#g14)"/>
<rect x="400.8" y="56.9" width="275" height="3.6" fill="url(#g15)"/>
<rect x="400.8" y="59.9" width="275" height="3.6" fill="url(#g16)"/>
<rect x="400.8" y="62.9" width="275" height="3.6" fill="url(#g17)"/>
<rect x="400.8" y="65.9" width="275" height="3.6" fill="url(#g18)"/>
<rect x="400.8" y="68.9" width="275" height="3.6" fill="url(#g19)"/>
<rect x="400.8" y="71.9" width="275" height="3.6" fill="url(#g20)"/>
<rect x="400.8" y="74.9" width="275" height="3.6" fill="url(#g21)"/>
<rect x="400.8" y="77.9" width="275" height="3.6" fill="url(#g22)"/>
<rect x="400.8" y="80.9" width="275" height="3.6" fill="url(#g23)"/>
<rect x="400.8" y="83.9" width="275" height="3.6" fill="url(#g24)"/>
<rect x="400.8" y="86.9" width="275" height="3.6" fill="url(#g25)"/>
<rect x="400.8" y="89.9" width="275" height="3.6" fill="url(#g26)"/>
<rect x="400.8" y="92.9" width="275" height="3.6" fill="url(#g27)"/>
<rect x="400.8" y="95.9" width="275" height="3.6" fill="url(#g28)"/>
<rect x="400.8" y="98.9" width="275" height="3.6" fill="url(#g29)"/>
<rect x="400.8" y="101.9" width="275" height="3.6" fill="url(#g30)"/>
<rect x="400.8" y="104.9" width="275" height="3.6" fill="url(#g31)"/>
<rect x="400.8" y="107.9" width="275" height="3.6" fill="url(#g32)"/>
<rect x="400.8" y="110.9" width="275" height="3.6" fill="url(#g33)"/>
<rect x="400.8" y="113.9" width="275" height="3.6" fill="url(#g34)"/>
<rect x="400.8" y="116.9" width="275" height="3.6" fill="url(#g35)"/>
<rect x="400.8" y="119.9" width="275" height="3.6" fill="url(#g36)"/>
<rect x="400.8" y="122.9" width="275" height="3.6" fill="url(#g37)"/>
<rect x="400.8" y="125.9" width="275" height="3.6" fill="url(#g38)"/>
<rect x="400.8" y="128.9" width="275" height="3.6" fill="url(#g39)"/>
<rect x="400.8" y="131.9" width="275" height="3.6" fill="url(#g40)"/>
<rect x="400.8" y="134.9" width="275" height="3.6" fill="url(#g41)"/>
<rect x="400.8" y="137.9" width="275" height="3.6" fill="url(#g42)"/>
<rect x="400.8" y="140.9" width="275" height="3.6" fill="url(#g43)"/>
<rect x="400.8" y="143.9" width="275" height="3.6" fill="url(#g44)"/>
<rect x="400.8" y="146.9" width="275" height="3.6" fill="url(#g45)"/>
<rect x="400.8" y="149.9" width="275" height="3.6" fill="url(#g46)"/>
<rect x="400.8" y="152.9" width="275" height="3.6" fill="url(#g47)"/>
<rect x="400.8" y="155.9" width="275" height="3.6" fill="url(#g48)"/>
<rect x="400.8" y="158.9" width="275" height="3.6" fill="url(#g49)"/>
<rect x="400.8" y="161.9" width="275" height="3.6" fill="url(#g50)"/>
<rect x="400.8" y="164.9" width="275" height="3.6" fill="url(#g51)"/>
<rect x="400.8" y="167.9" width="275" height="3.6" fill="url(#g52)"/>
<rect x="400.8" y="170.9" width="275" height="3.6" fill="url(#g53)"/>
<rect x="400.8" y="173.9" width="275" height="3.6" fill="url(#g54)"/>
<rect x="400.8" y="176.9" width="275" height="3.6" fill="url(#g55)"/>
<rect x="400.8" y="179.9" width="275" height="3.6" fill="url(#g56)"/>
<rect x="400.8" y="182.9" width="275" height="3.6" fill="url(#g57)"/>
<rect x="400.8" y="185.9" width="275" height="3.6" fill="url(#g58)"/>
<rect x="400.8" y="188.9" width="275" height="3.6" fill="url(#g59)"/>
<rect x="400.8" y="191.9" width="275" height="3.6" fill="url(#g60)"/>
<rect x="400.8" y="194.9" width="275" height="3.6" fill="url(#g61)"/>
<rect x="400.8" y="197.9" width="275" height="3.6" fill="url(#g62)"/>
<rect x="400.8" y="200.9" width="275" height="3.6" fill="url(#g63)"/>
<rect x="400.8" y="203.9" width="275" height="3.6" fill="url(#g64)"/>
<rect x="400.8" y="206.9" width="275" height="3.6" fill="url(#g65)"/>
<rect x="400.8" y="209.9" width="275" height="3.6" fill="url(#g66)"/>
<rect x="400.8" y="212.9" width="275" height="3.6" fill="url(#g67)"/>
<rect x="400.8" y="215.9" width="275" height="3.6" fill="url(#g68)"/>
<rect x="400.8" y="218.9" width="275" height="3.6" fill="url(#g69)"/>
<rect x="400.8" y="221.9" width="275" height="3.6" fill="url(#g70)"/>
<rect x="400.8" y="224.9" width="275" height="3.6" fill="url(#g71)"/>
<rect x="400.8" y="227.9" width="275" height="3.6" fill="url(#g72)"/>
<rect x="400.8" y="230.9" width="275" height="3.6" fill="url(#g73)"/>
<rect x="400.8" y="233.9" width="275" height="3.6" fill="url(#g74)"/>
<rect x="400.8" y="236.9" width="275" height="3.6" fill="url(#g75)"/>
<rect x="400.8" y="239.9" width="275" height="3.6" fill="url(#g76)"/>
<rect x="400.8" y="242.9" width="275" height="3.6" fill="url(#g77)"/>
<rect x="400.8" y="245.9" width="275" height="3.6" fill="url(#g78)"/>
<rect x="400.8" y="248.9" width="275" height="3.6" fill="url(#g79)"/>
<rect x="400.8" y="251.9" width="275" height="3.6" fill="url(#g80)"/>
<rect x="400.8" y="254.9" width="275" height="3.6" fill="url(#g81)"/>
<rect x="400.8" y="257.9" width="275" height="3.6" fill="url(#g82)"/>
<rect x="400.8" y="260.9" width="275" height="3.6" fill="url(#g83)"/>
<rect x="400.8" y="263.9" width="275" height="3.6" fill="url(#g84)"/>
<rect x="400.8" y="266.9" width="275" height="1" fill="url(#g85)"/>
<path d="M426.3 14.9 L426 17.4 L425.7 20 L425.4 21.7 L425.1 24.2 L424.7 26.6 L424.4 28.4 L424 31 L423.7 32.7 L423.2 35.2 L422.9 37.1 L422.4 39.4 L422 41.6 L421.5 43.7 L421 45.8 L420.5 47.9 L420.1 49.6 L419.5 52.1 L419 53.8 L418.4 56.4 L417.9 58.1 L417.4 60 L416.7 62.3 L416.2 64 L415.5 66.1 L414.8 68.2 L414.3 69.9 L413.7 71.7 L412.9 74.1 L412.3 75.8 L411.7 77.5 L410.9 79.5 L410.1 81.7 L409.4 83.4 L408.8 85.1 L408.1 86.8 L407.2 89 L406.4 91.1 L405.7 92.7 L404.9 94.4 L404.2 96.1 L403.4 97.8 L402.6 99.6 L401.7 101.6 L400.8 103.5 L400.8 103.5" fill="none" stroke="#1a1a1a" stroke-width="0.6" stroke-opacity="0.85"/>
<path d="M496.8 14.9 L496.7 17.4 L496.6 20 L496.5 22.2 L496.3 24.2 L496.1 26.7 L495.9 29.3 L495.7 31.8 L495.5 33.5 L495.2 36.1 L494.9 38.6 L494.6 40.6 L494.3 42.8 L493.9 45.4 L493.6 47.1 L493.2 49.6 L492.8 51.6 L492.3 53.8 L491.9 56.2 L491.4 58.1 L490.9 60.3 L490.5 62.3 L490 64.1 L489.4 66.5 L488.9 68.2 L488.2 70.7 L487.7 72.4 L487.2 74.1 L486.5 76.7 L485.9 78.4 L485.4 80.1 L484.5 82.6 L483.9 84.3 L483.3 86 L482.7 87.8 L481.7 90.2 L481.1 91.9 L480.4 93.6 L479.7 95.3 L479 97.1 L478.1 99.3 L477.2 101.2 L476.5 102.9 L475.7 104.6 L474.9 106.3 L474.1 108 L473.3 109.7 L472.5 111.4 L471.6 113.1 L470.7 114.9 L469.8 116.7 L468.9 118.4 L467.9 120.1 L467 121.8 L466.1 123.5 L465.2 125.1 L464.3 126.7 L463.3 128.3 L462.4 130 L461.4 131.7 L460.3 133.4 L459.3 135.1 L458.2 136.7 L457.2 138.4 L456.1 140.1 L455.1 141.7 L454.1 143.1 L453.2 144.5 L452.2 146.1 L451 147.7 L449.8 149.4 L448.7 151.1 L447.7 152.5 L446.8 153.8 L445.6 155.4 L444.4 157.1 L443.1 158.7 L442.2 160 L441.2 161.3 L439.9 163 L438.6 164.7 L437.6 166 L436.7 167.2 L435.3 168.9 L434 170.6 L433 171.8 L431.9 173.1 L430.5 174.8 L429.3 176.3 L428.4 177.4 L427 179.1 L425.6 180.6 L424.7 181.7 L423.3 183.3 L422 184.9 L421 185.9 L419.6 187.5 L418.3 189 L417.3 190.1 L415.8 191.7 L414.6 193.1 L413.5 194.3 L411.9 196 L410.9 197 L409.5 198.5 L408.2 200 L407.1 201.1 L405.5 202.7 L404.5 203.8 L403 205.3 L401.7 206.6 L400.8 207.6" fill="none" stroke="#1a1a1a" stroke-width="0.6" stroke-opacity="0.85"/>
<path d="M582.3 14.9 L582.5 17.4 L582.8 20 L582.9 21.7 L583.1 24.2 L583.3 26.7 L583.4 29.3 L583.5 31.8 L583.6 34.4 L583.6 36.9 L583.6 39.4 L583.6 42 L583.5 44.5 L583.4 47.1 L583.3 49.6 L583.1 52.1 L582.9 54.5 L582.7 56.4 L582.5 58.9 L582.1 61.4 L581.9 63.1 L581.5 65.7 L581.1 68.2 L580.8 69.9 L580.3 72.4 L579.9 74.1 L579.4 76.7 L579 78.4 L578.4 80.9 L577.9 82.6 L577.4 84.6 L576.7 86.8 L576.2 88.5 L575.5 90.7 L574.9 92.7 L574.3 94.4 L573.7 96.1 L572.8 98.6 L572.1 100.4 L571.5 102.1 L570.8 103.7 L570 105.6 L569.1 107.7 L568.2 109.7 L567.5 111.4 L566.7 113.1 L565.9 114.7 L565 116.4 L564.2 118.1 L563.3 119.8 L562.4 121.5 L561.5 123.2 L560.5 124.9 L559.6 126.6 L558.6 128.3 L557.6 130 L556.6 131.7 L555.6 133.4 L554.5 135.1 L553.5 136.7 L552.6 138.1 L551.6 139.5 L550.6 141 L549.5 142.7 L548.3 144.4 L547.1 146.1 L546.1 147.5 L545.2 148.8 L544.1 150.3 L542.8 152 L541.5 153.7 L540.6 154.9 L539.6 156.2 L538.3 157.9 L536.9 159.6 L536 160.7 L534.9 162.1 L533.5 163.8 L532.3 165.2 L531.3 166.4 L529.9 168.1 L528.6 169.5 L527.7 170.6 L526.2 172.3 L525 173.6 L523.9 174.8 L522.4 176.5 L521.3 177.7 L520 179.1 L518.5 180.6 L517.6 181.6 L516 183.3 L514.8 184.5 L513.6 185.8 L512.1 187.3 L511.1 188.4 L509.4 190.1 L508.4 191 L506.8 192.6 L505.6 193.7 L504.2 195.1 L502.9 196.4 L501.6 197.7 L500.1 199 L498.9 200.2 L497.4 201.6 L496.2 202.7 L494.6 204.2 L493.4 205.3 L491.9 206.7 L490.6 207.8 L489.1 209.2 L487.8 210.4 L486.3 211.7 L484.9 212.9 L483.6 214.1 L482 215.4 L480.8 216.5 L479.1 218 L478.1 218.9 L476.2 220.4 L475.1 221.4 L473.5 222.8 L472.1 223.9 L470.7 225.1 L469.1 226.4 L467.9 227.4 L466.1 228.9 L464.9 229.8 L463.3 231.1 L461.8 232.4 L460.6 233.3 L458.7 234.8 L457.6 235.7 L456 237 L454.4 238.3 L453.2 239.2 L451.4 240.6 L450.1 241.7 L448.6 242.8 L446.8 244.2 L445.7 245.1 L444 246.3 L442.4 247.6 L441.3 248.4 L439.4 249.8 L437.9 251 L436.7 251.9 L434.8 253.3 L433.4 254.4 L432.1 255.4 L430.2 256.7 L428.9 257.7 L427.5 258.8 L425.6 260.1 L424.2 261.1 L422.9 262.1 L421 263.5 L419.6 264.5 L418.3 265.5 L416.4 266.8 L414.9 267.9 L414.9 267.9" fill="none" stroke="#1a1a1a" stroke-width="0.6" stroke-opacity="0.85"/>
<path d="M675.8 168.6 L674.4 169.7 L673 170.9 L671.4 172.3 L670.3 173.3 L668.4 174.8 L667.3 175.7 L665.7 177 L664.2 178.2 L662.9 179.2 L661.1 180.6 L659.8 181.6 L658.3 182.8 L656.5 184.1 L655.4 185 L653.7 186.2 L652 187.5 L650.9 188.4 L649.1 189.6 L647.4 190.9 L646.2 191.7 L644.5 193 L642.7 194.3 L641.5 195.1 L639.9 196.2 L638.1 197.5 L636.6 198.5 L635.3 199.4 L633.5 200.7 L631.7 201.9 L630.4 202.7 L628.9 203.8 L627.1 205 L625.4 206.1 L624.1 207 L622.5 208.1 L620.6 209.3 L619 210.4 L617.7 211.2 L616 212.3 L614.2 213.5 L612.5 214.6 L611.2 215.4 L609.6 216.5 L607.7 217.6 L605.9 218.8 L604.5 219.7 L603.1 220.5 L601.3 221.7 L599.5 222.8 L597.8 223.9 L596.4 224.7 L594.9 225.7 L593 226.8 L591.2 228 L589.6 229 L588.2 229.8 L586.6 230.8 L584.7 231.9 L582.9 233 L581.2 234.1 L579.8 234.9 L578.3 235.8 L576.5 236.9 L574.6 238 L572.8 239.1 L571.3 240 L569.9 240.8 L568.2 241.9 L566.4 242.9 L564.5 244 L562.8 245.1 L561.3 245.9 L559.9 246.7 L558.1 247.8 L556.2 248.9 L554.4 250 L552.7 251 L551.2 251.8 L549.7 252.7 L548 253.7 L546.1 254.8 L544.3 255.8 L542.4 256.9 L541 257.7 L539.5 258.6 L537.8 259.5 L536 260.6 L534.2 261.6 L532.3 262.7 L530.6 263.7 L529.1 264.5 L527.6 265.4 L525.9 266.3 L524 267.4 L523.1 267.9" fill="none" stroke="#1a1a1a" stroke-width="0.6" stroke-opacity="0.85"/>
<rect x="413.8" y="58.8" width="6.5" height="3.6" fill="#fff" stroke="#777" stroke-width="0.4"/>
<rect x="415.2" y="60.1" width="3.5" height="1" fill="#9a9a9a"/>
<rect x="460.8" y="122.2" width="6.5" height="3.6" fill="#fff" stroke="#777" stroke-width="0.4"/>
<rect x="462.2" y="123.5" width="3.5" height="1" fill="#9a9a9a"/>
<rect x="524.5" y="166" width="6.5" height="3.6" fill="#fff" stroke="#777" stroke-width="0.4"/>
<rect x="526" y="167.3" width="3.5" height="1" fill="#9a9a9a"/>
<rect x="600.2" y="217" width="6.5" height="3.6" fill="#fff" stroke="#777" stroke-width="0.4"/>
<rect x="601.8" y="218.3" width="3.5" height="1" fill="#9a9a9a"/>
<rect x="400.8" y="14.9" width="275" height="253" fill="none" stroke="#bbb" stroke-width="0.6"/>
<circle cx="400.8" cy="14.9" r="2.6" fill="#b00000" stroke="#700" stroke-width="0.4"/>
<circle cx="675.8" cy="14.9" r="2.6" fill="#b00000" stroke="#700" stroke-width="0.4"/>
<circle cx="400.8" cy="267.9" r="2.6" fill="#b00000" stroke="#700" stroke-width="0.4"/>
<circle cx="675.8" cy="267.9" r="2.6" fill="#b00000" stroke="#700" stroke-width="0.4"/>
<circle cx="538" cy="141.2" r="2.6" fill="#b00000" stroke="#700" stroke-width="0.4"/>
<line x1="400.8" y1="267.9" x2="400.8" y2="272.9" stroke="#666" stroke-width="0.6"/>
<text x="400.8" y="281.1" style='font-family:"Liberation Sans",sans-serif;font-size:5px' fill="#222" text-anchor="middle">50</text>
<line x1="455.8" y1="267.9" x2="455.8" y2="272.9" stroke="#666" stroke-width="0.6"/>
<text x="455.8" y="281.1" style='font-family:"Liberation Sans",sans-serif;font-size:5px' fill="#222" text-anchor="middle">70</text>
<line x1="510.8" y1="267.9" x2="510.8" y2="272.9" stroke="#666" stroke-width="0.6"/>
<text x="510.8" y="281.1" style='font-family:"Liberation Sans",sans-serif;font-size:5px' fill="#222" text-anchor="middle">90</text>
<line x1="565.8" y1="267.9" x2="565.8" y2="272.9" stroke="#666" stroke-width="0.6"/>
<text x="565.8" y="281.1" style='font-family:"Liberation Sans",sans-serif;font-size:5px' fill="#222" text-anchor="middle">110</text>
<line x1="620.8" y1="267.9" x2="620.8" y2="272.9" stroke="#666" stroke-width="0.6"/>
<text x="620.8" y="281.1" style='font-family:"Liberation Sans",sans-serif;font-size:5px' fill="#222" text-anchor="middle">130</text>
<line x1="675.8" y1="267.9" x2="675.8" y2="272.9" stroke="#666" stroke-width="0.6"/>
<text x="675.8" y="281.1" style='font-family:"Liberation Sans",sans-serif;font-size:5px' fill="#222" text-anchor="middle">150</text>
<line x1="394.8" y1="267.9" x2="400.8" y2="267.9" stroke="#666" stroke-width="0.6"/>
<text x="393.3" y="269.7" style='font-family:"Liberation Sans",sans-serif;font-size:5px' fill="#222" text-anchor="end">50</text>
<line x1="394.8" y1="217.3" x2="400.8" y2="217.3" stroke="#666" stroke-width="0.6"/>
<text x="393.3" y="219.1" style='font-family:"Liberation Sans",sans-serif;font-size:5px' fill="#222" text-anchor="end">70</text>
<line x1="394.8" y1="166.7" x2="400.8" y2="166.7" stroke="#666" stroke-width="0.6"/>
<text x="393.3" y="168.5" style='font-family:"Liberation Sans",sans-serif;font-size:5px' fill="#222" text-anchor="end">90</text>
<line x1="394.8" y1="116.1" x2="400.8" y2="116.1" stroke="#666" stroke-width="0.6"/>
<text x="393.3" y="117.9" style='font-family:"Liberation Sans",sans-serif;font-size:5px' fill="#222" text-anchor="end">110</text>
<line x1="394.8" y1="65.5" x2="400.8" y2="65.5" stroke="#666" stroke-width="0.6"/>
<text x="393.3" y="67.3" style='font-family:"Liberation Sans",sans-serif;font-size:5px' fill="#222" text-anchor="end">130</text>
<line x1="394.8" y1="14.9" x2="400.8" y2="14.9" stroke="#666" stroke-width="0.6"/>
<text x="393.3" y="16.7" style='font-family:"Liberation Sans",sans-serif;font-size:5px' fill="#222" text-anchor="end">150</text>
<rect x="399" y="365.5" width="278.5" height="3.6" fill="url(#g86)"/>
<rect x="399" y="368.5" width="278.5" height="3.6" fill="url(#g87)"/>
<rect x="399" y="371.5" width="278.5" height="3.6" fill="url(#g88)"/>
<rect x="399" y="374.5" width="278.5" height="3.6" fill="url(#g89)"/>
<rect x="399" y="377.5" width="278.5" height="3.6" fill="url(#g90)"/>
<rect x="399" y="380.5" width="278.5" height="3.6" fill="url(#g91)"/>
<rect x="399" y="383.5" width="278.5" height="3.6" fill="url(#g92)"/>
<rect x="399" y="386.5" width="278.5" height="3.6" fill="url(#g93)"/>
<rect x="399" y="389.5" width="278.5" height="3.6" fill="url(#g94)"/>
<rect x="399" y="392.5" width="278.5" height="3.6" fill="url(#g95)"/>
<rect x="399" y="395.5" width="278.5" height="3.6" fill="url(#g96)"/>
<rect x="399" y="398.5" width="278.5" height="3.6" fill="url(#g97)"/>
<rect x="399" y="401.5" width="278.5" height="3.6" fill="url(#g98)"/>
<rect x="399" y="404.5" width="278.5" height="3.6" fill="url(#g99)"/>
<rect x="399" y="407.5" width="278.5" height="3.6" fill="url(#g100)"/>
<rect x="399" y="410.5" width="278.5" height="3.6" fill="url(#g101)"/>
<rect x="399" y="413.5" width="278.5" height="3.6" fill="url(#g102)"/>
<rect x="399" y="416.5" width="278.5" height="3.6" fill="url(#g103)"/>
<rect x="399" y="419.5" width="278.5" height="3.6" fill="url(#g104)"/>
<rect x="399" y="422.5" width="278.5" height="3.6" fill="url(#g105)"/>
<rect x="399" y="425.5" width="278.5" height="3.6" fill="url(#g106)"/>
<rect x="399" y="428.5" width="278.5" height="3.6" fill="url(#g107)"/>
<rect x="399" y="431.5" width="278.5" height="3.6" fill="url(#g108)"/>
<rect x="399" y="434.5" width="278.5" height="3.6" fill="url(#g109)"/>
<rect x="399" y="437.5" width="278.5" height="3.6" fill="url(#g110)"/>
<rect x="399" y="440.5" width="278.5" height="3.6" fill="url(#g111)"/>
<rect x="399" y="443.5" width="278.5" height="3.6" fill="url(#g112)"/>
<rect x="399" y="446.5" width="278.5" height="3.6" fill="url(#g113)"/>
<rect x="399" y="449.5" width="278.5" height="3.6" fill="url(#g114)"/>
<rect x="399" y="452.5" width="278.5" height="3.6" fill="url(#g115)"/>
<rect x="399" y="455.5" width="278.5" height="3.6" fill="url(#g116)"/>
<rect x="399" y="458.5" width="278.5" height="3.6" fill="url(#g117)"/>
<rect x="399" y="461.5" width="278.5" height="3.6" fill="url(#g118)"/>
<rect x="399" y="464.5" width="278.5" height="3.6" fill="url(#g119)"/>
<rect x="399" y="467.5" width="278.5" height="3.6" fill="url(#g120)"/>
<rect x="399" y="470.5" width="278.5" height="3.6" fill="url(#g121)"/>
<rect x="399" y="473.5" width="278.5" height="3.6" fill="url(#g122)"/>
<rect x="399" y="476.5" width="278.5" height="3.6" fill="url(#g123)"/>
<rect x="399" y="479.5" width="278.5" height="3.6" fill="url(#g124)"/>
<rect x="399" y="482.5" width="278.5" height="3.6" fill="url(#g125)"/>
<rect x="399" y="485.5" width="278.5" height="3.6" fill="url(#g126)"/>
<rect x="399" y="488.5" width="278.5" height="3.6" fill="url(#g127)"/>
<rect x="399" y="491.5" width="278.5" height="3.6" fill="url(#g128)"/>
<rect x="399" y="494.5" width="278.5" height="3.6" fill="url(#g129)"/>
<rect x="399" y="497.5" width="278.5" height="3.6" fill="url(#g130)"/>
<rect x="399" y="500.5" width="278.5" height="3.6" fill="url(#g131)"/>
<rect x="399" y="503.5" width="278.5" height="3.6" fill="url(#g132)"/>
<rect x="399" y="506.5" width="278.5" height="3.6" fill="url(#g133)"/>
<rect x="399" y="509.5" width="278.5" height="3.6" fill="url(#g134)"/>
<rect x="399" y="512.5" width="278.5" height="3.6" fill="url(#g135)"/>
<rect x="399" y="515.5" width="278.5" height="3.6" fill="url(#g136)"/>
<rect x="399" y="518.5" width="278.5" height="3.6" fill="url(#g137)"/>
<rect x="399" y="521.5" width="278.5" height="3.6" fill="url(#g138)"/>
<rect x="399" y="524.5" width="278.5" height="3.6" fill="url(#g139)"/>
<rect x="399" y="527.5" width="278.5" height="3.6" fill="url(#g140)"/>
<rect x="399" y="530.5" width="278.5" height="3.6" fill="url(#g141)"/>
<rect x="399" y="533.5" width="278.5" height="3.6" fill="url(#g142)"/>
<rect x="399" y="536.5" width="278.5" height="3.6" fill="url(#g143)"/>
<rect x="399" y="539.5" width="278.5" height="3.6" fill="url(#g144)"/>
<rect x="399" y="542.5" width="278.5" height="3.6" fill="url(#g145)"/>
<rect x="399" y="545.5" width="278.5" height="3.6" fill="url(#g146)"/>
<rect x="399" y="548.5" width="278.5" height="3.6" fill="url(#g147)"/>
<rect x="399" y="551.5" width="278.5" height="3.6" fill="url(#g148)"/>
<rect x="399" y="554.5" width="278.5" height="3.6" fill="url(#g149)"/>
<rect x="399" y="557.5" width="278.5" height="3.6" fill="url(#g150)"/>
<rect x="399" y="560.5" width="278.5" height="3.6" fill="url(#g151)"/>
<rect x="399" y="563.5" width="278.5" height="3.6" fill="url(#g152)"/>
<rect x="399" y="566.5" width="278.5" height="3.6" fill="url(#g153)"/>
<rect x="399" y="569.5" width="278.5" height="3.6" fill="url(#g154)"/>
<rect x="399" y="572.5" width="278.5" height="3.6" fill="url(#g155)"/>
<rect x="399" y="575.5" width="278.5" height="3.6" fill="url(#g156)"/>
<rect x="399" y="578.5" width="278.5" height="3.6" fill="url(#g157)"/>
<rect x="399" y="581.5" width="278.5" height="3.6" fill="url(#g158)"/>
<rect x="399" y="584.5" width="278.5" height="3.6" fill="url(#g159)"/>
<rect x="399" y="587.5" width="278.5" height="3.6" fill="url(#g160)"/>
<rect x="399" y="590.5" width="278.5" height="3.6" fill="url(#g161)"/>
<rect x="399" y="593.5" width="278.5" height="3.6" fill="url(#g162)"/>
<rect x="399" y="596.5" width="278.5" height="3.6" fill="url(#g163)"/>
<rect x="399" y="599.5" width="278.5" height="3" fill="url(#g164)"/>
<path d="M424.8 365.5 L424.5 367.9 L424.2 370.3 L423.9 371.8 L423.6 374.2 L423.2 376.5 L422.9 378.2 L422.5 380.6 L422.2 382.1 L421.7 384.5 L421.4 386.3 L420.9 388.5 L420.4 390.5 L420 392.4 L419.5 394.4 L419 396.4 L418.6 398 L417.9 400.4 L417.5 402 L416.8 404.3 L416.3 405.9 L415.8 407.7 L415.1 409.9 L414.6 411.5 L413.9 413.4 L413.2 415.4 L412.7 417 L412 418.7 L411.2 421 L410.6 422.6 L410 424.2 L409.2 426.1 L408.4 428.1 L407.8 429.7 L407.1 431.3 L406.4 432.9 L405.5 434.9 L404.6 436.8 L403.9 438.4 L403.2 440 L402.4 441.6 L401.7 443.2 L400.9 444.8 L399.9 446.7 L399 448.5 L399 448.5" fill="none" stroke="#1a1a1a" stroke-width="0.6" stroke-opacity="0.85"/>
<path d="M496.2 365.5 L496.1 367.9 L496 370.3 L495.9 372.4 L495.7 374.2 L495.6 376.6 L495.3 379 L495.1 381.4 L494.9 382.9 L494.6 385.3 L494.3 387.7 L494 389.6 L493.7 391.7 L493.3 394 L493 395.6 L492.5 398 L492.1 399.9 L491.7 402 L491.2 404.2 L490.8 405.9 L490.3 408 L489.8 409.9 L489.3 411.6 L488.7 413.9 L488.3 415.4 L487.5 417.8 L487 419.4 L486.5 421 L485.7 423.4 L485.2 424.9 L484.6 426.5 L483.8 428.9 L483.2 430.5 L482.6 432.1 L481.9 433.8 L481 436 L480.3 437.6 L479.6 439.2 L478.9 440.8 L478.2 442.5 L477.2 444.5 L476.4 446.3 L475.6 447.9 L474.8 449.5 L474 451.1 L473.2 452.7 L472.4 454.3 L471.6 455.9 L470.7 457.5 L469.8 459.2 L468.9 460.8 L467.9 462.5 L467 464.1 L466.1 465.7 L465.1 467.2 L464.2 468.7 L463.3 470.3 L462.3 471.7 L461.3 473.3 L460.3 474.9 L459.3 476.5 L458.2 478.1 L457.2 479.6 L456.1 481.2 L455 482.8 L454 484.3 L453 485.6 L452.1 486.9 L451 488.4 L449.8 489.9 L448.7 491.5 L447.5 493.1 L446.5 494.4 L445.6 495.6 L444.4 497.1 L443.1 498.7 L441.9 500.2 L440.9 501.4 L440 502.6 L438.6 504.2 L437.3 505.8 L436.3 507.1 L435.3 508.2 L434 509.8 L432.6 511.3 L431.6 512.5 L430.5 513.7 L429.1 515.3 L427.9 516.7 L426.9 517.7 L425.5 519.3 L424.1 520.7 L423.2 521.8 L421.8 523.2 L420.4 524.7 L419.5 525.7 L418.1 527.2 L416.7 528.6 L415.8 529.6 L414.2 531.2 L413 532.4 L411.8 533.5 L410.3 535.1 L409.2 536.1 L407.8 537.5 L406.5 538.9 L405.4 539.9 L403.8 541.5 L402.7 542.5 L401.3 543.8 L399.9 545.1 L399 546" fill="none" stroke="#1a1a1a" stroke-width="0.6" stroke-opacity="0.85"/>
<path d="M582.8 365.5 L583.1 367.9 L583.3 370.3 L583.5 371.8 L583.7 374.2 L583.8 376.6 L584 379 L584.1 381.4 L584.1 383.7 L584.2 386.1 L584.2 388.5 L584.1 390.9 L584.1 393.2 L584 395.6 L583.8 398 L583.6 400.4 L583.4 402.6 L583.2 404.3 L583 406.7 L582.6 409.1 L582.4 410.7 L582 413.1 L581.6 415.4 L581.3 417 L580.8 419.4 L580.4 421 L579.9 423.4 L579.5 424.9 L578.8 427.3 L578.4 428.9 L577.8 430.8 L577.2 432.9 L576.7 434.5 L576 436.5 L575.3 438.4 L574.7 440 L574.1 441.6 L573.2 443.9 L572.5 445.6 L571.8 447.1 L571.1 448.7 L570.4 450.4 L569.5 452.4 L568.6 454.3 L567.8 455.9 L567 457.4 L566.2 459 L565.3 460.6 L564.4 462.2 L563.6 463.8 L562.7 465.4 L561.7 467 L560.8 468.5 L559.8 470.1 L558.8 471.7 L557.8 473.3 L556.8 474.9 L555.7 476.5 L554.7 478.1 L553.6 479.6 L552.7 480.9 L551.8 482.2 L550.8 483.6 L549.6 485.2 L548.4 486.8 L547.2 488.4 L546.2 489.7 L545.2 490.9 L544.1 492.3 L542.8 493.9 L541.5 495.5 L540.6 496.6 L539.6 497.9 L538.2 499.5 L536.9 501 L535.9 502.1 L534.8 503.4 L533.3 505 L532.2 506.3 L531.2 507.4 L529.7 509 L528.5 510.3 L527.5 511.3 L526 512.9 L524.7 514.2 L523.7 515.3 L522.1 516.9 L521 518 L519.7 519.3 L518.2 520.8 L517.3 521.7 L515.7 523.2 L514.5 524.4 L513.2 525.6 L511.7 527 L510.7 528 L509 529.6 L508 530.5 L506.4 532 L505.2 533 L503.7 534.3 L502.4 535.5 L501.1 536.7 L499.6 538 L498.3 539.1 L496.8 540.4 L495.6 541.5 L494 542.8 L492.8 543.8 L491.2 545.2 L490 546.2 L488.4 547.5 L487.1 548.6 L485.6 549.8 L484.2 551 L482.8 552.1 L481.3 553.4 L480 554.3 L478.3 555.7 L477.2 556.6 L475.4 558 L474.3 558.9 L472.6 560.2 L471.2 561.3 L469.8 562.4 L468.1 563.7 L467 564.5 L465.1 565.9 L463.9 566.8 L462.3 568 L460.8 569.2 L459.5 570.1 L457.7 571.5 L456.5 572.4 L454.9 573.6 L453.3 574.8 L452.1 575.6 L450.2 577 L448.9 577.9 L447.4 579 L445.6 580.3 L444.5 581.1 L442.8 582.3 L441.1 583.5 L440 584.3 L438.1 585.6 L436.6 586.6 L435.3 587.5 L433.5 588.8 L432 589.8 L430.7 590.8 L428.8 592 L427.4 593 L426 593.9 L424.1 595.2 L422.7 596.2 L421.4 597.1 L419.5 598.4 L418 599.3 L416.7 600.2 L414.8 601.5 L413.3 602.5 L413.3 602.5" fill="none" stroke="#1a1a1a" stroke-width="0.6" stroke-opacity="0.85"/>
<path d="M677.5 509.5 L676.1 510.6 L674.7 511.7 L673.1 512.9 L671.9 513.8 L670 515.3 L668.9 516.1 L667.3 517.3 L665.7 518.5 L664.5 519.4 L662.6 520.8 L661.3 521.7 L659.8 522.7 L658 524 L656.9 524.8 L655.1 526 L653.4 527.2 L652.2 528 L650.5 529.2 L648.7 530.4 L647.5 531.2 L645.8 532.3 L644 533.5 L642.7 534.3 L641.2 535.3 L639.3 536.5 L637.8 537.5 L636.5 538.3 L634.7 539.5 L632.8 540.7 L631.6 541.5 L630 542.4 L628.1 543.6 L626.5 544.6 L625.2 545.4 L623.5 546.5 L621.6 547.6 L620 548.6 L618.7 549.4 L617 550.4 L615.1 551.5 L613.4 552.6 L612 553.4 L610.4 554.3 L608.6 555.4 L606.7 556.5 L605.3 557.3 L603.9 558.1 L602.1 559.2 L600.2 560.3 L598.5 561.3 L597.1 562.1 L595.5 563 L593.7 564 L591.8 565.1 L590.2 566 L588.8 566.8 L587.2 567.7 L585.3 568.8 L583.4 569.8 L581.7 570.8 L580.3 571.6 L578.8 572.4 L576.9 573.5 L575 574.5 L573.2 575.5 L571.7 576.3 L570.3 577.1 L568.5 578.1 L566.7 579.1 L564.8 580.1 L563 581.1 L561.6 581.9 L560.1 582.7 L558.3 583.7 L556.4 584.7 L554.6 585.7 L552.8 586.6 L551.3 587.4 L549.8 588.2 L548 589.2 L546.2 590.2 L544.3 591.2 L542.4 592.2 L540.9 593 L539.4 593.8 L537.8 594.7 L535.9 595.6 L534.1 596.6 L532.2 597.6 L530.5 598.5 L528.9 599.3 L527.4 600.1 L525.7 601 L523.8 602 L522.9 602.5" fill="none" stroke="#1a1a1a" stroke-width="0.6" stroke-opacity="0.85"/>
<rect x="411.8" y="406.7" width="6.5" height="3.6" fill="#fff" stroke="#777" stroke-width="0.4"/>
<rect x="413.2" y="408" width="3.5" height="1" fill="#9a9a9a"/>
<rect x="459.8" y="465.2" width="6.5" height="3.6" fill="#fff" stroke="#777" stroke-width="0.4"/>
<rect x="461.2" y="466.5" width="3.5" height="1" fill="#9a9a9a"/>
<rect x="523.8" y="506.2" width="6.5" height="3.6" fill="#fff" stroke="#777" stroke-width="0.4"/>
<rect x="525.2" y="507.5" width="3.5" height="1" fill="#9a9a9a"/>
<rect x="600.8" y="555.2" width="6.5" height="3.6" fill="#fff" stroke="#777" stroke-width="0.4"/>
<rect x="602.2" y="556.5" width="3.5" height="1" fill="#9a9a9a"/>
<rect x="399" y="365.5" width="278.5" height="237" fill="none" stroke="#bbb" stroke-width="0.6"/>
<circle cx="399" cy="365.5" r="2.6" fill="#b00000" stroke="#700" stroke-width="0.4"/>
<circle cx="677.5" cy="365.5" r="2.6" fill="#b00000" stroke="#700" stroke-width="0.4"/>
<circle cx="399" cy="602.5" r="2.6" fill="#b00000" stroke="#700" stroke-width="0.4"/>
<circle cx="677.5" cy="602.5" r="2.6" fill="#b00000" stroke="#700" stroke-width="0.4"/>
<circle cx="537" cy="483" r="2.6" fill="#b00000" stroke="#700" stroke-width="0.4"/>
<line x1="399" y1="602.5" x2="399" y2="607.5" stroke="#666" stroke-width="0.6"/>
<text x="399" y="615.7" style='font-family:"Liberation Sans",sans-serif;font-size:5px' fill="#222" text-anchor="middle">50</text>
<line x1="454.7" y1="602.5" x2="454.7" y2="607.5" stroke="#666" stroke-width="0.6"/>
<text x="454.7" y="615.7" style='font-family:"Liberation Sans",sans-serif;font-size:5px' fill="#222" text-anchor="middle">70</text>
<line x1="510.4" y1="602.5" x2="510.4" y2="607.5" stroke="#666" stroke-width="0.6"/>
<text x="510.4" y="615.7" style='font-family:"Liberation Sans",sans-serif;font-size:5px' fill="#222" text-anchor="middle">90</text>
<line x1="566.1" y1="602.5" x2="566.1" y2="607.5" stroke="#666" stroke-width="0.6"/>
<text x="566.1" y="615.7" style='font-family:"Liberation Sans",sans-serif;font-size:5px' fill="#222" text-anchor="middle">110</text>
<line x1="621.8" y1="602.5" x2="621.8" y2="607.5" stroke="#666" stroke-width="0.6"/>
<text x="621.8" y="615.7" style='font-family:"Liberation Sans",sans-serif;font-size:5px' fill="#222" text-anchor="middle">130</text>
<line x1="677.5" y1="602.5" x2="677.5" y2="607.5" stroke="#666" stroke-width="0.6"/>
<text x="677.5" y="615.7" style='font-family:"Liberation Sans",sans-serif;font-size:5px' fill="#222" text-anchor="middle">150</text>
<line x1="393" y1="602.5" x2="399" y2="602.5" stroke="#666" stroke-width="0.6"/>
<text x="391.5" y="604.3" style='font-family:"Liberation Sans",sans-serif;font-size:5px' fill="#222" text-anchor="end">50</text>
<line x1="393" y1="555.1" x2="399" y2="555.1" stroke="#666" stroke-width="0.6"/>
<text x="391.5" y="556.9" style='font-family:"Liberation Sans",sans-serif;font-size:5px' fill="#222" text-anchor="end">70</text>
<line x1="393" y1="507.7" x2="399" y2="507.7" stroke="#666" stroke-width="0.6"/>
<text x="391.5" y="509.5" style='font-family:"Liberation Sans",sans-serif;font-size:5px' fill="#222" text-anchor="end">90</text>
<line x1="393" y1="460.3" x2="399" y2="460.3" stroke="#666" stroke-width="0.6"/>
<text x="391.5" y="462.1" style='font-family:"Liberation Sans",sans-serif;font-size:5px' fill="#222" text-anchor="end">110</text>
<line x1="393" y1="412.9" x2="399" y2="412.9" stroke="#666" stroke-width="0.6"/>
<text x="391.5" y="414.7" style='font-family:"Liberation Sans",sans-serif;font-size:5px' fill="#222" text-anchor="end">130</text>
<line x1="393" y1="365.5" x2="399" y2="365.5" stroke="#666" stroke-width="0.6"/>
<text x="391.5" y="367.3" style='font-family:"Liberation Sans",sans-serif;font-size:5px' fill="#222" text-anchor="end">150</text>
<rect x="394.6" y="698.7" width="282.8" height="3.6" fill="url(#g165)"/>
<rect x="394.6" y="701.7" width="282.8" height="3.6" fill="url(#g166)"/>
<rect x="394.6" y="704.7" width="282.8" height="3.6" fill="url(#g167)"/>
<rect x="394.6" y="707.7" width="282.8" height="3.6" fill="url(#g168)"/>
<rect x="394.6" y="710.7" width="282.8" height="3.6" fill="url(#g169)"/>
<rect x="394.6" y="713.7" width="282.8" height="3.6" fill="url(#g170)"/>
<rect x="394.6" y="716.7" width="282.8" height="3.6" fill="url(#g171)"/>
<rect x="394.6" y="719.7" width="282.8" height="3.6" fill="url(#g172)"/>
<rect x="394.6" y="722.7" width="282.8" height="3.6" fill="url(#g173)"/>
<rect x="394.6" y="725.7" width="282.8" height="3.6" fill="url(#g174)"/>
<rect x="394.6" y="728.7" width="282.8" height="3.6" fill="url(#g175)"/>
<rect x="394.6" y="731.7" width="282.8" height="3.6" fill="url(#g176)"/>
<rect x="394.6" y="734.7" width="282.8" height="3.6" fill="url(#g177)"/>
<rect x="394.6" y="737.7" width="282.8" height="3.6" fill="url(#g178)"/>
<rect x="394.6" y="740.7" width="282.8" height="3.6" fill="url(#g179)"/>
<rect x="394.6" y="743.7" width="282.8" height="3.6" fill="url(#g180)"/>
<rect x="394.6" y="746.7" width="282.8" height="3.6" fill="url(#g181)"/>
<rect x="394.6" y="749.7" width="282.8" height="3.6" fill="url(#g182)"/>
<rect x="394.6" y="752.7" width="282.8" height="3.6" fill="url(#g183)"/>
<rect x="394.6" y="755.7" width="282.8" height="3.6" fill="url(#g184)"/>
<rect x="394.6" y="758.7" width="282.8" height="3.6" fill="url(#g185)"/>
<rect x="394.6" y="761.7" width="282.8" height="3.6" fill="url(#g186)"/>
<rect x="394.6" y="764.7" width="282.8" height="3.6" fill="url(#g187)"/>
<rect x="394.6" y="767.7" width="282.8" height="3.6" fill="url(#g188)"/>
<rect x="394.6" y="770.7" width="282.8" height="3.6" fill="url(#g189)"/>
<rect x="394.6" y="773.7" width="282.8" height="3.6" fill="url(#g190)"/>
<rect x="394.6" y="776.7" width="282.8" height="3.6" fill="url(#g191)"/>
<rect x="394.6" y="779.7" width="282.8" height="3.6" fill="url(#g192)"/>
<rect x="394.6" y="782.7" width="282.8" height="3.6" fill="url(#g193)"/>
<rect x="394.6" y="785.7" width="282.8" height="3.6" fill="url(#g194)"/>
<rect x="394.6" y="788.7" width="282.8" height="3.6" fill="url(#g195)"/>
<rect x="394.6" y="791.7" width="282.8" height="3.6" fill="url(#g196)"/>
<rect x="394.6" y="794.7" width="282.8" height="3.6" fill="url(#g197)"/>
<rect x="394.6" y="797.7" width="282.8" height="3.6" fill="url(#g198)"/>
<rect x="394.6" y="800.7" width="282.8" height="3.6" fill="url(#g199)"/>
<rect x="394.6" y="803.7" width="282.8" height="3.6" fill="url(#g200)"/>
<rect x="394.6" y="806.7" width="282.8" height="3.6" fill="url(#g201)"/>
<rect x="394.6" y="809.7" width="282.8" height="3.6" fill="url(#g202)"/>
<rect x="394.6" y="812.7" width="282.8" height="3.6" fill="url(#g203)"/>
<rect x="394.6" y="815.7" width="282.8" height="3.6" fill="url(#g204)"/>
<rect x="394.6" y="818.7" width="282.8" height="3.6" fill="url(#g205)"/>
<rect x="394.6" y="821.7" width="282.8" height="3.6" fill="url(#g206)"/>
<rect x="394.6" y="824.7" width="282.8" height="3.6" fill="url(#g207)"/>
<rect x="394.6" y="827.7" width="282.8" height="3.6" fill="url(#g208)"/>
<rect x="394.6" y="830.7" width="282.8" height="3.6" fill="url(#g209)"/>
<rect x="394.6" y="833.7" width="282.8" height="3.6" fill="url(#g210)"/>
<rect x="394.6" y="836.7" width="282.8" height="3.6" fill="url(#g211)"/>
<rect x="394.6" y="839.7" width="282.8" height="3.6" fill="url(#g212)"/>
<rect x="394.6" y="842.7" width="282.8" height="3.6" fill="url(#g213)"/>
<rect x="394.6" y="845.7" width="282.8" height="3.6" fill="url(#g214)"/>
<rect x="394.6" y="848.7" width="282.8" height="3.6" fill="url(#g215)"/>
<rect x="394.6" y="851.7" width="282.8" height="3.6" fill="url(#g216)"/>
<rect x="394.6" y="854.7" width="282.8" height="3.6" fill="url(#g217)"/>
<rect x="394.6" y="857.7" width="282.8" height="3.6" fill="url(#g218)"/>
<rect x="394.6" y="860.7" width="282.8" height="3.6" fill="url(#g219)"/>
<rect x="394.6" y="863.7" width="282.8" height="3.6" fill="url(#g220)"/>
<rect x="394.6" y="866.7" width="282.8" height="3.6" fill="url(#g221)"/>
<rect x="394.6" y="869.7" width="282.8" height="3.6" fill="url(#g222)"/>
<rect x="394.6" y="872.7" width="282.8" height="3.6" fill="url(#g223)"/>
<rect x="394.6" y="875.7" width="282.8" height="3.6" fill="url(#g224)"/>
<rect x="394.6" y="878.7" width="282.8" height="3.6" fill="url(#g225)"/>
<rect x="394.6" y="881.7" width="282.8" height="3.6" fill="url(#g226)"/>
<rect x="394.6" y="884.7" width="282.8" height="3.6" fill="url(#g227)"/>
<rect x="394.6" y="887.7" width="282.8" height="3.6" fill="url(#g228)"/>
<rect x="394.6" y="890.7" width="282.8" height="3.6" fill="url(#g229)"/>
<rect x="394.6" y="893.7" width="282.8" height="3.6" fill="url(#g230)"/>
<rect x="394.6" y="896.7" width="282.8" height="3.6" fill="url(#g231)"/>
<rect x="394.6" y="899.7" width="282.8" height="3.6" fill="url(#g232)"/>
<rect x="394.6" y="902.7" width="282.8" height="3.6" fill="url(#g233)"/>
<rect x="394.6" y="905.7" width="282.8" height="3.6" fill="url(#g234)"/>
<rect x="394.6" y="908.7" width="282.8" height="3.6" fill="url(#g235)"/>
<rect x="394.6" y="911.7" width="282.8" height="3.6" fill="url(#g236)"/>
<rect x="394.6" y="914.7" width="282.8" height="3.6" fill="url(#g237)"/>
<rect x="394.6" y="917.7" width="282.8" height="3.6" fill="url(#g238)"/>
<rect x="394.6" y="920.7" width="282.8" height="3.6" fill="url(#g239)"/>
<rect x="394.6" y="923.7" width="282.8" height="3.6" fill="url(#g240)"/>
<rect x="394.6" y="926.7" width="282.8" height="3.6" fill="url(#g241)"/>
<rect x="394.6" y="929.7" width="282.8" height="3.6" fill="url(#g242)"/>
<rect x="394.6" y="932.7" width="282.8" height="3.6" fill="url(#g243)"/>
<rect x="394.6" y="935.7" width="282.8" height="3.6" fill="url(#g244)"/>
<rect x="394.6" y="938.7" width="282.8" height="3.6" fill="url(#g245)"/>
<rect x="394.6" y="941.7" width="282.8" height="3.6" fill="url(#g246)"/>
<rect x="394.6" y="944.7" width="282.8" height="3.6" fill="url(#g247)"/>
<rect x="394.6" y="947.7" width="282.8" height="3.6" fill="url(#g248)"/>
<rect x="394.6" y="950.7" width="282.8" height="3.6" fill="url(#g249)"/>
<rect x="394.6" y="953.7" width="282.8" height="3.6" fill="url(#g250)"/>
<rect x="394.6" y="956.7" width="282.8" height="3.6" fill="url(#g251)"/>
<rect x="394.6" y="959.7" width="282.8" height="3.6" fill="url(#g252)"/>
<rect x="394.6" y="962.7" width="282.8" height="1.1" fill="url(#g253)"/>
<path d="M519.5 963.8 L521.3 962.4 L523 961.1 L524.2 960.3 L526.1 958.9 L527.8 957.6 L529 956.7 L530.8 955.4 L532.7 954.1 L534 953.2 L535.5 952 L537.4 950.7 L539 949.6 L540.3 948.7 L542.1 947.5 L544 946.2 L545.5 945.2 L546.9 944.3 L548.8 943 L550.7 941.8 L552.3 940.7 L553.7 939.9 L555.4 938.8 L557.3 937.6 L559.2 936.5 L560.9 935.4 L562.3 934.5 L563.9 933.6 L565.8 932.5 L567.7 931.4 L569.6 930.3 L571.5 929.2 L573.1 928.3 L574.7 927.4 L576.3 926.6 L578.1 925.6 L580 924.6 L581.9 923.6 L583.8 922.7 L585.7 921.7 L587.5 920.8 L589.4 919.9 L591.3 919 L593.2 918.1 L595.1 917.2 L597 916.3 L598.9 915.5 L600.8 914.7 L602.7 913.9 L604.6 913.1 L606.5 912.3 L608.6 911.5 L611 910.6 L613.1 909.8 L615 909.1 L616.9 908.5 L618.8 907.8 L621 907.1 L623.5 906.2 L625.4 905.7 L627.3 905.1 L629.6 904.4 L632 903.7 L633.9 903.2 L636.2 902.6 L638.6 902 L640.5 901.6 L643.4 900.9 L645.2 900.5 L648.1 900 L650 899.6 L652.8 899.1 L654.7 898.8 L657.5 898.3 L659.4 898.1 L662.3 897.7 L665.1 897.4 L667 897.2 L669.8 896.9 L672.7 896.6 L675.5 896.4 L677.4 896.3 L677.4 896.3" fill="none" stroke="#1a1a1a" stroke-width="0.6" stroke-opacity="0.85"/>
<path d="M421.2 963.8 L422.6 962 L423.9 960.3 L424.9 959 L426 957.6 L427.3 955.8 L428.6 954.1 L429.6 952.8 L430.7 951.4 L432 949.6 L433.4 947.9 L434.3 946.6 L435.4 945.2 L436.8 943.4 L438.1 941.6 L439.1 940.4 L440.1 939 L441.4 937.2 L442.8 935.4 L443.8 934.1 L444.8 932.8 L446.1 931 L447.5 929.2 L448.5 927.8 L449.5 926.6 L450.8 924.8 L452.1 923 L453.2 921.5 L454.2 920.3 L455.4 918.6 L456.8 916.8 L458 915.2 L458.9 913.9 L460.1 912.4 L461.4 910.6 L462.7 908.8 L463.6 907.6 L464.7 906.2 L466 904.4 L467.3 902.6 L468.4 901.2 L469.3 899.9 L470.6 898.2 L471.9 896.4 L473.1 894.7 L474 893.4 L475.1 892 L476.4 890.2 L477.7 888.4 L478.8 887 L479.7 885.7 L480.9 884 L482.2 882.2 L483.5 880.5 L484.5 879.1 L485.4 877.8 L486.7 876 L488 874.3 L489.2 872.5 L490.1 871.2 L491.1 869.8 L492.4 868 L493.6 866.3 L494.9 864.6 L495.8 863.2 L496.8 861.8 L498 860.1 L499.3 858.3 L500.5 856.5 L501.5 855.1 L502.4 853.7 L503.6 852.1 L504.8 850.3 L506 848.5 L507.2 846.9 L508.1 845.5 L509 844.1 L510.2 842.3 L511.4 840.6 L512.6 838.8 L513.8 837.1 L514.7 835.6 L515.7 834.2 L516.7 832.6 L517.9 830.8 L519.1 829 L520.2 827.3 L521.3 825.5 L522.3 824 L523.2 822.6 L524.2 821.1 L525.3 819.3 L526.4 817.5 L527.5 815.7 L528.6 814 L529.7 812.2 L530.8 810.4 L531.7 808.8 L532.7 807.2 L533.6 805.6 L534.6 804 L535.5 802.4 L536.5 800.7 L537.5 798.9 L538.5 797.1 L539.5 795.3 L540.4 793.6 L541.4 791.8 L542.3 790 L543.3 788.2 L544.2 786.5 L545 784.7 L545.9 782.9 L546.9 781 L547.8 778.9 L548.8 776.9 L549.6 774.9 L550.4 773.2 L551.1 771.4 L551.9 769.6 L552.6 767.9 L553.5 765.4 L554.2 763.4 L554.8 761.7 L555.4 759.9 L556.2 757.2 L556.7 755.4 L557.3 753.4 L557.9 751 L558.2 749.2 L558.8 746.6 L559.2 744.1 L559.4 742.1 L559.7 739.5 L559.9 736.8 L560 734.2 L560 731.5 L559.9 728.8 L559.7 726.2 L559.3 723.5 L559 721.8 L558.5 719.1 L558.1 717.3 L557.4 714.7 L556.8 712.9 L556.2 711.1 L555.4 708.8 L554.5 706.7 L553.7 704.9 L552.9 703.1 L552 701.4 L551.1 699.6 L550.6 698.7" fill="none" stroke="#1a1a1a" stroke-width="0.6" stroke-opacity="0.85"/>
<path d="M394.6 863.9 L395.3 861.8 L395.9 860.1 L396.5 858.3 L397.4 855.6 L397.9 853.9 L398.5 852.1 L399.3 849.4 L399.8 847.7 L400.4 845.9 L401.1 843.2 L401.6 841.4 L402.2 839.4 L402.8 837 L403.3 835.2 L403.9 832.6 L404.4 830.8 L405 828.1 L405.4 826.4 L405.9 823.8 L406.3 821.9 L406.9 819.3 L407.2 817.5 L407.7 814.8 L408 813.1 L408.5 810.4 L408.8 808.4 L409.1 806 L409.5 803.3 L409.7 801.5 L410.1 798.9 L410.4 796.2 L410.6 793.6 L410.8 791.8 L411 789.1 L411.2 786.5 L411.3 783.8 L411.4 781.2 L411.5 778.5 L411.5 775.8 L411.5 773.2 L411.5 770.5 L411.5 767.9 L411.4 765.2 L411.3 762.5 L411.1 759.9 L410.9 757.2 L410.7 754.7 L410.5 752.8 L410.2 750.1 L409.9 747.5 L409.6 745.7 L409.2 743 L408.8 740.4 L408.5 738.6 L408 735.9 L407.7 734.2 L407.1 731.5 L406.7 729.7 L406.1 727.1 L405.7 725.3 L405 722.7 L404.5 720.9 L404 719.1 L403.3 716.4 L402.7 714.7 L402.2 712.9 L401.3 710.2 L400.7 708.5 L400.1 706.7 L399.3 704.5 L398.5 702.2 L397.8 700.5 L397.1 698.7 L397.1 698.7" fill="none" stroke="#1a1a1a" stroke-width="0.6" stroke-opacity="0.85"/>
<rect x="407.6" y="778" width="6.5" height="3.6" fill="#fff" stroke="#777" stroke-width="0.4"/>
<rect x="409.1" y="779.3" width="3.5" height="1" fill="#9a9a9a"/>
<rect x="506.4" y="840.9" width="6.5" height="3.6" fill="#fff" stroke="#777" stroke-width="0.4"/>
<rect x="507.9" y="842.2" width="3.5" height="1" fill="#9a9a9a"/>
<rect x="586" y="917.1" width="6.5" height="3.6" fill="#fff" stroke="#777" stroke-width="0.4"/>
<rect x="587.5" y="918.4" width="3.5" height="1" fill="#9a9a9a"/>
<rect x="394.6" y="698.7" width="282.8" height="265.1" fill="none" stroke="#bbb" stroke-width="0.6"/>
<circle cx="394.6" cy="698.7" r="2.6" fill="#b00000" stroke="#700" stroke-width="0.4"/>
<circle cx="677.4" cy="698.7" r="2.6" fill="#b00000" stroke="#700" stroke-width="0.4"/>
<circle cx="394.6" cy="963.8" r="2.6" fill="#b00000" stroke="#700" stroke-width="0.4"/>
<circle cx="677.4" cy="963.8" r="2.6" fill="#b00000" stroke="#700" stroke-width="0.4"/>
<circle cx="535.7" cy="831.3" r="2.6" fill="#b00000" stroke="#700" stroke-width="0.4"/>
<line x1="394.6" y1="963.8" x2="394.6" y2="968.8" stroke="#666" stroke-width="0.6"/>
<text x="394.6" y="977" style='font-family:"Liberation Sans",sans-serif;font-size:5px' fill="#222" text-anchor="middle">50</text>
<line x1="451.2" y1="963.8" x2="451.2" y2="968.8" stroke="#666" stroke-width="0.6"/>
<text x="451.2" y="977" style='font-family:"Liberation Sans",sans-serif;font-size:5px' fill="#222" text-anchor="middle">70</text>
<line x1="507.7" y1="963.8" x2="507.7" y2="968.8" stroke="#666" stroke-width="0.6"/>
<text x="507.7" y="977" style='font-family:"Liberation Sans",sans-serif;font-size:5px' fill="#222" text-anchor="middle">90</text>
<line x1="564.3" y1="963.8" x2="564.3" y2="968.8" stroke="#666" stroke-width="0.6"/>
<text x="564.3" y="977" style='font-family:"Liberation Sans",sans-serif;font-size:5px' fill="#222" text-anchor="middle">110</text>
<line x1="620.8" y1="963.8" x2="620.8" y2="968.8" stroke="#666" stroke-width="0.6"/>
<text x="620.8" y="977" style='font-family:"Liberation Sans",sans-serif;font-size:5px' fill="#222" text-anchor="middle">130</text>
<line x1="677.4" y1="963.8" x2="677.4" y2="968.8" stroke="#666" stroke-width="0.6"/>
<text x="677.4" y="977" style='font-family:"Liberation Sans",sans-serif;font-size:5px' fill="#222" text-anchor="middle">150</text>
<line x1="388.6" y1="963.8" x2="394.6" y2="963.8" stroke="#666" stroke-width="0.6"/>
<text x="387.1" y="965.6" style='font-family:"Liberation Sans",sans-serif;font-size:5px' fill="#222" text-anchor="end">30</text>
<line x1="388.6" y1="897.5" x2="394.6" y2="897.5" stroke="#666" stroke-width="0.6"/>
<text x="387.1" y="899.3" style='font-family:"Liberation Sans",sans-serif;font-size:5px' fill="#222" text-anchor="end">60</text>
<line x1="388.6" y1="831.2" x2="394.6" y2="831.2" stroke="#666" stroke-width="0.6"/>
<text x="387.1" y="833" style='font-family:"Liberation Sans",sans-serif;font-size:5px' fill="#222" text-anchor="end">90</text>
<line x1="388.6" y1="765" x2="394.6" y2="765" stroke="#666" stroke-width="0.6"/>
<text x="387.1" y="766.8" style='font-family:"Liberation Sans",sans-serif;font-size:5px' fill="#222" text-anchor="end">120</text>
<line x1="388.6" y1="698.7" x2="394.6" y2="698.7" stroke="#666" stroke-width="0.6"/>
<text x="387.1" y="700.5" style='font-family:"Liberation Sans",sans-serif;font-size:5px' fill="#222" text-anchor="end">150</text>
<path d="M670.3 347 V352.5 H683" fill="none" stroke="#aaa" stroke-width="0.8"/>
<circle cx="682.9" cy="629.6" r="0.45" fill="#bbb"/>
<circle cx="682.9" cy="631.6" r="0.45" fill="#bbb"/>
<circle cx="682.9" cy="633.6" r="0.45" fill="#bbb"/>
<text x="532.3" y="143" style='font-family:"Liberation Sans",sans-serif;font-size:3.2px' fill="#355" text-anchor="middle">5</text>
<text x="531.5" y="484.7" style='font-family:"Liberation Sans",sans-serif;font-size:3.2px' fill="#355" text-anchor="middle">5</text>
<text x="530" y="832.7" style='font-family:"Liberation Sans",sans-serif;font-size:3.2px' fill="#355" text-anchor="middle">5</text>
<text x="166.5" y="331.7" style='font-family:"Liberation Serif",serif;font-weight:bold;font-size:18.5px' fill="#000" text-anchor="middle">A</text>
<text x="518.7" y="332.4" style='font-family:"Liberation Serif",serif;font-weight:bold;font-size:18.5px' fill="#000" text-anchor="middle">B</text>
<text x="166.6" y="668.8" style='font-family:"Liberation Serif",serif;font-weight:bold;font-size:18.5px' fill="#000" text-anchor="middle">C</text>
<text x="518.6" y="663.5" style='font-family:"Liberation Serif",serif;font-weight:bold;font-size:18.5px' fill="#000" text-anchor="middle">D</text>
<text x="166.3" y="1008.9" style='font-family:"Liberation Serif",serif;font-weight:bold;font-size:18.5px' fill="#000" text-anchor="middle">E</text>
<text x="518.9" y="1027.2" style='font-family:"Liberation Serif",serif;font-weight:bold;font-size:18.5px' fill="#000" text-anchor="middle">F</text>
<text x="18.4" y="165.6" style='font-family:"Liberation Serif",serif;font-weight:bold;font-size:15.7px' fill="#000" text-anchor="start" textLength="89.3" lengthAdjust="spacingAndGlyphs" transform="rotate(-90 18.4 165.6)">Removal (%)</text>
<text x="14.5" y="263.5" style='font-family:"Liberation Serif",serif;font-weight:bold;font-size:15px' fill="#000" text-anchor="start" textLength="120.8" lengthAdjust="spacingAndGlyphs">B: dye conc (mg/L)</text>
<text x="231.1" y="259.1" style='font-family:"Liberation Serif",serif;font-weight:bold;font-size:15.5px' fill="#000" text-anchor="start" textLength="99.3" lengthAdjust="spacingAndGlyphs">A: dose (mg/L)</text>
<text x="10.7" y="525.1" style='font-family:"Liberation Serif",serif;font-weight:bold;font-size:16px' fill="#000" text-anchor="start" textLength="92.8" lengthAdjust="spacingAndGlyphs" transform="rotate(-90 10.7 525.1)">Removal (%)</text>
<text x="12.3" y="623.7" style='font-family:"Liberation Serif",serif;font-weight:bold;font-size:16px' fill="#000" text-anchor="start" textLength="98.9" lengthAdjust="spacingAndGlyphs">C: Time (min)</text>
<text x="229.9" y="626.6" style='font-family:"Liberation Serif",serif;font-weight:bold;font-size:16px' fill="#000" text-anchor="start" textLength="103.2" lengthAdjust="spacingAndGlyphs">A: dose (mg/L)</text>
<text x="18.6" y="855.7" style='font-family:"Liberation Serif",serif;font-weight:bold;font-size:15.5px' fill="#000" text-anchor="start" textLength="86.7" lengthAdjust="spacingAndGlyphs" transform="rotate(-90 18.6 855.7)">Removal (%)</text>
<text x="27" y="960.7" style='font-family:"Liberation Serif",serif;font-weight:bold;font-size:15.2px' fill="#000" text-anchor="start" textLength="92.9" lengthAdjust="spacingAndGlyphs">C: Time (min)</text>
<text x="210.9" y="971.1" style='font-family:"Liberation Serif",serif;font-weight:bold;font-size:15.2px' fill="#000" text-anchor="start" textLength="121" lengthAdjust="spacingAndGlyphs">B: dye conc (mg/L)</text>
<text x="466.3" y="11" style='font-family:"Liberation Serif",serif;font-weight:bold;font-size:16px' fill="#000" text-anchor="start" textLength="92.7" lengthAdjust="spacingAndGlyphs">Removal (%)</text>
<text x="375.6" y="209.3" style='font-family:"Liberation Serif",serif;font-weight:bold;font-size:15px' fill="#000" text-anchor="start" textLength="122.2" lengthAdjust="spacingAndGlyphs" transform="rotate(-90 375.6 209.3)">B: dye conc (mg/L)</text>
<text x="489.2" y="298.7" style='font-family:"Liberation Serif",serif;font-weight:bold;font-size:15.5px' fill="#000" text-anchor="start" textLength="104.3" lengthAdjust="spacingAndGlyphs">A: dose (mg/L)</text>
<text x="475.2" y="359.2" style='font-family:"Liberation Serif",serif;font-weight:bold;font-size:15px' fill="#000" text-anchor="start" textLength="84.8" lengthAdjust="spacingAndGlyphs">Removal (%)</text>
<text x="375.2" y="553.9" style='font-family:"Liberation Serif",serif;font-weight:bold;font-size:15px' fill="#000" text-anchor="start" textLength="120.7" lengthAdjust="spacingAndGlyphs" transform="rotate(-90 375.2 553.9)">B: dye conc (mg/L)</text>
<text x="492.8" y="628.5" style='font-family:"Liberation Serif",serif;font-weight:bold;font-size:15px' fill="#000" text-anchor="start" textLength="95.4" lengthAdjust="spacingAndGlyphs">A: dose (mg/L)</text>
<text x="471.7" y="694" style='font-family:"Liberation Serif",serif;font-weight:bold;font-size:15.2px' fill="#000" text-anchor="start" textLength="85.9" lengthAdjust="spacingAndGlyphs">Removal (%)</text>
<text x="375.2" y="881.4" style='font-family:"Liberation Serif",serif;font-weight:bold;font-size:15.4px' fill="#000" text-anchor="start" textLength="93.4" lengthAdjust="spacingAndGlyphs" transform="rotate(-90 375.2 881.4)">C: Time (min)</text>
<text x="478.2" y="992.7" style='font-family:"Liberation Serif",serif;font-weight:bold;font-size:15px' fill="#000" text-anchor="start" textLength="121.9" lengthAdjust="spacingAndGlyphs">B: dye conc (mg/L)</text>
<rect x="581.4" y="6.6" width="17.8" height="6" fill="url(#lg254)" stroke="#555" stroke-width="0.3"/>
<text x="562.5" y="11.2" style='font-family:"Liberation Sans",sans-serif;font-size:5px' fill="#3a3aa0" text-anchor="start" textLength="16.8" lengthAdjust="spacingAndGlyphs">52.3611</text>
<text x="600.3" y="11.2" style='font-family:"Liberation Sans",sans-serif;font-size:5px' fill="#b03030" text-anchor="start" textLength="11.7" lengthAdjust="spacingAndGlyphs">96.5</text>
<rect x="582" y="357.5" width="18.2" height="5.9" fill="url(#lg255)" stroke="#555" stroke-width="0.3"/>
<text x="562.8" y="362.3" style='font-family:"Liberation Sans",sans-serif;font-size:5px' fill="#3a3aa0" text-anchor="start" textLength="17.5" lengthAdjust="spacingAndGlyphs">52.3611</text>
<text x="602.5" y="362.3" style='font-family:"Liberation Sans",sans-serif;font-size:5px' fill="#b03030" text-anchor="start" textLength="9.3" lengthAdjust="spacingAndGlyphs">96.5</text>
<rect x="580.8" y="688.9" width="18.7" height="6.3" fill="url(#lg256)" stroke="#555" stroke-width="0.3"/>
<text x="560.9" y="693.7" style='font-family:"Liberation Sans",sans-serif;font-size:5px' fill="#3a3aa0" text-anchor="start" textLength="18.2" lengthAdjust="spacingAndGlyphs">52.3611</text>
<text x="601.3" y="693.7" style='font-family:"Liberation Sans",sans-serif;font-size:5px' fill="#b03030" text-anchor="start" textLength="9.4" lengthAdjust="spacingAndGlyphs">96.5</text>
<rect x="22.2" y="106.1" width="6.7" height="18.7" fill="url(#lv257)"/>
<text x="27.2" y="103.2" style='font-family:"Liberation Sans",sans-serif;font-size:5px' fill="#b03030" text-anchor="start" textLength="9.3" lengthAdjust="spacingAndGlyphs" transform="rotate(-90 27.2 103.2)">96.5</text>
<text x="27.2" y="145.8" style='font-family:"Liberation Sans",sans-serif;font-size:5px' fill="#3a3aa0" text-anchor="start" textLength="18.8" lengthAdjust="spacingAndGlyphs" transform="rotate(-90 27.2 145.8)">52.3611</text>
<rect x="15" y="463.4" width="8.2" height="20.5" fill="url(#lv258)"/>
<text x="20.7" y="461" style='font-family:"Liberation Sans",sans-serif;font-size:5px' fill="#b03030" text-anchor="start" textLength="10.3" lengthAdjust="spacingAndGlyphs" transform="rotate(-90 20.7 461)">96.5</text>
<text x="20.7" y="505.3" style='font-family:"Liberation Sans",sans-serif;font-size:5px' fill="#3a3aa0" text-anchor="start" textLength="19.1" lengthAdjust="spacingAndGlyphs" transform="rotate(-90 20.7 505.3)">52.3611</text>
<rect x="22.2" y="798.7" width="7.2" height="20.3" fill="url(#lv259)"/>
<text x="27.5" y="795.6" style='font-family:"Liberation Sans",sans-serif;font-size:5px' fill="#b03030" text-anchor="start" textLength="10.2" lengthAdjust="spacingAndGlyphs" transform="rotate(-90 27.5 795.6)">96.5</text>
<text x="27.5" y="841.1" style='font-family:"Liberation Sans",sans-serif;font-size:5px' fill="#3a3aa0" text-anchor="start" textLength="19.6" lengthAdjust="spacingAndGlyphs" transform="rotate(-90 27.5 841.1)">52.3611</text></svg></body></html>
